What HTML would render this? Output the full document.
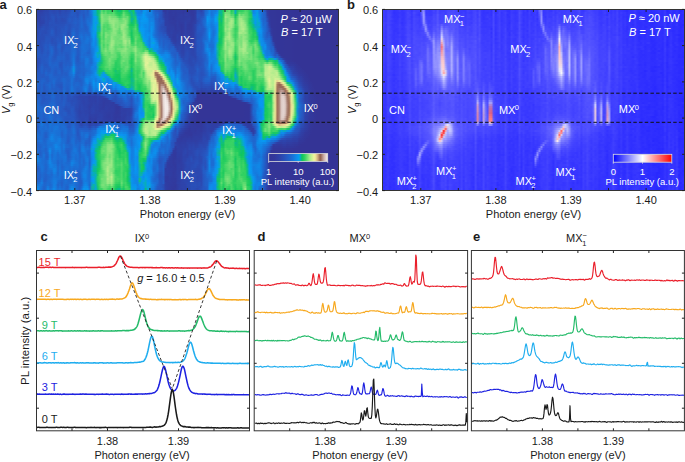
<!DOCTYPE html>
<html><head><meta charset="utf-8"><style>
html,body{margin:0;padding:0;background:#fff;}
body{width:685px;height:462px;position:relative;overflow:hidden;font-family:"Liberation Sans", sans-serif;}
.hm{position:absolute;overflow:hidden;}
.hm div{position:absolute;left:0;width:100%;}
svg{position:absolute;left:0;top:0;}

</style></head><body>
<div class="hm" style="left:37px;top:10px;width:301px;height:180px"><div style="top:0px;height:2px;background:linear-gradient(90deg,#2d43aa 1.0px,#2f3fa6,#2f40a6,#2d44ac,#2c46ae,#2d45ad,#2a4cb5,#2b4ab3,#2c48b0,#2b4bb4,#2a4cb5,#2d44ac,#2a4cb4,#2a4db6,#2c48b0,#2a4db6,#2a4eb7,#255ac3,#245cc5,#2756c0,#2852bc,#2756c0,#235dc6,#255ac3,#2064cc,#2657c1,#1a70d6,#137fe1,#08a1dc,#07a8cf,#0dc465,#1bbf8d,#62dc71,#33d163,#58da6e,#34d262,#3bd364,#29ce60,#3ad364,#26ce5f,#11c564,#0bbe7b,#17c95c,#40d566,#24cd5f,#1bca5d,#08b0b1,#0dbf79,#18ca5d,#0d91dc,#1184e5,#1184e4,#1776db,#0995ee,#0996f0,#1283e4,#1282e3,#1282e3,#1e67cf,#235dc6,#255bc4,#2755bf,#2754bd,#313a9f,#32399d,#2f3ea4,#313a9e,#313a9e,#313b9f,#313a9f,#303ca1,#313ba0,#313ba0,#32399d,#303ca2,#313a9f,#313a9e,#32389c,#313a9e,#303da3,#294fb8,#2a4bb4,#2d44ac,#2951ba,#1f66ce,#1a71d6,#1086e6,#1875d9,#1679dd,#1679dd,#1087e7,#09b59d,#09b794,#20cc5e,#5ddb70,#4fd86a,#74e077,#22cc5f,#3bd365,#08aac3,#1ac66f,#33d162,#30d062,#37d263,#50d86b,#43d567,#2bcf60,#14b99c,#1380e2,#0c90ed,#079bf2,#147ee0,#1a70d6,#2064cc,#2754bc,#313ba0,#333699,#333699,#333699,#333698,#333598,#333598,#333598,#333598,#343597,#343597,#343597,#343597,#343497,#343496,#343496,#343496,#343496,#343496,#343496,#343496,#343496,#343496,#343496,#343496,#343496,#343496,#343496,#343496,#343496,#343496,#343496,#343496,#343496,#343496,#343496 300.0px)"></div><div style="top:2px;height:2px;background:linear-gradient(90deg,#2d43aa 1.0px,#2e42a9,#2e43aa,#2c46ae,#2c48b0,#2c47af,#2a4db6,#2a4db6,#2b4ab3,#2a4bb4,#294fb8,#2c47af,#2a4eb6,#2a4db6,#2a4cb5,#294fb8,#2853bc,#245bc5,#255ac3,#2754bd,#2851ba,#2658c2,#235ec7,#255ac3,#2162ca,#245cc5,#1b6fd5,#147de0,#08a2d5,#07a9ca,#0bbf75,#23c67a,#72df77,#48d668,#68dd73,#3bd464,#4bd769,#41d566,#58da6e,#33d162,#21cc5e,#1ecb5e,#21cc5e,#65dc72,#3bd365,#2bcf61,#14c470,#09b4a0,#19ca5d,#0d9fb9,#1185e5,#1282e3,#1381e3,#089de5,#0c90ec,#1185e5,#1184e5,#1282e3,#1c6bd2,#2161ca,#2162ca,#2658c2,#2754be,#2d44ab,#313a9f,#2f3ea4,#31399e,#313a9f,#303ca1,#32399e,#303ca1,#313ba0,#313ba0,#313a9e,#303da3,#303ca2,#313ba0,#32399d,#313a9f,#303ca2,#2951ba,#294fb8,#2a4bb4,#294fb9,#1c6bd2,#1874d9,#1087e7,#1972d8,#157cdf,#1381e2,#0c8feb,#09b793,#09b59c,#2bcf61,#77e078,#74e077,#70df76,#31d162,#43d567,#08acbd,#22ca66,#55d96d,#46d668,#4dd86a,#5cdb6f,#50d86b,#27ce60,#15c373,#1086e6,#0d8deb,#07a2de,#1281e2,#1973d9,#2065cd,#235fc8,#303da3,#333699,#333699,#333699,#333698,#333598,#333598,#333598,#333598,#343597,#343597,#343597,#343597,#343497,#343496,#343496,#343496,#343496,#343496,#343496,#343496,#343496,#343496,#343496,#343496,#343496,#343496,#343496,#343496,#343496,#343496,#343496,#343496,#343496,#343496,#343496 300.0px)"></div><div style="top:4px;height:2px;background:linear-gradient(90deg,#2e42a9 1.0px,#2d44ab,#2d45ad,#2c46ae,#2b4ab3,#2c47af,#2a4cb5,#2851bb,#294eb7,#2a4db5,#2951ba,#2b4bb4,#294eb8,#294fb8,#2a4eb6,#2951ba,#2657c1,#255bc4,#2559c3,#2658c2,#294fb8,#245dc6,#2260c9,#2755bf,#2162cb,#235ec7,#1c6dd3,#1778dc,#07a4d5,#07abc4,#0aba88,#32cf6a,#8ae47f,#6cde75,#6dde75,#63dc71,#6ede75,#5fdb70,#62dc71,#48d668,#2fd061,#1fcc5e,#3bd364,#73e077,#48d669,#3ad364,#22cc5f,#09b59c,#16c27b,#0cb1a7,#0e8be9,#1087e7,#0e8cea,#069df4,#0d8eeb,#1283e4,#137fe1,#147ee0,#1972d7,#2162ca,#1d6ad1,#2558c2,#2852bc,#2e44aa,#303da2,#303da3,#313a9f,#313a9f,#313ba0,#313a9e,#313ba0,#303ca2,#303da3,#313ba0,#2f3fa5,#303ea4,#303ca2,#313a9e,#32399d,#303ea4,#2754be,#2853bc,#294eb7,#2852bc,#1d6bd1,#137fe1,#0f8ae9,#1875da,#167ade,#0c90ec,#0898f1,#0fc173,#0ab890,#28ce60,#90e681,#80e27c,#80e27c,#50d86b,#59da6e,#0ec172,#27ce60,#85e37d,#5fdb70,#74e077,#60db70,#55d96d,#29ce60,#22cd5f,#0b92ee,#0a94ef,#06a4de,#1087e6,#1874d9,#1f65cd,#2260c9,#2f3ea4,#33369a,#333699,#333699,#333698,#333598,#333598,#333598,#333598,#343597,#343597,#343597,#343597,#343497,#343496,#343496,#343496,#343496,#343496,#343496,#343496,#343496,#343496,#343496,#343496,#343496,#343496,#343496,#343496,#343496,#343496,#343496,#343496,#343496,#343496,#343496 300.0px)"></div><div style="top:6px;height:2px;background:linear-gradient(90deg,#2e42aa 1.0px,#2e43aa,#2b48b1,#2c47af,#2a4cb5,#2c48b1,#2a4cb5,#2853bd,#2853bc,#2b4bb4,#2852bb,#2950b9,#294eb7,#2851bb,#294fb8,#2853bc,#2658c2,#2657c1,#2658c2,#255ac3,#2853bc,#235fc8,#2064cc,#2755be,#2162cb,#1f65cd,#1d6bd1,#1778dc,#089bea,#059ef1,#08b1ab,#30cf65,#92e682,#72df77,#6cde75,#71df76,#8ce580,#77e078,#75e078,#72df77,#51d86b,#34d263,#4dd76a,#6cde75,#5bda6f,#68dd73,#2dd061,#0aba89,#17c17c,#1dc479,#0995ef,#0c8fec,#0b92ee,#079bf3,#0a95ef,#0f88e7,#147de0,#167add,#1777dc,#2163cb,#1f65cd,#2658c1,#2852bc,#2d44ab,#303da3,#303da3,#313a9f,#313a9f,#31399e,#313a9f,#303ca1,#303da2,#303da3,#303ca1,#303da2,#303da3,#303ea3,#313ba0,#313a9f,#303ea3,#2754be,#2852bb,#2853bc,#2559c3,#1c6dd3,#0b90ed,#0d8eeb,#157bde,#137fe1,#0899ef,#06a6d6,#14c46e,#0dbe7c,#29cf60,#a1e987,#8ee581,#87e47e,#72df77,#6ede75,#18c864,#4ad66a,#8ce580,#8ae47f,#81e27c,#6fdf76,#5ada6f,#35d164,#25cc65,#07a6cf,#069eed,#07a4d7,#0d8cea,#1874d9,#1f66ce,#2261c9,#2d45ac,#32389c,#333699,#333699,#333698,#333598,#333598,#333598,#333598,#343597,#343597,#343597,#343597,#343497,#343496,#343496,#343496,#343496,#343496,#343496,#343496,#343496,#343496,#343496,#343496,#343496,#343496,#343496,#343496,#343496,#343496,#343496,#343496,#343496,#343496,#343496 300.0px)"></div><div style="top:8px;height:2px;background:linear-gradient(90deg,#2d43ab 1.0px,#2e42aa,#2c47af,#2c46ae,#2a4db6,#2b49b1,#2a4bb4,#2951ba,#2854bd,#2b49b2,#294fb9,#294fb8,#2b4bb3,#2a4db6,#294fb8,#2656c0,#245cc5,#2658c1,#255ac3,#235ec7,#2757c0,#225fc8,#1f66ce,#2658c1,#2063cb,#1c6bd2,#1c6cd2,#157ade,#089edf,#069dee,#08afb4,#27ce60,#8be47f,#79e179,#72df77,#78e079,#97e783,#85e37d,#8de580,#85e37d,#7ae17a,#55d96d,#64dc72,#87e47e,#76e078,#66dd73,#34d163,#09b2a6,#0fbc88,#29ce60,#089be9,#0e8ae9,#0a94ef,#079cea,#0799f2,#0b91ed,#137fe1,#1381e2,#157bde,#2260c9,#2260c9,#2754be,#2853bc,#2b4ab2,#303ea4,#303ea4,#313a9f,#313a9f,#32389c,#313b9f,#303ca1,#303ca1,#303ca2,#303ca2,#2f3ea4,#303ea4,#2f3fa6,#313b9f,#313a9f,#2f3ea4,#2950b9,#2950ba,#2658c1,#2260c9,#1c6cd3,#0996f0,#0c8fec,#1283e4,#1183e4,#059ff2,#07a7d3,#14c85c,#0dbd7f,#34d163,#92e682,#78e079,#8de580,#9ee986,#8ee581,#2ed061,#56d96d,#9ce885,#a3e988,#81e27c,#6bde74,#57d96e,#27ce60,#14c46c,#07acbf,#06a3df,#07a7d2,#0b96e6,#1a71d7,#2063cb,#2163cb,#2a4db5,#32399d,#333699,#333699,#333698,#333598,#333598,#333598,#333598,#343597,#343597,#343597,#343597,#343497,#343496,#343496,#343496,#343496,#343496,#343496,#343496,#343496,#343496,#343496,#343496,#343496,#343496,#343496,#343496,#343496,#343496,#343496,#343496,#343496,#343496,#343496 300.0px)"></div><div style="top:10px;height:2px;background:linear-gradient(90deg,#2d44ac 1.0px,#2e42a9,#2d44ac,#2d44ac,#2a4cb5,#2b49b2,#294fb8,#2950b9,#2853bc,#2b49b2,#294fb8,#294fb8,#2a4bb4,#2a4cb5,#2a4eb6,#2657c0,#245cc6,#2756c0,#245cc5,#235dc7,#255bc4,#2260c9,#1f67ce,#245cc6,#2064cc,#1a71d7,#1c6cd2,#157ade,#08a0dd,#079cec,#07a8cd,#1ec966,#87e47e,#77e079,#6dde75,#68dd73,#96e783,#94e683,#99e784,#8ce580,#86e37e,#6ade74,#6cde75,#7be17a,#8be47f,#67dd73,#33d163,#0bb892,#18c66a,#29cf60,#09aab9,#0c8fec,#079af2,#0898f1,#0897f1,#0a93ee,#1281e3,#1283e4,#1380e1,#1f65cd,#235ec7,#2754be,#2657c1,#2951ba,#2f3fa5,#2f3ea4,#313ba1,#303ca1,#313ba0,#313a9f,#303da3,#313ba1,#303da2,#303da2,#2f3fa5,#303ea4,#303ea3,#313a9f,#303ca1,#2f3fa5,#2b4bb4,#2951ba,#2658c2,#1f66ce,#1c6dd3,#0a94ef,#0d8cea,#1381e3,#1283e4,#069df1,#069feb,#19ca5d,#0abd7c,#38d364,#91e682,#77e079,#8fe581,#aceb8b,#99e784,#34d262,#5cdb6f,#99e784,#a8ea89,#99e784,#77e079,#55d86e,#24cd5f,#14bd8c,#08b1ad,#079bef,#07a9cb,#079ee6,#157cde,#1f66ce,#1e67cf,#2a4eb6,#313ba0,#333699,#333699,#333698,#333598,#333598,#333598,#333598,#343597,#343597,#343597,#343597,#343497,#343496,#343496,#343496,#343496,#343496,#343496,#343496,#343496,#343496,#343496,#343496,#343496,#343496,#343496,#343496,#343496,#343496,#343496,#343496,#343496,#343496,#343496 300.0px)"></div><div style="top:12px;height:2px;background:linear-gradient(90deg,#2c48b0 1.0px,#2e42a9,#2d43ab,#2d44ac,#2a4db6,#2b49b2,#2853bc,#2950b9,#2852bb,#2a4db6,#294eb7,#294fb8,#294eb7,#294fb8,#2950b9,#2756bf,#2657c1,#2659c2,#235dc6,#2260c9,#255ac4,#2260c8,#1e68d0,#225fc8,#2163cb,#1971d7,#1972d8,#167add,#07a0e0,#0996f0,#06a6d6,#12c07a,#87e47e,#69dd74,#5bdb6f,#5edb70,#88e47e,#95e683,#99e784,#85e37d,#83e37d,#74e078,#75e078,#83e37d,#8fe581,#64dc72,#2ecf62,#0dc16f,#18c56e,#30d061,#0db1a7,#0e8cea,#0998eb,#0995ef,#0a94ef,#0b91ed,#1283e4,#0e8cea,#1184e4,#1f66ce,#235fc7,#2657c1,#2754be,#294fb8,#2f3ea4,#303ea4,#303ca2,#313ba0,#313b9f,#313ba0,#303ea4,#313ba0,#313ba1,#303ca1,#2e41a8,#303ea3,#313ca1,#313ba0,#303ea4,#2f3fa5,#294fb8,#2853bd,#2659c2,#2065cd,#1a70d5,#0d8deb,#0f89e8,#157cdf,#1283e4,#0a93ee,#0995f0,#18c95d,#0ec36a,#39d364,#82e37c,#7be17a,#a3e988,#a9eb8a,#97e784,#2dd061,#5edb70,#99e784,#b0ec8c,#a4ea88,#86e37e,#5dda70,#1dcb5d,#14c373,#08b0b0,#0898f1,#08a6cc,#07a8c9,#1184e4,#1f67ce,#1e69d0,#255ac4,#303da3,#333699,#333699,#333698,#333598,#333598,#333598,#333598,#343597,#343597,#343597,#343597,#343497,#343496,#343496,#343496,#343496,#343496,#343496,#343496,#343496,#343496,#343496,#343496,#343496,#343496,#343496,#343496,#343496,#343496,#343496,#343496,#343496,#343496,#343496 300.0px)"></div><div style="top:14px;height:2px;background:linear-gradient(90deg,#2b4ab3 1.0px,#2e43aa,#2c47af,#2b4bb4,#2b4bb4,#2b4ab3,#2851ba,#294fb8,#2851bb,#2851bb,#2951ba,#2950ba,#2851ba,#2951ba,#2756c0,#2755be,#2852bb,#2657c1,#255bc4,#245dc6,#2658c2,#2260c8,#1d6ad1,#235ec7,#225fc8,#1c6dd3,#1875da,#137fe1,#08a1da,#079af2,#08b0ae,#10b89a,#83e37d,#4dd86a,#59da6e,#47d668,#6bde74,#86e37e,#9de886,#79e179,#83e37d,#77e078,#91e682,#9ce885,#8ae47f,#55d96d,#20cc5e,#14c85c,#1bc965,#41d567,#11c271,#0e8cea,#0897f1,#0b91ed,#0d8cea,#0c8fec,#1184e5,#0f89e8,#1185e5,#1e68cf,#235ec7,#2657c0,#2950b9,#294fb8,#2f3ea4,#2f3fa5,#303da3,#303da2,#303ca1,#313a9e,#2f3ea4,#313ba0,#31399e,#313ba1,#2e41a8,#303ca1,#313a9f,#313ba0,#2f3fa6,#2c47af,#2852bb,#2559c3,#2657c1,#2063cb,#1972d7,#1087e7,#1185e6,#1679dd,#147ee0,#0e8cea,#0b92ee,#17c95c,#12c662,#3dd465,#88e47e,#87e47e,#a2e987,#a6ea89,#89e47f,#46d668,#59da6e,#99e784,#b1ec8c,#a3e988,#9ae885,#5cda70,#2ed061,#1bc475,#0abb86,#0a9cda,#08a6ca,#06a4dd,#1185e5,#1d69d0,#1c6cd3,#2658c2,#2f40a6,#333699,#333699,#333698,#333598,#333598,#333598,#333598,#343597,#343597,#343597,#343597,#343497,#343496,#343496,#343496,#343496,#343496,#343496,#343496,#343496,#343496,#343496,#343496,#343496,#343496,#343496,#343496,#343496,#343496,#343496,#343496,#343496,#343496,#343496 300.0px)"></div><div style="top:16px;height:2px;background:linear-gradient(90deg,#2b4ab3 1.0px,#2c46af,#2a4bb4,#294fb8,#2a4cb4,#2a4db6,#2950b9,#2852bb,#2851ba,#2a4eb6,#2851ba,#2852bc,#2852bc,#2853bd,#255ac4,#2756bf,#2852bb,#2658c2,#255bc4,#255bc4,#255bc4,#2260c8,#1d6ad1,#2261c9,#245cc5,#1f66ce,#1875d9,#1185e6,#08a0d9,#069bf3,#09b794,#0bb797,#79e179,#43d567,#53d96c,#4bd769,#5fdb70,#83e37d,#95e783,#7ae17a,#88e47e,#6ede75,#9be885,#94e683,#82e37c,#72df77,#28ce60,#24cd5f,#2ccf61,#4dd76b,#16c279,#0c8fec,#079af2,#0a93ee,#0e8bea,#0d8eeb,#1282e4,#0c90ec,#1185e5,#1d69d0,#235dc7,#2755be,#294eb7,#2a4cb4,#2c48b0,#2f3fa5,#303ea4,#303ea3,#303ea3,#313a9f,#303da3,#303ca1,#32399d,#313ba0,#2e41a8,#313ca1,#313ba0,#313ba0,#2f40a7,#2c46ae,#2755bf,#255bc4,#2659c3,#245dc6,#1c6cd2,#1380e2,#1086e6,#1679dd,#1678dc,#1086e6,#0a94ef,#1aca5d,#18c95e,#35d263,#92e682,#7ee27b,#9be885,#a3e988,#7fe27b,#3fd465,#48d669,#92e682,#a9eb8a,#abeb8a,#96e783,#6bde74,#36d263,#1fcb61,#09b892,#0cabb3,#08a7ca,#09a5c7,#1185e5,#1a70d6,#1d6ad1,#255ac4,#2d46ad,#333699,#333699,#333698,#333598,#333598,#333598,#333598,#343597,#343597,#343597,#343597,#343497,#343496,#343496,#343496,#343496,#343496,#343496,#343496,#343496,#343496,#343496,#343496,#343496,#343496,#343496,#343496,#343496,#343496,#343496,#343496,#343496,#343496,#343496 300.0px)"></div><div style="top:18px;height:2px;background:linear-gradient(90deg,#2a4cb4 1.0px,#2a4bb4,#2950b9,#2950b9,#2a4cb5,#294eb7,#2951ba,#2756c0,#2852bb,#2a4cb5,#2853bc,#2950b9,#2756bf,#2754be,#255bc4,#2755bf,#2852bb,#245bc5,#2261c9,#2559c3,#2559c3,#2162ca,#2064cc,#2162ca,#235ec7,#2162cb,#1776db,#1087e7,#08a3d2,#0899f2,#09b4a0,#0eb2a8,#72df77,#47d668,#61dc71,#47d668,#50d86b,#70df76,#98e784,#8de580,#7ee27b,#5cdb6f,#9ce885,#8ee581,#78e179,#61dc71,#33d162,#23cd5f,#3ed367,#5bda6f,#1dcb5e,#0899ef,#079bf3,#0898f1,#0b91ed,#0d8deb,#1283e4,#0b92ee,#1184e5,#1d6ad1,#235dc6,#2755bf,#294fb8,#2a4eb7,#2b49b2,#2f3ea4,#2f3ea5,#303ea4,#2f3fa5,#313a9f,#303da3,#303da3,#31399e,#313ba1,#2f40a7,#303ca1,#313ba0,#313ca1,#2f40a6,#2c46ae,#2756c0,#255ac4,#2559c3,#2658c2,#2063cb,#157bde,#0d8deb,#157cdf,#1778dc,#1381e2,#0996ef,#16c95d,#17c95c,#35d263,#9ee886,#8be580,#aceb8b,#8de580,#5fdb70,#2ed061,#40d467,#96e783,#abeb8b,#b4ed8d,#9ae885,#76e078,#3cd365,#29ce60,#12c567,#16b5aa,#07a7cd,#089ee1,#0e8cea,#1874d9,#1d6bd2,#235dc6,#2a4db5,#313a9e,#333699,#333698,#333598,#333598,#333598,#333598,#343597,#343597,#343597,#343597,#343497,#343496,#343496,#343496,#343496,#343496,#343496,#343496,#343496,#343496,#343496,#343496,#343496,#343496,#343496,#343496,#343496,#343496,#343496,#343496,#343496,#343496,#343496 300.0px)"></div><div style="top:20px;height:2px;background:linear-gradient(90deg,#2b4ab2 1.0px,#294fb8,#2a4eb7,#2a4db6,#2a4cb5,#2851ba,#2852bb,#245cc5,#2755bf,#2a4cb5,#2852bb,#2950b9,#2755bf,#2755bf,#2658c2,#2852bb,#2851bb,#225fc8,#2065cd,#245bc5,#255ac4,#2063cb,#1f65cd,#1f65cd,#2161ca,#2063cc,#1875da,#0f88e8,#0a96e9,#079af2,#0ab890,#13bc8e,#73e077,#46d668,#5bdb6f,#57da6d,#66dd72,#71df76,#92e682,#83e37d,#6ede75,#5ddb6f,#84e37d,#96e783,#85e37d,#63dc72,#40d466,#17c66b,#3bd266,#4cd769,#2dcf61,#08a5cf,#069cef,#0799f2,#0d8deb,#0e8bea,#1380e1,#0a93ef,#1380e2,#1d6bd2,#2260c8,#2756c0,#2852bc,#294fb8,#2b49b1,#2f3fa5,#2f3ea4,#2f40a6,#2f3ea4,#303ca2,#303da2,#303ea3,#32399d,#313ba0,#2e40a7,#303da3,#303da2,#303ca2,#2f40a7,#2c47af,#2756c0,#2657c1,#2756c0,#2658c2,#2064cc,#157bde,#0c90ec,#137fe1,#1972d8,#147de0,#0897ef,#15c95c,#18ca5d,#36d263,#91e682,#83e37d,#9ee986,#7ee27b,#5fdb70,#37d264,#45d668,#99e784,#9ce885,#a9eb8a,#8ce580,#72df77,#3ed465,#38d264,#1bc963,#1ec672,#07a7d2,#0898f1,#0a93ef,#1678dc,#1c6bd2,#245dc6,#2b4bb3,#313a9f,#333699,#333698,#333598,#333598,#333598,#333598,#343597,#343597,#343597,#343597,#343497,#343496,#343496,#343496,#343496,#343496,#343496,#343496,#343496,#343496,#343496,#343496,#343496,#343496,#343496,#343496,#343496,#343496,#343496,#343496,#343496,#343496,#343496 300.0px)"></div><div style="top:22px;height:2px;background:linear-gradient(90deg,#2c47b0 1.0px,#2851bb,#2a4db6,#2a4db6,#2a4bb4,#2950b9,#2853bd,#245dc6,#2755be,#2a4db6,#2852bc,#2852bb,#2754be,#2658c1,#255ac3,#294eb7,#294fb8,#2065cc,#1c6cd2,#235dc7,#245bc5,#1e68cf,#1e69d0,#2065cd,#1e68d0,#2064cc,#1c6dd3,#0e8ae9,#099ae7,#0a94ef,#0cc071,#23ca69,#7ae179,#42d566,#7ee27b,#62dc71,#65dc72,#82e37c,#8ee581,#8ee581,#67dd73,#56d96d,#76e078,#9fe986,#81e27c,#69dd74,#37d263,#12c661,#39d264,#46d668,#37d264,#12bd86,#079fe5,#0899f2,#0d8eeb,#0c8fec,#1088e7,#0b91ed,#157cdf,#1c6cd2,#2161ca,#255ac3,#2658c2,#2951ba,#2950b9,#2e41a7,#2f3fa6,#2e41a8,#303ea4,#303da2,#2f3ea4,#2f3fa5,#313a9e,#303ca2,#2f40a7,#303ea3,#303da3,#303da3,#2f3fa5,#2c49b1,#2755be,#2754be,#2755bf,#255bc4,#1f67ce,#167add,#0799f2,#147de0,#1a71d6,#147ddf,#099ae6,#1dcb5d,#14c85c,#2dd061,#7de27b,#90e681,#afeb8b,#83e37d,#65dc72,#39d364,#53d86c,#a7ea89,#a6ea89,#99e784,#9be885,#7ce17a,#3ed466,#3fd466,#22cc5f,#27ce60,#08b1ac,#0b92ee,#0a93ef,#1973d8,#1d6ad1,#2756bf,#2657c1,#313ba0,#333699,#333698,#333598,#333598,#333598,#333598,#343597,#343597,#343597,#343597,#343497,#343496,#343496,#343496,#343496,#343496,#343496,#343496,#343496,#343496,#343496,#343496,#343496,#343496,#343496,#343496,#343496,#343496,#343496,#343496,#343496,#343496,#343496 300.0px)"></div><div style="top:24px;height:2px;background:linear-gradient(90deg,#2b4ab3 1.0px,#2950b9,#2a4cb5,#294fb8,#2950b9,#2951ba,#2754bd,#2558c2,#2756bf,#294fb8,#2852bb,#2754be,#2755be,#245dc6,#2559c3,#2a4eb7,#294fb8,#2064cc,#1b6dd4,#235ec7,#245cc5,#1c6cd3,#1b6ed5,#1f66ce,#1b6dd4,#1d6ad1,#1d69d0,#0e8ae8,#0898f1,#0d8eeb,#0dbd81,#33d163,#73df77,#3cd464,#81e37c,#77e078,#6bde74,#86e37e,#88e47f,#83e37d,#6ede75,#6cde75,#6bde74,#a2e988,#8de580,#60db70,#3cd465,#13c663,#3bd366,#4cd76a,#41d566,#23cd5f,#07a8cd,#0897f1,#0d8eeb,#0a94ef,#0e8cea,#0b91ed,#1678dc,#1d6ad1,#2162ca,#245cc5,#245cc6,#2755bf,#2559c3,#2c46ae,#2f3fa5,#2f40a6,#303da3,#303da3,#2e41a8,#2f3fa5,#313a9e,#2f3ea5,#2e41a9,#2f40a6,#303ea4,#303da3,#2f3fa6,#2a4bb4,#2852bb,#2754be,#2754be,#235ec7,#1e68cf,#1679dc,#0899f2,#157bde,#1a70d6,#1381e3,#099eda,#20cc5e,#12c85c,#2ed061,#7de27b,#8de580,#b2ec8d,#85e37d,#57da6d,#31d162,#4fd76c,#95e683,#88e47e,#93e682,#80e27c,#74e077,#4ed86a,#39d264,#20cc5e,#31d162,#0ab69c,#0e8be9,#0c8fec,#1874d9,#1f67ce,#2559c2,#245cc6,#2f40a7,#333699,#333698,#333598,#333598,#333598,#333598,#343597,#343597,#343597,#343597,#343497,#343496,#343496,#343496,#343496,#343496,#343496,#343496,#343496,#343496,#343496,#343496,#343496,#343496,#343496,#343496,#343496,#343496,#343496,#343496,#343496,#343496,#343496 300.0px)"></div><div style="top:26px;height:2px;background:linear-gradient(90deg,#2a4db6 1.0px,#294eb7,#2a4db6,#2a4db6,#2754bd,#2854bd,#2853bd,#2852bc,#2853bd,#2852bb,#2755be,#2853bd,#2755bf,#2260c9,#245bc4,#294eb7,#2755be,#2065cd,#1c6bd2,#245bc5,#245cc5,#1c6cd2,#1974d9,#1e68cf,#1a70d6,#1972d7,#1b6ed4,#1184e4,#0799f2,#0f89e8,#0ebc88,#27ce60,#67dd73,#3dd465,#88e47e,#67dd73,#66dd73,#92e682,#7ee27b,#72df77,#75e078,#6dde75,#7fe27b,#a5ea89,#8be47f,#71df77,#5ddb70,#11c75e,#35d164,#5edb70,#49d768,#35d263,#08b0af,#079af2,#0b92ee,#0b91ed,#1185e6,#0996f0,#1380e2,#1b6ed4,#1f66ce,#235fc8,#225fc8,#255ac4,#2657c1,#2657c0,#2e41a8,#2f3fa6,#303ca2,#303da2,#2d43ab,#2f3ea5,#303ca2,#2f40a6,#2e42aa,#2f3fa6,#303ca1,#303ea4,#2f40a7,#2c48b0,#2852bc,#2853bc,#2657c1,#2261c9,#1e69d0,#1875da,#0898f1,#1679dd,#1973d8,#1088e7,#099fd9,#1aca5d,#12c85b,#39d364,#8fe581,#a1e987,#b3ec8d,#8de580,#5fdb70,#37d263,#50d86c,#8fe581,#7ae17a,#98e784,#91e682,#78e179,#4cd769,#32d162,#22cc5f,#29ce60,#10c469,#0e8cea,#0d8dea,#1776da,#2065cd,#245bc5,#2261c9,#294fb6,#333699,#333698,#333598,#333598,#333598,#333598,#343597,#343597,#343597,#343597,#343497,#343496,#343496,#343496,#343496,#343496,#343496,#343496,#343496,#343496,#343496,#343496,#343496,#343496,#343496,#343496,#343496,#343496,#343496,#343496,#343496,#343496,#343496 300.0px)"></div><div style="top:28px;height:2px;background:linear-gradient(90deg,#294fb8 1.0px,#2a4db6,#2a4db6,#2a4db6,#2755be,#2755bf,#2755be,#294fb8,#2851ba,#2853bc,#2658c2,#2754bd,#2755be,#2063cb,#2559c2,#2853bc,#235dc6,#1f66ce,#1f66ce,#245dc6,#2559c3,#2064cc,#1973d8,#1e69d0,#1a70d6,#1778dc,#1a6fd5,#157bde,#0996f0,#1185e6,#0bafaf,#1ccb5d,#61dc71,#41d566,#73df77,#66dd73,#66dd73,#95e783,#7fe27b,#75e078,#6bde74,#76e078,#82e37c,#9ae885,#94e682,#80e27c,#7ae17a,#17c768,#2ccf61,#6dde75,#41d566,#34d262,#18c17f,#069cf0,#0999e8,#0b92ee,#1281e3,#089be9,#0b92ee,#157bde,#1c6cd2,#2162ca,#2163cb,#225fc8,#245dc6,#2559c3,#2951ba,#2f40a7,#303da3,#303da3,#2e41a9,#2f3fa6,#303ea3,#2f3fa6,#2d43ab,#2f3ea4,#313ba1,#2f40a6,#2e40a7,#2b49b1,#2754be,#2755bf,#2559c2,#1f65cd,#1e68cf,#1974d9,#0d8eeb,#1874d9,#1777db,#0f88e8,#099fd8,#0ec560,#12c662,#46d668,#9ee986,#96e783,#aeec8b,#90e681,#76e078,#3dd465,#5bdb6f,#84e37d,#7fe27b,#97e784,#89e47f,#71df76,#50d86b,#35d164,#28ce60,#38d264,#16c85e,#0a93ee,#0c8fec,#137fe1,#1d69d0,#2163cb,#1e67cf,#2754bd,#32379b,#333698,#333598,#333598,#333598,#333598,#343597,#343597,#343597,#343597,#343497,#343496,#343496,#343496,#343496,#343496,#343496,#343496,#343496,#343496,#343496,#343496,#343496,#343496,#343496,#343496,#343496,#343496,#343496,#343496,#343496,#343496,#343496 300.0px)"></div><div style="top:30px;height:2px;background:linear-gradient(90deg,#294fb8 1.0px,#2a4cb5,#2950b9,#294fb8,#2657c0,#2755bf,#2755bf,#2a4db6,#2852bb,#2852bb,#2658c2,#2755be,#2755bf,#2162cb,#255ac4,#2853bd,#1f66ce,#1d6ad1,#2162cb,#2162ca,#245dc6,#235ec7,#1b6ed4,#1c6cd2,#1973d8,#1874d9,#1b6dd4,#157bde,#0c90ed,#1185e5,#0ba4bf,#18c95e,#70df76,#4ed86a,#79e179,#5fdb70,#6edf76,#9de886,#96e783,#70df76,#74e078,#6cde75,#6bde74,#a0e987,#a7ea89,#82e37c,#94e683,#1ecb5e,#2dd061,#65dc72,#3ad364,#3bd365,#2ccf62,#06a1e7,#079af2,#0d8dea,#1380e2,#089aec,#079af3,#0f89e8,#1874d9,#2161ca,#1f67ce,#245dc6,#2161ca,#235dc6,#255bc4,#2d45ad,#2f40a6,#303da3,#2e42a9,#2e41a9,#2f40a7,#2f3fa5,#2e42aa,#303ea4,#303da2,#2e40a7,#2e41a8,#2b49b2,#2658c1,#2558c1,#2558c1,#1e68cf,#1973d8,#1875da,#1184e5,#1a70d6,#167add,#1087e7,#079dea,#0ec562,#16c668,#45d668,#92e682,#82e37c,#9ce886,#93e682,#7be17a,#41d566,#6cde75,#84e37d,#78e179,#9de886,#93e682,#84e37d,#3ed465,#2ccf61,#30d162,#4ad769,#33d163,#08a3d1,#0d8eeb,#0f88e7,#1a71d7,#1d6ad1,#1e68d0,#245bc4,#31399e,#333698,#333598,#333598,#333598,#333598,#343597,#343597,#343597,#343597,#343497,#343496,#343496,#343496,#343496,#343496,#343496,#343496,#343496,#343496,#343496,#343496,#343496,#343496,#343496,#343496,#343496,#343496,#343496,#343496,#343496,#343496,#343496 300.0px)"></div><div style="top:32px;height:2px;background:linear-gradient(90deg,#2950b9 1.0px,#2a4cb5,#2851ba,#2852bb,#2657c1,#2754be,#2659c2,#294fb8,#2852bb,#294fb8,#2559c3,#255ac4,#2755bf,#245bc5,#2559c3,#2755bf,#2064cc,#1c6cd3,#2163cb,#2260c9,#235fc7,#255ac3,#1c6cd3,#1b6ed4,#1972d7,#1972d8,#1e69d0,#1381e2,#0c8fec,#1183e4,#09a7bd,#19c767,#65dd72,#4dd76a,#70df76,#66dd73,#78e179,#a1e987,#96e783,#70df76,#76e078,#75e078,#6fdf76,#98e784,#a6e988,#76e078,#94e683,#2dcf61,#3ad364,#77e078,#3fd465,#48d668,#44d567,#17c082,#079deb,#0b91ed,#1283e4,#079fe8,#06a4dc,#0b91ed,#137fe1,#2064cc,#1d69d0,#235ec7,#2161ca,#2260c9,#235ec7,#2951ba,#2e42a9,#2f40a6,#2d43ab,#2e42a9,#2e42a9,#2e41a8,#2d45ad,#2e41a7,#2f3fa5,#2e41a8,#2e42aa,#2b49b2,#2656c0,#2657c1,#2756bf,#2063cb,#1778dc,#157cdf,#1778dc,#1a71d7,#1776da,#0f88e7,#08abbf,#0dc561,#17c56d,#46d668,#a8ea8a,#7ce17a,#90e681,#9be885,#94e683,#53d96c,#65dd72,#89e47f,#77e079,#a7ea89,#a2e988,#7de27b,#59da6e,#3cd365,#44d667,#64dc72,#4bd769,#10b1aa,#0c8fec,#0d8dea,#147ddf,#1c6cd3,#1e68cf,#245cc5,#2c49b0,#333698,#333598,#333598,#333598,#333598,#343597,#343597,#343597,#343597,#343497,#343496,#343496,#343496,#343496,#343496,#343496,#343496,#343496,#343496,#343496,#343496,#343496,#343496,#343496,#343496,#343496,#343496,#343496,#343496,#343496,#343496,#343496 300.0px)"></div><div style="top:34px;height:2px;background:linear-gradient(90deg,#2852bc 1.0px,#294eb7,#2950b9,#2755bf,#255ac4,#2657c1,#235ec7,#2756c0,#2755be,#294fb8,#245dc6,#2260c8,#2756bf,#2754be,#2658c2,#2755bf,#235fc7,#1c6cd3,#1f66ce,#2161ca,#245dc6,#225fc8,#1a6fd5,#1b6fd5,#1c6dd3,#1c6dd3,#1f67ce,#1283e4,#0c8eec,#1283e4,#09a4c7,#19c477,#70df76,#3bd364,#6dde75,#4dd86a,#7fe27b,#a6ea89,#8de580,#67dd73,#74e078,#5ddb6f,#69dd74,#8ae47f,#96e683,#78e179,#7fe27b,#47d668,#46d668,#68dd73,#42d567,#4cd76a,#48d668,#2ed061,#07abc3,#0c90ec,#1380e2,#069df3,#079bf1,#0d8eeb,#0f89e8,#1f67ce,#1d6bd2,#235ec7,#2064cc,#2162ca,#245cc5,#2559c2,#294fb8,#2e42aa,#2d45ad,#2d44ab,#2e43aa,#2e42aa,#2c48b0,#2d43ab,#2e41a8,#2d43ab,#2d44ac,#2b4ab3,#2754be,#2658c2,#2657c0,#235ec7,#1876da,#1184e5,#1a70d6,#1b6fd5,#1a71d7,#0f8ae8,#0bb798,#10c75b,#1eca63,#51d86b,#a2e987,#77e078,#88e47e,#9fe986,#99e885,#4dd86a,#65dd72,#8ee580,#7ae179,#abeb8b,#a8ea89,#87e47e,#5edb70,#56d96d,#55d96d,#7de17a,#4fd86b,#1cc477,#0b92ee,#0f8ae9,#0d8eeb,#1b6fd5,#1e67cf,#2261c9,#294eb5,#32389c,#333598,#333598,#333598,#333598,#343597,#343597,#343597,#343597,#343497,#343496,#343496,#343496,#343496,#343496,#343496,#343496,#343496,#343496,#343496,#343496,#343496,#343496,#343496,#343496,#343496,#343496,#343496,#343496,#343496,#343496,#343496 300.0px)"></div><div style="top:36px;height:2px;background:linear-gradient(90deg,#2754be 1.0px,#2950b9,#294eb8,#2656c0,#245dc6,#2755bf,#2161ca,#2260c9,#2659c2,#2851ba,#2260c9,#2161ca,#2851bb,#2755bf,#245cc5,#245cc5,#245cc5,#1c6bd2,#1e68cf,#2163cb,#245bc5,#2064cc,#1a70d6,#1a70d6,#1b6ed4,#1c6cd3,#1e69d0,#147de0,#1088e7,#0f8ae9,#08a2d6,#10bc89,#6dde75,#45d667,#6ede75,#5ada6f,#86e47e,#9ae885,#7ce17a,#5ddb6f,#67dd73,#67dd73,#5ada6f,#75e078,#8ce580,#67dd73,#76e078,#63dc71,#68dd73,#8be47f,#4fd86b,#48d668,#50d86b,#38d363,#27c973,#08a4d0,#1185e5,#0799f2,#0996f0,#0c8fec,#0b91ed,#1a71d6,#1d6bd2,#2161ca,#1e68cf,#2162ca,#245dc6,#245dc6,#225fc8,#2b49b1,#2c46ae,#2c48b0,#2d44ab,#2e41a9,#2b4bb3,#2c46ae,#2e43aa,#2d44ac,#2c46af,#2b48b1,#2754be,#2658c1,#2755be,#235ec7,#1778db,#1185e6,#1874d9,#1b6fd5,#1b6fd5,#0e8ce9,#10b994,#18c95c,#29ce60,#5ada6e,#9be885,#85e37e,#97e784,#94e682,#90e681,#40d466,#59da6e,#99e784,#81e27c,#a6ea89,#abeb8b,#7fe27b,#65dd72,#74e077,#46d667,#7de17a,#5fdb70,#33d163,#0aa5bd,#1087e7,#0995ef,#1973d8,#1c6cd2,#2260c9,#235fc8,#313a9f,#333598,#333598,#333598,#333598,#343597,#343597,#343597,#343597,#343497,#343496,#343496,#343496,#343496,#343496,#343496,#343496,#343496,#343496,#343496,#343496,#343496,#343496,#343496,#343496,#343496,#343496,#343496,#343496,#343496,#343496,#343496 300.0px)"></div><div style="top:38px;height:2px;background:linear-gradient(90deg,#2658c1 1.0px,#2754be,#2a4eb7,#2755bf,#255bc4,#2658c1,#2260c9,#1f66cd,#2559c2,#2951ba,#235dc6,#235ec7,#2852bb,#2657c1,#235dc7,#245dc6,#245dc6,#1d69d0,#1d6ad1,#1f65cd,#2559c3,#2064cc,#1b6ed4,#1a71d6,#1b6dd4,#1c6cd2,#1f66ce,#157ade,#1381e2,#0d8eeb,#079ee7,#0fb994,#66dd73,#55d96d,#7fe27b,#5ada6e,#89e47f,#8ee580,#82e37c,#5edb70,#78e079,#7ae17a,#79e179,#84e37d,#96e783,#7ae179,#68dd73,#61dc71,#7ce17a,#95e783,#62dc71,#57da6d,#54d96c,#40d565,#41d467,#19c571,#08a4d2,#08b0ad,#0b91ed,#0c8eeb,#0e8be9,#167add,#1a71d7,#1e67cf,#1d69d0,#1f66ce,#225fc8,#2162cb,#2161ca,#2755be,#2c47af,#2b49b1,#2d44ac,#2e43aa,#2b49b1,#2b49b1,#2c46ae,#2d45ad,#2d45ad,#2b49b1,#2657c0,#2756c0,#2756bf,#235ec7,#157bde,#0d8dea,#1283e4,#1972d7,#1874d9,#0d8deb,#15b7a4,#17c95c,#32d162,#60db70,#9ae885,#83e37d,#a1e987,#9be885,#88e47e,#3fd566,#56d96d,#9ce885,#9ce885,#b0ec8c,#a5ea89,#7ee27b,#77e079,#7ae179,#3ed466,#73e077,#70df76,#3fd466,#0eb0a6,#1087e7,#0d8eeb,#1875da,#1c6dd3,#2260c8,#1f65cd,#2d44ab,#333598,#333598,#333598,#333598,#343597,#343597,#343597,#343597,#343497,#343496,#343496,#343496,#343496,#343496,#343496,#343496,#343496,#343496,#343496,#343496,#343496,#343496,#343496,#343496,#343496,#343496,#343496,#343496,#343496,#343496,#343496 300.0px)"></div><div style="top:40px;height:2px;background:linear-gradient(90deg,#255ac3 1.0px,#2657c1,#294eb7,#2657c1,#245cc5,#2755bf,#225fc8,#1d69d0,#245bc5,#2852bb,#255bc4,#235ec7,#2853bd,#235dc6,#235fc8,#235ec7,#235ec7,#1f67ce,#1d6bd2,#1f66ce,#2659c3,#2261c9,#1c6dd3,#1b6ed4,#1b6fd5,#1e67cf,#2064cc,#1777db,#1380e2,#0a93ed,#069feb,#0ab698,#61dc71,#63dc71,#88e47e,#67dd73,#76e078,#89e47f,#78e079,#62dc71,#65dd72,#70df76,#85e37d,#8de580,#8ce580,#71df77,#6cde75,#5edb70,#74e077,#9ae885,#68dd73,#5fdb70,#54d96c,#43d667,#71df77,#5fdb70,#0cc26c,#14c178,#08aeb5,#089aea,#1185e5,#157bde,#1874d9,#1b6ed4,#1776db,#1a71d6,#1e68cf,#2163cb,#2260c9,#245cc5,#2a4db6,#2b4ab3,#2d43aa,#2e42aa,#2c48b1,#2b4bb4,#2c48b0,#2d45ae,#2d44ac,#2b49b2,#2756c0,#2755bf,#2658c2,#2260c9,#1777db,#1087e6,#1086e6,#1777db,#147ddf,#0c90ec,#0fb2a8,#1ecb5e,#39d365,#50d86b,#84e37d,#81e27c,#aeeb8b,#a1e987,#84e37d,#39d364,#56d96d,#94e683,#94e683,#a8ea89,#a5ea89,#7ce17a,#74e077,#73df77,#36d263,#6bde74,#69dd73,#48d668,#1ec08b,#0c90ed,#1282e4,#1679dd,#1679dd,#2063cb,#1f66cd,#2a4eb6,#33379a,#333598,#333598,#333598,#343597,#343597,#343597,#343597,#343497,#343496,#343496,#343496,#343496,#343496,#343496,#343496,#343496,#343496,#343496,#343496,#343496,#343496,#343496,#343496,#343496,#343496,#343496,#343496,#343496,#343496,#343496 300.0px)"></div><div style="top:42px;height:2px;background:linear-gradient(90deg,#255bc4 1.0px,#2657c0,#2851bb,#2659c2,#255ac3,#2754be,#235fc7,#1e68d0,#255ac4,#2754be,#2659c3,#2260c8,#2658c1,#225fc8,#255ac4,#245cc5,#235ec7,#1e68d0,#1a6fd5,#1f66ce,#255ac4,#2260c8,#1b6fd5,#1c6dd3,#1d6bd2,#2161ca,#2064cc,#1874d9,#1380e2,#079ce9,#08aeb6,#08afb5,#49d769,#63dc71,#71df76,#67dd73,#5ada6e,#85e37d,#72df77,#5edb70,#4ad769,#4fd86b,#81e27c,#7ce17a,#81e27c,#75e078,#62dc71,#40d566,#54d96d,#89e47f,#61dc71,#70df76,#66dd72,#7fe27b,#a9ea8a,#94e683,#38d264,#2ed061,#1ac867,#0ab59a,#0a93ef,#157cdf,#1678dc,#1777dc,#1283e4,#147ee0,#1973d8,#2161ca,#225fc8,#245dc6,#235ec7,#2b4ab3,#2d44ac,#2e43aa,#2b4ab2,#2a4db6,#2b48b1,#2d45ad,#2d45ad,#2c48b0,#2754be,#2755bf,#2657c1,#2161ca,#1b6fd5,#147ee1,#0c8fec,#157bde,#147ee0,#0c8fec,#0bb0a7,#1ccb5d,#42d567,#4ad769,#84e37d,#7fe27b,#aaeb8a,#9be885,#78e079,#27ce60,#57d96e,#8ee580,#84e37d,#a1e987,#92e682,#97e783,#6fdf76,#71df77,#37d263,#67dd73,#58da6e,#43d566,#27ce60,#06a1e6,#1183e4,#157ade,#157cdf,#1c6dd3,#1f66ce,#2852bb,#2c47ae,#333598,#333598,#333598,#343597,#343597,#343597,#343597,#343497,#343496,#343496,#343496,#343496,#343496,#343496,#343496,#343496,#343496,#343496,#343496,#343496,#343496,#343496,#343496,#343496,#343496,#343496,#343496,#343496,#343496,#343496 300.0px)"></div><div style="top:44px;height:2px;background:linear-gradient(90deg,#245bc5 1.0px,#2659c2,#2756bf,#245bc5,#255ac4,#2756c0,#2162ca,#2064cc,#2559c2,#2755bf,#245cc5,#235fc8,#245cc5,#2260c9,#2559c3,#2658c2,#225fc8,#1d69d0,#1972d7,#1f65cd,#2559c3,#235fc8,#1b6fd5,#1e69d0,#1d6bd2,#1e68cf,#1e69d0,#1a71d6,#1283e4,#06a0ea,#07acc0,#06a4dd,#32d162,#52d96c,#6dde75,#64dc72,#5fdb70,#6dde75,#69dd73,#67dd73,#44d567,#3dd465,#76e078,#70df76,#79e179,#6dde75,#57d96d,#31d162,#3fd466,#8de580,#6cde75,#6fdf76,#82e37c,#abea8a,#ccef94,#c1ee91,#87e47e,#65dd72,#43d567,#16c669,#08afb1,#0996f0,#1184e4,#1086e6,#0f8ae9,#0e8ae9,#1380e1,#1e69d0,#235fc8,#245cc5,#1f65cd,#2851ba,#2c46ae,#2d44ac,#2b4bb3,#2a4db6,#2b49b1,#2c46af,#2d45ad,#2c47b0,#2854bd,#2754be,#2657c1,#235ec7,#2063cb,#1776db,#0c8fec,#157ddf,#1184e5,#0f89e8,#0fb3a2,#16c95c,#3ed466,#4bd769,#8fe581,#74e077,#9be885,#97e784,#67dd73,#1ac865,#45d568,#89e47f,#7de27b,#90e681,#87e47e,#78e079,#63dc72,#77e079,#4cd76a,#68dd73,#57da6e,#3dd465,#30d061,#0cb796,#1185e4,#157cdf,#147ee1,#1776db,#1f67ce,#2853bd,#235ec7,#2f40a5,#333598,#333598,#343597,#343597,#343597,#343597,#343497,#343496,#343496,#343496,#343496,#343496,#343496,#343496,#343496,#343496,#343496,#343496,#343496,#343496,#343496,#343496,#343496,#343496,#343496,#343496,#343496,#343496,#343496 300.0px)"></div><div style="top:46px;height:2px;background:linear-gradient(90deg,#2657c1 1.0px,#2657c1,#2658c2,#2559c3,#2658c2,#2659c3,#1f66ce,#235fc8,#2657c0,#2657c0,#2163cb,#2261c9,#235ec7,#2163cb,#255ac3,#2658c2,#235fc8,#1d69d0,#1874d9,#2260c9,#2657c1,#2162ca,#1972d7,#1d6bd2,#1a71d6,#1b6ed4,#1d6bd1,#1a70d6,#0f89e8,#0995f0,#07acc0,#079fe3,#25c972,#41d566,#54d96c,#63dc71,#63dc71,#76e078,#6ade74,#60dc71,#47d668,#37d263,#5edb70,#7ae179,#6fdf76,#6fdf76,#46d668,#2bcf60,#3dd366,#7fe27b,#60dc71,#6ade74,#8fe581,#bdee90,#e6f39b,#d6f196,#c7ef92,#a9ea8a,#86e37e,#38d265,#0ec26d,#06a2e0,#0995ef,#0e8be9,#0f89e8,#0e8bea,#1282e3,#1b6fd5,#2064cc,#245dc6,#1e68cf,#255ac4,#2c47b0,#2c48b0,#2a4cb5,#2a4db6,#2b49b1,#2b49b1,#2c48b0,#2d45ad,#2950b9,#2854bd,#2756bf,#245dc6,#2162ca,#1972d8,#1087e7,#147fe1,#1281e3,#1086e6,#10b2a7,#24cd5f,#37d263,#4bd769,#8de580,#6ade74,#8ce580,#8be47f,#53d96c,#0fc468,#35d164,#82e37c,#75e078,#84e37d,#83e37d,#7de27b,#65dd72,#7be17a,#55d96d,#61dc71,#4cd76a,#34d163,#33d162,#1cc76b,#0b93e8,#1283e4,#0c8fec,#0e8ae8,#1678db,#2161ca,#1f65cd,#2657c0,#303da2,#333698,#343597,#343597,#343597,#343597,#343497,#343496,#343496,#343496,#343496,#343496,#343496,#343496,#343496,#343496,#343496,#343496,#343496,#343496,#343496,#343496,#343496,#343496,#343496,#343496,#343496,#343496,#343496 300.0px)"></div><div style="top:48px;height:2px;background:linear-gradient(90deg,#2851bb 1.0px,#2853bd,#2559c3,#2559c2,#255bc4,#245cc6,#2064cc,#235ec7,#2659c2,#255ac3,#2163cb,#2162ca,#225fc8,#2261c9,#245bc4,#2658c2,#235ec7,#1d6ad1,#1777db,#225fc8,#2657c1,#2260c8,#1c6cd2,#1d69d0,#1777db,#1679dc,#1d6ad1,#1c6bd2,#1185e5,#0b91ed,#079af2,#06a2e5,#1fc76f,#3ad364,#55d96d,#5bda6f,#7be17a,#65dd72,#5ddb70,#57da6d,#31d062,#37d363,#5edb70,#69dd74,#67dd73,#64dc72,#45d667,#1aca5d,#35d263,#84e37d,#51d86c,#60db70,#8ae47f,#b9ec8e,#e4f29a,#def299,#e0f299,#c5ef92,#b5ec8d,#6bde74,#22cd5f,#07a9cb,#07a6d1,#0b92ee,#0f89e8,#1185e5,#1380e1,#1876da,#1c6dd3,#2261c9,#1d6ad1,#2260c9,#2754bd,#2b49b2,#294fb8,#2a4db6,#2c47b0,#2b49b1,#2b4ab3,#2c48b0,#294fb9,#2853bd,#2754be,#255ac3,#2261c9,#1b6ed4,#1087e7,#1381e3,#1185e6,#1283e4,#0ea7ae,#2bcf60,#35d262,#3dd465,#8be580,#58da6e,#7ae17a,#80e27c,#57da6d,#11c661,#30d062,#84e37d,#75e078,#70df76,#7ee27b,#71df76,#72df77,#78e179,#5bda6f,#6ade74,#61dc71,#3fd465,#44d667,#37d264,#0db59a,#079fe4,#09b598,#0bb69b,#08aeb4,#0a93ef,#1192bb,#235dc6,#245cc6,#2e42a7,#33379a,#333598,#333598,#343597,#343497,#343496,#343496,#343496,#343496,#343496,#343496,#343496,#343496,#343496,#343496,#343496,#343496,#343496,#343496,#343496,#343496,#343496,#343496,#343496,#343496,#343496,#343496 300.0px)"></div><div style="top:50px;height:2px;background:linear-gradient(90deg,#2a4cb5 1.0px,#2852bc,#2559c3,#2657c1,#255ac4,#245cc5,#1f65cd,#235dc6,#245cc5,#235ec7,#2162ca,#235fc8,#255ac4,#2260c9,#245bc5,#245bc5,#235fc8,#1d69d0,#167add,#2260c9,#2658c2,#2261c9,#1e69d0,#1f65cd,#1777db,#167add,#1c6cd2,#1c6bd2,#1283e4,#0c8fec,#069cf4,#09aeb3,#17c084,#32d162,#4ad769,#5fdb70,#7de27b,#5fdb70,#52d96c,#35d263,#2ed061,#3ad365,#67dd73,#76e078,#5fdb70,#61dc71,#35d263,#1dcb5d,#3cd366,#89e47f,#57da6d,#5edb70,#79e179,#b5ec8d,#def298,#dbf198,#d4f096,#cff095,#c4ee92,#97e784,#3ed466,#0fb994,#09b795,#07a0e6,#1186e6,#1088e7,#1184e4,#157ade,#1c6cd3,#2260c8,#1e68cf,#1f66cd,#255ac3,#294eb8,#2a4db6,#2a4cb5,#2c48b0,#2b49b1,#2a4eb7,#2b4ab2,#294fb9,#2852bb,#2853bc,#2658c2,#2163cb,#1d6ad1,#1086e6,#1087e7,#1282e3,#1186e6,#0c94e2,#2bcf60,#40d566,#38d363,#85e37d,#5ddb6f,#6dde75,#5fdb70,#5ada6f,#19ca5d,#43d568,#8ce580,#6fdf76,#70df76,#6dde75,#64dc72,#54d96d,#65dd72,#59da6e,#63dc72,#67dd73,#50d86b,#4ed86a,#53d96c,#37d264,#11c079,#35d263,#3bd365,#23cd5f,#0fc172,#12c46b,#0d8dea,#1d6cd2,#2162ca,#2f3fa4,#33379a,#333699,#333699,#343597,#343496,#343496,#343496,#343496,#343496,#343496,#343496,#343496,#343496,#343496,#343496,#343496,#343496,#343496,#343496,#343496,#343496,#343496,#343496,#343496,#343496,#343496 300.0px)"></div><div style="top:52px;height:2px;background:linear-gradient(90deg,#2b4bb4 1.0px,#2852bb,#255ac4,#2658c1,#2658c2,#245bc5,#1f67ce,#2260c9,#225fc8,#2063cb,#2161ca,#2657c1,#2755be,#2260c9,#245cc5,#225fc8,#245cc6,#1f67ce,#137fe1,#2161ca,#245dc6,#235fc8,#2064cc,#2063cb,#167add,#1777db,#1d6bd1,#1d6ad1,#1380e2,#1087e6,#07a9ca,#0cb98d,#14c372,#36d263,#47d668,#5fdb70,#6fdf76,#61dc71,#5bda6f,#25cd5f,#30d162,#39d365,#6ade74,#55d96d,#58da6e,#63dc71,#31d162,#18ca5d,#37d264,#6ade74,#51d86b,#55d96d,#7ce17a,#a2e987,#def299,#e5f29a,#c7ef92,#c4ee92,#d0f095,#afeb8b,#6fdf76,#19c571,#0cc26c,#09b59c,#0c8fec,#0e8cea,#1087e7,#1679dd,#1c6bd2,#2163cb,#1f65cd,#1b6dd4,#225fc8,#2756bf,#2950ba,#2a4db6,#2b49b2,#2b49b1,#2a4cb5,#2a4db6,#2852bb,#2950b9,#2853bd,#255ac3,#1f66ce,#1e68d0,#0f88e8,#1380e2,#137fe1,#1087e7,#0b92ed,#1bca60,#33d162,#2ccf61,#75e078,#65dd72,#65dd72,#5ddb6f,#5ddb6f,#1ccb5d,#3fd467,#7ce17a,#5ada6e,#70df76,#6dde75,#55d96d,#54d96d,#59da6e,#59da6e,#74e077,#83e37d,#66dd73,#50d86b,#58da6e,#77e079,#50d86b,#7de27b,#75e078,#3bd365,#1bca5d,#26ce5f,#09a5c7,#0e8ae8,#2162cb,#2a4eb7,#32389c,#32389c,#32389c,#32379b,#333699,#343496,#343496,#343496,#343496,#343496,#343496,#343496,#343496,#343496,#343496,#343496,#343496,#343496,#343496,#343496,#343496,#343496,#343496,#343496,#343496,#343496 300.0px)"></div><div style="top:54px;height:2px;background:linear-gradient(90deg,#2a4db6 1.0px,#2755bf,#235fc7,#2657c0,#2755be,#2658c2,#1f66ce,#2161ca,#2063cb,#2064cc,#2063cb,#2754be,#2755bf,#2063cb,#245cc6,#2161ca,#235ec7,#1f67ce,#1185e6,#2065cd,#225fc8,#2162ca,#1e67cf,#2063cb,#1777db,#1a71d7,#1b6ed4,#1973d8,#1282e3,#1086e6,#08b0af,#0dbb89,#24cd5f,#33d163,#46d668,#57da6d,#72df77,#54d96c,#48d669,#25cd5f,#2ed062,#34d163,#5edb70,#59da6e,#56d96d,#5cdb6f,#40d566,#1fcb5e,#34d163,#5bda6f,#50d86b,#53d96c,#75e078,#a1e987,#e6f39b,#d5f196,#c3ee91,#c4ef92,#d4f096,#c7ef92,#88e47e,#3bd365,#17c763,#0fc562,#079fe1,#0d8cea,#1087e7,#1679dc,#1b6ed4,#2065cc,#1d6ad1,#1a70d6,#235ec7,#255ac3,#2754bd,#2951ba,#2a4cb5,#2b49b1,#2b4bb3,#2851ba,#2755bf,#2951ba,#2854bd,#2658c2,#1e68d0,#1d6bd2,#0f8ae9,#1875da,#1380e2,#0d8eeb,#0998ec,#0cb892,#2bcf61,#30d061,#77e078,#6bde74,#66dd73,#59da6e,#49d66a,#24cd5f,#41d467,#76e078,#5fdb70,#71df77,#74e077,#5fdb70,#4ad769,#51d86b,#58da6e,#5ada6e,#78e179,#64dc72,#52d96c,#69dd74,#a9eb8a,#a3e988,#b2ec8c,#a4e988,#69dd74,#32d162,#41d566,#11c176,#07a7d3,#1779db,#245bc5,#2b4bb3,#313a9f,#313ba0,#313a9e,#32389c,#333699,#343496,#343496,#343496,#343496,#343496,#343496,#343496,#343496,#343496,#343496,#343496,#343496,#343496,#343496,#343496,#343496,#343496,#343496,#343496,#343496 300.0px)"></div><div style="top:56px;height:2px;background:linear-gradient(90deg,#294fb8 1.0px,#2658c1,#2163cb,#2559c2,#2658c1,#2658c2,#235ec7,#2064cc,#2162cb,#225fc8,#2163cb,#2657c1,#2755bf,#2163cb,#2260c9,#1f66ce,#2261c9,#1973d8,#0c8fec,#1d6ad1,#2161ca,#2063cc,#1e69d0,#1f65cd,#1a71d7,#1972d7,#1b6fd5,#147fe1,#1283e4,#147ee0,#08aac3,#1ac76c,#2ccf61,#36d263,#53d96c,#58da6e,#62dc71,#4fd86b,#3ed367,#24cd60,#2ccf61,#2ed061,#59da6e,#4dd76a,#62dc71,#67dd73,#3fd466,#18c95d,#3cd365,#52d96c,#41d566,#4dd76b,#69dd74,#97e784,#d9f197,#d7f197,#cdf094,#cdf094,#d2f095,#ccef94,#a6ea88,#53d96c,#25cd5f,#1aca5e,#0ab894,#0b91ed,#0f89e8,#157ddf,#1b6fd5,#1d6ad1,#1973d8,#1973d8,#245dc6,#255ac3,#255ac3,#2852bc,#294fb9,#2a4cb5,#2a4db5,#2754be,#2658c2,#2754be,#2756c0,#2658c1,#1f65cd,#1a70d6,#1087e6,#1a70d6,#1380e2,#0c8fec,#0897f1,#08a2d5,#24cd5f,#2ed061,#71df76,#61dc71,#61dc71,#45d667,#36d263,#1ccb5d,#35d163,#57da6d,#40d566,#69dd74,#79e179,#62dc71,#48d668,#4bd76a,#54d96d,#52d86b,#6bde74,#71df76,#5fdb70,#68dd73,#b8ed8e,#b8ed8e,#d4f096,#cbef94,#8ee580,#65dc72,#58da6e,#1ccb5d,#0aba8a,#0b91ed,#225fc8,#2656bf,#2d44aa,#2f3fa6,#303ea4,#31399e,#33379a,#333699,#343496,#343496,#343496,#343496,#343496,#343496,#343496,#343496,#343496,#343496,#343496,#343496,#343496,#343496,#343496,#343496,#343496,#343496,#343496 300.0px)"></div><div style="top:58px;height:2px;background:linear-gradient(90deg,#2852bb 1.0px,#255ac3,#2163cb,#2559c2,#245cc5,#255ac4,#2559c2,#2064cc,#2260c9,#245cc6,#2161ca,#245cc5,#2657c0,#2063cb,#2064cc,#2064cc,#1f65cd,#1678dc,#0a97e3,#1d6ad1,#2162ca,#2161ca,#1e67cf,#2163cb,#1c6cd3,#1b6fd5,#1a71d6,#147ee1,#1380e2,#1282e3,#0aaab3,#0bbf75,#1dcb5d,#30d162,#46d668,#40d466,#60db70,#44d667,#28ce60,#1ccb5d,#36d264,#28ce60,#40d565,#51d86c,#62dc71,#57da6e,#33d162,#0dbe7d,#2ecf62,#52d96c,#3cd465,#43d567,#6ade74,#8be47f,#c8ef93,#daf197,#d7f197,#d5f196,#d0f095,#d1f095,#bbed8f,#6cde75,#35d262,#21cc5e,#0cbc84,#0997ef,#1184e5,#1086e6,#1973d8,#1c6cd3,#147ee0,#1776da,#2161ca,#245bc5,#235dc6,#2559c2,#294fb9,#2a4eb7,#294eb7,#2853bd,#235ec7,#2657c0,#2754be,#2657c1,#2261c9,#1a71d7,#1281e3,#1c6dd3,#137fe1,#0f89e8,#0995f0,#0996f0,#21cc5e,#30d061,#63dc72,#5ada6f,#58da6e,#43d567,#2bcf61,#0cbe7c,#22cc5f,#45d668,#4bd76a,#5ada6e,#70df76,#63dc72,#4dd86a,#45d668,#44d568,#3bd364,#5fdb70,#69dd74,#54d96c,#5cda70,#b5ec8d,#bfee90,#d2f095,#c7ef92,#b8ed8e,#8de580,#77e078,#33d162,#18c376,#089edd,#1282e2,#2559c3,#2951ba,#2e42aa,#2f40a7,#313ba0,#32389c,#33379a,#333699,#343496,#343496,#343496,#343496,#343496,#343496,#343496,#343496,#343496,#343496,#343496,#343496,#343496,#343496,#343496,#343496,#343496,#343496 300.0px)"></div><div style="top:60px;height:2px;background:linear-gradient(90deg,#2755be 1.0px,#255ac3,#2063cb,#2658c1,#2161ca,#245bc4,#245bc4,#2064cc,#235ec7,#2559c3,#2261c9,#2162cb,#2755bf,#2260c8,#2162ca,#2260c9,#1d6ad1,#1776db,#099ae0,#1e68cf,#2261c9,#2162ca,#1f65cd,#2065cd,#1e69d0,#1b6ed4,#1b6fd5,#1778dc,#1282e3,#0e8be9,#0bada6,#0ec561,#10c172,#10b992,#40d565,#3ad364,#40d466,#3ed465,#25cd5f,#14c276,#21cc5e,#1dc868,#4ad769,#48d668,#61dc71,#41d566,#26ce5f,#09b59c,#2dd061,#44d567,#32d162,#3cd365,#70df76,#68dd73,#aceb8b,#d5f196,#d0f095,#cef094,#eaf09b,#dfc88b,#efec9b,#c3ee91,#62dc71,#2acf60,#0eb69d,#0899ee,#1086e6,#0b92ee,#1281e2,#1b6ed4,#1381e3,#167add,#1f66ce,#245bc5,#245cc5,#245dc6,#2a4eb7,#294eb7,#294fb8,#294fb8,#245dc6,#2657c0,#2853bc,#2755bf,#225fc8,#1d69d0,#157bde,#1c6dd3,#137fe1,#1283e4,#0d8eeb,#0898f2,#0ebf7b,#25cd5f,#60dc71,#44d667,#51d86b,#37d263,#25cd5f,#0db992,#1bc76a,#47d668,#34d262,#49d769,#5ddb70,#5ada6e,#48d669,#40d466,#2acf60,#37d263,#6ade74,#73df77,#50d86c,#5cda70,#b5ed8d,#bdee90,#cbef93,#c0ee91,#b7ed8e,#b9ed8f,#afec8c,#53d96c,#24cd5f,#0bbc81,#0897f0,#1f66cd,#2659c2,#2b4ab3,#2e41a8,#303da3,#313a9e,#32389c,#33379a,#333699,#343496,#343496,#343496,#343496,#343496,#343496,#343496,#343496,#343496,#343496,#343496,#343496,#343496,#343496,#343496,#343496,#343496 300.0px)"></div><div style="top:62px;height:2px;background:linear-gradient(90deg,#2559c3 1.0px,#2658c2,#2161ca,#2559c3,#1e67cf,#235ec7,#2260c8,#2065cd,#245dc6,#2659c2,#2261c9,#2064cc,#2658c1,#235fc8,#245cc5,#2261c9,#1b6ed4,#1875da,#0c8fec,#1f66cd,#235ec7,#2162ca,#1e67cf,#2161ca,#1c6dd3,#1972d8,#1b6fd5,#1776da,#1282e3,#0a94ef,#0dada5,#0bbe79,#0ab1ad,#0995f0,#19c083,#31d162,#36d264,#36d263,#2bcf60,#19c769,#1dc76c,#1aca5d,#3fd465,#51d86b,#48d668,#39d364,#22cc5f,#0bbd7e,#2acf60,#49d769,#2ed061,#42d567,#70df76,#43d567,#9be885,#cff094,#cff094,#daf197,#eee799,#9d6e58,#af8566,#eee699,#cdf094,#69dd74,#1bc572,#079ee9,#0d8dea,#0995f0,#0d8deb,#1a71d6,#1282e3,#1380e2,#1c6bd2,#235ec7,#255ac4,#235dc6,#2950b9,#2a4db6,#294fb8,#2853bd,#255ac4,#2755bf,#2951ba,#2854bd,#245dc6,#2064cc,#1875da,#1d69d0,#1973d8,#1b6fd5,#1184e4,#0b91ed,#0a9cd9,#13be82,#4fd86b,#33d162,#41d566,#28ce60,#26ce5f,#08b0ae,#17c27a,#47d668,#43d567,#3ad364,#58da6e,#4ed86a,#54d96c,#4bd769,#28ce60,#3bd365,#69dd74,#76e078,#6ade74,#6add74,#bdee90,#c1ee91,#cbef93,#b9ed8f,#b2ec8c,#bbed8f,#c6ef92,#7ae17a,#2fd062,#15c374,#089de3,#1380e1,#235dc7,#2851bb,#2e42a9,#2e40a7,#303da2,#32389d,#32389c,#33379a,#333698,#343496,#343496,#343496,#343496,#343496,#343496,#343496,#343496,#343496,#343496,#343496,#343496,#343496,#343496,#343496,#343496 300.0px)"></div><div style="top:64px;height:2px;background:linear-gradient(90deg,#245bc4 1.0px,#255ac4,#255bc4,#2658c2,#2163cb,#235fc8,#1e67cf,#1f66ce,#235dc7,#245cc5,#235ec7,#225fc8,#255bc4,#2260c9,#245cc5,#225fc8,#1b6ed4,#1a70d6,#1281e2,#2260c8,#2162ca,#1f67ce,#1e68d0,#2161ca,#1a71d7,#1777dc,#1875da,#1380e2,#1186e6,#0b92ee,#09a0d5,#0aba87,#07a0e1,#0997f0,#099ae7,#12bd86,#28ce60,#32d162,#22cd5f,#14c567,#11c75b,#13c75f,#3fd565,#40d566,#3cd465,#29cf60,#1aca5e,#0abc81,#21cc5e,#43d567,#30d162,#55d96d,#6ede75,#4ed86a,#95e783,#c3ee91,#d3f095,#e1f299,#efea9a,#a2745d,#966757,#b38b68,#f1ed9c,#c2ee91,#4ed76c,#10bc89,#0b96e2,#0b92ed,#0996f0,#1678dc,#0e8cea,#1282e3,#1d6ad1,#235ec7,#235fc8,#235ec7,#2755be,#294fb9,#2852bb,#2755be,#2559c3,#2755be,#2851bb,#2853bc,#2659c2,#2063cb,#1973d8,#2064cc,#1e67cf,#2065cc,#1678dc,#1184e5,#0b92ee,#089be8,#33d163,#2acf60,#37d263,#1aca5d,#24cd5f,#07a7cf,#12be82,#4bd769,#37d263,#38d364,#4fd86b,#44d667,#53d96c,#4bd76a,#26ce5f,#3dd465,#71df76,#80e27c,#7ae17a,#68dd74,#bdee90,#beee90,#c5ef92,#c2ee91,#beee90,#baed8f,#c7ef92,#92e682,#53d96c,#2ed062,#07a9c6,#0b92ed,#1c6dd3,#2657c1,#2b4ab3,#2d45ad,#2f40a7,#313ba0,#313a9f,#32389c,#333699,#333598,#343496,#343496,#343496,#343496,#343496,#343496,#343496,#343496,#343496,#343496,#343496,#343496,#343496,#343496,#343496 300.0px)"></div><div style="top:66px;height:2px;background:linear-gradient(90deg,#245bc4 1.0px,#245cc5,#2659c2,#255ac3,#235dc6,#245bc5,#1f66ce,#2065cd,#2162ca,#2260c9,#2260c8,#235ec7,#235fc7,#2162cb,#2260c9,#2161ca,#1f66ce,#1a70d6,#1974d9,#225fc8,#225fc8,#1f66ce,#1c6bd2,#1e68cf,#1679dd,#157cdf,#147de0,#1088e7,#1086e6,#0f89e8,#0a94ef,#07a7ce,#07a3dd,#079cef,#0c90ed,#0995f0,#12b3a3,#2acf60,#1bca5d,#13c85b,#11c75b,#0fc466,#3cd464,#39d363,#33d162,#23cd5f,#12c75e,#0bbf77,#1dc968,#46d668,#2fd061,#4ad769,#67dd73,#52d96c,#90e681,#b7ed8e,#beee90,#d9f197,#e3f29a,#c2a074,#966858,#956656,#be9971,#ecf19c,#9ee886,#30d062,#0aadab,#0a93ee,#0996f0,#1380e2,#0c8fec,#1381e2,#1e69d0,#2260c9,#2261c9,#225fc8,#2658c2,#2951ba,#2755bf,#255ac3,#255ac4,#2755bf,#2853bc,#2657c1,#235ec7,#2063cb,#1d6ad1,#225fc8,#245cc5,#245dc6,#1972d7,#157bde,#0c8fec,#0a93ee,#09b49e,#0fb59a,#2fd061,#12c75e,#22cc5e,#08a8c8,#0cb59b,#35d263,#20cc5e,#35d263,#40d466,#41d467,#68dd73,#54d96c,#2acf60,#32d162,#66dd73,#5bdb6f,#64dc72,#64dc72,#a8ea89,#bfee90,#cff095,#bbed8f,#c2ee91,#c6ef92,#bbed8f,#b3ec8d,#74e078,#39d364,#12c371,#079ceb,#1380e0,#235fc8,#2656c0,#294eb7,#2d45ad,#2f3ea4,#303ea4,#31399e,#33379a,#333699,#343496,#343496,#343496,#343496,#343496,#343496,#343496,#343496,#343496,#343496,#343496,#343496,#343496,#343496,#343496 300.0px)"></div><div style="top:68px;height:2px;background:linear-gradient(90deg,#235dc7 1.0px,#255bc4,#2260c8,#225fc8,#245bc5,#255ac4,#2063cb,#2065cc,#1f66cd,#2064cc,#235ec7,#235dc7,#2163cb,#1e69d0,#2063cb,#2261c9,#2064cc,#1973d8,#1d69d0,#235ec7,#225fc8,#2161ca,#1f66ce,#1c6cd2,#1184e4,#1184e5,#147ee0,#1282e3,#0f89e8,#147ee0,#0d8deb,#0a94ef,#069eec,#09b2a7,#0a93ee,#0e8ae9,#0b92ee,#0cb696,#14c85c,#13c567,#11c75f,#0dc463,#2dd061,#2ed061,#2ccf61,#22cc5f,#1aca5d,#0ab890,#1cc671,#51d86c,#37d264,#38d364,#4cd76a,#65dd72,#80e27c,#a9eb8a,#b3ec8d,#dcf198,#daf197,#e6d391,#966755,#976959,#986956,#e3d08e,#d4f096,#67dd73,#1ac76c,#099ae7,#0a94ef,#0f88e7,#089de4,#1183e4,#1c6cd2,#2063cb,#2162cb,#2163cb,#2658c2,#2a4eb7,#2755bf,#2658c2,#235ec7,#2755bf,#2852bc,#255bc4,#2163cb,#1e67cf,#1f67ce,#2559c2,#2658c2,#255ac4,#1a70d6,#1973d8,#0e8ae9,#0c8fec,#08adba,#079de9,#0ab88f,#0ec075,#1fcc5e,#09b49f,#09b4a1,#2fd061,#1aca5d,#35d263,#35d263,#41d467,#60dc71,#50d86b,#27ce60,#31d162,#54d96c,#4dd76a,#51d86c,#45d667,#99e784,#c2ee91,#ddf298,#beee90,#bced8f,#d5f196,#d1f095,#caef93,#96e683,#5cdb6f,#1fcb5f,#079bee,#0995f0,#1d69d0,#2261c9,#2756c0,#2b4ab2,#2e41a8,#2f40a6,#313ba0,#32379b,#33379a,#333598,#343496,#343496,#343496,#343496,#343496,#343496,#343496,#343496,#343496,#343496,#343496,#343496,#343496,#343496 300.0px)"></div><div style="top:70px;height:2px;background:linear-gradient(90deg,#2064cc 1.0px,#235dc6,#2064cc,#2063cc,#235ec7,#2659c2,#2162cb,#2064cc,#1c6dd3,#2261c9,#235dc7,#235ec7,#2162ca,#1d69d0,#2065cd,#2260c8,#2063cc,#1874d9,#1f67ce,#235fc8,#2162ca,#235dc6,#2162ca,#1c6bd2,#1184e5,#0f88e7,#1679dc,#1381e2,#0b92ed,#167ade,#0d8eeb,#1282e3,#0a94ed,#08a9c1,#0a96ea,#1184e4,#0e8cea,#0c8eec,#0ab599,#17c66b,#10c662,#10c562,#28ce60,#2ccf61,#28ce60,#2acf60,#1ecb5e,#0ab88e,#17bf86,#41d566,#2acf60,#38d363,#3ad364,#62dc71,#82e37c,#9fe986,#93e682,#dff299,#e2f299,#efee9b,#a97c61,#976959,#976959,#af8666,#f0ef9c,#b5ec8d,#49d66a,#09b1ab,#0a94ef,#0e8cea,#079ee6,#0d8deb,#1874d9,#1d6ad1,#2065cd,#2162ca,#2658c2,#2a4db6,#2851bb,#2756bf,#255bc4,#2851bb,#2951ba,#245cc5,#2162ca,#2063cb,#2063cb,#2754be,#2755be,#2657c1,#1c6bd2,#1874d9,#1087e7,#1185e5,#07a6d3,#0899ec,#0aa5bf,#0a9dd7,#12c663,#08b0ae,#08b2a9,#30d061,#1bc964,#2dd061,#2ccf61,#33d162,#42d567,#3dd465,#24cd5f,#41d466,#51d86b,#3dd465,#42d566,#40d566,#8de580,#b7ec8d,#e7f39b,#c4ef92,#b5ec8d,#e3f29a,#e7d391,#efe899,#e7f39b,#afeb8b,#4ad66a,#08a3d3,#0898f2,#1086e6,#1972d8,#235ec7,#2951ba,#2d45ad,#2e41a8,#303da2,#32399d,#32389c,#333699,#343496,#343496,#343496,#343496,#343496,#343496,#343496,#343496,#343496,#343496,#343496,#343496,#343496,#343496 300.0px)"></div><div style="top:72px;height:2px;background:linear-gradient(90deg,#1e69d0 1.0px,#235ec7,#1f66ce,#235ec7,#235fc7,#235ec7,#1e67cf,#2162ca,#1b6dd4,#235ec7,#245cc5,#255bc4,#255ac4,#1e69d0,#2064cc,#2162ca,#2065cd,#1972d7,#2064cc,#1f66ce,#1e67cf,#2162ca,#2161ca,#1c6cd2,#157cdf,#0f88e8,#1c6dd3,#147ddf,#0997f1,#1282e3,#0a93ef,#1777db,#0f89e8,#0c90ed,#0f88e7,#1381e3,#0b92ee,#1086e6,#06a0ec,#0999e6,#09b4a1,#10c563,#1ccb5d,#26ce5f,#30d162,#2fd061,#1fcc5e,#0cbc85,#18c473,#3dd366,#24cd5f,#2ccf61,#31d162,#5ddb70,#77e079,#97e784,#82e37c,#cbef93,#dbf198,#e4f29a,#cdaf7c,#976959,#9a6d5d,#976958,#d9bf86,#dcf198,#88e47e,#21cb65,#0997f0,#0f89e8,#079bef,#0b91ed,#147fe1,#1972d7,#1e68d0,#2162ca,#255ac3,#2950b9,#294eb7,#2853bc,#2755bf,#2853bc,#2a4cb5,#2755bf,#245cc6,#235dc6,#255ac4,#2a4eb7,#2853bc,#2755be,#1f67ce,#1b6fd5,#1678dc,#147de0,#099fd8,#0a94ef,#0995ef,#0a94ef,#0898f1,#0899ed,#08b0b1,#2fd061,#1fcb5e,#2ccf61,#23cd5f,#34d163,#33d162,#28ce60,#24cd5f,#2ed061,#40d466,#49d669,#33d162,#3dd465,#72df77,#a9ea89,#def299,#c0ee90,#b4ec8d,#e8f29b,#ba916d,#a4765c,#dfc98b,#ebf29c,#b7ec8d,#1fc76e,#0ab794,#07a4d6,#1184e5,#1e68cf,#245cc5,#2b49b2,#2d45ad,#303ea4,#313ba0,#32399d,#33369a,#333698,#343496,#343496,#343496,#343496,#343496,#343496,#343496,#343496,#343496,#343496,#343496,#343496,#343496 300.0px)"></div><div style="top:74px;height:2px;background:linear-gradient(90deg,#1f66ce 1.0px,#235dc6,#2064cc,#255ac4,#2161ca,#2064cc,#1d69d0,#235dc6,#1e69d0,#245cc5,#2658c2,#2558c1,#2656c0,#1d69d0,#2162cb,#2161ca,#2064cc,#1972d7,#2064cc,#1e69d0,#1e68d0,#2064cc,#2261c9,#1a70d6,#1876da,#157bde,#2064cc,#1679dd,#0a93ef,#1281e3,#0a94ef,#1876da,#157cdf,#1281e3,#1381e2,#1973d8,#1184e5,#1282e3,#079fe7,#0e8cea,#0a93ee,#08a0de,#0cba8b,#1ecb5e,#2fd062,#1ecb5e,#14c46f,#0bb98e,#1ac477,#38d264,#1ecb5e,#1aca5d,#2ed061,#48d668,#5ddb70,#84e37d,#80e27c,#caef93,#e7f39b,#dcf198,#e7d391,#976958,#b08a7f,#a98175,#a87c61,#efed9b,#c1ee91,#4fd76b,#089ee4,#0e8ae9,#0c90ec,#0b92ee,#137fe1,#1876da,#1d69d1,#2162ca,#235fc8,#2754bd,#2a4eb7,#2950ba,#2853bd,#2951ba,#2a4cb5,#2951ba,#2853bd,#2754be,#2754be,#2b4bb3,#294fb8,#294fb8,#255ac3,#2161ca,#1c6bd2,#1a70d6,#0b91ed,#0d8cea,#1283e4,#0c8eeb,#0897f1,#137fe1,#0f89e8,#1ac182,#0fc465,#27ce60,#1ecb5e,#29ce60,#2acf60,#13c664,#12c664,#1ccb5d,#3cd366,#3ed466,#27ce60,#32d162,#71df76,#a0e986,#d6f196,#c5ef92,#b8ed8e,#eeed9b,#a7795e,#936453,#9d6e56,#d6bb84,#e6f19a,#7ae17a,#37d165,#13c178,#0996ec,#1a70d6,#2162ca,#2a4eb7,#2c48b0,#2f40a6,#303ca1,#313ba0,#32379b,#33379a,#343496,#343496,#343496,#343496,#343496,#343496,#343496,#343496,#343496,#343496,#343496,#343496,#343496 300.0px)"></div><div style="top:76px;height:2px;background:linear-gradient(90deg,#2162cb 1.0px,#245cc6,#1f65cd,#2757c0,#225fc8,#2261c9,#1d6ad1,#235ec7,#2065cd,#245dc6,#245bc5,#2756c0,#2755bf,#1f67ce,#2162ca,#225fc8,#1f65cd,#1875da,#1f67ce,#1f67ce,#2163cb,#1f65cd,#1f66cd,#1874d9,#157cdf,#1876da,#2260c9,#1a70d6,#0d8eeb,#1380e2,#0d8eeb,#167add,#1776da,#147ee0,#167ade,#1c6cd3,#1973d8,#1679dd,#0995f0,#1184e5,#0a93ee,#0997ef,#0d8eeb,#0ca2cb,#17c376,#2ccf61,#12c46a,#09b2a8,#13bd89,#3ed466,#1fcb5e,#14c85c,#2ccf61,#3cd464,#40d566,#77e079,#7ce17a,#c4ef92,#e8f39b,#def298,#ebde96,#9a6b59,#c1a29a,#c3a59d,#9a6c5c,#ddc589,#e2f29a,#83e37d,#0cb69a,#0b92ed,#0f89e8,#0d8deb,#1283e4,#1875d9,#1d6bd2,#2063cb,#2064cc,#255bc4,#2950ba,#2a4db5,#2a4db6,#2851bb,#2b4ab3,#294fb8,#294eb7,#294fb8,#2a4db6,#2c47af,#2b4bb4,#2b4bb4,#2a4eb7,#2854bd,#2161ca,#1f67ce,#0e8ae8,#1381e2,#157bde,#1283e4,#0d8deb,#1776da,#1973d8,#0d8deb,#0b99d7,#24cd5f,#29ce60,#2ed061,#27ce60,#10bf7d,#0fc174,#1bca5d,#47d668,#30d062,#1bca5d,#1ec86a,#5edb70,#a2e987,#ccf094,#c3ee91,#aeec8c,#eee99a,#a17259,#996b5c,#986a5a,#9c6d56,#dcc488,#dff299,#94e682,#2ed061,#0db1a7,#147de0,#1e69d0,#2853bc,#294eb7,#2e42a9,#2f3ea4,#303ca2,#32389c,#33379a,#343597,#343496,#343496,#343496,#343496,#343496,#343496,#343496,#343496,#343496,#343496,#343496,#343496 300.0px)"></div><div style="top:78px;height:2px;background:linear-gradient(90deg,#235ec7 1.0px,#245cc5,#1f66cd,#2657c1,#235ec7,#2161ca,#1f66ce,#235ec7,#2260c8,#235dc6,#235fc8,#255ac4,#2756c0,#1d6ad1,#2161ca,#235dc6,#1f65cd,#1876da,#1d6ad1,#2065cd,#2260c8,#2064cc,#1f65cd,#1875da,#1283e4,#1a71d6,#2260c9,#1d6bd2,#0f89e8,#157cdf,#1380e2,#157bde,#1c6bd2,#147ee0,#157bde,#1c6cd3,#1b6dd4,#1874d9,#1088e7,#1679dc,#0e8bea,#0b91ed,#0d8deb,#0d8deb,#0b93e8,#0ab1a9,#09abb7,#08a7ca,#15ba96,#36d263,#1ecb5e,#15c95c,#2acf60,#2fd061,#33d162,#62dc71,#78e179,#c8ef93,#e8f39b,#d7f197,#eee799,#9d6f5b,#c6a9a1,#d9c4bf,#ac8579,#b28967,#f1f19d,#b6eb8c,#23cb65,#0bb0ad,#0e8cea,#0e8cea,#1283e4,#1875da,#1c6dd3,#1f65cd,#1e68cf,#2162ca,#2755bf,#2950ba,#2b4bb4,#2a4cb5,#2c46ae,#2b49b1,#2b48b1,#2b4bb3,#2a4cb4,#2d44ab,#2c47af,#2b48b1,#2b49b2,#2c46af,#2852bb,#245cc5,#1679dd,#1973d8,#1c6dd3,#1777db,#1381e3,#1a70d6,#1b6dd4,#1679dd,#0f88e8,#08adba,#07abc3,#10b899,#12c36f,#09b69a,#0fc36b,#20cc5e,#42d567,#2ccf61,#17c95d,#11c468,#69dd73,#adeb8b,#b7ec8e,#b1ec8c,#aceb8b,#eee899,#9f7057,#a2786a,#aa8377,#9b6e5f,#9f7058,#e2cf8d,#c9ef93,#70df76,#1cc671,#0c8fec,#1a71d7,#255bc4,#2853bd,#2c47b0,#2f3fa5,#303ea4,#32399d,#33379a,#333698,#343496,#343496,#343496,#343496,#343496,#343496,#343496,#343496,#343496,#343496,#343496,#343496 300.0px)"></div><div style="top:80px;height:2px;background:linear-gradient(90deg,#2163cb 1.0px,#245cc5,#2064cc,#2658c1,#245cc5,#235ec7,#2064cc,#2163cb,#2162ca,#235dc6,#235fc8,#235fc8,#2659c2,#1b6ed5,#2162ca,#255bc4,#2065cd,#1875da,#1c6dd3,#2064cc,#225fc8,#225fc8,#2064cc,#1b6ed4,#1283e4,#1c6cd3,#2260c9,#1e68cf,#1283e4,#1a70d6,#1678dc,#157cdf,#1e68cf,#157cdf,#1875d9,#1c6dd3,#1c6dd3,#1d6ad1,#1a71d7,#1f66cd,#1777db,#1282e3,#0e8ae9,#0f8ae9,#1381e2,#1086e6,#1381e3,#147ee1,#0e8fdd,#16bc92,#0cb0a6,#0fbb8a,#21cc5e,#30d162,#40d566,#58da6e,#62dc71,#cbef93,#ebf39c,#d6f196,#eeea9a,#a0725c,#c2a39b,#e7d9d6,#c7aba3,#996b59,#e7d591,#ddef98,#50d86b,#11bd85,#0e8cea,#0e8be9,#0f89e8,#1778dc,#1874d9,#1e69d0,#1e69d0,#2260c9,#2657c1,#2853bd,#2d45ad,#2c46ae,#2f40a6,#2d44ab,#2d45ad,#2c46ae,#2c46ae,#2e41a8,#2e42a9,#2e42a9,#2d43ab,#2e42aa,#2d45ad,#2c48b0,#1e68d0,#1d69d0,#1f67ce,#1b6dd4,#1777db,#1d6ad1,#1a70d6,#1d6bd1,#167add,#0997e8,#0997f0,#0898f1,#0897f1,#0f8ae8,#0aa6c1,#0eb3a0,#2ed062,#1dca61,#1fcb5e,#11c36f,#53d96c,#7ce17a,#88e47f,#76e078,#98e784,#eee699,#9d6d56,#a87f72,#be9d95,#b7948a,#976858,#b68d6a,#eaef9a,#abea8a,#57d96e,#0bb1a1,#147ddf,#235fc8,#245bc4,#2a4db6,#2f40a7,#2f3ea4,#313ba0,#32379b,#333699,#343496,#343496,#343496,#343496,#343496,#343496,#343496,#343496,#343496,#343496,#343496,#343496 300.0px)"></div><div style="top:82px;height:2px;background:linear-gradient(90deg,#2063cb 1.0px,#2559c3,#235ec7,#2658c2,#245cc5,#245bc5,#2161ca,#2065cd,#1f67ce,#255ac4,#255ac4,#225fc8,#2756c0,#1e69d0,#225fc8,#2756c0,#235ec6,#1d6ad1,#2162ca,#2658c1,#2559c2,#2853bc,#2559c3,#245cc5,#1f65cd,#2559c2,#2755bf,#2559c3,#2162ca,#2658c1,#235ec7,#2064cc,#235ec7,#1e67cf,#2064cc,#2064cc,#1f67ce,#2065cd,#1f66cd,#255ac4,#1d6ad1,#1777db,#137fe1,#1380e2,#157bde,#1a71d6,#1778dc,#1b6fd5,#157cde,#079deb,#1087e6,#0c90ed,#07a5d5,#0bbd7f,#42d468,#51d86b,#6cde75,#c2ee91,#ebf39c,#d7f197,#eeed9b,#a4765e,#bc9c93,#ece1de,#e0ceca,#a67d70,#bf9b71,#f1f49e,#8fe580,#19c768,#0b92ee,#1088e7,#0c8fec,#137fe1,#1679dd,#1d6ad1,#2162cb,#225fc8,#2658c2,#2755bf,#303da3,#313ba1,#32389c,#303da2,#313ba0,#2f3ea4,#303da3,#32399d,#31399e,#313ba0,#313ba0,#313ba1,#2f3ea4,#313ba0,#2c46ac,#2162ca,#2065cd,#1f65cd,#1c6dd3,#2162ca,#1b6dd4,#2260c8,#1d6bd2,#1184e4,#0e8cea,#0e8bea,#0b92ee,#1381e2,#0d8eeb,#0999e6,#07a8ce,#089ee4,#0bb59b,#07a1df,#37d264,#51d86b,#4dd76b,#3dd465,#a0e886,#ede297,#9b6b54,#a98275,#cfb6b0,#cfb6b0,#a98174,#996a54,#dfc88a,#d8f197,#9de885,#1ac27f,#0e8ae8,#2163cb,#2260c9,#294fb8,#2e41a9,#2f40a7,#303ca1,#32389b,#33379a,#343496,#343496,#343496,#343496,#343496,#343496,#343496,#343496,#343496,#343496,#343496,#343496 300.0px)"></div><div style="top:84px;height:2px;background:linear-gradient(90deg,#235fc8 1.0px,#255ac4,#2659c2,#2559c3,#255ac3,#245bc5,#245cc5,#1f66cd,#1f66ce,#245cc5,#2659c2,#245cc5,#2754bd,#235ec7,#245bc5,#2950b9,#2754be,#245bc4,#2754be,#294eb7,#294fb8,#2c47b0,#2b49b2,#2a4bb4,#2a4eb7,#2c48b0,#2c46ae,#2c48b0,#2c48b0,#2d44ac,#2b4ab3,#2b49b2,#2558c1,#235ec7,#235ec7,#2162ca,#2162ca,#235fc7,#255bc4,#2853bd,#2161ca,#1c6bd2,#1a70d6,#1679dd,#1973d8,#1f65cd,#1a71d6,#2065cd,#1875d9,#0d8deb,#1678dc,#0f89e8,#07a6ce,#0ab88f,#43d567,#40d566,#64dc72,#c7ef92,#dbf198,#d8f197,#e5ee99,#aa7d62,#b9978d,#ebe0dc,#ebe0dd,#bb9990,#a4765e,#efec9b,#baec8e,#23cd5f,#09a1d3,#147ddf,#1087e7,#1777db,#1679dd,#1b6dd4,#225fc8,#245cc6,#2754bd,#2755be,#33379a,#333699,#333698,#33369a,#333699,#32379b,#32389b,#333699,#333699,#333699,#333699,#333699,#33379a,#333699,#33379a,#33369a,#2656bd,#235fc7,#2261c9,#2657c1,#1f66ce,#245dc6,#2260c8,#1973d8,#147fe1,#147ee0,#1281e3,#1973d8,#1380e2,#0e8cea,#0995ef,#0c8fec,#069df0,#0c90ed,#23cd5f,#2dd061,#28ce60,#22cc63,#a1e987,#ece197,#9a6a54,#aa8276,#d8c3be,#dbc7c2,#c3a59c,#976959,#bb936e,#f5f19e,#c0ee91,#26ca6c,#0d90e5,#2163cb,#235dc6,#2950b9,#2e41a9,#2e42a9,#303ca1,#32389c,#33379a,#343496,#343496,#343496,#343496,#343496,#343496,#343496,#343496,#343496,#343496,#343496,#343496 300.0px)"></div><div style="top:86px;height:2px;background:linear-gradient(90deg,#235fc8 1.0px,#2260c9,#2658c1,#2657c1,#245cc6,#245cc5,#245bc5,#1f66ce,#1e67cf,#245cc5,#255ac4,#245cc5,#2852bc,#255ac3,#255ac3,#2950ba,#2950b9,#2853bd,#2a4db6,#2b4ab3,#2b48b1,#2d44ac,#2d44ac,#2d44ac,#2d44ab,#2d43ab,#2f3fa5,#2e41a8,#2f40a7,#2f3fa5,#2d44ab,#2e41a8,#2e41a8,#2d44ac,#2950b9,#255bc4,#235ec7,#245bc4,#2755be,#294fb8,#245bc4,#2163cb,#1f66cd,#1b6ed4,#1b6fd5,#2161ca,#2063cc,#2755bf,#1c6dd3,#147ee0,#1c6cd3,#1086e5,#07a4d8,#09b2a6,#4cd76a,#45d667,#6add74,#c2ee91,#d5f196,#ddf198,#dfef98,#af8365,#b59186,#eadedb,#f0e7e5,#ccb2ab,#986a58,#e8d893,#ddf198,#49d669,#0cb69c,#1087e7,#147de0,#1874d9,#1b6ed4,#1c6cd3,#245dc6,#255bc4,#2950b9,#2a4db5,#343597,#343597,#343597,#343597,#343597,#343597,#343597,#343597,#343597,#343597,#343597,#343597,#343597,#343597,#343597,#343597,#343597,#303ea2,#2a4eb6,#294fb8,#235dc6,#245bc5,#2559c3,#1e69d0,#1777db,#1777db,#1777db,#1d6ad1,#1776db,#1380e2,#0f89e8,#0d8cea,#0799f2,#0a93ee,#21cc5e,#23cd5f,#1dcb5e,#1dc966,#afeb8b,#ede297,#9b6b54,#a98275,#dbc8c3,#e3d4d0,#d3bbb5,#9e7364,#aa7c60,#eeee9b,#beed90,#29cc6b,#0996ee,#2065cd,#255bc4,#2950b9,#2e40a7,#2e41a7,#313ba0,#32389b,#32379b,#333598,#343496,#343496,#343496,#343496,#343496,#343496,#343496,#343496,#343496,#343496,#343496 300.0px)"></div><div style="top:88px;height:2px;background:linear-gradient(90deg,#2260c9 1.0px,#1f65cd,#2658c2,#2756c0,#2559c3,#245bc5,#255ac4,#2064cc,#2064cc,#245bc5,#245bc5,#235dc6,#2852bc,#255bc4,#2658c1,#294fb8,#2950b9,#294fb8,#2a4db6,#2a4db5,#2c47af,#2c46ae,#2d44ac,#2d43ab,#2d45ad,#2e43aa,#2f3fa6,#2f40a7,#2e40a7,#2f3fa6,#2d43ab,#2f3fa6,#2f40a7,#303da2,#303da2,#2e43aa,#235dc6,#2656c0,#2951ba,#294fb8,#2657c0,#2559c3,#245dc6,#1e67cf,#1c6dd3,#2162ca,#235dc6,#2950ba,#1f66cd,#1973d8,#1d6ad1,#1381e2,#06a4db,#0abb86,#45d667,#54d96c,#54d96d,#b6ed8e,#dbf198,#d6f196,#e4f29a,#b18866,#b18c81,#e9dcd9,#f2eae8,#ddcac5,#a07567,#cdaf7c,#e0f299,#7ce17a,#24c96d,#0a9ade,#1972d8,#1b6ed4,#1e68cf,#1c6dd3,#2162ca,#2658c2,#2950b9,#303ea3,#343597,#343597,#343597,#343597,#343597,#343597,#343597,#343597,#343597,#343597,#343597,#343597,#343597,#343597,#343597,#343597,#343597,#343597,#343597,#343597,#2d47ac,#2657c0,#2754be,#2261c9,#1d69d0,#1e68cf,#1b6fd5,#2161ca,#1b6ed4,#1973d8,#1283e4,#0a93ee,#069eea,#0799f2,#1ccb5d,#23cd5f,#25cd5f,#21cc5e,#aeeb8b,#ede498,#9c6c55,#a98174,#dbc7c3,#e4d4d0,#d7c1bb,#a2786a,#a3755b,#eeea9a,#bded90,#3ad266,#0a9dd6,#2063cb,#2658c1,#2a4db6,#2f40a7,#2f40a6,#313ba0,#32389c,#33379a,#333598,#343496,#343496,#343496,#343496,#343496,#343496,#343496,#343496,#343496,#343496,#343496 300.0px)"></div><div style="top:90px;height:2px;background:linear-gradient(90deg,#2065cd 1.0px,#2163cb,#2658c2,#2658c2,#255bc4,#235dc6,#235dc7,#2064cc,#2163cb,#235ec7,#255bc4,#245cc5,#2756c0,#225fc8,#2559c2,#2950b9,#2950ba,#2a4cb5,#294eb7,#294eb7,#2b4ab3,#2c48b0,#2d44ac,#2e42aa,#2d45ad,#2d43ab,#2f40a6,#2e40a7,#2e41a8,#2f3ea5,#2d44ac,#2f3fa6,#2f3ea4,#313ca1,#303ca2,#303da2,#303ea4,#2c48af,#2950b9,#294fb8,#2754be,#2756bf,#2756bf,#225fc8,#1f66ce,#2162ca,#2658c2,#2951ba,#2163cb,#1973d8,#1c6dd3,#147ee0,#069def,#0bb98d,#3dd465,#3ed465,#4ad66a,#aceb8b,#c7ef93,#b8ed8e,#e5f29a,#b7916b,#ad877b,#e8dbd8,#f3ebe9,#e8dad7,#af8a7e,#b28867,#ecf19c,#a2e987,#55d86e,#0aa8b8,#1972d7,#2163cb,#1f66ce,#2065cd,#235ec7,#2756bf,#2b4cb4,#32379b,#333598,#343597,#343597,#343597,#343597,#343597,#343597,#343597,#343597,#343597,#343597,#343597,#343597,#343597,#343597,#343597,#343597,#343597,#343597,#343597,#343597,#343597,#313ca0,#2851b9,#2260c9,#235fc8,#1d69d0,#235fc8,#1f66cd,#1973d8,#1086e6,#0897f1,#0897f1,#0a94ef,#1cca60,#21cc5e,#2ed061,#24cd5f,#a6e988,#eee598,#9c6d55,#a88073,#dbc7c2,#e4d4d1,#dac5c1,#a67e71,#9e6f57,#eee799,#bfed90,#47d56a,#09a1ce,#1f65cd,#2658c2,#294fb8,#2f40a7,#2e41a8,#303ca2,#32389b,#32379b,#333598,#343496,#343496,#343496,#343496,#343496,#343496,#343496,#343496,#343496,#343496,#343496 300.0px)"></div><div style="top:92px;height:2px;background:linear-gradient(90deg,#1e67cf 1.0px,#2261c9,#2658c1,#245cc5,#245cc6,#245cc6,#2064cc,#1e67cf,#1f67ce,#235ec7,#245bc5,#2559c3,#2659c3,#2260c8,#2658c1,#2755bf,#2853bd,#2a4db6,#2851bb,#294eb7,#2b4bb3,#2c47af,#2d45ad,#2e42aa,#2d44ac,#2d44ac,#2e41a8,#2f40a6,#2e42a9,#2f40a6,#2e43aa,#2f3fa6,#303ea4,#313ba0,#303da2,#303da2,#303da3,#303da2,#313a9f,#2a4db5,#2951ba,#2852bc,#2754bd,#255ac4,#2260c9,#235ec7,#255ac4,#2852bb,#2162ca,#1a71d7,#1874d9,#1380e1,#089aea,#0fbe7e,#3ad364,#31d162,#46d568,#92e682,#94e683,#96e783,#def299,#bd9a70,#ab8477,#e7d9d6,#f4ecea,#ede2df,#bfa097,#a2745d,#eeeb9a,#b9ed8e,#78e179,#0eaea5,#1875da,#2161ca,#2064cc,#245dc6,#2756c0,#2a4cb4,#31399e,#32379b,#333698,#343597,#343597,#343597,#343597,#343597,#343597,#343597,#343597,#343597,#343597,#343597,#343597,#343597,#343597,#343597,#343597,#343597,#343597,#343597,#343597,#343597,#343597,#343597,#333598,#303da1,#2a4db2,#245bc5,#1f65cd,#1971d7,#1380e2,#0897f1,#0799f2,#0a95ef,#18ca5d,#25cd5f,#3fd465,#2acf60,#95e682,#eee699,#9d6d56,#a87f73,#dbc7c2,#e4d5d1,#dcc8c4,#ab8377,#9a6a53,#ecdf96,#c5ee92,#55d96e,#0ba7b4,#1c6cd3,#235dc6,#2853bc,#2e43aa,#2e41a8,#303da3,#32389c,#33379a,#333598,#343496,#343496,#343496,#343496,#343496,#343496,#343496,#343496,#343496,#343496,#343496 300.0px)"></div><div style="top:94px;height:2px;background:linear-gradient(90deg,#1c6cd3 1.0px,#2162ca,#235dc6,#2261c9,#235ec7,#2161ca,#1d69d0,#1e69d0,#1d6ad1,#2161ca,#255ac4,#245cc5,#255ac3,#2260c8,#2755be,#2756c0,#2755bf,#294fb8,#2851ba,#2a4cb5,#2b4bb3,#2d45ad,#2c47b0,#2d43ab,#2d44ac,#2e42a9,#2f40a6,#2f40a6,#2d43ab,#2e41a7,#2e42a9,#303ea3,#2f3ea4,#313ba0,#303ea3,#303da3,#303ea4,#303ca2,#303da2,#313a9f,#2f3fa4,#2a4db5,#2756c0,#2755bf,#255ac4,#245dc6,#2657c1,#2950ba,#2260c9,#1d6ad1,#1a71d7,#1283e4,#0995ef,#0abd7c,#35d263,#2dd061,#25cd5f,#49d769,#47d668,#78e179,#d9f197,#c3a375,#a88073,#e5d7d3,#f4edeb,#efe6e3,#c7aba3,#9d6f5b,#eee799,#c0ee91,#8be480,#0fafa6,#1777db,#1e68cf,#2162ca,#2559c2,#2b4bb3,#303da2,#313a9e,#32379b,#333698,#343597,#343597,#343597,#343597,#343597,#343597,#343597,#343597,#343597,#343597,#343597,#343597,#343597,#343597,#343597,#343597,#343597,#343597,#343597,#343597,#343597,#343597,#343597,#333598,#333598,#333598,#2c47ad,#2064cc,#1b6ed5,#1876da,#0a94ef,#079af0,#0a94ef,#11c75c,#2ed061,#47d668,#2ccf61,#a2e987,#eee799,#9e6e56,#a77f72,#dac6c2,#e4d5d1,#ddcac6,#af897e,#996953,#e9d692,#dbf198,#59d96f,#0ba5b7,#1971d7,#2162ca,#245bc4,#2d44ac,#2e42a9,#303ca2,#32389c,#32379b,#333698,#343496,#343496,#343496,#343496,#343496,#343496,#343496,#343496,#343496,#343496,#343496 300.0px)"></div><div style="top:96px;height:2px;background:linear-gradient(90deg,#1b6ed4 1.0px,#1f65cd,#1f65cd,#235ec7,#235ec7,#225fc8,#1d6ad1,#1f66ce,#1c6bd2,#2161ca,#255ac3,#255bc4,#2559c3,#255ac4,#2951ba,#2754be,#2754bd,#2853bd,#2854bd,#2b4ab3,#2b4bb4,#2d44ab,#2c48b0,#2d44ac,#2d44ac,#2e42a9,#303ea3,#2e42a9,#2d43ab,#2e41a8,#2e41a8,#2f3fa5,#303da3,#313ba0,#2f3fa5,#303ea4,#303da3,#303da3,#303da3,#32399d,#32389c,#313a9f,#2d45ac,#2950b9,#2756c0,#2755bf,#2851bb,#2a4cb4,#235dc6,#1f66ce,#1971d7,#0d8deb,#0a93ef,#0fc078,#37d264,#35d263,#1aca5d,#2dd061,#27ce60,#67dd73,#e0f299,#c8a978,#a57c6f,#e3d3cf,#f4edea,#f1e9e6,#cdb4ad,#996a59,#ebdc95,#ccef94,#9ce885,#12b1a7,#157cdf,#1c6dd3,#2260c9,#2950b9,#2e42a9,#303ea3,#313ba0,#32379b,#333699,#343597,#343597,#343597,#343597,#343597,#343597,#343597,#343597,#343597,#343597,#343597,#343597,#343597,#343597,#343597,#343597,#343597,#343597,#343597,#343597,#343597,#343597,#343597,#333598,#333598,#333598,#2b49af,#2065cd,#1a70d5,#1778dc,#0d8eeb,#0995ef,#0898f2,#15c761,#24cd5f,#43d567,#2bcf60,#a3e987,#eee799,#9e6f57,#a77e71,#dac6c1,#e4d5d1,#ddcac5,#ae887c,#996953,#ead994,#e2f199,#5ada70,#0b9fc6,#1875da,#2260c8,#255ac3,#2c47af,#2e42aa,#313a9f,#32389c,#32379b,#333698,#343496,#343496,#343496,#343496,#343496,#343496,#343496,#343496,#343496,#343496,#343496 300.0px)"></div><div style="top:98px;height:2px;background:linear-gradient(90deg,#1c6bd2 1.0px,#1e67cf,#1e68d0,#245cc5,#235fc7,#235dc6,#1e67cf,#2063cb,#1f66ce,#2162cb,#2756c0,#245cc5,#255ac4,#2755be,#294fb8,#2852bb,#2852bb,#2658c1,#2754be,#2b49b1,#2b49b1,#2d43ab,#2b48b1,#2d44ac,#2d45ad,#2e43aa,#2f3fa6,#2d44ab,#2d44ab,#2e41a8,#2e42a9,#2f3ea4,#303da3,#303ca2,#2f3fa6,#303ea4,#303da2,#303ea4,#303da3,#31399e,#32389d,#313a9f,#2f40a6,#2f3fa5,#2f3fa6,#2f40a7,#2f40a6,#2d44ab,#2657c0,#2064cc,#1973d8,#0a93ef,#0c8fec,#09b0ab,#44d568,#30d061,#27ce60,#1bca5d,#27ce60,#6bde74,#d9f197,#cbad7b,#a3796c,#e1d0cc,#f4ecea,#f2eae7,#d1bab4,#976858,#e6d291,#c8ef93,#86e37e,#14b5a9,#1380e2,#1d6bd1,#225fc8,#2951ba,#2e42a9,#303ea4,#313a9f,#33379a,#333598,#343597,#343597,#343597,#343597,#343597,#343597,#343597,#343597,#343597,#343597,#343597,#343597,#343597,#343597,#343597,#343597,#343597,#343597,#343597,#343597,#343597,#343597,#343597,#333598,#333598,#333598,#2a4bb1,#2064cc,#1b6ed4,#147ee0,#0e8ae9,#0d8deb,#089ce3,#17c95c,#1bca5d,#30d162,#2dd061,#99e784,#eee899,#9f7057,#a67d70,#dac5c0,#e4d5d1,#dcc9c4,#ab8478,#996953,#ebde95,#dbf198,#51d76d,#0d99cc,#1c6cd3,#2260c8,#2756bf,#2c46ae,#2f40a6,#313ba1,#32399d,#33379a,#333598,#343496,#343496,#343496,#343496,#343496,#343496,#343496,#343496,#343496,#343496,#343496 300.0px)"></div><div style="top:100px;height:2px;background:linear-gradient(90deg,#1e68cf 1.0px,#1e68d0,#1e69d0,#245cc5,#235ec7,#225fc8,#1e67cf,#2163cb,#2063cc,#2161ca,#255bc4,#255ac4,#2658c1,#2659c2,#2854bd,#294fb8,#2950b9,#2658c1,#2852bc,#2b4ab3,#2c47af,#2e42a9,#2d45ad,#2d44ac,#2e42aa,#2d43ab,#2f40a7,#2d43ab,#2d45ad,#2f40a6,#2e41a8,#2f3ea4,#2f40a7,#2f3fa5,#2f3ea5,#2f3ea5,#303ea3,#303da3,#303da3,#31399e,#32399d,#313b9f,#2f3fa6,#2f3ea4,#2f3ea5,#2f40a7,#2f40a6,#2d43ab,#245ac3,#1c6dd3,#1778dc,#0996f0,#0d8deb,#09a1cf,#43d567,#30d061,#24cd5f,#26ce5f,#29cf60,#6dde75,#dcf198,#ccae7b,#a3796b,#e0cfcb,#f3ecea,#efe6e3,#c7aca4,#9c6e5a,#ede498,#b4eb8c,#64dc72,#0db0a7,#1777db,#2063cb,#245cc5,#2950b9,#2d43ab,#2f3ea4,#313a9e,#32379b,#333698,#343597,#343597,#343597,#343597,#343597,#343597,#343597,#343597,#343597,#343597,#343597,#343597,#343597,#343597,#343597,#343597,#343597,#343597,#343597,#343597,#343597,#343597,#343597,#333598,#333598,#333598,#2b4bb0,#1c6bd2,#1d6ad1,#1085e5,#1087e7,#0d8dea,#0799f2,#17c95c,#1fcc5e,#33d162,#30d062,#9ce885,#eee899,#9f7057,#a67d70,#dac5c1,#e4d4d1,#dbc8c3,#a98275,#9b6b54,#ede297,#d3f096,#56d96e,#0e90d6,#1e68cf,#235fc7,#2755bf,#2d45ad,#2e41a8,#303ca1,#32389c,#32379b,#333598,#343496,#343496,#343496,#343496,#343496,#343496,#343496,#343496,#343496,#343496,#343496 300.0px)"></div><div style="top:102px;height:2px;background:linear-gradient(90deg,#2065cd 1.0px,#2063cc,#1e69d0,#245bc5,#2261c9,#2162ca,#1c6dd3,#2161ca,#2260c8,#235dc6,#225fc8,#255ac3,#2658c1,#245cc5,#245cc5,#2851bb,#2950b9,#2657c1,#2754be,#2a4db6,#2c47af,#2e42a9,#2d44ac,#2d45ad,#2e43aa,#2d43ab,#2f3fa5,#2d44ac,#2e43aa,#2e41a7,#2e41a8,#2e41a7,#2f40a7,#2f3fa5,#2f3ea4,#303da3,#303da2,#303da3,#303ca1,#32399e,#32399d,#313a9f,#2f3fa5,#2f3fa5,#2f3fa5,#2e41a8,#2f3fa6,#2d44ac,#235dc5,#1776da,#1381e3,#0b92ee,#0c8eeb,#0a93ee,#3bd365,#27ce60,#2acf60,#2fd061,#22cc5f,#6cde75,#e0f299,#ccae7b,#a3796b,#e0cfcb,#f3ebe9,#ebe0dd,#ba998f,#a6785f,#eeed9b,#94e682,#4ed76b,#0ca8ae,#1b6ed4,#245dc6,#2754be,#294eb7,#2e42aa,#2f3fa6,#313a9e,#32379b,#333698,#343597,#343597,#343597,#343597,#343597,#343597,#343597,#343597,#343597,#343597,#343597,#343597,#343597,#343597,#343597,#343597,#343597,#343597,#343597,#343597,#343597,#343597,#343597,#333598,#333598,#333598,#2a4cb2,#1e68cf,#1c6cd3,#0f89e8,#0e8cea,#0e8cea,#089de3,#1ecb5e,#1ccb5d,#35d262,#31d162,#b1eb8c,#eee799,#9e6f57,#a77e71,#dac6c1,#e4d4d1,#dbc7c2,#a77f72,#9d6e56,#eee699,#cbef93,#51d86c,#0e99c6,#1e68cf,#235dc6,#2754be,#2e42aa,#2f40a7,#303ca2,#32389d,#33379a,#333598,#343496,#343496,#343496,#343496,#343496,#343496,#343496,#343496,#343496,#343496,#343496 300.0px)"></div><div style="top:104px;height:2px;background:linear-gradient(90deg,#1f65cd 1.0px,#2163cb,#1e67cf,#235ec7,#1f66ce,#2064cc,#1a70d6,#1f65cd,#2261c9,#235ec7,#2064cc,#245dc6,#2657c1,#245bc5,#245cc5,#2854bd,#2853bd,#2755bf,#2756c0,#294eb7,#2c48b0,#2d43ab,#2d45ae,#2c46ae,#2d43ab,#2d45ad,#2f3fa5,#2e41a8,#2e41a8,#2f3fa6,#2f40a7,#2e42a9,#2e42a9,#2f3fa5,#2f3ea4,#303ca1,#303ca1,#303ea4,#313ba0,#313a9f,#313a9e,#313ba0,#2f40a7,#303ea3,#2f3ea4,#2e41a9,#2f40a7,#2d46ad,#2162ca,#157bde,#167ade,#0a95ef,#0c90ed,#0995f0,#3cd365,#29ce60,#22cd5f,#2ed061,#14c85e,#74e077,#dbf198,#ccae7b,#a3796b,#e0cfcb,#f2eae8,#e6d8d4,#ac867a,#b7906b,#ebf39c,#77e079,#2ece67,#0b97df,#2064cc,#255ac4,#2851ba,#2c48b1,#2e40a7,#303ea3,#32389c,#33379a,#333598,#343597,#343597,#343597,#343597,#343597,#343597,#343597,#343597,#343597,#343597,#343597,#343597,#343597,#343597,#343597,#343597,#343597,#343597,#343597,#343597,#343597,#343597,#343597,#333598,#333598,#333598,#2b49af,#2163cb,#1c6bd2,#1283e4,#0e8cea,#0e8be9,#07a2d9,#16c95c,#1dcb5e,#33d162,#28ce60,#afeb8b,#eee699,#9d6e56,#a77f72,#dbc7c2,#e3d4d0,#d7c1bc,#a47a6c,#a17259,#eee99a,#bded90,#50d86c,#0c9cca,#1e69d0,#245bc5,#2754be,#2e43aa,#2f40a6,#313ba0,#32389c,#32379b,#333598,#343496,#343496,#343496,#343496,#343496,#343496,#343496,#343496,#343496,#343496,#343496 300.0px)"></div><div style="top:106px;height:2px;background:linear-gradient(90deg,#1f65cd 1.0px,#2064cc,#1f65cd,#235ec7,#1f65cd,#1e67cf,#1971d7,#1d6ad1,#2163cb,#245dc6,#2065cc,#2260c9,#255bc4,#2658c1,#2755bf,#2756bf,#2756c0,#2755bf,#2754be,#2a4eb7,#2b49b1,#2d44ac,#2d45ad,#2d45ad,#2d45ad,#2d45ad,#303da3,#2f40a6,#2f40a7,#303ea4,#2e41a7,#2e41a8,#2e42aa,#2f3ea4,#303da3,#303ca1,#313ba1,#2f3ea4,#313ba0,#31399e,#313a9f,#313a9f,#2f3fa5,#303da3,#2f3fa5,#2e43aa,#2e42a9,#2b49b1,#2064cc,#1778dc,#1776db,#0996f0,#0995f0,#099ce1,#49d669,#27ce60,#23cd5f,#23cd5f,#1cca60,#a0e886,#ecf39c,#c6a677,#a47a6d,#e1d0cc,#ece1de,#c9ada6,#9b6e5e,#d3b681,#e1f299,#57d96e,#17bf87,#0d8eeb,#2161ca,#2659c3,#2950b9,#2c46ae,#303da3,#313ba0,#32389c,#33379a,#343597,#343597,#343597,#343597,#343597,#343597,#343597,#343597,#343597,#343597,#343597,#343597,#343597,#343597,#343597,#343597,#343597,#343597,#343597,#343597,#343597,#343597,#343597,#343597,#333598,#333598,#333598,#2d46ac,#255ac4,#1c6cd3,#1380e1,#0e8cea,#0e8ae9,#069eee,#19ca5d,#1fcc5e,#35d263,#22cb64,#b6ec8d,#eee598,#9c6d55,#a88073,#dbc7c2,#e3d3cf,#cbb0a9,#996c5c,#b58b69,#ecf09b,#9be885,#32d162,#0a9cdb,#1d6bd2,#255ac4,#2853bc,#2e41a8,#2f3fa5,#313a9f,#32389c,#32379b,#333598,#343496,#343496,#343496,#343496,#343496,#343496,#343496,#343496,#343496,#343496,#343496 300.0px)"></div><div style="top:108px;height:2px;background:linear-gradient(90deg,#2161ca 1.0px,#2260c9,#2064cc,#245cc5,#2161ca,#2064cc,#1c6dd3,#1d6bd2,#2260c8,#2261c9,#1e68cf,#2064cc,#235ec7,#2657c1,#2754be,#2754be,#2754be,#2756c0,#2756bf,#294fb8,#2b4bb3,#2c46ae,#2d44ac,#2d44ac,#2c47af,#2d45ad,#303ca1,#2f3ea5,#2f3fa5,#303da2,#2e42a9,#2e42a9,#2e42a9,#2f3ea4,#2f3ea4,#303da3,#303ca2,#2f3ea4,#313ba0,#31399e,#303ca1,#313ba0,#2f3ea5,#303da3,#2f40a6,#2e43aa,#2e42aa,#2b49b1,#2260c8,#1c6dd3,#1973d8,#0b95e7,#09aeb6,#15c569,#45d668,#32d162,#2dd061,#3cd464,#43d567,#d1f095,#efe99a,#a2755d,#b7958b,#e7d9d6,#d1bab4,#a07567,#b7916b,#ecee9b,#b8ec8e,#31cf6a,#0bb49f,#1087e6,#2260c8,#2657c1,#2a4db5,#2d44ac,#303da3,#31399e,#32389c,#33379a,#333598,#343597,#343597,#333598,#333598,#333598,#333598,#333598,#333598,#333598,#333598,#333598,#333598,#333598,#333598,#333598,#333598,#333598,#333598,#333598,#333598,#333598,#333598,#333598,#333598,#333598,#333598,#2c47ae,#2659c2,#1f66ce,#157cdf,#0c8fec,#0d8dea,#069def,#1dca62,#26ce5f,#42d567,#23cc64,#aeeb8b,#ede398,#9b6c55,#a98174,#d9c4bf,#dcc9c4,#be9e95,#966755,#ccad7b,#e5f29a,#81e27c,#15c17a,#0c90ec,#1e67cf,#2756c0,#2853bc,#2e41a9,#2f3fa5,#313a9e,#32379b,#32379b,#343597,#343496,#343496,#343496,#343496,#343496,#343496,#343496,#343496,#343496,#343496,#343496 300.0px)"></div><div style="top:110px;height:2px;background:linear-gradient(90deg,#225fc8 1.0px,#225fc8,#1b6fd5,#2260c9,#2162cb,#2163cb,#1c6dd3,#1d69d1,#2163cb,#2163cb,#1d6ad1,#1d6ad1,#2161ca,#2559c3,#2658c2,#2756c0,#2657c1,#2657c1,#255ac4,#2852bc,#2950b9,#2b49b1,#2d45ad,#2c46af,#2b4bb4,#2c47af,#303ea3,#2e41a8,#2f3fa6,#2f3fa6,#2c46ae,#2d45ad,#2e42aa,#2e41a7,#2e41a8,#2e41a7,#2f3ea5,#2f3fa6,#303ea4,#303da2,#2f40a7,#303ca2,#2e41a7,#2e41a7,#2d45ac,#2b49b2,#2c47b0,#2b4bb3,#245bc4,#1b6dd4,#1a71d7,#0c9dc6,#17c767,#48d668,#80e27b,#6ede75,#75e078,#6fdf76,#90e581,#eef49d,#d3b781,#9c6f60,#d2bab4,#d2bab4,#a77e71,#ac8163,#f0e89a,#ccef94,#62dc72,#0fb992,#099be0,#1679dd,#245cc5,#2755bf,#2b4ab3,#2d43ab,#2f3fa5,#313ba0,#32389c,#33369a,#333699,#333699,#333699,#33369a,#32379b,#32389c,#32379b,#33379a,#33379a,#33379a,#33379a,#33379a,#32389b,#32379b,#32379b,#32379b,#32379b,#33379a,#33379a,#33379a,#33379a,#33379a,#333699,#33379a,#33379a,#33369a,#33379a,#2c48af,#255ac3,#2065cc,#147de0,#0b90ed,#07a5d6,#0bbd7d,#1ac95f,#32d162,#46d668,#34d164,#c1ee91,#ede297,#9b6b54,#a67d70,#b49085,#b08a7f,#a17668,#9c6c55,#e3ce8e,#d5f196,#5fdb71,#0bb39f,#1184e4,#1f66cd,#2755bf,#294eb7,#2e41a8,#303ea4,#31399e,#32379b,#33379a,#343496,#343496,#343496,#343496,#343496,#343496,#343496,#343496,#343496,#343496,#343496,#343496 300.0px)"></div><div style="top:112px;height:2px;background:linear-gradient(90deg,#2162ca 1.0px,#2064cc,#1778dc,#1f67ce,#1f65cd,#2064cc,#1c6dd3,#1d6ad1,#1f66ce,#1f66ce,#1c6cd3,#1d6bd2,#1f65cd,#2162cb,#235fc7,#2658c2,#2658c2,#245dc6,#2260c8,#2755be,#2853bc,#2b48b1,#2d45ad,#2a4bb4,#294fb8,#2c47b0,#2f3ea4,#2d43ab,#2d43ab,#2e42a9,#2b48b1,#2c47af,#2d44ac,#2a4cb4,#2656bd,#1e67cd,#1f66ce,#1d6ad1,#1e68d0,#2260c9,#1f67ce,#235dc6,#2655bc,#2b49b1,#2a4cb5,#294fb8,#2a4db5,#294eb7,#2559c2,#1b6ed4,#1a71d7,#099be1,#28cd62,#64dc72,#a7ea89,#aaeb8a,#afec8c,#aaeb8a,#b1ec8c,#efee9b,#a87b61,#b28e83,#ba998f,#9c7061,#a97d61,#e9da94,#e9f39b,#88e37e,#1cc76c,#0c93e4,#1087e7,#1d6ad1,#255ac3,#2851ba,#2d45ad,#2e41a8,#303da3,#313ba0,#32389c,#32379b,#32389c,#32389b,#32379b,#32399d,#303ca1,#303ea4,#303ca2,#313a9f,#313a9e,#32399d,#313a9e,#313ca1,#303da3,#313a9f,#2b49af,#2654ba,#2752b8,#2a4cb2,#2a4cb2,#2a4bb2,#2c49b0,#2e41a7,#31399e,#313b9f,#313a9f,#31399e,#32389c,#2c49af,#255bc4,#2161ca,#1678dc,#0996f0,#0bbf74,#18ca5d,#40d466,#53d86c,#79e179,#55d96d,#c2ee91,#efe899,#b28867,#976753,#986854,#996953,#9b6b54,#cba97b,#eef19c,#abea89,#49d66a,#0a9fd0,#1778dc,#2261c9,#2851ba,#2a4db6,#2f40a7,#303ea3,#32389c,#32379b,#333698,#343496,#343496,#343496,#343496,#343496,#343496,#343496,#343496,#343496,#343496,#343496,#343496 300.0px)"></div><div style="top:114px;height:2px;background:linear-gradient(90deg,#225fc8 1.0px,#1c6dd3,#1678dc,#1d6bd2,#1c6bd2,#2064cc,#1776da,#1b6dd4,#1b6ed4,#1b6fd5,#1a6fd5,#1d6ad1,#1d6ad1,#1d6ad1,#2063cb,#255bc4,#255ac4,#2163cb,#1e68cf,#2658c1,#2657c0,#2a4cb4,#2c48b0,#294fb8,#2950ba,#2b4bb3,#2e42a9,#2c48b0,#2a4bb4,#2c47af,#2a4db6,#2657bf,#2063ca,#1c6dd3,#1874d9,#147ddf,#1875da,#1678dc,#1972d8,#2064cc,#2064cc,#2161ca,#1c6cd2,#1e68d0,#225fc7,#245bc5,#2950ba,#2950b9,#2658c2,#1c6cd3,#167add,#0ab0ac,#39d266,#8be47f,#b2ec8c,#b4ed8d,#b0ec8c,#b6ed8e,#c6ef92,#eee99a,#9f725c,#a17668,#9c6d59,#ccac7b,#f0eb9b,#e8f39b,#bfee90,#3ad266,#0aa1cb,#1875da,#1b6fd5,#235ec7,#2754bd,#2a4db6,#2e43aa,#2f3ea5,#303ca1,#313ba0,#313a9f,#31399e,#32399e,#32399e,#32399d,#303ca2,#2f3fa5,#2e42a9,#2e41a8,#2f3fa5,#303ea4,#2f3ea4,#2f40a7,#2e41a8,#2a4bb2,#2656bf,#1974d8,#1875da,#1b6dd4,#2162ca,#1f65cd,#2063cb,#2260c9,#2260c8,#2161ca,#2b49af,#2f3fa5,#303da3,#303ca1,#313ba0,#2755bf,#245cc5,#1973d8,#0996f0,#12c566,#22cc5f,#51d86b,#64dc72,#8ae47f,#52d96c,#81e27c,#d6f196,#ece197,#d9bf86,#e2ca8d,#e8d592,#ebdc95,#ebed9a,#c4ee91,#59da6f,#19c865,#1086e5,#1c6bd2,#245cc5,#294eb7,#2b4ab2,#2f40a6,#303da3,#32389c,#33379a,#333598,#343496,#343496,#343496,#343496,#343496,#343496,#343496,#343496,#343496,#343496,#343496,#343496 300.0px)"></div><div style="top:116px;height:2px;background:linear-gradient(90deg,#245ac3 1.0px,#1c6cd3,#1a70d6,#1d69d0,#1b6fd5,#1f66ce,#1972d7,#1b6ed5,#1972d8,#1875d9,#1875da,#1e67cf,#1c6cd2,#1c6dd3,#1f67ce,#2659c2,#2559c3,#1f67ce,#1d6bd1,#245cc5,#2658c2,#2852bc,#294fb8,#2754bd,#2657c1,#2950ba,#2c47af,#2852bb,#2658c1,#2851ba,#2162c9,#147de0,#157ddf,#1778dc,#1380e2,#0f89e8,#1086e6,#0d8eeb,#137fe1,#1c6dd3,#1e69d0,#2064cc,#1a6fd5,#1a71d7,#1b6dd4,#1c6bd2,#2853bd,#2657c0,#255ac3,#1b6fd5,#1283e4,#0bb891,#47d569,#95e783,#bcee8f,#bdee90,#aeec8c,#b5ec8d,#cff094,#ede398,#b48a68,#caab7a,#eadc94,#e3f29a,#c1ee91,#8ee580,#65dc72,#12b3aa,#1086e5,#235ec7,#2065cc,#2559c2,#294fb8,#2c48b0,#2e41a8,#303da3,#31399e,#313b9f,#313a9f,#313a9f,#32399d,#313a9e,#32399d,#303ca1,#303ea3,#2e42a9,#2e41a8,#2f3fa5,#303ea4,#2f3fa5,#2e41a8,#2754bb,#1c6dd3,#2065cd,#1087e7,#1381e2,#1777db,#1d6ad1,#1972d7,#1d6bd2,#1f65cd,#1f66ce,#1f66cd,#1e68cf,#2656bf,#2f3ea4,#303da2,#303ca1,#2c47af,#2756c0,#1b6fd5,#0c90ed,#13bf80,#30d162,#51d86b,#5fdb70,#8fe581,#52d96c,#45d667,#84e37d,#cff095,#d2f095,#bced8f,#c7ef93,#ccef94,#9fe886,#69dd74,#16c374,#0999e8,#1c6ed4,#245cc5,#2559c2,#2b4bb4,#2c47af,#2f40a6,#303da3,#32389c,#333699,#343597,#343496,#343496,#343496,#343496,#343496,#343496,#343496,#343496,#343496,#343496,#343496,#343496 300.0px)"></div><div style="top:118px;height:2px;background:linear-gradient(90deg,#235dc6 1.0px,#1b6fd5,#1c6bd2,#1d69d1,#1b6ed4,#1d6ad1,#1972d7,#1c6cd3,#1874d9,#1776da,#1972d8,#1d6ad1,#1e69d0,#1c6bd2,#1d6bd2,#225fc8,#245dc6,#1e69d0,#1b6fd5,#225fc7,#2756c0,#245dc6,#245bc5,#245bc5,#255ac4,#255ac3,#2851ba,#245cc5,#2162ca,#235fc8,#1185e5,#1088e7,#0f88e8,#1087e7,#0f89e8,#0e8cea,#0d8eeb,#0c90ec,#0d8eeb,#1776db,#1b6fd5,#1d69d0,#1874d9,#1777db,#1875d9,#1875da,#2559c2,#245cc5,#235dc6,#1874d9,#0d8de9,#0fbe80,#52d86c,#9fe886,#caef93,#b9ed8f,#adeb8b,#b4ed8d,#beee90,#e7f19a,#ecf19c,#daf197,#c4ee91,#8ae47f,#55d96d,#1fc86b,#14c07d,#0c90ea,#1b6fd4,#2852bc,#235dc6,#2851bb,#2c46af,#2e42a9,#303da2,#313a9f,#32379b,#313a9f,#313a9f,#32399d,#313a9f,#313ba0,#313a9e,#303da2,#303ea4,#2e41a9,#2f40a7,#303ea4,#2f3ea5,#2c48af,#2161c8,#1b6ed5,#1777db,#1a71d6,#0b91ed,#0e8be9,#1381e3,#1678dc,#1282e3,#1a71d7,#1a70d6,#1d69d0,#1d6ad1,#1c6dd3,#2162cb,#2558c0,#303ea4,#313ca1,#313a9f,#2755be,#1a71d6,#0b92ee,#0cba8d,#34d263,#71df76,#57da6d,#81e27c,#3ed465,#39d363,#4ad769,#68dd73,#45d569,#3fd367,#44d568,#48d669,#1dc576,#12c46c,#099dda,#137fe1,#2260c9,#2657c1,#2854bd,#2d45ad,#2d43ab,#303da3,#313ba1,#33379a,#333699,#343496,#343496,#343496,#343496,#343496,#343496,#343496,#343496,#343496,#343496,#343496,#343496,#343496 300.0px)"></div><div style="top:120px;height:2px;background:linear-gradient(90deg,#2162ca 1.0px,#1e68cf,#1b6ed4,#1d6ad1,#1f66ce,#1d6ad1,#1972d8,#1c6cd2,#1876da,#1972d7,#1a71d7,#1a6fd5,#2064cc,#1c6bd2,#1a6fd5,#2162ca,#2161ca,#1f67ce,#1972d7,#2162ca,#2755bf,#2161ca,#1f67ce,#2162cb,#2161ca,#2162cb,#235ec7,#2064cc,#1c6dd3,#1c6cd3,#0f89e7,#0d8deb,#0897f1,#0996f0,#0996f0,#0b91ed,#0995ef,#069df1,#0799f2,#0e8be9,#147de0,#1777db,#1381e3,#157bde,#157bde,#1973d8,#2162ca,#2260c9,#2260c9,#157bde,#0a93ed,#18ca5d,#46d668,#9ee886,#c2ee91,#bdee90,#a6ea89,#b9ed8e,#baed8f,#b7ed8e,#adeb8b,#8ee580,#3cd365,#31d162,#19c573,#07a5d5,#0a96e9,#1875d9,#245cc5,#2a4eb7,#235dc6,#2b4bb3,#2d43ab,#303ea4,#313a9f,#32399d,#32379b,#31399e,#313a9e,#32389c,#313ba0,#313a9f,#31399e,#303da3,#2f3ea4,#2e42a9,#2e41a8,#303da3,#2d44ab,#245bc5,#1777db,#157cdf,#1186e6,#147ee0,#0898f1,#089de5,#0f8ae9,#0e8bea,#0e8be9,#147de0,#147de0,#1778dc,#1973d8,#1776da,#1e68d0,#1f66ce,#2559c1,#303ca1,#303da2,#2c48af,#1974d9,#0b92ee,#09b1ac,#3cd365,#72df77,#58da6e,#7ae17a,#32d162,#40d566,#3ed465,#39d264,#0dc076,#07a0e4,#08a7c7,#09a7c3,#0b93e6,#0d8ee9,#147fe1,#1f67ce,#2658c1,#2756bf,#294fb8,#2e42a9,#2f40a6,#313ba0,#32399d,#333699,#343597,#343496,#343496,#343496,#343496,#343496,#343496,#343496,#343496,#343496,#343496,#343496,#343496,#343496 300.0px)"></div><div style="top:122px;height:2px;background:linear-gradient(90deg,#1e68cf 1.0px,#2064cc,#1a6fd5,#1f65cd,#225fc8,#1f67ce,#1972d7,#1875da,#1876da,#1a71d6,#1a70d6,#1a6fd5,#235fc8,#1c6cd2,#1a6fd5,#2161ca,#2063cb,#1f65cd,#1972d7,#2064cc,#2853bd,#2260c9,#1a71d7,#1d69d0,#1c6cd3,#1c6dd3,#2063cb,#1e68cf,#1c6bd2,#1a71d7,#0f89e8,#0b91ed,#06a0e8,#079af2,#069dee,#0897f1,#07a1dc,#08acbc,#08b1ac,#089aec,#0e8cea,#0f89e8,#0d8dea,#1185e5,#1086e6,#1679dd,#1e67cf,#1f66ce,#1d6ad1,#147ee0,#0c90e9,#0ebe7e,#3bd365,#75e078,#c0ee90,#c2ee91,#9ee886,#b5ed8e,#c0ee91,#bfee90,#99e784,#4fd86c,#0ec077,#14c667,#08a9c4,#0d8eeb,#1185e5,#2064cc,#2756c0,#2951ba,#2559c3,#2d43ab,#2f40a6,#303ca1,#32389c,#32389c,#32389c,#32389c,#313a9f,#31399e,#313ba0,#313ba0,#303ca1,#2f3fa6,#2f40a7,#2d43ab,#2d44ac,#2e41a8,#2754bc,#235fc8,#1282e3,#0c8fec,#079ced,#0e8cea,#08a6cb,#07a8d0,#0899ef,#0995f0,#0b92ee,#1282e3,#0d8cea,#0c90ec,#1086e6,#157cdf,#1a71d7,#1b6ed4,#2065cd,#2559c0,#303ca2,#2a4db4,#1972d7,#0c90ed,#06a4da,#23cd5f,#36d264,#40d467,#63dc72,#2ed061,#19c66b,#1dcb5e,#1bc66e,#0aaeaa,#0e8ae9,#0b91ed,#157cdf,#1b6ed4,#1b6ed4,#2163cb,#2657c1,#2853bc,#2950b9,#2c48b0,#2f3fa6,#303da3,#32389c,#32379b,#333699,#343497,#343496,#343496,#343496,#343496,#343496,#343496,#343496,#343496,#343496,#343496,#343496,#343496,#343496 300.0px)"></div><div style="top:124px;height:2px;background:linear-gradient(90deg,#1b6ed4 1.0px,#1e68cf,#1c6dd3,#2064cc,#245cc5,#1e67cf,#1874d9,#137fe1,#1679dd,#1973d8,#1a6fd5,#1a70d6,#235ec7,#1d6ad1,#1d6ad1,#235fc8,#2163cb,#2064cc,#1c6cd2,#2162cb,#2755be,#245dc6,#1a71d7,#1d69d0,#1874d9,#1874d9,#235fc8,#1d6ad1,#1b6dd4,#157cdf,#0996ee,#0a94ef,#07a8ce,#07a8cd,#0abc81,#07a8cc,#0db59d,#17c95e,#19ca5d,#09b4a0,#089de2,#0a94ef,#0996f0,#0b91ed,#0b91ed,#137fe1,#1c6cd3,#1b6dd4,#1875da,#0f88e8,#0e8be9,#06a3de,#18c571,#50d86b,#8de580,#b3ec8d,#a4ea88,#b0ec8c,#b3ec8d,#b7ed8e,#6cde75,#1fcc5e,#08b0af,#07a7cd,#0c8feb,#1777db,#1380e2,#2065cd,#2854bd,#2851ba,#2753bd,#2f3fa6,#303ca1,#313a9f,#32399e,#32399d,#32389c,#32389b,#313ba0,#313ba0,#313ba1,#303ca1,#303da2,#2e42a9,#2e41a9,#2e42aa,#2c47af,#2851ba,#2161ca,#1e67cf,#1087e7,#0897f1,#08b0b1,#0d8eeb,#07a9c7,#09b698,#07a8cf,#07a3da,#089aeb,#0f89e8,#0a94ef,#089ee5,#0996f0,#1087e7,#1679dd,#1776db,#1b6ed4,#1e68cf,#2c47ae,#2163cb,#1b6ed4,#0d8deb,#079cf0,#15c95c,#23cd5f,#1eca62,#48d668,#15bd8a,#09b3a2,#0abb86,#09a8c2,#0d8eeb,#1678dc,#137fe1,#2064cc,#245cc5,#255ac3,#2852bc,#294eb7,#2a4cb4,#2b49b1,#2e43aa,#303ea4,#313ba0,#33379a,#33379a,#333598,#343496,#343496,#343496,#343496,#343496,#343496,#343496,#343496,#343496,#343496,#343496,#343496,#343496,#343496 300.0px)"></div><div style="top:126px;height:2px;background:linear-gradient(90deg,#1c6dd3 1.0px,#1b6dd4,#1c6cd3,#2064cc,#255bc4,#1f66ce,#1679dd,#1185e6,#1679dc,#1875da,#1776da,#1874d9,#2162ca,#1d69d0,#1d6ad1,#235dc6,#2261c9,#1e68cf,#1d6bd2,#2064cc,#255ac3,#255ac4,#1c6cd3,#1e69d0,#1875da,#1a70d6,#255ac3,#1b6ed4,#157ddf,#0f88e7,#069fe9,#079af3,#07abc2,#09b49e,#19c960,#1ccb5d,#27ce60,#33d162,#1dcb5e,#0ebd83,#08adbc,#07a9cb,#07a5d8,#0899f0,#0a98e0,#1381e2,#1874d9,#1876da,#1381e2,#0e8be9,#0d8deb,#0995f0,#08adbd,#1dc868,#74e077,#89e47f,#6bde74,#7de27b,#62dc71,#5fdb70,#2dcf61,#0eba8c,#069cf4,#0b92ed,#157ade,#1b6ed4,#1380e2,#2064cc,#2755be,#2951ba,#2a4cb5,#303da2,#313a9e,#313a9e,#313b9f,#313a9e,#313ba0,#32399d,#303ca1,#303da3,#303da3,#303ca2,#303da3,#2d44ac,#2d43ab,#2e42a9,#2c47b0,#235dc5,#1f66ce,#1875da,#1381e2,#07a2dd,#0ec075,#0996f0,#08afb5,#0cc26c,#0dc26c,#11c563,#14bf84,#07a1de,#08a9c0,#06a2e2,#06a3dd,#0a94ef,#1184e5,#137fe1,#1874d9,#1d6ad1,#2162cb,#1e67cf,#1876da,#0d8deb,#069feb,#12c662,#0ec172,#0ab0af,#11c75c,#08a3d2,#089ce5,#079fe7,#0f8ae9,#137fe1,#1c6cd3,#1f65cd,#2755be,#2852bb,#294fb9,#2a4db5,#2c47af,#2d44ac,#2d44ac,#2f3fa6,#313ba1,#32399d,#33379a,#333699,#343496,#343496,#343496,#343496,#343496,#343496,#343496,#343496,#343496,#343496,#343496,#343496,#343496,#343496,#343496 300.0px)"></div><div style="top:128px;height:2px;background:linear-gradient(90deg,#1e68cf 1.0px,#1b6ed4,#1c6bd2,#2063cc,#2064cc,#1c6dd3,#157cdf,#1185e5,#157cde,#1874d9,#167add,#147ee1,#1d6ad1,#1b6dd4,#1e69d0,#245cc5,#2261c9,#1c6bd2,#1a70d6,#2162ca,#235dc6,#2659c2,#1d6ad1,#1d69d0,#1c6cd2,#2065cd,#255ac3,#1875d9,#0e8cea,#0c90ec,#08adba,#07a0e2,#08afb2,#0cbf78,#3cd465,#3bd464,#3cd365,#4ad769,#20cc5e,#0aba8a,#0ab891,#0ec561,#0ab98b,#06a2e4,#099eda,#147de0,#147ddf,#1972d8,#1282e3,#1086e6,#0c90ec,#0b92ee,#06a1e6,#21cb65,#65dd72,#51d86b,#2dd061,#32d162,#2ccf61,#20cc5e,#0abc82,#09acb7,#0c8eeb,#1381e2,#1778dc,#1c6dd3,#1778dc,#2063cb,#2657c1,#2851bb,#2f3fa5,#313ba1,#313a9e,#303ca1,#303ca1,#303ca2,#303da3,#313ba0,#303da2,#303da3,#303ea3,#303ea3,#2f3fa5,#2d45ad,#2c46ae,#2e42aa,#2b49b1,#2064cc,#1f66cd,#1678dc,#1381e2,#08b0af,#0fc466,#09a3cc,#12bd86,#22cd5f,#28ce60,#24cd5f,#30d162,#0ab98c,#0dbd7f,#0ab2a8,#07abc3,#069df0,#0e8cea,#1282e3,#1777db,#1c6cd2,#1e67cf,#1f66ce,#157bde,#0b92ee,#069df2,#0aba8a,#09b2a6,#0897f1,#089de3,#0e8be9,#1184e5,#1282e3,#1875d9,#1e69d0,#2852bb,#2a4db6,#2b4bb3,#2d46ae,#2c46ae,#2d45ac,#2e41a8,#2e41a8,#2e40a7,#313a9f,#313a9e,#32389c,#333699,#343496,#343496,#343496,#343496,#343496,#343496,#343496,#343496,#343496,#343496,#343496,#343496,#343496,#343496,#343496,#343496 300.0px)"></div><div style="top:130px;height:2px;background:linear-gradient(90deg,#1e69d0 1.0px,#1972d7,#1a70d6,#2064cc,#1e67cf,#1973d8,#1777db,#137fe1,#157bde,#1875da,#157bde,#147ee0,#1c6dd3,#1b6ed4,#1e68cf,#2659c3,#2161ca,#1a6fd5,#1a70d6,#2261c9,#2064cc,#245cc5,#1c6cd2,#1b6dd4,#2162ca,#2162cb,#245cc5,#157cdf,#0898f1,#0996f0,#09b49f,#09b59a,#0cb98e,#30d062,#4cd769,#4ed86a,#58da6e,#64dc72,#2dcf61,#15c764,#0dc16f,#13c664,#17c66b,#09b698,#08a1db,#147de0,#1679dd,#1b6ed4,#1381e2,#1087e7,#0a93ee,#0a94ef,#08b0ae,#37d264,#71df77,#5ddb6f,#2bcf60,#0dbf78,#08a7c6,#089ee2,#089be8,#0a95e7,#1679dc,#147fe1,#1874d9,#1c6bd2,#1a71d7,#245cc6,#2755bf,#2950b9,#303ca2,#303ca2,#303ca1,#303da3,#303ca2,#2f3fa6,#2f3fa6,#2f3ea4,#2f3fa5,#303ea3,#2f3fa6,#2e41a8,#2e41a8,#2c46af,#2d45ad,#2c46ae,#2559c1,#1f67ce,#1e68d0,#1778dc,#0f89e8,#09b2a7,#14c46e,#09b49f,#31d063,#34d262,#32d162,#35d263,#3cd465,#0dc463,#10bf7c,#17c66b,#09b3a5,#06a4dc,#0c90ec,#1281e3,#1875da,#1b6ed4,#1f66ce,#1f66ce,#1283e4,#0b92ee,#0996f0,#079af1,#0995f0,#1184e5,#1283e4,#1972d8,#1a71d6,#1d69d0,#225fc8,#2b4ab2,#2e42aa,#2d44ac,#2d44ac,#2e41a7,#2e41a8,#2e41a8,#2f3fa5,#2f3ea4,#2f3fa5,#32389b,#33379a,#33379a,#343597,#343496,#343496,#343496,#343496,#343496,#343496,#343496,#343496,#343496,#343496,#343496,#343496,#343496,#343496,#343496,#343496 300.0px)"></div><div style="top:132px;height:2px;background:linear-gradient(90deg,#2063cb 1.0px,#1d6bd2,#1c6dd3,#1e68cf,#1e68cf,#1875d9,#1973d8,#1874d9,#1776da,#157bde,#157cdf,#167add,#1c6bd2,#1a71d7,#1f65cd,#245cc5,#2064cc,#1c6dd3,#1972d7,#2162ca,#1e67cf,#2163cb,#1b6dd4,#1c6cd3,#235ec7,#2162ca,#235fc8,#1283e4,#06a2e4,#079ce9,#08afb2,#0cbd80,#20c86f,#46d668,#51d86b,#78e079,#6ade74,#78e179,#3fd465,#24cd5f,#15c860,#24cd5f,#29cf60,#11c566,#08a2d2,#1184e4,#147ddf,#1c6dd3,#147ee0,#1087e7,#0b92ed,#079af2,#13c07e,#4cd76b,#89e47f,#56d96d,#29cf60,#0aa8b6,#0d8deb,#137fe1,#1283e4,#0f89e8,#1c6dd3,#1973d8,#1b6fd5,#1d69d0,#1b6ed4,#2657c0,#2853bd,#2e41a7,#2f3ea5,#303ca2,#2f3ea4,#2f3ea4,#2f3ea4,#2e42a9,#2e41a8,#2e41a8,#2e42a9,#2f40a6,#2e41a8,#2d44ac,#2d44ab,#2d45ad,#2c47af,#2b49b1,#2162ca,#1c6cd3,#1c6cd3,#1876da,#0c8feb,#07a9c8,#11bf7c,#0fc077,#38d264,#35d263,#37d363,#39d364,#36d263,#0bbb86,#0fbf7c,#1fcc5e,#0bb69c,#07a8cd,#0b91ed,#1282e3,#147ee0,#157bde,#1e68cf,#1e68cf,#0e8ae9,#0c8fec,#0c90ec,#0f89e8,#0f8ae9,#157cdf,#1a70d6,#2064cc,#245cc5,#2b4bb3,#2f3fa6,#2f3ea4,#2f3ea4,#2e41a8,#2f40a7,#303da2,#303ea3,#303da3,#313ba0,#313a9f,#313a9f,#333699,#333699,#343597,#343496,#343496,#343496,#343496,#343496,#343496,#343496,#343496,#343496,#343496,#343496,#343496,#343496,#343496,#343496,#343496,#343496 300.0px)"></div><div style="top:134px;height:2px;background:linear-gradient(90deg,#2063cb 1.0px,#1f65cd,#1e69d0,#1d6bd1,#1e67cf,#1972d7,#1a71d7,#1a71d6,#157bde,#1086e6,#147ee1,#1875da,#1c6dd3,#1679dc,#1e68cf,#1f66ce,#2163cb,#1e68cf,#1a71d7,#1e68cf,#1c6bd2,#2162cb,#1876da,#1b6fd5,#2161ca,#1e69d0,#2161ca,#0d8dea,#07a5d4,#08a5cc,#09b49f,#09b59c,#34d164,#56d96d,#5edb70,#87e47e,#8ae47f,#8fe581,#66dd73,#2fd062,#1ecb5e,#2ccf61,#42d567,#16c860,#0ab795,#0d8dea,#137fe1,#1a70d6,#147de0,#0f89e8,#0c8fec,#0997f1,#15c56b,#49d669,#8fe581,#4ed86a,#1ac76a,#0d8dea,#1281e3,#147fe1,#1381e3,#1282e3,#1f66ce,#1b6dd4,#1d69d0,#1b6dd4,#1c6bd2,#2657c1,#2853bc,#2d44ab,#2f3fa6,#2f3ea4,#2f3fa6,#2f40a7,#2f3fa5,#2e41a8,#2d45ad,#2e42aa,#2d45ad,#2e42a9,#2e43aa,#2c48b0,#2c48b1,#2c47b0,#2b49b1,#2a4db5,#1d69d0,#1972d8,#1b6fd5,#1679dd,#099dd9,#07a1e1,#12c568,#0ec369,#35d263,#30d062,#38d363,#38d264,#35d263,#11c174,#0fbf7c,#15c860,#0ab892,#07aac6,#0a94ef,#1185e5,#0f89e8,#1087e7,#1e68cf,#1d6bd2,#1086e6,#1086e6,#0e8ae9,#147ee0,#157bde,#1874d9,#1e67cf,#245dc6,#32399e,#313ba0,#31399e,#32399d,#32399d,#303ca2,#303da2,#31399e,#313a9f,#313b9f,#32399d,#32389b,#32379b,#333598,#343496,#343496,#343496,#343496,#343496,#343496,#343496,#343496,#343496,#343496,#343496,#343496,#343496,#343496,#343496,#343496,#343496,#343496,#343496 300.0px)"></div><div style="top:136px;height:2px;background:linear-gradient(90deg,#1f66cd 1.0px,#2161ca,#1d69d0,#1b6fd5,#1e67cf,#1972d7,#1777db,#1973d8,#1778dc,#0e8be9,#1281e3,#157cdf,#1d6bd1,#157cdf,#1d69d0,#1e69d0,#2064cc,#1e67cf,#1972d8,#1b6dd4,#1d6ad1,#2161ca,#157ade,#1778dc,#1e68d0,#1a70d5,#1f66ce,#0a98e5,#079cee,#08adbc,#0bb894,#0ec464,#48d669,#68dd73,#67dd73,#8de580,#91e682,#8ee581,#75e078,#39d264,#15c85f,#2acf60,#38d363,#22cd5f,#0fb899,#0996f0,#0f89e8,#1776db,#1380e2,#0c8fec,#0d8dea,#0898ee,#0ebc86,#48d669,#84e37d,#39d364,#13b997,#1183e4,#1380e2,#1185e5,#1184e5,#1776db,#1e68cf,#1d69d0,#1e68cf,#1c6cd3,#1e67cf,#2559c3,#2754be,#313b9f,#2e41a7,#2f3fa6,#2f3fa5,#2e41a7,#2e40a7,#2e42a9,#2c46ae,#2d44ac,#2c47af,#2d44ab,#2d45ad,#2b49b1,#2b4ab3,#2b49b2,#2b49b1,#2655be,#1b6ed4,#1a71d6,#1a71d6,#1282e3,#079ee8,#079cec,#18c56e,#14c760,#38d363,#30d162,#31d162,#39d364,#3ad364,#17c95d,#13c36f,#18c861,#0cbf78,#0ab98b,#079cef,#0e8bea,#0c8fec,#0d8dea,#1d6bd2,#2064cc,#1380e2,#1087e7,#1184e5,#1678dc,#1972d7,#1e68cf,#235fc7,#2d46ad,#32379b,#32389c,#32389b,#33379a,#33379a,#32399d,#31399e,#32379b,#32389b,#32379b,#32379b,#333699,#343597,#343496,#343496,#343496,#343496,#343496,#343496,#343496,#343496,#343496,#343496,#343496,#343496,#343496,#343496,#343496,#343496,#343496,#343496,#343496,#343496 300.0px)"></div><div style="top:138px;height:2px;background:linear-gradient(90deg,#1e68cf 1.0px,#2064cc,#1d6bd2,#1d6ad1,#2161ca,#1a6fd5,#1086e6,#1973d8,#1875d9,#1282e4,#147ee0,#147ee0,#1c6cd3,#1778dc,#2063cb,#2260c9,#2162ca,#1f67ce,#1776da,#1874d9,#1d6ad1,#2260c8,#147ddf,#157bde,#1b6fd5,#1973d8,#1d6bd2,#08a6cb,#0a94ef,#09b69a,#0fbf7d,#18c95e,#5ddb6f,#5fdb70,#63dc72,#8fe581,#92e682,#81e27c,#62dc71,#44d567,#1bca5d,#1aca5d,#35d263,#29ce60,#19c086,#07a2e0,#0a93ee,#157bde,#1282e3,#0996f0,#0d8eeb,#07a4da,#15c95c,#37d264,#7ce17a,#30d162,#0cadb0,#137fe1,#1088e7,#0e8bea,#1184e5,#1c6bd2,#1c6cd3,#1b6ed4,#1e68cf,#1c6dd3,#2163cb,#255ac3,#2d46ad,#313a9f,#2f3fa5,#2f40a6,#2f40a7,#2e41a8,#2d44ac,#2e42aa,#2c48b1,#2d45ad,#2c47b0,#2c46ae,#2a4bb4,#2a4bb4,#2a4bb4,#2a4eb7,#2a4db5,#2558c1,#1972d7,#1874d9,#1778dc,#0d8dea,#08a8c8,#07a6d2,#29ce60,#1dc964,#49d769,#3ed466,#36d263,#4ed86a,#3ad364,#23cd5f,#1ccb5d,#17c95c,#0aba8a,#0fc075,#07a7d2,#0b93e9,#0b92ed,#0c90ec,#1776da,#2064cc,#1875d9,#1087e7,#1380e2,#1875da,#1b6dd4,#225fc8,#2756c0,#2e43a9,#333698,#333699,#333698,#333698,#333598,#333699,#333698,#333598,#333598,#343597,#343496,#343496,#343496,#343496,#343496,#343496,#343496,#343496,#343496,#343496,#343496,#343496,#343496,#343496,#343496,#343496,#343496,#343496,#343496,#343496,#343496,#343496,#343496 300.0px)"></div><div style="top:140px;height:2px;background:linear-gradient(90deg,#1d6bd2 1.0px,#2260c9,#1e67cf,#1e68cf,#2261c9,#1b6ed4,#0c90ec,#1b6fd5,#1972d7,#157cdf,#1974d8,#157ddf,#1d6bd2,#1a71d7,#2261c9,#245cc5,#2162cb,#1c6dd3,#1778dc,#1778dc,#1c6bd2,#2161ca,#157bde,#147ee1,#1972d8,#1d6ad1,#1d6ad1,#0898f1,#0b91ed,#0cbe7a,#18c95c,#24cd5f,#61dc71,#70df76,#65dd72,#8ce580,#90e581,#8de580,#66dd73,#39d364,#25cd5f,#12c663,#32d162,#23cd5f,#21cc5e,#08afb3,#0899f0,#147ee0,#1282e3,#079bf2,#0995f0,#0bba8b,#15c666,#43d567,#60dc71,#2bce64,#0aa1ce,#147fe1,#0e8ae9,#0c90ec,#1283e4,#1d6ad1,#1a70d6,#1972d7,#1e68cf,#1d6bd2,#235dc6,#2658c2,#313a9e,#313a9f,#2f3fa6,#2f40a6,#2f3fa6,#2d43ab,#2c46ae,#2e43aa,#2d44ac,#2d45ad,#2c48b0,#2b4bb4,#294fb8,#2a4db6,#2a4db6,#2851ba,#2853bd,#245bc4,#1875d9,#1972d7,#167ade,#0f8ae9,#08aac1,#09b4a1,#2ccf61,#20ca64,#47d668,#53d96c,#4cd76a,#5ddb6f,#41d566,#26ce5f,#24cd5f,#1bca5d,#10c26e,#10c65f,#08adbd,#07a0e2,#0997eb,#0a94ef,#157cdf,#1e68cf,#1776db,#157ddf,#147ee1,#1973d8,#1c6bd2,#2657c0,#2950b9,#333598,#343597,#343597,#343597,#343597,#343597,#343597,#343497,#343497,#343496,#343496,#343496,#343496,#343496,#343496,#343496,#343496,#343496,#343496,#343496,#343496,#343496,#343496,#343496,#343496,#343496,#343496,#343496,#343496,#343496,#343496,#343496,#343496,#343496 300.0px)"></div><div style="top:142px;height:2px;background:linear-gradient(90deg,#1b6ed4 1.0px,#245dc6,#1f66cd,#1b6ed4,#2260c9,#1f67ce,#0e8bea,#1c6dd3,#1974d9,#1678dc,#1d6bd2,#157ade,#1c6cd3,#1b6fd5,#1f66ce,#255ac4,#2162ca,#1a70d6,#1972d8,#1875da,#1971d7,#2161ca,#1a71d6,#1776da,#1875da,#1e68cf,#1e69d0,#0d8eeb,#0d8eeb,#09b2a6,#1aca5d,#23cd5f,#62dc71,#5ddb6f,#69dd74,#88e47e,#83e37d,#85e37e,#60dc71,#38d264,#29cf60,#15c95c,#27ce60,#25cd5f,#35d263,#11c175,#0898f1,#147fe1,#1183e4,#079af0,#0a96e7,#1bc37c,#24cd5f,#38d363,#58da6e,#19c570,#0a9bdb,#1184e5,#0d8eeb,#0c8fec,#1777db,#2065cc,#1d6ad1,#1972d7,#1f65cd,#1e68cf,#255ac3,#2b4ab1,#32399e,#32399d,#2f3ea5,#2f3fa5,#2f3fa5,#2d44ac,#2c46af,#2e42a9,#2d45ad,#2d44ac,#2c48b0,#2a4cb5,#2950b9,#2a4cb4,#294fb8,#2852bb,#2756c0,#245dc6,#167add,#1a70d6,#1380e2,#1184e5,#09acb5,#09b892,#38d264,#1dcb5e,#3dd366,#5cdb6f,#49d769,#70df76,#4fd86b,#2fd061,#39d364,#19ca5d,#0cc26b,#11c85b,#09b59c,#08a3d6,#0a97e9,#089aec,#1380e2,#1b6dd4,#1876da,#1875da,#147ee1,#1a6fd5,#2064cc,#2852bb,#2b49b2,#333598,#343597,#343597,#343597,#343597,#343597,#343597,#343497,#343497,#343496,#343496,#343496,#343496,#343496,#343496,#343496,#343496,#343496,#343496,#343496,#343496,#343496,#343496,#343496,#343496,#343496,#343496,#343496,#343496,#343496,#343496,#343496,#343496,#343496 300.0px)"></div><div style="top:144px;height:2px;background:linear-gradient(90deg,#1777db 1.0px,#225fc8,#1f66ce,#1875da,#2162cb,#2163cb,#1283e4,#1f67ce,#1974d9,#1875da,#1e68d0,#1973d8,#1a70d6,#1b6fd5,#1b6fd5,#245cc5,#2162cb,#1971d7,#1876da,#1b6ed5,#1972d8,#2163cb,#1b6ed4,#1a6fd5,#1777db,#1d6ad1,#1e68cf,#0d8eeb,#0b91ed,#0cbb87,#1aca5d,#30d061,#4ed86b,#53d96c,#5fdb70,#90e581,#6fdf76,#84e37d,#5fdb70,#3cd464,#35d263,#1aca5d,#31d162,#2dd061,#32d163,#13c46b,#0898ef,#147de0,#1184e4,#0996f0,#0a94eb,#18c766,#2bcf61,#47d668,#56d96d,#11b997,#0a95eb,#0d8cea,#0e8bea,#1087e7,#1972d7,#2163cb,#2064cc,#1f67ce,#2261c9,#235fc7,#2755be,#303ca2,#32399d,#31399e,#303ea4,#2f3ea4,#2f3fa5,#2d45ad,#2d43ab,#2e41a8,#2c46ae,#2c47b0,#2c47af,#2a4cb5,#294fb8,#2b4ab2,#2950b9,#2754be,#2658c2,#2260c9,#167add,#1c6dd3,#1381e3,#1381e3,#08aac1,#08afaf,#3cd365,#1dc964,#35d263,#43d567,#42d566,#61dc71,#4ed86a,#2ed061,#36d263,#1aca5d,#0ec65c,#14c664,#09b3a4,#09a3cc,#0b91ed,#089aec,#157cdf,#1973d8,#1972d8,#1b6fd5,#157bde,#1e69d0,#235ec7,#2a4eb7,#2f3fa4,#333598,#343597,#343597,#343597,#343597,#343597,#343597,#343497,#343497,#343496,#343496,#343496,#343496,#343496,#343496,#343496,#343496,#343496,#343496,#343496,#343496,#343496,#343496,#343496,#343496,#343496,#343496,#343496,#343496,#343496,#343496,#343496,#343496,#343496 300.0px)"></div><div style="top:146px;height:2px;background:linear-gradient(90deg,#1380e2 1.0px,#1e67cf,#1e67cf,#1973d8,#2260c9,#2261c9,#1283e4,#1d69d0,#1875da,#1873d9,#1d6bd2,#1b6fd5,#1a70d6,#1973d8,#1974d9,#235dc6,#2260c9,#1b6ed4,#1874d9,#1c6cd3,#1972d8,#2064cc,#1d6bd2,#1c6cd3,#157ade,#1874d9,#1d69d0,#0f89e8,#0b91ed,#0abc82,#1cc866,#2ccf61,#48d668,#4ad769,#6cde75,#88e47f,#6bde74,#88e47e,#62dc71,#37d363,#3bd365,#1dcb5e,#2bcf60,#28ce60,#35d263,#16c667,#0997ee,#157cdf,#1184e4,#0a93ee,#0e8ae9,#1bc476,#2dd061,#37d264,#37d264,#09a4ca,#0e8cea,#0b92ed,#1185e6,#137fe1,#1b6fd5,#245cc5,#235dc6,#225fc8,#2161ca,#245cc5,#2f40a6,#303ca1,#313a9e,#32399d,#2f3ea5,#303da3,#2f3fa5,#2d43ab,#2d43aa,#2d43ab,#2b48b1,#2a4bb4,#2c46ae,#2b49b1,#2a4db5,#2b49b1,#2a4cb5,#2853bc,#255ac3,#1d6ad1,#157bde,#1b6ed4,#147ddf,#1283e4,#079fe5,#07a4d6,#3bd365,#1bca60,#2acf60,#3cd465,#45d667,#52d96c,#43d567,#1fcb5e,#36d263,#2dcf61,#12c566,#1aca5d,#08b1aa,#0998ea,#0c8fec,#0b92ed,#167add,#1777db,#1a71d7,#1a6fd5,#1777db,#2065cd,#245bc5,#2a4db6,#303da3,#333598,#343597,#343597,#343597,#343597,#343597,#343597,#343497,#343497,#343496,#343496,#343496,#343496,#343496,#343496,#343496,#343496,#343496,#343496,#343496,#343496,#343496,#343496,#343496,#343496,#343496,#343496,#343496,#343496,#343496,#343496,#343496,#343496,#343496 300.0px)"></div><div style="top:148px;height:2px;background:linear-gradient(90deg,#1185e5 1.0px,#1973d8,#1c6dd3,#1b6ed5,#2063cc,#1f65cd,#1087e7,#1c6cd3,#1778dc,#1972d7,#1c6bd2,#1b6fd5,#1c6cd2,#1973d8,#1972d7,#2260c8,#2064cc,#1a71d6,#1777db,#1d6ad1,#1a70d6,#1f66ce,#1a70d6,#1e69d0,#1679dd,#157cdf,#2065cc,#1087e6,#0b92ee,#0ab59c,#18c864,#2acf60,#49d669,#59da6e,#7ce17a,#98e784,#7be17a,#8de580,#56d96d,#34d263,#4bd769,#31d062,#36d263,#25cd5f,#42d567,#19c961,#0995ef,#147de0,#1086e6,#0a93ef,#0e8be9,#1cc672,#20cc5e,#15c95c,#21cc5e,#0c95e1,#1184e5,#0d8cea,#157bde,#1875da,#1e68cf,#2658c1,#2658c2,#245cc5,#235fc8,#294fb8,#303ca1,#303ca1,#32399d,#313a9e,#303da2,#303da3,#2f3fa5,#2d44ac,#2d44ac,#2b48b1,#2b49b2,#294fb8,#2c47af,#2b4bb4,#2a4cb5,#2b4ab2,#2b4ab2,#2755bf,#2756c0,#1f66ce,#137fe1,#1b6fd5,#1a71d7,#1185e6,#07a9cb,#07a5d3,#33d162,#1dcb5e,#26cd5f,#36d263,#42d566,#52d96c,#4bd76a,#12c662,#36d263,#3bd365,#1dcb5e,#22cd5f,#0ab98b,#0aa1ce,#0b91ed,#0a93ed,#1777db,#1972d8,#1972d8,#1778dc,#157bde,#1e67cf,#235dc6,#2a4cb5,#303ea3,#333598,#343597,#343597,#343597,#343597,#343597,#343597,#343497,#343497,#343496,#343496,#343496,#343496,#343496,#343496,#343496,#343496,#343496,#343496,#343496,#343496,#343496,#343496,#343496,#343496,#343496,#343496,#343496,#343496,#343496,#343496,#343496,#343496,#343496 300.0px)"></div><div style="top:150px;height:2px;background:linear-gradient(90deg,#147ee0 1.0px,#1776db,#1b6ed4,#1c6cd3,#1e68cf,#1a72d7,#0f89e8,#1972d8,#1874d9,#1a71d6,#2063cb,#1b6ed5,#1e67cf,#1972d8,#1972d7,#2162ca,#1e67cf,#157cdf,#157cdf,#1a70d6,#1b6fd5,#2065cd,#1a70d5,#2064cc,#1777db,#157ddf,#2162cb,#0f89e8,#0997f1,#07a4d8,#11c176,#20cc5e,#5bda6f,#6cde75,#80e27c,#95e783,#80e27c,#9ce885,#5edb70,#31d162,#3ed465,#35d263,#42d567,#2bcf61,#44d667,#1fcb5f,#0a9ae1,#1282e3,#1086e6,#0a93ee,#0c90ed,#1dcb5d,#21cc5e,#0fc468,#0fbc86,#0b91ed,#1282e3,#0e8be9,#1972d7,#1972d7,#2063cc,#2755be,#2658c1,#235ec7,#225fc7,#2e41a7,#303ca1,#313ba0,#32399d,#313ba0,#303da3,#313ba1,#2f3ea4,#2d43ab,#2d44ab,#2b49b1,#2c48b0,#2a4eb7,#2b4bb3,#2a4db6,#294fb8,#2b49b2,#2b4ab2,#2754be,#2853bc,#2063cb,#1087e7,#1c6dd3,#1b6dd4,#0f88e8,#069fee,#08acbd,#2fd062,#25cd5f,#28ce60,#3ad364,#58da6e,#56d96d,#42d566,#17c95c,#42d468,#3ad364,#2acf60,#34d262,#11c272,#09a6c6,#0897f1,#0c8eec,#157bde,#1874d9,#1776db,#147de0,#157bde,#1e69d0,#245dc6,#2a4bb4,#303da2,#333598,#343597,#343597,#343597,#343597,#343597,#343597,#343497,#343497,#343496,#343496,#343496,#343496,#343496,#343496,#343496,#343496,#343496,#343496,#343496,#343496,#343496,#343496,#343496,#343496,#343496,#343496,#343496,#343496,#343496,#343496,#343496,#343496,#343496 300.0px)"></div><div style="top:152px;height:2px;background:linear-gradient(90deg,#1973d8 1.0px,#1973d8,#1b6ed4,#1c6dd3,#1f66ce,#1973d8,#0f89e8,#1679dd,#1972d7,#1972d7,#2161ca,#1b6dd4,#1e68cf,#1a71d6,#1c6bd2,#1e68d0,#1c6bd2,#1086e6,#147ddf,#1875d9,#1972d7,#1f65cd,#1a71d7,#2065cd,#1a71d7,#1679dd,#225fc8,#0e8cea,#069cf1,#07a6d4,#0ec26c,#21cc5e,#5ddb70,#7ee27b,#8ee581,#98e784,#8be47f,#9be885,#5edb70,#3bd364,#41d566,#39d363,#53d96c,#2fd061,#45d667,#27ce60,#099ed7,#1086e6,#1184e5,#0995ef,#0b91ed,#17be88,#26cd5f,#09b697,#08aeb6,#0a94ef,#1087e7,#0e8bea,#1a71d7,#1b6ed4,#1e68cf,#2755be,#2658c2,#235fc8,#2851b9,#313ba0,#313ba0,#313ba0,#32399d,#313a9f,#303da3,#303da2,#303ea4,#2e42a9,#2c47af,#2b4ab3,#2b49b1,#2b4ab3,#2b4ab3,#294fb8,#2950b9,#2a4bb4,#2a4bb4,#2853bd,#2951ba,#2064cc,#0e8ae9,#1c6cd3,#1c6cd2,#1184e5,#089aeb,#08a7cb,#29cf60,#26ce5f,#38d364,#4bd769,#6ade74,#5cdb6f,#4ed86a,#19ca5d,#3bd365,#42d566,#2ccf61,#3ad364,#1bca5d,#08adb7,#0996f0,#0c8eeb,#147ee0,#157cdf,#157ddf,#1185e5,#157bde,#1d6ad1,#255ac3,#2a4bb4,#333699,#333598,#343597,#343597,#343597,#343597,#343597,#343597,#343497,#343497,#343496,#343496,#343496,#343496,#343496,#343496,#343496,#343496,#343496,#343496,#343496,#343496,#343496,#343496,#343496,#343496,#343496,#343496,#343496,#343496,#343496,#343496,#343496,#343496,#343496 300.0px)"></div><div style="top:154px;height:2px;background:linear-gradient(90deg,#1c6cd2 1.0px,#1a71d6,#1a71d7,#1c6cd2,#2064cc,#1b6fd5,#1380e2,#1380e2,#1778dc,#1777db,#2163cb,#1a71d7,#2064cc,#1b6ed5,#1b6ed5,#1d6bd1,#1b6ed4,#1283e4,#1875da,#1971d7,#1973d8,#1f67ce,#1b6dd4,#1f67ce,#1875da,#1679dc,#2261c9,#0d8ee9,#08adb7,#07a6d4,#0cc26a,#1ecb5e,#62dc71,#7fe27b,#81e27c,#95e783,#9ce885,#9be885,#63dc72,#3dd465,#4ed86a,#42d567,#5ada6e,#30d061,#35d263,#32d162,#0aacae,#1088e7,#1183e4,#0996f0,#0c8fec,#10b995,#1ccb5d,#0bc072,#08a1d9,#0996f0,#0e8be9,#1185e5,#1a6fd5,#1c6dd3,#1b6dd4,#2559c3,#2559c3,#235ec7,#2c48af,#313ba0,#313a9f,#303ca1,#31399e,#32399d,#2f3ea5,#303ea4,#2f3ea4,#2e41a7,#2d45ad,#2b49b2,#2c48b1,#2a4bb4,#2a4db6,#2950b9,#2a4db6,#2b49b2,#294fb8,#2755be,#2853bc,#2161ca,#1186e6,#1c6dd3,#1c6cd2,#1087e7,#0998ec,#07a5d3,#32d162,#2ccf61,#49d769,#57da6d,#66dd73,#61dc71,#5edb70,#1dcb5d,#3ed466,#44d667,#2fd061,#40d466,#25cd5f,#0abb87,#079af1,#0c90ed,#1283e4,#1282e3,#1184e4,#0f89e7,#1678dc,#1d69d0,#2559c3,#2a4db6,#333699,#333598,#343597,#343597,#343597,#343597,#343597,#343597,#343497,#343497,#343496,#343496,#343496,#343496,#343496,#343496,#343496,#343496,#343496,#343496,#343496,#343496,#343496,#343496,#343496,#343496,#343496,#343496,#343496,#343496,#343496,#343496,#343496,#343496,#343496 300.0px)"></div><div style="top:156px;height:2px;background:linear-gradient(90deg,#2162cb 1.0px,#1c6dd3,#1874d9,#1b6dd4,#2064cc,#1c6dd3,#137fe1,#147ee1,#1679dc,#157bde,#1f67ce,#1973d8,#2162ca,#1d69d0,#1b6ed4,#1b6fd5,#1c6cd2,#1776db,#1b6ed4,#1b6ed4,#1a71d7,#1f66ce,#1d6bd2,#1c6cd3,#147ee1,#157bde,#2063cb,#0b99dc,#09b3a5,#09b4a2,#10c174,#1dcb5d,#5bda6f,#7ce17a,#84e37d,#abeb8a,#97e784,#95e683,#62dc71,#40d566,#41d566,#36d263,#50d86b,#36d263,#2acf60,#2acf60,#09b3a3,#0d8deb,#1086e6,#0799f2,#0d8cea,#0fb79d,#1fcb5e,#10c75e,#07a7d3,#0b92ee,#0d8deb,#1282e3,#1d6ad1,#1c6bd2,#1a70d6,#255ac3,#2559c2,#235fc7,#2d45ac,#313ba0,#313ba0,#313a9f,#313ba0,#32389d,#2f3ea4,#2f3fa5,#303ea4,#2e41a7,#2d45ad,#2c48b1,#2c48b0,#2a4cb5,#2a4db6,#294fb8,#2b4ab2,#2b4ab3,#294fb8,#255ac3,#2950ba,#2162cb,#1186e6,#1972d7,#1874d9,#0f8ae9,#079cec,#07a4da,#2fd061,#2ed061,#44d567,#51d86b,#63dc72,#66dd73,#57da6e,#19ca5d,#2dd061,#51d86b,#2ccf61,#3bd464,#28ce60,#09b696,#069dee,#0c90ed,#147de0,#1380e2,#1086e5,#0f89e7,#1678dc,#1f66ce,#2657c0,#2a4bb4,#333699,#333598,#343597,#343597,#343597,#343597,#343597,#343597,#343497,#343497,#343496,#343496,#343496,#343496,#343496,#343496,#343496,#343496,#343496,#343496,#343496,#343496,#343496,#343496,#343496,#343496,#343496,#343496,#343496,#343496,#343496,#343496,#343496,#343496,#343496 300.0px)"></div><div style="top:158px;height:2px;background:linear-gradient(90deg,#235ec7 1.0px,#1e68cf,#1874d9,#1c6cd3,#2162ca,#1b6fd5,#1876da,#1777db,#1283e4,#147ee0,#1f67ce,#1874d9,#2065cd,#1d6ad1,#1a71d6,#1a70d6,#1d6ad1,#1a71d7,#1e69d0,#1b6ed4,#1c6cd3,#1f66cd,#1c6bd2,#1776da,#1283e4,#1777db,#1e68cf,#0899ec,#09b696,#09b697,#14c85d,#21cc5e,#50d86b,#7be17a,#8ce580,#b0ec8c,#8fe581,#82e37c,#70df76,#38d363,#39d364,#32d162,#4fd86a,#36d263,#2dd061,#21cc5e,#09aeb9,#0c8fec,#1088e7,#079bf1,#0d8cea,#11b3a9,#1aca5d,#10c566,#07a8cb,#0e8cea,#0b91ed,#1282e3,#1e68cf,#1d69d0,#1972d7,#245cc5,#255ac3,#235fc8,#313a9f,#303da3,#313ba0,#303ca2,#313a9f,#32399d,#2f3ea4,#303ea3,#303da2,#2e41a8,#2c48b0,#2b48b1,#2c47af,#2a4db6,#2a4cb4,#2b4ab2,#2c48b1,#2b48b1,#2a4eb7,#245cc5,#2854bd,#2064cb,#1087e7,#1678dc,#167ade,#0b91ed,#08a1da,#09b59d,#3ad364,#27ce60,#3dd465,#4ed86a,#60dc71,#44d667,#51d86c,#26ce5f,#33d162,#58da6e,#33d162,#35d263,#28ce60,#11be82,#069df2,#0a94ef,#157cdf,#1380e2,#1282e4,#1185e5,#1679dd,#1e67cf,#2657c1,#2b4ab2,#333699,#333598,#343597,#343597,#343597,#343597,#343597,#343597,#343497,#343497,#343496,#343496,#343496,#343496,#343496,#343496,#343496,#343496,#343496,#343496,#343496,#343496,#343496,#343496,#343496,#343496,#343496,#343496,#343496,#343496,#343496,#343496,#343496,#343496,#343496 300.0px)"></div><div style="top:160px;height:2px;background:linear-gradient(90deg,#225fc8 1.0px,#1f66cd,#1972d7,#1d6ad1,#2064cc,#1c6dd3,#1a71d7,#1b6ed4,#1086e6,#137fe1,#1f66ce,#1777db,#1e68d0,#1972d7,#1776db,#1874d9,#1e68d0,#1a6fd5,#1d69d0,#1d6bd2,#1f65cd,#2064cc,#1b6fd5,#157cdf,#147fe1,#1874d9,#1e69d0,#09a1d1,#0ab88f,#09b698,#14c85c,#2dd061,#49d669,#61dc71,#88e47f,#b9ed8f,#8de580,#85e37e,#66dd73,#2ccf61,#32d162,#32d162,#51d86b,#30d162,#2ccf61,#19ca5d,#0cb891,#0c8fec,#0f88e7,#0996f0,#0d8eeb,#0fb1a7,#14c762,#09b3a3,#06a3df,#0f89e8,#0d8deb,#0f89e8,#1d6ad1,#1c6cd3,#1b6ed4,#255bc4,#2657c1,#235dc6,#303ca1,#303da3,#303ca2,#313ba1,#313a9f,#313a9f,#2f3fa5,#303da3,#303da3,#2e40a7,#2c46ae,#2c47af,#2b49b2,#2a4cb5,#2a4bb4,#2b48b1,#2c47af,#2c48b0,#2a4bb4,#245cc5,#245dc6,#1e69d0,#1184e4,#167add,#1381e2,#0c90ec,#079fe6,#0ebc85,#3bd364,#1fcc5e,#3ad364,#48d768,#51d86b,#4fd86b,#5bda6f,#25cd5f,#37d264,#59da6e,#38d363,#37d363,#31d162,#0dbf7a,#069df1,#0898f1,#147fe1,#147ee0,#1380e2,#1184e4,#147de0,#1d6bd2,#2756c0,#2a4bb4,#333699,#333598,#343597,#343597,#343597,#343597,#343597,#343597,#343497,#343497,#343496,#343496,#343496,#343496,#343496,#343496,#343496,#343496,#343496,#343496,#343496,#343496,#343496,#343496,#343496,#343496,#343496,#343496,#343496,#343496,#343496,#343496,#343496,#343496,#343496 300.0px)"></div><div style="top:162px;height:2px;background:linear-gradient(90deg,#2065cc 1.0px,#2064cc,#1b6dd4,#1f67ce,#2064cc,#1a71d6,#1b6fd5,#1d69d0,#1282e3,#167add,#2064cc,#1876da,#1d6bd2,#1776da,#1875d9,#1874d9,#1e69d0,#1b6fd5,#1d6ad1,#1f66cd,#2064cc,#235fc8,#1875da,#1381e2,#147ee0,#1874d9,#1c6cd2,#07a3d8,#08adba,#09b3a4,#1dcb5e,#3cd465,#4ad769,#5fdb70,#82e37c,#adeb8b,#8de580,#99e784,#5bda6f,#33d162,#33d162,#37d263,#4bd769,#2bcf60,#3dd366,#1bca5d,#08b1ac,#0f8ae8,#0d8cea,#0a93ee,#0c8fec,#0db1a7,#0ab699,#09a0d6,#079aef,#0c8fec,#0d8deb,#0f89e7,#1a71d6,#1d6ad1,#1f66ce,#2755be,#2755be,#255bc4,#303da3,#303da3,#303ca2,#303ca1,#32399d,#313ba0,#2f3fa6,#2f3ea4,#303ea4,#2f3fa6,#2c46ae,#2b49b2,#2c47b0,#2a4db5,#2a4cb4,#2c48b0,#2c47af,#2c48b0,#2b4ab3,#255bc4,#2260c9,#1b6dd4,#1679dd,#1679dd,#0f8ae9,#0c90ed,#06a5dc,#12c36e,#2ed061,#1bca5d,#50d86b,#4cd76a,#4cd76a,#49d769,#63dc72,#1fcc5e,#31d162,#46d668,#3dd465,#2ed061,#35d263,#0cbf76,#069ef0,#0898f1,#1282e4,#157ade,#147de0,#1184e4,#1380e2,#2064cc,#2754be,#2a4bb4,#333699,#333598,#343597,#343597,#343597,#343597,#343597,#343597,#343497,#343497,#343496,#343496,#343496,#343496,#343496,#343496,#343496,#343496,#343496,#343496,#343496,#343496,#343496,#343496,#343496,#343496,#343496,#343496,#343496,#343496,#343496,#343496,#343496,#343496,#343496 300.0px)"></div><div style="top:164px;height:2px;background:linear-gradient(90deg,#1f67ce 1.0px,#2161ca,#1d6ad1,#1f66cd,#2261c9,#1e68cf,#1c6cd3,#1f67ce,#1778dc,#1875d9,#1e68cf,#1875da,#1e68d0,#1a71d7,#1875d9,#1d6ad1,#1e69d0,#1b6fd5,#1d6bd2,#2261c9,#2064cc,#235ec7,#1a71d7,#1184e5,#1283e4,#1972d7,#1c6cd3,#08a7c8,#08afb3,#07aac6,#1bc867,#53d96c,#5bdb6f,#6ede75,#80e27c,#b2ec8d,#8be47f,#abeb8b,#75e078,#3ed465,#34d262,#3ad364,#4fd86b,#2acf60,#40d466,#19ca5d,#0bb891,#0f88e8,#1088e7,#0d8eeb,#0d8dea,#0bb0ac,#0bb1ae,#0a93ee,#0997f1,#0b92ed,#0d8eeb,#1282e3,#1972d7,#1f66ce,#225fc8,#2951ba,#2853bc,#2659c3,#303da3,#303ca1,#303da3,#303ca1,#313a9f,#313ba0,#303ea4,#2f40a6,#2f40a7,#2e41a8,#2c47b0,#2a4bb4,#2b4bb3,#2a4cb5,#2a4db5,#2b4bb3,#2c48b0,#2c47b0,#2b49b2,#2657c1,#235fc8,#1c6cd3,#1b6ed4,#1776db,#0c90ec,#0d8eeb,#09b2a5,#0bbf75,#33d162,#21cc5e,#59da6e,#5bda6f,#5ada6e,#48d669,#59da6e,#1ecb5e,#2ed061,#4fd86a,#30d062,#32d162,#30d162,#12c07b,#07acc1,#079fe4,#1087e7,#147ee0,#1876da,#1381e3,#157cdf,#2162ca,#2854bd,#2b4ab3,#333699,#333598,#343597,#343597,#343597,#343597,#343597,#343597,#343497,#343497,#343496,#343496,#343496,#343496,#343496,#343496,#343496,#343496,#343496,#343496,#343496,#343496,#343496,#343496,#343496,#343496,#343496,#343496,#343496,#343496,#343496,#343496,#343496,#343496,#343496 300.0px)"></div><div style="top:166px;height:2px;background:linear-gradient(90deg,#1f66ce 1.0px,#2260c9,#1d6bd2,#1f65cd,#2260c8,#1f66ce,#1e68cf,#1c6cd2,#1776db,#1972d7,#1b6ed4,#1874d9,#2065cd,#1d6bd1,#1b6dd4,#2162cb,#2063cb,#1c6bd2,#1972d7,#2260c9,#2065cd,#245cc5,#1a71d6,#1282e4,#1283e4,#1a71d7,#1b6ed4,#089edf,#07a5d5,#08aeb6,#2fd062,#47d668,#61dc71,#6ade74,#76e078,#a2e987,#9de886,#beee90,#75e078,#48d668,#41d566,#39d364,#4ed86a,#2dd061,#3bd365,#11c85b,#0bb3a6,#0d8dea,#1284e4,#0e8be9,#0f88e8,#08acb9,#089ce7,#0d8dea,#069eec,#0996f0,#0e8cea,#1777db,#1b6ed4,#2064cc,#235ec7,#2851ba,#2853bc,#2854bd,#313b9f,#31399e,#303da2,#313b9f,#313a9f,#313ba0,#303ea4,#2f40a7,#2e42a9,#2d43ab,#2b48b1,#2b4ab3,#2b4ab3,#2a4eb7,#2a4db6,#2a4bb4,#2c46ae,#2c48b0,#2c48b0,#2657c1,#235dc6,#1e68d0,#1c6bd2,#1a71d7,#1086e7,#0d8eeb,#0cbd7f,#0cc075,#2dd061,#25cd5f,#64dc72,#6cde75,#66dd73,#45d667,#4ad769,#20cc5e,#30d061,#4ed86a,#44d568,#38d363,#32d162,#11c567,#0aba89,#07a7d2,#0995ef,#1184e4,#1973d8,#1679dd,#1875da,#255bc4,#2853bc,#2b49b1,#333699,#333598,#343597,#343597,#343597,#343597,#343597,#343597,#343497,#343497,#343496,#343496,#343496,#343496,#343496,#343496,#343496,#343496,#343496,#343496,#343496,#343496,#343496,#343496,#343496,#343496,#343496,#343496,#343496,#343496,#343496,#343496,#343496,#343496,#343496 300.0px)"></div><div style="top:168px;height:2px;background:linear-gradient(90deg,#2161ca 1.0px,#2260c9,#1972d7,#2161ca,#235fc7,#1f67ce,#1d6bd1,#1a6fd5,#1679dc,#1876da,#1a71d7,#1a70d6,#1f66ce,#1d6ad1,#1b6ed4,#2064cc,#1f67ce,#1d6ad1,#1777db,#1e68d0,#1e68cf,#245cc5,#1d6bd2,#157cdf,#1380e2,#1a71d7,#1b6fd5,#0898f1,#069eed,#0bb59e,#30d062,#42d566,#75e078,#70df76,#75e078,#b4ec8d,#99e784,#b2ec8d,#74e078,#3cd464,#4ed86a,#41d567,#4ed86a,#33d162,#34d163,#13c85b,#09b794,#0a94ef,#0f88e8,#1086e6,#0e8ae9,#10bc88,#08a0d8,#0b91ed,#06a6d6,#0898f1,#0c90ec,#1875d9,#1d69d1,#2162cb,#2064cc,#2851bb,#2854bd,#2755bf,#313ba0,#313a9f,#303ca1,#313a9f,#313a9e,#31399e,#303ea4,#2e41a8,#2e42a9,#2d44ac,#2c47af,#2c47af,#2b49b2,#2a4cb5,#2a4bb4,#2a4cb4,#2c46ae,#2b49b2,#2c48b1,#2657c1,#245dc6,#2162ca,#1c6cd2,#1b6fd5,#1380e2,#0e8be9,#11c271,#15c85f,#45d668,#30d062,#68dd73,#7be17a,#6ade74,#4ad769,#36d263,#25cd5f,#37d263,#4fd86b,#55d96d,#3dd465,#31d162,#1fcb5e,#10c564,#07abc1,#0997ed,#1087e6,#1778dc,#1678dc,#1874d9,#255bc4,#2755bf,#2f41a7,#333699,#333598,#343597,#343597,#343597,#343597,#343597,#343597,#343497,#343497,#343496,#343496,#343496,#343496,#343496,#343496,#343496,#343496,#343496,#343496,#343496,#343496,#343496,#343496,#343496,#343496,#343496,#343496,#343496,#343496,#343496,#343496,#343496,#343496,#343496 300.0px)"></div><div style="top:170px;height:2px;background:linear-gradient(90deg,#2163cb 1.0px,#1f66ce,#157ade,#225fc8,#2261c9,#1d6bd2,#1c6cd2,#1972d8,#147ee0,#157bde,#1b6dd4,#1d6ad1,#2162cb,#1e69d0,#1972d7,#1e67cf,#1f67ce,#1d69d0,#1875da,#1a71d6,#1e69d0,#245cc6,#2161ca,#147de0,#167ade,#1875da,#1c6dd3,#0a93ee,#079af2,#09b1ac,#2ccf61,#3fd465,#69dd74,#72df77,#78e079,#a5ea88,#94e683,#adeb8b,#73e077,#42d566,#45d667,#39d364,#5edb70,#34d262,#34d163,#14c760,#09b49f,#0995ef,#0d8deb,#1185e5,#1086e6,#10bf7a,#089ede,#079cee,#07aac5,#0996f0,#0995f0,#1679dc,#1c6cd3,#1e68d0,#1e69d0,#2656c0,#2754bd,#255ac4,#313a9f,#313ba1,#303da2,#313a9f,#313b9f,#32399d,#2f3ea4,#2f3fa5,#2e42aa,#2d45ac,#2c46ae,#2c45ae,#2b49b1,#2a4eb6,#2a4db6,#2a4cb5,#2b49b2,#2b4ab3,#2b48b1,#2658c1,#235ec7,#2161ca,#1b6fd5,#1a6fd5,#1086e6,#0d8deb,#0cc16e,#14c85e,#4bd769,#35d263,#5cda6f,#73df77,#69dd74,#52d96c,#2ed061,#27cd60,#40d566,#3fd565,#56d96d,#44d567,#43d567,#23cd5f,#18c95e,#0ab4a0,#0899ef,#0e8be9,#157cdf,#147fe1,#1972d8,#245dc6,#2755bf,#2e42a8,#333699,#333598,#343597,#343597,#343597,#343597,#343597,#343597,#343497,#343497,#343496,#343496,#343496,#343496,#343496,#343496,#343496,#343496,#343496,#343496,#343496,#343496,#343496,#343496,#343496,#343496,#343496,#343496,#343496,#343496,#343496,#343496,#343496,#343496,#343496 300.0px)"></div><div style="top:172px;height:2px;background:linear-gradient(90deg,#1d6ad1 1.0px,#1a70d6,#1380e2,#2064cc,#1f66cd,#1b6dd4,#1e68cf,#1972d8,#157cdf,#137fe1,#1e67cf,#1d69d0,#235ec7,#1c6bd2,#1c6dd3,#1d69d0,#1d6ad1,#1d6bd2,#1777db,#1b6fd5,#1d69d1,#235dc6,#235ec7,#147ddf,#1283e4,#1679dc,#1e69d0,#0b9fcb,#06a1e6,#08adb7,#24cd60,#3dd465,#6cde75,#74e078,#74e078,#a1e987,#8ce580,#a2e988,#6dde75,#3ad364,#37d263,#2dcf61,#6dde75,#36d263,#43d567,#1dcb5d,#0ebf7a,#0a93ee,#0e8be9,#0f88e7,#1184e5,#08aabe,#0a95ef,#08a5cf,#08aeb8,#079af2,#079fe7,#147ee0,#1972d8,#1a6fd6,#1e67cf,#2756c0,#2853bd,#245bc5,#303da3,#303ca1,#313ba0,#313ba0,#32399d,#313a9e,#2f3fa6,#2e40a7,#2e43aa,#2d43ab,#2d45ae,#2b48b1,#2b49b1,#294fb8,#294eb7,#2a4eb7,#2a4cb5,#294fb8,#2b49b2,#2658c1,#225fc8,#2260c9,#167add,#147ee1,#0e8ae9,#0b91ed,#0ab891,#1fcc5e,#61dc71,#2ed061,#48d669,#66dd73,#65dd72,#45d667,#30d062,#32d162,#3cd465,#3cd465,#47d668,#5cdb6f,#5bda6f,#25cd5f,#19ca5d,#0dbe7d,#0997ed,#0f88e8,#1381e2,#0f89e8,#1777db,#2162ca,#2756c0,#2f41a7,#333699,#333598,#343597,#343597,#343597,#343597,#343597,#343597,#343497,#343497,#343496,#343496,#343496,#343496,#343496,#343496,#343496,#343496,#343496,#343496,#343496,#343496,#343496,#343496,#343496,#343496,#343496,#343496,#343496,#343496,#343496,#343496,#343496,#343496,#343496 300.0px)"></div><div style="top:174px;height:2px;background:linear-gradient(90deg,#1776da 1.0px,#1679dd,#1875da,#2065cd,#1e67cf,#1b6fd5,#1f67ce,#1b6dd4,#1381e3,#1679dc,#2162ca,#1c6dd3,#235ec7,#1b6dd4,#1e68cf,#2065cd,#1875da,#1777db,#1777db,#1d69d0,#1f66ce,#235ec7,#2162ca,#1281e2,#0f89e8,#147ddf,#1f65cd,#0aa5c2,#0db5a1,#08a9c5,#1fcc5e,#46d668,#78e079,#7be17a,#67dd73,#7ee27b,#5cdb6f,#8ee581,#52d96c,#27ce60,#20cc5e,#20cc5e,#5ddb6f,#2bcf60,#40d466,#28ce60,#16c56b,#0995ef,#0b92ee,#0a93ef,#1381e3,#0a95ee,#0b91ed,#08a0dd,#08adb9,#069def,#06a4db,#1086e6,#157cdf,#1b6fd5,#2260c8,#2656c0,#2853bc,#294eb6,#303da3,#303ca1,#313ba0,#313a9f,#313a9e,#32389c,#303da3,#2f40a6,#2e42a9,#2e43aa,#2d44ac,#2b49b2,#2b4ab2,#294fb8,#294fb8,#2950b9,#2a4db5,#294fb8,#2b4ab2,#2658c1,#235fc8,#2260c9,#1282e3,#0f89e8,#0f89e8,#0f89e8,#09b59e,#1fcc5e,#49d669,#21cc5e,#44d568,#5ada6f,#44d667,#55d96d,#2fd061,#24cd5f,#3bd364,#37d263,#38d363,#64dc72,#6bde74,#1ccb5d,#16c95c,#0bb796,#0b91ed,#1282e3,#1185e6,#1087e6,#1875d9,#2065cd,#2755be,#2f40a6,#333699,#333598,#343597,#343597,#343597,#343597,#343597,#343597,#343497,#343497,#343496,#343496,#343496,#343496,#343496,#343496,#343496,#343496,#343496,#343496,#343496,#343496,#343496,#343496,#343496,#343496,#343496,#343496,#343496,#343496,#343496,#343496,#343496,#343496,#343496 300.0px)"></div><div style="top:176px;height:2px;background:linear-gradient(90deg,#1283e4 1.0px,#1778dc,#1b6fd5,#2162ca,#1d69d0,#147ee0,#1d6ad1,#1b6fd5,#1283e4,#157cdf,#1f66ce,#1973d8,#2162cb,#1b6fd5,#2065cd,#2260c9,#1678dc,#1185e5,#147ee0,#1c6cd3,#1f67ce,#235dc6,#1c6cd3,#0e8ae9,#0c8fec,#0f88e7,#1d6ad1,#13ada5,#0bb69c,#07a4d5,#19c768,#3ed465,#6ade74,#70df76,#67dd73,#5ddb70,#45d667,#67dd73,#45d568,#1fcc5e,#13c761,#13c567,#47d668,#1fcc5e,#4fd86b,#3dd465,#19c95e,#0999ea,#0899ea,#0997ee,#1087e6,#0e8cea,#0a94ef,#0a93ee,#08adba,#07a2db,#07a7d2,#1380e2,#157cdf,#1d69d1,#2559c3,#2756bf,#2852bb,#2a4db5,#2f3ea5,#303ca2,#313ba0,#32399d,#32399d,#32389c,#303da2,#2f40a7,#2e42aa,#2d44ab,#2d43ab,#2c48b0,#2b4ab2,#294fb8,#294eb7,#294fb8,#2a4cb5,#2a4cb5,#294eb7,#2756c0,#255ac3,#235ec7,#0f89e8,#0e8cea,#0f88e7,#0e8be9,#0abd7e,#1dcb5e,#3bd364,#1ccb5d,#45d667,#43d567,#2dd061,#4fd86b,#35d163,#1ccb5e,#37d264,#35d263,#29ce60,#67dd73,#81e27c,#32d163,#24cd5f,#0bbe7b,#0d8eeb,#147ee1,#1086e6,#1777db,#1d6bd2,#1e68cf,#2950b9,#2f3fa5,#333699,#333598,#343597,#343597,#343597,#343597,#343597,#343597,#343497,#343497,#343496,#343496,#343496,#343496,#343496,#343496,#343496,#343496,#343496,#343496,#343496,#343496,#343496,#343496,#343496,#343496,#343496,#343496,#343496,#343496,#343496,#343496,#343496,#343496,#343496 300.0px)"></div><div style="top:178px;height:2px;background:linear-gradient(90deg,#0d8cea 1.0px,#1876da,#1b6dd4,#2261c9,#1d6bd2,#1086e6,#1b6fd5,#1777db,#0d8deb,#157cdf,#1c6dd3,#1777db,#1d6ad1,#1b6fd5,#2064cc,#2163cb,#147ee0,#0c8fec,#0f88e7,#1a70d6,#1f66ce,#235ec7,#1776da,#0996f0,#0c90ec,#0a94ef,#1b6fd5,#13aaa3,#09aead,#08a1dd,#12bf7d,#39d363,#3bd365,#63dc72,#62dc71,#46d668,#38d364,#4fd86b,#3bd365,#0fc36b,#0bbb84,#0ab890,#2bcf60,#13c568,#3ed465,#3fd465,#2dcf61,#089bec,#07a1dc,#0799f2,#147ee0,#1087e7,#0898f1,#0c8fec,#0abd7b,#07a7d1,#069dee,#157bde,#1679dd,#2064cc,#2657c1,#2755be,#2756c0,#294fb7,#2f3fa5,#313ba1,#313ba0,#32399d,#32389c,#313a9e,#303da2,#2e42a9,#2f40a7,#2d43ab,#2d43ab,#2c47af,#2c48b0,#294fb8,#2a4eb7,#2a4cb5,#2b49b1,#2a4db6,#2851ba,#2657c1,#2658c2,#225fc8,#0f8ae9,#0d8dea,#1087e7,#0e8be9,#09b697,#19c66c,#3bd365,#15c56a,#33d162,#2bcf60,#21cc5e,#51d86b,#3dd465,#1aca5d,#2acf60,#32d162,#18ca5d,#61dc71,#a5ea88,#2fd062,#2bcf60,#0bba89,#0c8eeb,#157bde,#0f8ae8,#1c6cd3,#1f65cd,#2064cc,#2a4eb7,#303da3,#333699,#333598,#343597,#343597,#343597,#343597,#343597,#343597,#343497,#343497,#343496,#343496,#343496,#343496,#343496,#343496,#343496,#343496,#343496,#343496,#343496,#343496,#343496,#343496,#343496,#343496,#343496,#343496,#343496,#343496,#343496,#343496,#343496,#343496,#343496 300.0px)"></div></div><div class="hm" style="left:383px;top:10px;width:302px;height:180px"><div style="top:0px;height:2px;background:linear-gradient(90deg,#4040ff 1.0px,#3737ff,#4545ff,#4040ff,#3d3dff,#3232ff,#3535ff,#3636ff,#3e3eff,#3333ff,#3838ff,#3c3cff,#4242ff,#3f3fff,#3333ff,#4343ff,#3d3dff,#3e3eff,#3b3bff,#6b6bff,#8c8cff,#3b3bff,#3d3dff,#3838ff,#3b3bff,#4747ff,#3d3dff,#5050ff,#3d3dff,#3e3eff,#3e3eff,#3f3fff,#4747ff,#4747ff,#4747ff,#4c4cff,#4343ff,#4646ff,#3a3aff,#3a3aff,#3939ff,#3737ff,#4444ff,#3e3eff,#3b3bff,#4444ff,#4444ff,#3b3bff,#4949ff,#3737ff,#3333ff,#3737ff,#3737ff,#3838ff,#2f2fff,#4b4bff,#2e2eff,#3737ff,#4040ff,#3939ff,#3a3aff,#3a3aff,#3232ff,#3232ff,#3c3cff,#3939ff,#3636ff,#3a3aff,#4848ff,#3f3fff,#3434ff,#3b3bff,#3030ff,#3e3eff,#3636ff,#3b3bff,#3e3eff,#3737ff,#6262ff,#7b7bff,#3737ff,#3a3aff,#3e3eff,#3939ff,#3636ff,#4040ff,#3a3aff,#4141ff,#3d3dff,#3c3cff,#3e3eff,#3d3dff,#4040ff,#3e3eff,#3a3aff,#3c3cff,#3d3dff,#4141ff,#4b4bff,#3a3aff,#3636ff,#3f3fff,#4343ff,#4848ff,#4545ff,#3f3fff,#3d3dff,#3f3fff,#3939ff,#3535ff,#3d3dff,#3d3dff,#3131ff,#3e3eff,#3535ff,#3c3cff,#3636ff,#4141ff,#3535ff,#3636ff,#3333ff,#3030ff,#2c2cff,#3333ff,#3131ff,#3333ff,#3c3cff,#3030ff,#2f2fff,#3131ff,#3434ff,#2e2eff,#3232ff,#3434ff,#2b2bff,#3030ff,#3131ff,#3232ff,#3737ff,#3030ff,#2f2fff,#3a3aff,#2626ff,#2c2cff,#3838ff,#2e2eff,#2e2eff,#3636ff,#2c2cff,#2727ff,#3232ff 300.0px)"></div><div style="top:2px;height:2px;background:linear-gradient(90deg,#3f3fff 1.0px,#3838ff,#4646ff,#4242ff,#3b3bff,#3030ff,#3434ff,#3535ff,#3838ff,#3636ff,#3434ff,#3c3cff,#4848ff,#3f3fff,#3737ff,#4a4aff,#4141ff,#3b3bff,#3838ff,#6565ff,#9c9cff,#3939ff,#3c3cff,#3a3aff,#3b3bff,#4242ff,#4040ff,#4f4fff,#3e3eff,#4040ff,#4444ff,#3b3bff,#4949ff,#4b4bff,#4b4bff,#4949ff,#4545ff,#4a4aff,#3939ff,#3939ff,#3f3fff,#3737ff,#4040ff,#3b3bff,#3a3aff,#4343ff,#4747ff,#3f3fff,#4b4bff,#3737ff,#3333ff,#3535ff,#3434ff,#3838ff,#3232ff,#4848ff,#3030ff,#3737ff,#4343ff,#3434ff,#3b3bff,#4040ff,#3636ff,#3333ff,#3b3bff,#3737ff,#3434ff,#3939ff,#4c4cff,#4242ff,#3434ff,#3737ff,#3636ff,#4040ff,#3535ff,#3636ff,#3f3fff,#3434ff,#5c5cff,#8484ff,#3838ff,#3939ff,#3e3eff,#3c3cff,#3c3cff,#4343ff,#3939ff,#3f3fff,#4343ff,#3b3bff,#3e3eff,#3e3eff,#4242ff,#4141ff,#3b3bff,#3f3fff,#3b3bff,#3f3fff,#4949ff,#3a3aff,#3a3aff,#4747ff,#4242ff,#4545ff,#4747ff,#4343ff,#3d3dff,#4040ff,#3838ff,#3535ff,#3b3bff,#4141ff,#3434ff,#3c3cff,#3535ff,#3e3eff,#3737ff,#4545ff,#3535ff,#3c3cff,#3535ff,#3737ff,#2e2eff,#3535ff,#3030ff,#3030ff,#3737ff,#3030ff,#2a2aff,#2d2dff,#3232ff,#2b2bff,#3131ff,#3434ff,#2b2bff,#2d2dff,#3030ff,#2e2eff,#3636ff,#2f2fff,#2f2fff,#3c3cff,#2a2aff,#2d2dff,#3636ff,#2c2cff,#2e2eff,#3737ff,#2d2dff,#2d2dff,#3232ff 300.0px)"></div><div style="top:4px;height:2px;background:linear-gradient(90deg,#3e3eff 1.0px,#3838ff,#4747ff,#4545ff,#3b3bff,#3434ff,#3333ff,#3535ff,#3c3cff,#3434ff,#3535ff,#3d3dff,#4343ff,#4545ff,#3636ff,#4646ff,#3d3dff,#3939ff,#3535ff,#5f5fff,#a5a5ff,#3c3cff,#3d3dff,#3a3aff,#3a3aff,#4848ff,#4343ff,#5656ff,#4141ff,#4343ff,#4040ff,#4242ff,#4848ff,#4f4fff,#4e4eff,#4d4dff,#4646ff,#4c4cff,#3b3bff,#4040ff,#3f3fff,#3939ff,#4343ff,#4040ff,#3d3dff,#4444ff,#4747ff,#3a3aff,#4f4fff,#3535ff,#3535ff,#3636ff,#3a3aff,#3737ff,#3131ff,#4d4dff,#3131ff,#3e3eff,#4040ff,#3737ff,#3939ff,#3e3eff,#3030ff,#3535ff,#3d3dff,#3b3bff,#3636ff,#3b3bff,#4949ff,#3d3dff,#3434ff,#3838ff,#3535ff,#3d3dff,#3535ff,#3939ff,#3a3aff,#3636ff,#5555ff,#8989ff,#3838ff,#3b3bff,#4040ff,#3c3cff,#3d3dff,#3f3fff,#3c3cff,#4444ff,#3f3fff,#3c3cff,#4040ff,#4040ff,#4343ff,#4242ff,#3c3cff,#3c3cff,#3e3eff,#4040ff,#4949ff,#3838ff,#3e3eff,#4747ff,#4444ff,#4a4aff,#4545ff,#4545ff,#4040ff,#3f3fff,#3939ff,#3737ff,#3a3aff,#3c3cff,#3131ff,#4242ff,#3838ff,#3f3fff,#3a3aff,#4242ff,#3737ff,#3838ff,#3333ff,#3636ff,#3131ff,#3535ff,#3333ff,#2f2fff,#3b3bff,#3131ff,#2f2fff,#2d2dff,#3232ff,#2c2cff,#3232ff,#3131ff,#2d2dff,#2e2eff,#2e2eff,#3232ff,#3333ff,#2e2eff,#2e2eff,#3c3cff,#2f2fff,#2f2fff,#3737ff,#2e2eff,#2c2cff,#3939ff,#2e2eff,#2c2cff,#2e2eff 300.0px)"></div><div style="top:6px;height:2px;background:linear-gradient(90deg,#3e3eff 1.0px,#3636ff,#4848ff,#4444ff,#3838ff,#3333ff,#3535ff,#3333ff,#3a3aff,#3737ff,#3535ff,#3c3cff,#4646ff,#4040ff,#3434ff,#4444ff,#3f3fff,#3f3fff,#3a3aff,#5454ff,#a6a6ff,#4444ff,#3f3fff,#3f3fff,#4040ff,#4949ff,#4545ff,#5454ff,#4141ff,#4343ff,#4242ff,#4545ff,#4a4aff,#4d4dff,#4c4cff,#4c4cff,#4545ff,#4a4aff,#3c3cff,#3d3dff,#3f3fff,#3a3aff,#4444ff,#4141ff,#3b3bff,#4343ff,#4949ff,#3b3bff,#4949ff,#3838ff,#3333ff,#3838ff,#3e3eff,#3838ff,#3636ff,#4949ff,#3333ff,#3a3aff,#4141ff,#3636ff,#3c3cff,#3d3dff,#3333ff,#3232ff,#3f3fff,#3b3bff,#3737ff,#3939ff,#4a4aff,#3c3cff,#3838ff,#3a3aff,#3636ff,#3c3cff,#3b3bff,#3535ff,#3e3eff,#3939ff,#4e4eff,#9191ff,#3e3eff,#3636ff,#4141ff,#3b3bff,#3a3aff,#4646ff,#3e3eff,#4848ff,#3f3fff,#3e3eff,#3f3fff,#4040ff,#4545ff,#4343ff,#3f3fff,#3d3dff,#4343ff,#4040ff,#4b4bff,#3f3fff,#3c3cff,#4949ff,#4545ff,#4f4fff,#4a4aff,#4444ff,#3f3fff,#4242ff,#3c3cff,#3737ff,#3c3cff,#4040ff,#3b3bff,#4343ff,#3737ff,#3f3fff,#3838ff,#4343ff,#3535ff,#3c3cff,#3030ff,#3434ff,#2e2eff,#3434ff,#3131ff,#3131ff,#3a3aff,#3131ff,#2f2fff,#3030ff,#3636ff,#2c2cff,#3333ff,#3333ff,#2c2cff,#2b2bff,#2d2dff,#2f2fff,#3434ff,#3030ff,#2e2eff,#3d3dff,#2d2dff,#2e2eff,#3434ff,#2d2dff,#2f2fff,#3333ff,#2c2cff,#2b2bff,#3030ff 300.0px)"></div><div style="top:8px;height:2px;background:linear-gradient(90deg,#4040ff 1.0px,#3838ff,#4747ff,#4444ff,#3e3eff,#3636ff,#3535ff,#3535ff,#3f3fff,#3434ff,#3535ff,#3e3eff,#4242ff,#3e3eff,#3737ff,#4848ff,#4242ff,#4242ff,#3c3cff,#5050ff,#a4a4ff,#4545ff,#4040ff,#4141ff,#3f3fff,#4c4cff,#4646ff,#5454ff,#4040ff,#4444ff,#4343ff,#4343ff,#4d4dff,#4d4dff,#4e4eff,#5353ff,#4747ff,#4c4cff,#3b3bff,#3939ff,#3e3eff,#3d3dff,#4040ff,#3d3dff,#3b3bff,#4646ff,#4646ff,#4040ff,#4d4dff,#3737ff,#3333ff,#3636ff,#3636ff,#3d3dff,#3636ff,#4747ff,#3434ff,#3939ff,#3f3fff,#3737ff,#3a3aff,#3e3eff,#3535ff,#3535ff,#3e3eff,#3939ff,#3636ff,#3939ff,#4949ff,#3f3fff,#3535ff,#3a3aff,#3737ff,#3c3cff,#3939ff,#3636ff,#3d3dff,#3131ff,#4b4bff,#9191ff,#4141ff,#3a3aff,#4141ff,#4242ff,#3e3eff,#4444ff,#3f3fff,#4646ff,#4343ff,#3c3cff,#4040ff,#4848ff,#4444ff,#4343ff,#3b3bff,#3d3dff,#3e3eff,#4141ff,#4b4bff,#3b3bff,#4040ff,#4a4aff,#4848ff,#4d4dff,#4a4aff,#4747ff,#4040ff,#4343ff,#3a3aff,#3838ff,#3e3eff,#4141ff,#3434ff,#4040ff,#3939ff,#3f3fff,#3535ff,#4444ff,#3939ff,#3939ff,#3232ff,#3737ff,#2e2eff,#3333ff,#3434ff,#3232ff,#3d3dff,#2f2fff,#3030ff,#2d2dff,#3333ff,#3131ff,#3535ff,#3030ff,#2a2aff,#2b2bff,#3030ff,#2e2eff,#3333ff,#2e2eff,#2e2eff,#3c3cff,#2c2cff,#2d2dff,#3535ff,#2c2cff,#3030ff,#3636ff,#2c2cff,#2a2aff,#3333ff 300.0px)"></div><div style="top:10px;height:2px;background:linear-gradient(90deg,#3e3eff 1.0px,#3737ff,#4747ff,#4040ff,#3838ff,#3535ff,#3333ff,#3737ff,#3e3eff,#3636ff,#3737ff,#3d3dff,#4545ff,#4444ff,#3737ff,#4747ff,#4242ff,#4141ff,#3b3bff,#4e4eff,#a2a2ff,#4f4fff,#3e3eff,#3d3dff,#4444ff,#4a4aff,#4848ff,#5454ff,#4646ff,#4545ff,#4545ff,#4545ff,#4d4dff,#5050ff,#4d4dff,#5151ff,#4747ff,#4c4cff,#3d3dff,#4040ff,#4040ff,#3c3cff,#4343ff,#4141ff,#4040ff,#4444ff,#4b4bff,#4040ff,#4f4fff,#3737ff,#3737ff,#3939ff,#3b3bff,#3939ff,#3737ff,#4747ff,#3434ff,#3939ff,#4141ff,#3434ff,#3939ff,#3e3eff,#3636ff,#3333ff,#3b3bff,#3b3bff,#3636ff,#3737ff,#4949ff,#3e3eff,#3333ff,#3a3aff,#3636ff,#4141ff,#3d3dff,#3939ff,#3c3cff,#3838ff,#4646ff,#9292ff,#4444ff,#3b3bff,#4545ff,#4343ff,#3f3fff,#4242ff,#3e3eff,#4b4bff,#4444ff,#3e3eff,#4242ff,#4343ff,#4646ff,#4545ff,#4040ff,#4242ff,#4242ff,#4646ff,#4f4fff,#3e3eff,#3d3dff,#4e4eff,#4747ff,#4e4eff,#4c4cff,#4545ff,#3f3fff,#4343ff,#3e3eff,#3a3aff,#3d3dff,#3f3fff,#3636ff,#4242ff,#3939ff,#3b3bff,#3838ff,#4545ff,#3434ff,#3b3bff,#3535ff,#3939ff,#2f2fff,#3737ff,#3232ff,#3030ff,#3b3bff,#3131ff,#3131ff,#3232ff,#3333ff,#2b2bff,#3131ff,#3535ff,#2828ff,#2d2dff,#2c2cff,#2f2fff,#3434ff,#3131ff,#2f2fff,#3c3cff,#2c2cff,#2e2eff,#3737ff,#2f2fff,#2e2eff,#3333ff,#2b2bff,#2f2fff,#2c2cff 300.0px)"></div><div style="top:12px;height:2px;background:linear-gradient(90deg,#4141ff 1.0px,#3c3cff,#4848ff,#4242ff,#3c3cff,#3737ff,#3535ff,#3737ff,#3d3dff,#3131ff,#3737ff,#3b3bff,#4747ff,#4242ff,#3737ff,#4848ff,#4343ff,#3e3eff,#3e3eff,#4747ff,#9b9bff,#5757ff,#3f3fff,#3f3fff,#4242ff,#4949ff,#4646ff,#5656ff,#4545ff,#4646ff,#4b4bff,#4b4bff,#4d4dff,#5353ff,#5353ff,#5353ff,#4a4aff,#4d4dff,#3e3eff,#4242ff,#4646ff,#3b3bff,#4343ff,#3f3fff,#3b3bff,#4848ff,#4848ff,#4040ff,#4b4bff,#3d3dff,#3636ff,#3737ff,#3939ff,#3c3cff,#3737ff,#4949ff,#3232ff,#3a3aff,#4242ff,#3838ff,#3939ff,#3c3cff,#3636ff,#3030ff,#3e3eff,#3a3aff,#3838ff,#3b3bff,#4e4eff,#4040ff,#3636ff,#3939ff,#3838ff,#4242ff,#3838ff,#3b3bff,#4040ff,#3b3bff,#4040ff,#8a8aff,#5151ff,#3d3dff,#4444ff,#3e3eff,#4040ff,#4646ff,#4141ff,#4a4aff,#4444ff,#4242ff,#4747ff,#4141ff,#4545ff,#4646ff,#4040ff,#4040ff,#4040ff,#4a4aff,#4d4dff,#3f3fff,#3d3dff,#4949ff,#4848ff,#4b4bff,#4d4dff,#4848ff,#4343ff,#4646ff,#3b3bff,#3838ff,#3b3bff,#3f3fff,#3636ff,#4242ff,#3a3aff,#3c3cff,#3a3aff,#4141ff,#3939ff,#3d3dff,#3535ff,#3a3aff,#3131ff,#3535ff,#3333ff,#3131ff,#3c3cff,#2f2fff,#3030ff,#2e2eff,#3333ff,#3131ff,#2e2eff,#3333ff,#2c2cff,#2b2bff,#2f2fff,#2f2fff,#3434ff,#3030ff,#3131ff,#3b3bff,#2b2bff,#2929ff,#3939ff,#2e2eff,#2e2eff,#3434ff,#2c2cff,#2c2cff,#2f2fff 300.0px)"></div><div style="top:14px;height:2px;background:linear-gradient(90deg,#4444ff 1.0px,#3737ff,#4646ff,#3f3fff,#3737ff,#3636ff,#3838ff,#3838ff,#4242ff,#3535ff,#3737ff,#3f3fff,#4747ff,#4747ff,#3a3aff,#4848ff,#4242ff,#4444ff,#3d3dff,#4242ff,#8080ff,#7a7aff,#4242ff,#4747ff,#4343ff,#4c4cff,#4949ff,#5c5cff,#4d4dff,#6060ff,#4e4eff,#5050ff,#4f4fff,#5353ff,#5252ff,#5555ff,#4d4dff,#5151ff,#4545ff,#4242ff,#4242ff,#3f3fff,#4444ff,#3e3eff,#4343ff,#4848ff,#4e4eff,#4040ff,#5050ff,#3a3aff,#3939ff,#3939ff,#3a3aff,#3b3bff,#3939ff,#4a4aff,#3737ff,#3b3bff,#4242ff,#3636ff,#3b3bff,#3f3fff,#3434ff,#3434ff,#4040ff,#3b3bff,#3838ff,#3d3dff,#4949ff,#3a3aff,#3535ff,#3b3bff,#3535ff,#4141ff,#3838ff,#3c3cff,#4242ff,#3636ff,#3f3fff,#7474ff,#6b6bff,#4141ff,#4444ff,#4242ff,#4141ff,#4545ff,#4343ff,#4d4dff,#5c5cff,#4646ff,#4949ff,#4646ff,#4949ff,#4949ff,#4444ff,#4040ff,#4848ff,#4a4aff,#4d4dff,#3d3dff,#4242ff,#4a4aff,#4b4bff,#4f4fff,#4b4bff,#4c4cff,#4242ff,#4444ff,#3e3eff,#3737ff,#4444ff,#4040ff,#3737ff,#4040ff,#3c3cff,#3e3eff,#3737ff,#4848ff,#3838ff,#3f3fff,#3333ff,#3a3aff,#3232ff,#3535ff,#3434ff,#2d2dff,#3b3bff,#3232ff,#3030ff,#2f2fff,#3131ff,#3030ff,#3232ff,#3030ff,#2c2cff,#2d2dff,#3232ff,#3030ff,#3333ff,#3030ff,#3131ff,#3c3cff,#2b2bff,#2e2eff,#3434ff,#2d2dff,#3030ff,#3838ff,#2929ff,#2c2cff,#2828ff 300.0px)"></div><div style="top:16px;height:2px;background:linear-gradient(90deg,#4141ff 1.0px,#3636ff,#4a4aff,#4343ff,#3939ff,#3636ff,#3838ff,#3a3aff,#3f3fff,#3939ff,#3838ff,#4343ff,#4949ff,#4444ff,#3b3bff,#4848ff,#4444ff,#4444ff,#3d3dff,#4949ff,#6161ff,#9292ff,#4545ff,#4141ff,#4242ff,#5151ff,#4d4dff,#5656ff,#4d4dff,#7b7bff,#5252ff,#5e5eff,#5b5bff,#5252ff,#5656ff,#5454ff,#5151ff,#5151ff,#4343ff,#4444ff,#4040ff,#4141ff,#4848ff,#4646ff,#4242ff,#4a4aff,#4b4bff,#4545ff,#4a4aff,#3838ff,#3838ff,#3737ff,#3939ff,#3838ff,#3636ff,#4848ff,#3434ff,#3b3bff,#4343ff,#3939ff,#3b3bff,#3f3fff,#3636ff,#3434ff,#4242ff,#3939ff,#3737ff,#3c3cff,#4c4cff,#3e3eff,#3939ff,#3b3bff,#3838ff,#4040ff,#3a3aff,#3b3bff,#3e3eff,#3b3bff,#3b3bff,#5e5eff,#8484ff,#4747ff,#4747ff,#3f3fff,#4444ff,#4c4cff,#4444ff,#4f4fff,#7a7aff,#4f4fff,#5858ff,#5050ff,#4747ff,#4d4dff,#4242ff,#4343ff,#4444ff,#4949ff,#5050ff,#4040ff,#4545ff,#4c4cff,#4b4bff,#4b4bff,#4a4aff,#4646ff,#4242ff,#4444ff,#3d3dff,#3b3bff,#4040ff,#4040ff,#3b3bff,#4949ff,#3c3cff,#3e3eff,#3c3cff,#4343ff,#3a3aff,#3c3cff,#3434ff,#3838ff,#2e2eff,#3737ff,#3535ff,#3535ff,#3b3bff,#3131ff,#3131ff,#2e2eff,#3535ff,#2c2cff,#2e2eff,#3535ff,#2d2dff,#2e2eff,#2e2eff,#3333ff,#2f2fff,#2d2dff,#2b2bff,#3d3dff,#2b2bff,#2c2cff,#3434ff,#2d2dff,#2e2eff,#3131ff,#2f2fff,#2828ff,#2f2fff 300.0px)"></div><div style="top:18px;height:2px;background:linear-gradient(90deg,#3f3fff 1.0px,#3939ff,#4a4aff,#4141ff,#3a3aff,#3737ff,#3535ff,#3636ff,#3f3fff,#3535ff,#3838ff,#3e3eff,#4949ff,#4343ff,#3737ff,#4949ff,#4545ff,#4343ff,#4242ff,#4b4bff,#5050ff,#9f9fff,#5050ff,#4141ff,#4747ff,#5252ff,#5050ff,#5d5dff,#4f4fff,#8d8dff,#5e5eff,#6b6bff,#6060ff,#5757ff,#5353ff,#5959ff,#4d4dff,#5151ff,#4747ff,#4848ff,#4545ff,#4141ff,#4949ff,#4242ff,#4343ff,#4949ff,#4d4dff,#4242ff,#4c4cff,#3d3dff,#3a3aff,#3c3cff,#3939ff,#3b3bff,#3030ff,#4949ff,#3333ff,#3a3aff,#4343ff,#3939ff,#3b3bff,#4545ff,#3232ff,#3636ff,#4040ff,#3a3aff,#3737ff,#3838ff,#4c4cff,#3b3bff,#3535ff,#3939ff,#3b3bff,#4141ff,#3b3bff,#3d3dff,#4141ff,#3b3bff,#3c3cff,#4949ff,#8c8cff,#4b4bff,#4a4aff,#4646ff,#4343ff,#4d4dff,#4848ff,#5757ff,#8e8eff,#4e4eff,#6161ff,#5555ff,#4a4aff,#4949ff,#4545ff,#4747ff,#4747ff,#4848ff,#4e4eff,#4242ff,#4343ff,#4c4cff,#4f4fff,#5050ff,#4c4cff,#4747ff,#4444ff,#4545ff,#3e3eff,#3c3cff,#4040ff,#4242ff,#3b3bff,#4444ff,#3a3aff,#3e3eff,#3c3cff,#4444ff,#3535ff,#4040ff,#3333ff,#3636ff,#2e2eff,#3636ff,#3333ff,#3131ff,#3a3aff,#3535ff,#2f2fff,#3232ff,#3232ff,#2f2fff,#3434ff,#3333ff,#2525ff,#2b2bff,#2f2fff,#3030ff,#2e2eff,#3131ff,#3030ff,#3a3aff,#2a2aff,#2e2eff,#3939ff,#2e2eff,#3030ff,#3030ff,#2d2dff,#2b2bff,#3232ff 300.0px)"></div><div style="top:20px;height:2px;background:linear-gradient(90deg,#4040ff 1.0px,#3636ff,#4a4aff,#4242ff,#3d3dff,#3434ff,#3636ff,#3737ff,#3e3eff,#3a3aff,#3a3aff,#3f3fff,#4747ff,#4646ff,#3d3dff,#4747ff,#4646ff,#3f3fff,#4242ff,#4444ff,#4848ff,#8d8dff,#6161ff,#4848ff,#4646ff,#5959ff,#4e4eff,#5e5eff,#5656ff,#a1a1ff,#6969ff,#7373ff,#6868ff,#5555ff,#5c5cff,#5a5aff,#5151ff,#5353ff,#4545ff,#4a4aff,#4646ff,#4343ff,#4c4cff,#4444ff,#4040ff,#4949ff,#4b4bff,#4343ff,#4c4cff,#3b3bff,#3a3aff,#3c3cff,#3a3aff,#3f3fff,#3838ff,#4848ff,#3535ff,#3e3eff,#4444ff,#3737ff,#3c3cff,#4343ff,#3535ff,#3636ff,#3a3aff,#3939ff,#3838ff,#3c3cff,#4949ff,#4040ff,#3838ff,#3b3bff,#3535ff,#4242ff,#3c3cff,#3838ff,#4343ff,#3a3aff,#3e3eff,#3f3fff,#7e7eff,#5757ff,#4848ff,#4949ff,#4949ff,#4c4cff,#4949ff,#5555ff,#a1a1ff,#5858ff,#6b6bff,#5959ff,#4f4fff,#5353ff,#4545ff,#4545ff,#4848ff,#4b4bff,#5454ff,#4848ff,#4545ff,#4d4dff,#4e4eff,#4d4dff,#4e4eff,#4c4cff,#4747ff,#4646ff,#4040ff,#3c3cff,#3e3eff,#4444ff,#3737ff,#4040ff,#3a3aff,#3e3eff,#3f3fff,#4646ff,#3636ff,#3d3dff,#3636ff,#3434ff,#3131ff,#3c3cff,#3434ff,#3333ff,#3838ff,#3333ff,#2b2bff,#3131ff,#3636ff,#2e2eff,#3131ff,#3434ff,#2e2eff,#2c2cff,#2f2fff,#3131ff,#3333ff,#3131ff,#2e2eff,#3b3bff,#2c2cff,#2e2eff,#3131ff,#2c2cff,#2f2fff,#3333ff,#2c2cff,#2b2bff,#2f2fff 300.0px)"></div><div style="top:22px;height:2px;background:linear-gradient(90deg,#3e3eff 1.0px,#3535ff,#4949ff,#4444ff,#3d3dff,#3535ff,#3a3aff,#3434ff,#3c3cff,#3a3aff,#3939ff,#3e3eff,#4949ff,#4444ff,#3e3eff,#4c4cff,#4747ff,#4141ff,#4545ff,#4949ff,#4949ff,#6161ff,#8888ff,#4e4eff,#4949ff,#6666ff,#5454ff,#5c5cff,#5858ff,#b6b6ff,#6a6aff,#7373ff,#6b6bff,#5c5cff,#6464ff,#5959ff,#5050ff,#5555ff,#4545ff,#4848ff,#4545ff,#4646ff,#4646ff,#4444ff,#4444ff,#4b4bff,#4e4eff,#4141ff,#4c4cff,#3b3bff,#3a3aff,#3a3aff,#3c3cff,#3f3fff,#3232ff,#4b4bff,#3333ff,#3a3aff,#4141ff,#3838ff,#3a3aff,#4141ff,#3a3aff,#3232ff,#4141ff,#3838ff,#3939ff,#3f3fff,#4d4dff,#4141ff,#3838ff,#3d3dff,#3b3bff,#4141ff,#3939ff,#3c3cff,#4242ff,#3d3dff,#4141ff,#3d3dff,#6161ff,#7676ff,#4d4dff,#4a4aff,#5454ff,#4d4dff,#4a4aff,#5d5dff,#b5b5ff,#5f5fff,#6868ff,#5b5bff,#5454ff,#5e5eff,#4848ff,#4b4bff,#4949ff,#4f4fff,#5757ff,#4848ff,#4545ff,#4d4dff,#5050ff,#5353ff,#4f4fff,#4d4dff,#4545ff,#4848ff,#4040ff,#3a3aff,#4242ff,#4444ff,#3a3aff,#4545ff,#3939ff,#3e3eff,#3d3dff,#4343ff,#3a3aff,#4040ff,#3434ff,#3737ff,#3232ff,#3636ff,#3434ff,#3131ff,#3c3cff,#3232ff,#2c2cff,#3030ff,#3232ff,#2f2fff,#3131ff,#3232ff,#2e2eff,#2d2dff,#2a2aff,#3131ff,#3333ff,#3030ff,#2d2dff,#3d3dff,#2a2aff,#2f2fff,#3636ff,#2e2eff,#3030ff,#3333ff,#2e2eff,#2d2dff,#2f2fff 300.0px)"></div><div style="top:24px;height:2px;background:linear-gradient(90deg,#3e3eff 1.0px,#3838ff,#4848ff,#3f3fff,#3b3bff,#3535ff,#3a3aff,#3939ff,#4242ff,#3838ff,#3a3aff,#4343ff,#4b4bff,#4949ff,#3e3eff,#4a4aff,#4848ff,#4545ff,#4343ff,#4848ff,#4848ff,#4d4dff,#8585ff,#5c5cff,#4c4cff,#7171ff,#5757ff,#6161ff,#6161ff,#c9c9ff,#7373ff,#7676ff,#7373ff,#5f5fff,#7070ff,#5959ff,#5353ff,#5757ff,#4b4bff,#4a4aff,#4848ff,#4646ff,#4d4dff,#4343ff,#4545ff,#4b4bff,#4c4cff,#4040ff,#5050ff,#4040ff,#3a3aff,#3e3eff,#3c3cff,#3c3cff,#3737ff,#4949ff,#3333ff,#3b3bff,#4343ff,#3636ff,#3d3dff,#4343ff,#3939ff,#3232ff,#3e3eff,#3d3dff,#3636ff,#3b3bff,#4b4bff,#4040ff,#3737ff,#3c3cff,#3737ff,#4040ff,#3e3eff,#4040ff,#4444ff,#3e3eff,#4141ff,#4444ff,#4949ff,#7373ff,#5757ff,#4b4bff,#5b5bff,#5050ff,#4e4eff,#6262ff,#c8c8ff,#6565ff,#6a6aff,#5f5fff,#5858ff,#6b6bff,#4949ff,#4c4cff,#4848ff,#4e4eff,#5555ff,#5353ff,#4d4dff,#5050ff,#4e4eff,#5353ff,#4c4cff,#4e4eff,#4545ff,#4a4aff,#4242ff,#4141ff,#4141ff,#4343ff,#3a3aff,#4343ff,#3c3cff,#3b3bff,#3a3aff,#4242ff,#3737ff,#3d3dff,#3737ff,#3737ff,#3333ff,#3737ff,#3434ff,#3434ff,#3535ff,#3434ff,#3030ff,#3131ff,#3232ff,#2c2cff,#3333ff,#3434ff,#2e2eff,#2c2cff,#2e2eff,#3030ff,#3434ff,#2f2fff,#3131ff,#3a3aff,#2a2aff,#3131ff,#3737ff,#2f2fff,#2e2eff,#2e2eff,#2929ff,#2b2bff,#2e2eff 300.0px)"></div><div style="top:26px;height:2px;background:linear-gradient(90deg,#3e3eff 1.0px,#3434ff,#4949ff,#4343ff,#3939ff,#3737ff,#3838ff,#3939ff,#3c3cff,#3636ff,#3838ff,#3d3dff,#4949ff,#4747ff,#3f3fff,#4e4eff,#4949ff,#4848ff,#4646ff,#4949ff,#4343ff,#4949ff,#6565ff,#7878ff,#5050ff,#7c7cff,#5858ff,#6a6aff,#6161ff,#e0dffe,#7f7fff,#7575ff,#7979ff,#6868ff,#7a7aff,#6060ff,#5353ff,#5757ff,#4b4bff,#4848ff,#4b4bff,#4747ff,#4d4dff,#4848ff,#4c4cff,#4c4cff,#5050ff,#4545ff,#4e4eff,#3f3fff,#3d3dff,#3c3cff,#3e3eff,#3f3fff,#3434ff,#4949ff,#3838ff,#3d3dff,#4343ff,#3636ff,#3939ff,#4545ff,#3a3aff,#3838ff,#4242ff,#3e3eff,#3b3bff,#3d3dff,#4d4dff,#3d3dff,#3434ff,#3d3dff,#3838ff,#3e3eff,#3c3cff,#3d3dff,#4040ff,#3e3eff,#3d3dff,#4040ff,#4444ff,#5d5dff,#6e6eff,#4e4eff,#6363ff,#5757ff,#5252ff,#6464ff,#d8d8ff,#6f6fff,#6d6dff,#6767ff,#5b5bff,#7a7aff,#4e4eff,#4949ff,#4c4cff,#5050ff,#5656ff,#5858ff,#4a4aff,#5151ff,#4c4cff,#5454ff,#4f4fff,#4b4bff,#4848ff,#4b4bff,#4343ff,#3c3cff,#4343ff,#4242ff,#3b3bff,#4343ff,#3b3bff,#4040ff,#4040ff,#4949ff,#3d3dff,#3e3eff,#3636ff,#3737ff,#3636ff,#3636ff,#3333ff,#3434ff,#3737ff,#3434ff,#2c2cff,#2e2eff,#3131ff,#2d2dff,#3434ff,#3232ff,#2d2dff,#2f2fff,#3333ff,#3232ff,#3535ff,#3030ff,#2e2eff,#3939ff,#2b2bff,#2c2cff,#3939ff,#2f2fff,#2f2fff,#3636ff,#2e2eff,#2b2bff,#2d2dff 300.0px)"></div><div style="top:28px;height:2px;background:linear-gradient(90deg,#4040ff 1.0px,#3838ff,#4747ff,#4242ff,#3b3bff,#3535ff,#3b3bff,#3b3bff,#4141ff,#3838ff,#3939ff,#3f3fff,#4c4cff,#4949ff,#3c3cff,#4c4cff,#4c4cff,#4949ff,#4949ff,#4c4cff,#4444ff,#4949ff,#4c4cff,#7373ff,#6363ff,#8787ff,#6161ff,#6d6dff,#6b6bff,#f5dfe8,#9090ff,#7676ff,#7d7dff,#6a6aff,#8484ff,#6363ff,#5858ff,#5959ff,#4d4dff,#4e4eff,#4c4cff,#4747ff,#4a4aff,#4848ff,#4848ff,#4a4aff,#4b4bff,#4747ff,#5353ff,#3e3eff,#3c3cff,#3c3cff,#3d3dff,#3e3eff,#3a3aff,#4747ff,#3333ff,#3a3aff,#4242ff,#3838ff,#3c3cff,#4343ff,#3737ff,#3636ff,#3f3fff,#3939ff,#3737ff,#4040ff,#4d4dff,#4343ff,#3838ff,#3a3aff,#3b3bff,#4141ff,#3a3aff,#3b3bff,#4646ff,#4040ff,#4646ff,#4444ff,#4a4aff,#4646ff,#7272ff,#6060ff,#6f6fff,#5858ff,#5656ff,#6d6dff,#f0edfc,#7777ff,#6f6fff,#6e6eff,#6262ff,#8282ff,#5050ff,#4b4bff,#4c4cff,#5353ff,#5959ff,#5757ff,#4949ff,#4f4fff,#5252ff,#5353ff,#4d4dff,#4949ff,#4848ff,#4d4dff,#4141ff,#3d3dff,#4343ff,#4343ff,#3a3aff,#4848ff,#3d3dff,#3e3eff,#3e3eff,#4949ff,#3e3eff,#3d3dff,#3535ff,#3636ff,#3131ff,#3838ff,#3636ff,#3131ff,#3b3bff,#3333ff,#2e2eff,#2e2eff,#3232ff,#2e2eff,#3232ff,#3232ff,#2b2bff,#3030ff,#2f2fff,#3434ff,#3030ff,#3232ff,#2b2bff,#3c3cff,#2c2cff,#2f2fff,#3838ff,#3030ff,#2f2fff,#3232ff,#2a2aff,#2b2bff,#2f2fff 300.0px)"></div><div style="top:30px;height:2px;background:linear-gradient(90deg,#3e3eff 1.0px,#3535ff,#4848ff,#4343ff,#3a3aff,#3838ff,#3737ff,#3636ff,#4343ff,#3838ff,#3838ff,#4040ff,#4d4dff,#4b4bff,#3e3eff,#4e4eff,#4949ff,#4848ff,#4848ff,#4848ff,#4747ff,#4848ff,#4f4fff,#5353ff,#6c6cff,#9c9cff,#6464ff,#7979ff,#7272ff,#fecccd,#a2a2ff,#7777ff,#8282ff,#6b6bff,#8d8dff,#6565ff,#5858ff,#5a5aff,#4949ff,#4f4fff,#4d4dff,#4747ff,#4f4fff,#4949ff,#4c4cff,#4e4eff,#5555ff,#4545ff,#5050ff,#3d3dff,#3f3fff,#3f3fff,#3b3bff,#3e3eff,#3a3aff,#4545ff,#3838ff,#3e3eff,#4343ff,#3737ff,#3e3eff,#4141ff,#3939ff,#3737ff,#3f3fff,#3838ff,#3939ff,#4040ff,#5050ff,#3f3fff,#3535ff,#3e3eff,#3a3aff,#4242ff,#3c3cff,#4141ff,#4343ff,#4040ff,#4848ff,#4141ff,#4242ff,#4a4aff,#5858ff,#6565ff,#7e7eff,#6060ff,#5d5dff,#6f6fff,#f8e6ed,#7f7fff,#6e6eff,#6e6eff,#6565ff,#9090ff,#5353ff,#4d4dff,#4f4fff,#5151ff,#5b5bff,#5f5fff,#4f4fff,#5454ff,#5050ff,#5555ff,#5151ff,#5050ff,#4a4aff,#4949ff,#4141ff,#4444ff,#4444ff,#4242ff,#3c3cff,#4545ff,#4040ff,#3e3eff,#4141ff,#4646ff,#3d3dff,#3e3eff,#3636ff,#3838ff,#3232ff,#3737ff,#3434ff,#3232ff,#3838ff,#3535ff,#2d2dff,#3333ff,#3333ff,#3232ff,#3131ff,#3333ff,#2c2cff,#2c2cff,#2e2eff,#3131ff,#3030ff,#3030ff,#2f2fff,#3e3eff,#2929ff,#3131ff,#3535ff,#2e2eff,#2e2eff,#3131ff,#2a2aff,#2929ff,#2626ff 300.0px)"></div><div style="top:32px;height:2px;background:linear-gradient(90deg,#3c3cff 1.0px,#3434ff,#4b4bff,#3f3fff,#3a3aff,#3535ff,#3737ff,#3838ff,#4040ff,#3a3aff,#3939ff,#4343ff,#4848ff,#4848ff,#3f3fff,#4e4eff,#4a4aff,#4a4aff,#4747ff,#4e4eff,#4949ff,#5050ff,#5353ff,#4e4eff,#5c5cff,#9f9fff,#6a6aff,#8080ff,#7676ff,#ffabab,#afafff,#7878ff,#8989ff,#7272ff,#9b9bff,#6666ff,#5b5bff,#5e5eff,#4f4fff,#5252ff,#4e4eff,#4848ff,#4e4eff,#4949ff,#4747ff,#4d4dff,#5252ff,#4747ff,#4c4cff,#3c3cff,#3c3cff,#4040ff,#3e3eff,#4141ff,#3838ff,#4646ff,#3636ff,#3939ff,#3f3fff,#3b3bff,#3d3dff,#4242ff,#3737ff,#3737ff,#3e3eff,#3d3dff,#3939ff,#3b3bff,#4c4cff,#4242ff,#3838ff,#3c3cff,#3a3aff,#4343ff,#3d3dff,#4040ff,#4646ff,#4242ff,#4444ff,#4242ff,#4b4bff,#4c4cff,#4f4fff,#5555ff,#8484ff,#5e5eff,#6161ff,#7373ff,#fedadb,#8a8aff,#6f6fff,#7575ff,#6b6bff,#9d9dff,#5454ff,#4f4fff,#5555ff,#5151ff,#5b5bff,#6262ff,#5252ff,#5656ff,#5252ff,#5656ff,#5050ff,#4f4fff,#4b4bff,#4b4bff,#4545ff,#4141ff,#4444ff,#4242ff,#3f3fff,#4949ff,#3d3dff,#3e3eff,#4040ff,#4646ff,#3b3bff,#3e3eff,#3636ff,#3838ff,#3333ff,#3737ff,#3434ff,#3434ff,#3939ff,#3535ff,#3232ff,#2e2eff,#3636ff,#2f2fff,#3636ff,#3838ff,#2d2dff,#2e2eff,#2d2dff,#2f2fff,#3333ff,#3131ff,#2d2dff,#3939ff,#2a2aff,#2f2fff,#3636ff,#2b2bff,#3333ff,#3232ff,#2c2cff,#2c2cff,#3131ff 300.0px)"></div><div style="top:34px;height:2px;background:linear-gradient(90deg,#3f3fff 1.0px,#3535ff,#4949ff,#4343ff,#3b3bff,#3636ff,#3939ff,#3939ff,#4040ff,#3636ff,#3c3cff,#4343ff,#4d4dff,#4e4eff,#4141ff,#4949ff,#4a4aff,#4d4dff,#4a4aff,#4e4eff,#4747ff,#4e4eff,#5d5dff,#5353ff,#5757ff,#9a9aff,#6f6fff,#8484ff,#8080ff,#ff8989,#bcb8fb,#7878ff,#8888ff,#7474ff,#a2a2ff,#6969ff,#5a5aff,#5c5cff,#4e4eff,#5151ff,#4f4fff,#4848ff,#4e4eff,#4d4dff,#4b4bff,#4e4eff,#4f4fff,#4545ff,#4c4cff,#4040ff,#3d3dff,#3f3fff,#3e3eff,#3f3fff,#3636ff,#4949ff,#3939ff,#3b3bff,#4242ff,#3838ff,#3f3fff,#4444ff,#3a3aff,#3737ff,#3f3fff,#3939ff,#3b3bff,#3f3fff,#4e4eff,#4646ff,#3737ff,#4141ff,#3a3aff,#4343ff,#3c3cff,#3f3fff,#4646ff,#3f3fff,#4141ff,#4343ff,#4b4bff,#5454ff,#5252ff,#5151ff,#8383ff,#6464ff,#6c6cff,#7c7cff,#ffc8c8,#9898ff,#6c6cff,#7575ff,#6c6cff,#a8a8ff,#5656ff,#5454ff,#5858ff,#5151ff,#5c5cff,#6d6dff,#5353ff,#5656ff,#5353ff,#5454ff,#5151ff,#4f4fff,#4d4dff,#4949ff,#4242ff,#4040ff,#4747ff,#4646ff,#3b3bff,#4848ff,#3c3cff,#3c3cff,#3d3dff,#4949ff,#3b3bff,#3d3dff,#3a3aff,#3d3dff,#3232ff,#3b3bff,#3737ff,#3131ff,#3939ff,#3232ff,#3030ff,#3131ff,#3333ff,#3131ff,#2f2fff,#3131ff,#3030ff,#2c2cff,#2c2cff,#3232ff,#2f2fff,#3131ff,#2d2dff,#3a3aff,#2727ff,#3030ff,#3a3aff,#2d2dff,#2e2eff,#3535ff,#2e2eff,#2929ff,#2f2fff 300.0px)"></div><div style="top:36px;height:2px;background:linear-gradient(90deg,#3d3dff 1.0px,#3939ff,#4a4aff,#4343ff,#3a3aff,#3a3aff,#3838ff,#3737ff,#3f3fff,#3c3cff,#3e3eff,#4141ff,#4b4bff,#4e4eff,#3e3eff,#4d4dff,#4a4aff,#4949ff,#4949ff,#5050ff,#4d4dff,#4d4dff,#6363ff,#5252ff,#5656ff,#9e9eff,#7474ff,#8888ff,#8787ff,#ff7171,#c0aeee,#7878ff,#7f7fff,#7676ff,#adadff,#6a6aff,#5f5fff,#5f5fff,#4e4eff,#5555ff,#4f4fff,#4848ff,#5050ff,#4c4cff,#4c4cff,#5151ff,#5353ff,#4646ff,#4b4bff,#4141ff,#3f3fff,#3c3cff,#4040ff,#3f3fff,#3838ff,#4a4aff,#3939ff,#3d3dff,#4545ff,#3737ff,#3d3dff,#4747ff,#3a3aff,#3939ff,#4141ff,#3b3bff,#3737ff,#3f3fff,#4b4bff,#3e3eff,#3939ff,#3c3cff,#3b3bff,#4242ff,#3f3fff,#4040ff,#4a4aff,#4242ff,#4444ff,#4444ff,#4d4dff,#5c5cff,#5353ff,#5454ff,#8282ff,#6363ff,#7373ff,#7c7cff,#ffb4b4,#a3a3ff,#6c6cff,#7070ff,#6a6aff,#acacff,#5c5cff,#5a5aff,#5757ff,#5656ff,#5d5dff,#6e6eff,#5353ff,#5454ff,#5454ff,#5959ff,#5353ff,#5454ff,#4b4bff,#4d4dff,#4242ff,#4545ff,#4747ff,#4242ff,#3e3eff,#4e4eff,#3c3cff,#3c3cff,#3e3eff,#4545ff,#3939ff,#3e3eff,#3535ff,#3939ff,#3535ff,#3737ff,#3535ff,#3434ff,#3c3cff,#3535ff,#3333ff,#3737ff,#3434ff,#2c2cff,#3131ff,#3131ff,#2e2eff,#2b2bff,#2f2fff,#3232ff,#3030ff,#3030ff,#2d2dff,#3a3aff,#2c2cff,#2f2fff,#3636ff,#3232ff,#2c2cff,#2e2eff,#2d2dff,#2b2bff,#2e2eff 300.0px)"></div><div style="top:38px;height:2px;background:linear-gradient(90deg,#3e3eff 1.0px,#3434ff,#4949ff,#4141ff,#3c3cff,#3636ff,#3939ff,#3a3aff,#4141ff,#3838ff,#3f3fff,#4242ff,#4c4cff,#4e4eff,#4141ff,#4d4dff,#4949ff,#4949ff,#4d4dff,#4f4fff,#4e4eff,#4d4dff,#6f6fff,#5757ff,#5656ff,#9898ff,#7676ff,#9191ff,#8888ff,#ff8080,#c0abea,#7272ff,#7979ff,#7a7aff,#adadff,#6868ff,#5d5dff,#6363ff,#4f4fff,#5555ff,#5959ff,#4e4eff,#5050ff,#4545ff,#4c4cff,#4f4fff,#4e4eff,#4848ff,#4f4fff,#4141ff,#4040ff,#3f3fff,#3e3eff,#3f3fff,#3737ff,#4848ff,#3a3aff,#3939ff,#4040ff,#3737ff,#3f3fff,#4545ff,#3c3cff,#3636ff,#4242ff,#3a3aff,#3b3bff,#3d3dff,#4b4bff,#4141ff,#3939ff,#3e3eff,#3f3fff,#4444ff,#3b3bff,#4444ff,#4646ff,#3e3eff,#4646ff,#4646ff,#4a4aff,#6464ff,#5959ff,#5353ff,#7f7fff,#6a6aff,#7777ff,#8080ff,#ffbbbb,#a8a8ff,#6a6aff,#6969ff,#6f6fff,#b1b1ff,#6161ff,#5c5cff,#6262ff,#5454ff,#5d5dff,#7676ff,#5353ff,#5555ff,#5555ff,#5d5dff,#5353ff,#5050ff,#5151ff,#4b4bff,#4444ff,#4444ff,#4141ff,#4545ff,#3e3eff,#4e4eff,#4040ff,#3c3cff,#4040ff,#4141ff,#3b3bff,#4141ff,#3737ff,#3838ff,#3838ff,#3b3bff,#3232ff,#3333ff,#3b3bff,#3333ff,#2f2fff,#3333ff,#3737ff,#2e2eff,#3030ff,#3434ff,#2c2cff,#3030ff,#2a2aff,#3030ff,#3535ff,#2e2eff,#2b2bff,#3e3eff,#2d2dff,#3434ff,#3535ff,#2f2fff,#3030ff,#3131ff,#2c2cff,#2b2bff,#3030ff 300.0px)"></div><div style="top:40px;height:2px;background:linear-gradient(90deg,#3d3dff 1.0px,#3535ff,#4747ff,#4242ff,#3d3dff,#3737ff,#3a3aff,#3c3cff,#4646ff,#3838ff,#3d3dff,#4343ff,#4b4bff,#4f4fff,#4141ff,#4d4dff,#4e4eff,#4a4aff,#4d4dff,#5151ff,#4c4cff,#5151ff,#7070ff,#5959ff,#5959ff,#9a9aff,#7c7cff,#9191ff,#8383ff,#ff9494,#c7b2eb,#7474ff,#7474ff,#7878ff,#adadff,#6e6eff,#6262ff,#6f6fff,#5050ff,#5656ff,#6060ff,#4e4eff,#5454ff,#4a4aff,#4d4dff,#5050ff,#5151ff,#4848ff,#5151ff,#4242ff,#3e3eff,#3d3dff,#3e3eff,#4242ff,#3636ff,#4e4eff,#3939ff,#3e3eff,#3e3eff,#3a3aff,#3d3dff,#4444ff,#3939ff,#3c3cff,#3f3fff,#3b3bff,#3939ff,#3e3eff,#5050ff,#3d3dff,#3c3cff,#3f3fff,#3e3eff,#4242ff,#4040ff,#4242ff,#4848ff,#4242ff,#4646ff,#4646ff,#4a4aff,#6767ff,#5858ff,#5555ff,#8383ff,#6e6eff,#7272ff,#8383ff,#ffc1c1,#acacff,#6767ff,#6767ff,#7474ff,#b8b8ff,#6060ff,#6464ff,#6b6bff,#5959ff,#6666ff,#7f7fff,#5454ff,#5757ff,#5555ff,#6060ff,#5454ff,#5252ff,#4c4cff,#4e4eff,#4343ff,#4444ff,#4646ff,#4444ff,#4040ff,#5353ff,#4040ff,#3c3cff,#3d3dff,#4444ff,#3d3dff,#4141ff,#3737ff,#3b3bff,#3737ff,#3636ff,#3636ff,#3636ff,#3a3aff,#3535ff,#3333ff,#2e2eff,#3131ff,#3030ff,#3232ff,#3737ff,#2f2fff,#2b2bff,#2e2eff,#3030ff,#2c2cff,#2f2fff,#2d2dff,#3c3cff,#2d2dff,#3131ff,#3838ff,#2f2fff,#2c2cff,#3030ff,#2c2cff,#2c2cff,#2d2dff 300.0px)"></div><div style="top:42px;height:2px;background:linear-gradient(90deg,#4040ff 1.0px,#3636ff,#4a4aff,#4545ff,#3a3aff,#3b3bff,#3a3aff,#3a3aff,#4343ff,#3535ff,#3f3fff,#4444ff,#4e4eff,#4c4cff,#4141ff,#4d4dff,#5050ff,#4c4cff,#4949ff,#5050ff,#4d4dff,#5050ff,#7373ff,#5d5dff,#5c5cff,#9a9aff,#7f7fff,#9595ff,#9393ff,#ff9f9f,#cfb5e5,#7b7bff,#7b7bff,#7d7dff,#adadff,#7272ff,#6767ff,#7676ff,#5353ff,#5858ff,#6868ff,#4e4eff,#5252ff,#4b4bff,#4f4fff,#5151ff,#5454ff,#4848ff,#5252ff,#4040ff,#4242ff,#4444ff,#4141ff,#4343ff,#3b3bff,#4949ff,#3b3bff,#3e3eff,#4343ff,#3a3aff,#3b3bff,#4444ff,#3737ff,#3737ff,#4141ff,#3b3bff,#3c3cff,#3d3dff,#4c4cff,#4141ff,#3b3bff,#4141ff,#4040ff,#4545ff,#3e3eff,#4040ff,#4a4aff,#4141ff,#4747ff,#4949ff,#4d4dff,#6767ff,#5c5cff,#5757ff,#8282ff,#6d6dff,#7878ff,#8484ff,#ffc5c5,#c0bffe,#7272ff,#6969ff,#7676ff,#bcbcff,#6262ff,#6a6aff,#7474ff,#5757ff,#6363ff,#8686ff,#5454ff,#5757ff,#5858ff,#6565ff,#5454ff,#5454ff,#5151ff,#4d4dff,#4444ff,#4545ff,#4444ff,#4545ff,#4242ff,#5757ff,#4141ff,#3c3cff,#3f3fff,#4545ff,#3a3aff,#4444ff,#3737ff,#3b3bff,#3939ff,#3a3aff,#3333ff,#3535ff,#3a3aff,#3838ff,#3131ff,#2f2fff,#3333ff,#3030ff,#3131ff,#3232ff,#2c2cff,#2c2cff,#2a2aff,#3232ff,#3535ff,#3030ff,#2e2eff,#3939ff,#2c2cff,#3131ff,#3535ff,#2f2fff,#2f2fff,#2f2fff,#2d2dff,#2f2fff,#2a2aff 300.0px)"></div><div style="top:44px;height:2px;background:linear-gradient(90deg,#3f3fff 1.0px,#3939ff,#4a4aff,#3f3fff,#3737ff,#3535ff,#3939ff,#3939ff,#4444ff,#3a3aff,#4040ff,#4343ff,#4b4bff,#5151ff,#4141ff,#4c4cff,#4b4bff,#4a4aff,#4b4bff,#5252ff,#4e4eff,#5555ff,#7272ff,#5f5fff,#5959ff,#9595ff,#8989ff,#9494ff,#9494ff,#ffabab,#d2b3df,#7e7eff,#7c7cff,#7d7dff,#b0b0ff,#7171ff,#6666ff,#8282ff,#5353ff,#5a5aff,#7272ff,#5252ff,#5454ff,#4e4eff,#4e4eff,#5050ff,#5656ff,#4646ff,#5252ff,#4343ff,#4141ff,#4141ff,#4343ff,#4444ff,#3939ff,#4848ff,#3838ff,#3e3eff,#4343ff,#3c3cff,#3d3dff,#4545ff,#3a3aff,#3737ff,#3e3eff,#3c3cff,#3b3bff,#3d3dff,#4e4eff,#4444ff,#3939ff,#3e3eff,#3e3eff,#4343ff,#4040ff,#4141ff,#4a4aff,#4646ff,#4949ff,#4949ff,#4c4cff,#6262ff,#5a5aff,#5757ff,#7f7fff,#7272ff,#7d7dff,#8f8fff,#ffc7c7,#cac5fa,#7474ff,#6969ff,#7777ff,#bebeff,#6060ff,#6e6eff,#8080ff,#5c5cff,#6161ff,#9191ff,#5858ff,#5959ff,#5858ff,#6868ff,#5454ff,#5555ff,#4d4dff,#4d4dff,#4343ff,#4444ff,#4545ff,#4747ff,#4040ff,#5858ff,#3e3eff,#3c3cff,#4141ff,#4646ff,#3e3eff,#3f3fff,#3737ff,#3636ff,#3838ff,#3838ff,#3636ff,#3535ff,#3535ff,#3636ff,#3131ff,#3030ff,#2e2eff,#2f2fff,#3131ff,#3232ff,#2f2fff,#2e2eff,#2d2dff,#3232ff,#2f2fff,#3030ff,#2f2fff,#3939ff,#2a2aff,#3131ff,#3737ff,#2f2fff,#3030ff,#3030ff,#2a2aff,#2c2cff,#2b2bff 300.0px)"></div><div style="top:46px;height:2px;background:linear-gradient(90deg,#3e3eff 1.0px,#3838ff,#4949ff,#4343ff,#3c3cff,#3434ff,#3b3bff,#3a3aff,#4242ff,#3b3bff,#3b3bff,#4545ff,#4949ff,#4e4eff,#4444ff,#4949ff,#4b4bff,#4d4dff,#5050ff,#4f4fff,#5252ff,#5454ff,#7272ff,#6060ff,#5b5bff,#9595ff,#8686ff,#9797ff,#9b9bff,#ffbcbc,#ddb9db,#8585ff,#7c7cff,#7f7fff,#b4b4ff,#7373ff,#6b6bff,#8c8cff,#5555ff,#5a5aff,#7c7cff,#5757ff,#5555ff,#5252ff,#4d4dff,#4f4fff,#5757ff,#4949ff,#5252ff,#4242ff,#4343ff,#4444ff,#4343ff,#4343ff,#3a3aff,#4a4aff,#3a3aff,#4242ff,#4242ff,#3b3bff,#3e3eff,#3f3fff,#3a3aff,#3939ff,#4343ff,#3e3eff,#3a3aff,#3c3cff,#5151ff,#4141ff,#3a3aff,#3e3eff,#3d3dff,#4545ff,#4040ff,#4040ff,#4b4bff,#4242ff,#4545ff,#4949ff,#4a4aff,#6767ff,#5e5eff,#5656ff,#8181ff,#7777ff,#7e7eff,#9494ff,#ffc8c8,#d0c1f1,#7676ff,#6f6fff,#7777ff,#c2c2ff,#6161ff,#6e6eff,#8b8bff,#5757ff,#6363ff,#9797ff,#5b5bff,#5a5aff,#5d5dff,#6767ff,#5757ff,#5454ff,#4e4eff,#5050ff,#4343ff,#4545ff,#4646ff,#4444ff,#4343ff,#5858ff,#4141ff,#3c3cff,#4040ff,#4646ff,#3b3bff,#3f3fff,#3838ff,#3737ff,#3737ff,#3838ff,#3535ff,#2f2fff,#3838ff,#3434ff,#3232ff,#2e2eff,#3232ff,#2f2fff,#3131ff,#3333ff,#2d2dff,#2e2eff,#2d2dff,#3131ff,#3030ff,#3131ff,#2d2dff,#3838ff,#2d2dff,#3030ff,#3434ff,#2c2cff,#3131ff,#3030ff,#2929ff,#2c2cff,#2929ff 300.0px)"></div><div style="top:48px;height:2px;background:linear-gradient(90deg,#3d3dff 1.0px,#3838ff,#4848ff,#4444ff,#3939ff,#3131ff,#3c3cff,#3939ff,#4242ff,#3a3aff,#3e3eff,#4242ff,#4c4cff,#4e4eff,#4545ff,#4f4fff,#4b4bff,#4d4dff,#5353ff,#5555ff,#5252ff,#5353ff,#7171ff,#6161ff,#5d5dff,#9595ff,#8989ff,#9494ff,#9c9cff,#ffc3c3,#e7bcd4,#8b8bff,#8080ff,#8080ff,#b3b3ff,#7474ff,#6d6dff,#9494ff,#5555ff,#5c5cff,#8181ff,#5a5aff,#5858ff,#5555ff,#4f4fff,#5353ff,#5353ff,#4a4aff,#5050ff,#4343ff,#4242ff,#3e3eff,#4242ff,#4343ff,#3a3aff,#4c4cff,#3737ff,#3c3cff,#3f3fff,#3c3cff,#3d3dff,#4747ff,#3a3aff,#3636ff,#4040ff,#3a3aff,#3f3fff,#4040ff,#4d4dff,#4040ff,#3a3aff,#3c3cff,#3d3dff,#4242ff,#3f3fff,#4646ff,#4b4bff,#4a4aff,#4d4dff,#4646ff,#4d4dff,#6666ff,#5e5eff,#5858ff,#7b7bff,#7d7dff,#7c7cff,#9797ff,#fbccd0,#dbc8ec,#7b7bff,#7171ff,#7878ff,#c1c1ff,#6363ff,#7171ff,#9797ff,#5858ff,#6161ff,#9c9cff,#5c5cff,#6060ff,#5e5eff,#6f6fff,#5858ff,#5353ff,#4b4bff,#4f4fff,#4646ff,#4444ff,#4747ff,#4848ff,#4040ff,#5858ff,#3e3eff,#4040ff,#4040ff,#4444ff,#3a3aff,#4040ff,#3737ff,#3b3bff,#3535ff,#3737ff,#3636ff,#3636ff,#3c3cff,#3636ff,#3030ff,#3131ff,#3030ff,#3030ff,#3131ff,#3434ff,#2c2cff,#2d2dff,#2d2dff,#3535ff,#2f2fff,#2e2eff,#2e2eff,#3a3aff,#2c2cff,#3434ff,#3535ff,#3232ff,#3131ff,#2f2fff,#2d2dff,#2e2eff,#2e2eff 300.0px)"></div><div style="top:50px;height:2px;background:linear-gradient(90deg,#3e3eff 1.0px,#3838ff,#4949ff,#4242ff,#3d3dff,#3838ff,#3b3bff,#3a3aff,#4343ff,#3d3dff,#4141ff,#4242ff,#4949ff,#5050ff,#3f3fff,#4949ff,#4b4bff,#4949ff,#5f5fff,#5e5eff,#4e4eff,#5151ff,#7474ff,#6161ff,#5b5bff,#9696ff,#8f8fff,#9393ff,#a1a1ff,#fec9ca,#f2c6d3,#8e8eff,#8080ff,#7f7fff,#b2b2ff,#7575ff,#6c6cff,#9797ff,#5656ff,#5c5cff,#8383ff,#5656ff,#5c5cff,#5959ff,#5050ff,#5151ff,#5454ff,#4747ff,#5050ff,#4545ff,#4040ff,#4040ff,#4444ff,#4242ff,#3a3aff,#4b4bff,#3b3bff,#4242ff,#3f3fff,#3e3eff,#3d3dff,#4444ff,#3b3bff,#3838ff,#3f3fff,#3c3cff,#3c3cff,#3f3fff,#4d4dff,#4242ff,#3636ff,#4040ff,#3b3bff,#4343ff,#3d3dff,#4545ff,#4949ff,#4f4fff,#4f4fff,#4b4bff,#4f4fff,#6464ff,#5d5dff,#5656ff,#8181ff,#7b7bff,#8181ff,#9a9aff,#fad2d8,#e3cdea,#8282ff,#7171ff,#7b7bff,#c1c1ff,#6464ff,#6f6fff,#9797ff,#5959ff,#6565ff,#9e9eff,#5c5cff,#6464ff,#6565ff,#7070ff,#5858ff,#5353ff,#4b4bff,#4f4fff,#4343ff,#4343ff,#4949ff,#4848ff,#4343ff,#5a5aff,#3e3eff,#3c3cff,#4242ff,#4444ff,#3c3cff,#4141ff,#3535ff,#3939ff,#3737ff,#3939ff,#3636ff,#3333ff,#3737ff,#3838ff,#3030ff,#3030ff,#3232ff,#3030ff,#3232ff,#3333ff,#2f2fff,#2e2eff,#3030ff,#3030ff,#3434ff,#3333ff,#2e2eff,#3d3dff,#2d2dff,#3535ff,#3838ff,#3131ff,#3030ff,#2d2dff,#2d2dff,#2929ff,#2a2aff 300.0px)"></div><div style="top:52px;height:2px;background:linear-gradient(90deg,#3c3cff 1.0px,#3636ff,#4646ff,#4343ff,#3c3cff,#3535ff,#3a3aff,#3a3aff,#4444ff,#3b3bff,#3c3cff,#4343ff,#4b4bff,#5151ff,#4545ff,#4c4cff,#4e4eff,#4949ff,#6464ff,#6a6aff,#4e4eff,#5151ff,#6f6fff,#5f5fff,#5d5dff,#9393ff,#9292ff,#9090ff,#a2a2ff,#fbcdd1,#f7c8d0,#9696ff,#7e7eff,#7c7cff,#aeaeff,#7676ff,#6767ff,#9696ff,#5858ff,#5b5bff,#8080ff,#5959ff,#5f5fff,#5e5eff,#5050ff,#5050ff,#5555ff,#4646ff,#5353ff,#4343ff,#4141ff,#4141ff,#4646ff,#4343ff,#3d3dff,#4949ff,#3737ff,#3d3dff,#4141ff,#3a3aff,#3e3eff,#4545ff,#3d3dff,#3a3aff,#3d3dff,#3c3cff,#3838ff,#3c3cff,#4c4cff,#4141ff,#3f3fff,#4242ff,#4040ff,#4444ff,#4141ff,#4343ff,#4949ff,#5555ff,#5858ff,#4747ff,#5151ff,#6464ff,#6060ff,#5757ff,#7979ff,#7d7dff,#7b7bff,#9a9aff,#f6d6df,#e9d1e7,#8484ff,#7070ff,#7373ff,#c3c3ff,#6464ff,#7272ff,#9595ff,#5d5dff,#6565ff,#9f9fff,#5d5dff,#6767ff,#6666ff,#7171ff,#5555ff,#5555ff,#4e4eff,#5050ff,#4444ff,#4646ff,#4646ff,#4242ff,#4242ff,#5a5aff,#3e3eff,#3b3bff,#3e3eff,#4646ff,#3a3aff,#4040ff,#3333ff,#3838ff,#3737ff,#3838ff,#3636ff,#3333ff,#3838ff,#3b3bff,#3232ff,#3131ff,#3232ff,#2d2dff,#3131ff,#3131ff,#3030ff,#3030ff,#2e2eff,#3131ff,#3232ff,#3030ff,#2d2dff,#3838ff,#2929ff,#3535ff,#3838ff,#3434ff,#3030ff,#3232ff,#2b2bff,#2c2cff,#2828ff 300.0px)"></div><div style="top:54px;height:2px;background:linear-gradient(90deg,#3a3aff 1.0px,#3535ff,#4a4aff,#4242ff,#3b3bff,#3737ff,#3b3bff,#3838ff,#4848ff,#3c3cff,#4141ff,#4141ff,#4b4bff,#5151ff,#4040ff,#4b4bff,#5353ff,#4b4bff,#6767ff,#7070ff,#5353ff,#5151ff,#7070ff,#6363ff,#5b5bff,#9090ff,#9292ff,#9191ff,#a9a9ff,#f7d0d8,#fdcdcf,#9e9eff,#8080ff,#7e7eff,#b3b3ff,#7777ff,#6767ff,#9696ff,#5858ff,#5757ff,#8484ff,#5656ff,#6161ff,#6363ff,#4b4bff,#5555ff,#5555ff,#4848ff,#4d4dff,#4343ff,#4141ff,#3e3eff,#4444ff,#4242ff,#3d3dff,#4949ff,#3c3cff,#4141ff,#4444ff,#3c3cff,#3f3fff,#4343ff,#3e3eff,#3838ff,#4040ff,#3a3aff,#3a3aff,#3c3cff,#4d4dff,#4040ff,#3d3dff,#3f3fff,#3c3cff,#4242ff,#4242ff,#4545ff,#4b4bff,#5959ff,#5d5dff,#4a4aff,#4d4dff,#6565ff,#6161ff,#5757ff,#7979ff,#8080ff,#7a7aff,#9c9cff,#f0d7e5,#efdbea,#8c8cff,#6c6cff,#7878ff,#c6c6ff,#6767ff,#6d6dff,#9595ff,#5a5aff,#6565ff,#9d9dff,#5d5dff,#6868ff,#6c6cff,#7777ff,#5555ff,#5555ff,#5050ff,#4d4dff,#4343ff,#4545ff,#4747ff,#4040ff,#4343ff,#5757ff,#3e3eff,#3737ff,#3f3fff,#4747ff,#3a3aff,#3d3dff,#3939ff,#3535ff,#3838ff,#3737ff,#3434ff,#3535ff,#3737ff,#3636ff,#2e2eff,#2f2fff,#3232ff,#2c2cff,#3232ff,#3333ff,#2f2fff,#3030ff,#2f2fff,#3131ff,#3636ff,#2d2dff,#2e2eff,#3a3aff,#2b2bff,#3333ff,#3535ff,#3131ff,#2d2dff,#2c2cff,#2d2dff,#2b2bff,#2a2aff 300.0px)"></div><div style="top:56px;height:2px;background:linear-gradient(90deg,#3e3eff 1.0px,#3333ff,#4747ff,#3f3fff,#3b3bff,#3434ff,#3939ff,#3838ff,#4040ff,#3838ff,#3e3eff,#4242ff,#4949ff,#5151ff,#4242ff,#4a4aff,#5252ff,#4d4dff,#6464ff,#7575ff,#5151ff,#5454ff,#6e6eff,#6262ff,#5e5eff,#9090ff,#9595ff,#9292ff,#a9a9ff,#f4d2dd,#ffcdcd,#a8a8ff,#7e7eff,#7d7dff,#b0b0ff,#7676ff,#6666ff,#9595ff,#5858ff,#5858ff,#8282ff,#5b5bff,#6060ff,#6363ff,#4f4fff,#5252ff,#5858ff,#4747ff,#4e4eff,#4545ff,#4242ff,#4747ff,#4343ff,#4343ff,#3939ff,#4646ff,#3a3aff,#3d3dff,#3e3eff,#3b3bff,#3d3dff,#4646ff,#3c3cff,#3838ff,#4141ff,#3838ff,#3e3eff,#3d3dff,#4b4bff,#3f3fff,#3a3aff,#3c3cff,#4040ff,#4444ff,#4343ff,#4545ff,#4f4fff,#5f5fff,#6464ff,#4a4aff,#4c4cff,#6262ff,#6363ff,#5757ff,#7474ff,#7f7fff,#7b7bff,#9c9cff,#eddbec,#f1dfed,#8f8fff,#6f6fff,#7a7aff,#c3c3ff,#6666ff,#7171ff,#9898ff,#5757ff,#6767ff,#9f9fff,#5d5dff,#6767ff,#6969ff,#7272ff,#5656ff,#5353ff,#4f4fff,#4d4dff,#4545ff,#4646ff,#4848ff,#4444ff,#3e3eff,#5c5cff,#4040ff,#3d3dff,#4040ff,#4646ff,#3c3cff,#4343ff,#3939ff,#3c3cff,#3a3aff,#3737ff,#3636ff,#3535ff,#3b3bff,#3535ff,#3333ff,#3030ff,#3333ff,#2f2fff,#3232ff,#3434ff,#2d2dff,#2d2dff,#2a2aff,#2d2dff,#2e2eff,#2e2eff,#2e2eff,#3a3aff,#2a2aff,#3131ff,#3535ff,#3232ff,#3131ff,#2e2eff,#2d2dff,#2c2cff,#3030ff 300.0px)"></div><div style="top:58px;height:2px;background:linear-gradient(90deg,#3a3aff 1.0px,#3535ff,#4848ff,#4141ff,#3838ff,#3737ff,#3939ff,#3b3bff,#4141ff,#3e3eff,#3f3fff,#4545ff,#4b4bff,#5252ff,#4444ff,#4e4eff,#5d5dff,#4f4fff,#6666ff,#7171ff,#5151ff,#5151ff,#6d6dff,#6666ff,#5e5eff,#8a8aff,#8d8dff,#8e8eff,#a4a4ff,#efd7e7,#ffd0d0,#b2b2ff,#7f7fff,#7c7cff,#b1b1ff,#7979ff,#6464ff,#9595ff,#5b5bff,#5c5cff,#8181ff,#5e5eff,#5f5fff,#6565ff,#4e4eff,#5151ff,#5555ff,#4848ff,#4f4fff,#4444ff,#3d3dff,#4545ff,#4242ff,#4444ff,#3e3eff,#4848ff,#3a3aff,#3c3cff,#4343ff,#3b3bff,#3c3cff,#4444ff,#3b3bff,#3838ff,#3d3dff,#3b3bff,#3d3dff,#3f3fff,#5050ff,#4444ff,#3e3eff,#3e3eff,#4040ff,#4545ff,#4646ff,#4e4eff,#4949ff,#5f5fff,#6262ff,#4c4cff,#5151ff,#6262ff,#5e5eff,#5858ff,#7070ff,#8181ff,#7878ff,#9999ff,#e7e1f9,#f2e7f4,#9999ff,#6f6fff,#7474ff,#c0c0ff,#6565ff,#6d6dff,#9797ff,#5d5dff,#6464ff,#9e9eff,#5c5cff,#6767ff,#6d6dff,#7373ff,#5555ff,#5353ff,#4d4dff,#4f4fff,#4848ff,#4242ff,#4343ff,#4545ff,#3e3eff,#5b5bff,#4040ff,#3b3bff,#4545ff,#4242ff,#3b3bff,#4040ff,#3434ff,#3737ff,#3838ff,#3636ff,#3232ff,#3737ff,#3737ff,#3535ff,#3131ff,#3131ff,#3030ff,#3131ff,#3333ff,#3232ff,#2d2dff,#2c2cff,#2f2fff,#2f2fff,#3232ff,#2f2fff,#2c2cff,#3a3aff,#2d2dff,#3232ff,#3737ff,#3131ff,#2e2eff,#2f2fff,#2e2eff,#2a2aff,#2a2aff 300.0px)"></div><div style="top:60px;height:2px;background:linear-gradient(90deg,#3e3eff 1.0px,#3434ff,#4949ff,#4242ff,#3e3eff,#3838ff,#3b3bff,#3c3cff,#4242ff,#3d3dff,#3f3fff,#4141ff,#4a4aff,#4e4eff,#4545ff,#4b4bff,#6060ff,#4b4bff,#6767ff,#7575ff,#5252ff,#5252ff,#6c6cff,#6363ff,#5d5dff,#7f7fff,#8b8bff,#8a8aff,#a4a4ff,#e9d9ef,#ffb9b9,#d7d1f8,#8585ff,#7878ff,#b1b1ff,#7676ff,#6363ff,#9393ff,#5656ff,#5858ff,#8181ff,#5f5fff,#5c5cff,#6262ff,#4b4bff,#4d4dff,#5757ff,#4848ff,#5050ff,#4646ff,#4343ff,#4040ff,#4343ff,#4141ff,#3d3dff,#4a4aff,#3d3dff,#3d3dff,#3e3eff,#3a3aff,#3f3fff,#4a4aff,#3d3dff,#3a3aff,#4242ff,#3d3dff,#3838ff,#3e3eff,#4e4eff,#4242ff,#3a3aff,#3e3eff,#3d3dff,#4343ff,#3f3fff,#5656ff,#4c4cff,#5b5bff,#6565ff,#4747ff,#4e4eff,#6464ff,#6161ff,#5353ff,#6767ff,#7b7bff,#7676ff,#9898ff,#dfdfff,#f8f2f9,#a3a3ff,#6f6fff,#6f6fff,#c0c0ff,#6464ff,#6d6dff,#9797ff,#5d5dff,#6161ff,#9a9aff,#5e5eff,#6767ff,#6c6cff,#7171ff,#5555ff,#5454ff,#4d4dff,#4d4dff,#4747ff,#4747ff,#4646ff,#4444ff,#3f3fff,#5858ff,#4141ff,#3e3eff,#4242ff,#4545ff,#3939ff,#3b3bff,#3434ff,#3939ff,#3a3aff,#3535ff,#3030ff,#3434ff,#3434ff,#3737ff,#3131ff,#3131ff,#3030ff,#2929ff,#2f2fff,#3535ff,#2b2bff,#2a2aff,#2b2bff,#2f2fff,#3333ff,#3232ff,#2d2dff,#3838ff,#2f2fff,#3333ff,#3434ff,#3030ff,#2f2fff,#3131ff,#2c2cff,#2b2bff,#2d2dff 300.0px)"></div><div style="top:62px;height:2px;background:linear-gradient(90deg,#3c3cff 1.0px,#3535ff,#4343ff,#3f3fff,#3c3cff,#3737ff,#3d3dff,#3c3cff,#4444ff,#3a3aff,#3d3dff,#3e3eff,#4b4bff,#5252ff,#4646ff,#4a4aff,#6363ff,#4c4cff,#6868ff,#7272ff,#4f4fff,#5353ff,#6868ff,#6868ff,#5b5bff,#7b7bff,#8585ff,#8686ff,#9d9dff,#e1dcf9,#ffa8a8,#e4cce7,#8484ff,#7373ff,#a6a6ff,#7575ff,#6363ff,#9696ff,#5c5cff,#5c5cff,#7e7eff,#5c5cff,#5959ff,#6363ff,#4a4aff,#4c4cff,#5454ff,#4646ff,#4e4eff,#4242ff,#4444ff,#4242ff,#4646ff,#4444ff,#3c3cff,#4545ff,#3a3aff,#3c3cff,#4141ff,#3939ff,#3d3dff,#4747ff,#3b3bff,#3939ff,#3f3fff,#3939ff,#3d3dff,#3e3eff,#4e4eff,#4242ff,#3838ff,#4343ff,#3f3fff,#4343ff,#4242ff,#5858ff,#4c4cff,#5a5aff,#6565ff,#4a4aff,#4f4fff,#5d5dff,#6060ff,#5252ff,#6262ff,#7474ff,#7171ff,#8e8eff,#ccccff,#fafafe,#b1b1ff,#7070ff,#7171ff,#bcbcff,#6565ff,#6c6cff,#9898ff,#5a5aff,#5e5eff,#9797ff,#6060ff,#6363ff,#6b6bff,#7373ff,#5656ff,#5454ff,#4e4eff,#4c4cff,#4646ff,#4444ff,#4949ff,#4040ff,#4242ff,#5858ff,#3f3fff,#3a3aff,#4343ff,#4747ff,#3b3bff,#3e3eff,#3737ff,#3939ff,#3636ff,#3737ff,#3333ff,#3232ff,#3737ff,#3838ff,#3131ff,#2e2eff,#2f2fff,#2e2eff,#3434ff,#3333ff,#3131ff,#2e2eff,#2f2fff,#3131ff,#3232ff,#2a2aff,#2c2cff,#3a3aff,#2c2cff,#3131ff,#3232ff,#3131ff,#2e2eff,#2f2fff,#2b2bff,#2c2cff,#2d2dff 300.0px)"></div><div style="top:64px;height:2px;background:linear-gradient(90deg,#3a3aff 1.0px,#3737ff,#4040ff,#3f3fff,#3a3aff,#3232ff,#3a3aff,#3b3bff,#4242ff,#3a3aff,#3f3fff,#4040ff,#4747ff,#4d4dff,#4343ff,#4b4bff,#6464ff,#4e4eff,#6565ff,#7272ff,#4d4dff,#5454ff,#5f5fff,#5d5dff,#5a5aff,#7575ff,#7b7bff,#8484ff,#9595ff,#cacaff,#ffe0e0,#d3cffa,#8181ff,#7070ff,#9e9eff,#7070ff,#6262ff,#8f8fff,#5959ff,#5b5bff,#7e7eff,#5b5bff,#5a5aff,#6363ff,#5050ff,#4b4bff,#5555ff,#4646ff,#4c4cff,#4242ff,#4444ff,#4040ff,#4040ff,#4444ff,#3b3bff,#4848ff,#3c3cff,#3d3dff,#4141ff,#3c3cff,#3b3bff,#4444ff,#3d3dff,#3636ff,#4242ff,#3b3bff,#3b3bff,#4040ff,#4f4fff,#4242ff,#3d3dff,#4141ff,#3c3cff,#4242ff,#4242ff,#5454ff,#4a4aff,#5454ff,#6363ff,#4747ff,#4b4bff,#5959ff,#5d5dff,#5555ff,#5e5eff,#6c6cff,#7070ff,#8c8cff,#bbbbff,#e0e0ff,#a4a4ff,#6e6eff,#6e6eff,#b2b2ff,#6262ff,#6969ff,#9494ff,#5c5cff,#6060ff,#9494ff,#5d5dff,#6262ff,#6a6aff,#7373ff,#5757ff,#5050ff,#4e4eff,#4e4eff,#4343ff,#4242ff,#4747ff,#4343ff,#4141ff,#5656ff,#3e3eff,#3c3cff,#4141ff,#4444ff,#3a3aff,#3d3dff,#3939ff,#3636ff,#3737ff,#3939ff,#3636ff,#3535ff,#3232ff,#3636ff,#2f2fff,#3131ff,#2f2fff,#2c2cff,#3333ff,#3333ff,#3131ff,#2e2eff,#2e2eff,#3030ff,#3232ff,#3131ff,#2a2aff,#3939ff,#2d2dff,#3434ff,#3333ff,#2f2fff,#2f2fff,#3030ff,#2f2fff,#2c2cff,#3030ff 300.0px)"></div><div style="top:66px;height:2px;background:linear-gradient(90deg,#3c3cff 1.0px,#3333ff,#4646ff,#4343ff,#3c3cff,#3838ff,#3b3bff,#3f3fff,#4343ff,#3a3aff,#4040ff,#4242ff,#4949ff,#4e4eff,#4141ff,#4a4aff,#6464ff,#4d4dff,#6363ff,#7575ff,#5050ff,#4d4dff,#5b5bff,#6060ff,#5959ff,#6e6eff,#7070ff,#7e7eff,#8c8cff,#afafff,#e2e2ff,#adadff,#7979ff,#6e6eff,#9292ff,#6f6fff,#5d5dff,#9595ff,#5a5aff,#5a5aff,#7b7bff,#5e5eff,#5a5aff,#6363ff,#4f4fff,#4f4fff,#5757ff,#4848ff,#4c4cff,#4444ff,#4141ff,#4040ff,#4343ff,#4747ff,#3b3bff,#4646ff,#3e3eff,#3e3eff,#3d3dff,#4040ff,#3f3fff,#4646ff,#3f3fff,#3939ff,#4343ff,#3e3eff,#3939ff,#4040ff,#4c4cff,#4040ff,#3d3dff,#3e3eff,#3c3cff,#4242ff,#4040ff,#5959ff,#4848ff,#5757ff,#6464ff,#4545ff,#4d4dff,#5454ff,#5959ff,#5353ff,#5858ff,#6666ff,#6969ff,#7f7fff,#a1a1ff,#bebeff,#8f8fff,#6868ff,#6a6aff,#a0a0ff,#5f5fff,#6767ff,#9393ff,#5656ff,#5d5dff,#8e8eff,#5d5dff,#5e5eff,#6f6fff,#7171ff,#5252ff,#5454ff,#4a4aff,#5050ff,#4343ff,#4646ff,#4545ff,#3f3fff,#4343ff,#5454ff,#3c3cff,#3d3dff,#4040ff,#4949ff,#3c3cff,#4040ff,#3636ff,#3a3aff,#3c3cff,#3a3aff,#3333ff,#3636ff,#3939ff,#3737ff,#3232ff,#3131ff,#2d2dff,#2e2eff,#3232ff,#3333ff,#2c2cff,#2e2eff,#2d2dff,#2f2fff,#2d2dff,#3030ff,#2c2cff,#3636ff,#2c2cff,#3535ff,#3535ff,#3131ff,#2d2dff,#2f2fff,#2c2cff,#2f2fff,#2f2fff 300.0px)"></div><div style="top:68px;height:2px;background:linear-gradient(90deg,#3838ff 1.0px,#3636ff,#4747ff,#4040ff,#3a3aff,#3737ff,#3737ff,#3e3eff,#4343ff,#3b3bff,#3f3fff,#4242ff,#4646ff,#4e4eff,#4343ff,#4949ff,#6767ff,#4f4fff,#6464ff,#7373ff,#5050ff,#5050ff,#5858ff,#5656ff,#5959ff,#6767ff,#6868ff,#7575ff,#7e7eff,#9f9fff,#ccccff,#9c9cff,#7373ff,#6767ff,#8585ff,#6f6fff,#5b5bff,#8f8fff,#5a5aff,#5757ff,#7c7cff,#5f5fff,#5757ff,#6262ff,#4d4dff,#4e4eff,#5757ff,#4a4aff,#4b4bff,#4141ff,#4444ff,#4141ff,#4343ff,#4242ff,#3b3bff,#4a4aff,#3d3dff,#3f3fff,#4040ff,#3a3aff,#3d3dff,#4444ff,#3939ff,#3a3aff,#4141ff,#3737ff,#3939ff,#3d3dff,#4b4bff,#4343ff,#3f3fff,#4040ff,#3b3bff,#4141ff,#4040ff,#5757ff,#4949ff,#5353ff,#6565ff,#4949ff,#4b4bff,#5151ff,#5b5bff,#5353ff,#5353ff,#5959ff,#6161ff,#7676ff,#9191ff,#b0b0ff,#8a8aff,#6565ff,#6464ff,#9494ff,#5f5fff,#6565ff,#8f8fff,#5555ff,#5c5cff,#8888ff,#5f5fff,#6161ff,#6f6fff,#7171ff,#5353ff,#5151ff,#4c4cff,#4d4dff,#4747ff,#4646ff,#4545ff,#4343ff,#4343ff,#5353ff,#3c3cff,#3838ff,#4141ff,#4242ff,#3b3bff,#3f3fff,#3535ff,#3737ff,#3838ff,#3838ff,#3333ff,#3636ff,#3535ff,#3535ff,#2f2fff,#3131ff,#3131ff,#2e2eff,#3333ff,#3030ff,#2d2dff,#2e2eff,#2c2cff,#3030ff,#3434ff,#3131ff,#2d2dff,#3b3bff,#2a2aff,#3737ff,#3333ff,#2e2eff,#2f2fff,#2c2cff,#2d2dff,#2c2cff,#2e2eff 300.0px)"></div><div style="top:70px;height:2px;background:linear-gradient(90deg,#3d3dff 1.0px,#3232ff,#4848ff,#3e3eff,#3a3aff,#3333ff,#3d3dff,#3737ff,#4040ff,#3535ff,#3f3fff,#3d3dff,#4545ff,#4e4eff,#4444ff,#4848ff,#6060ff,#4a4aff,#5f5fff,#7070ff,#4b4bff,#5151ff,#5454ff,#5656ff,#5858ff,#6868ff,#6262ff,#6d6dff,#7575ff,#8f8fff,#babaff,#9494ff,#6f6fff,#6565ff,#7c7cff,#6868ff,#5c5cff,#8787ff,#5555ff,#5454ff,#7979ff,#5b5bff,#5757ff,#6262ff,#4d4dff,#4c4cff,#5252ff,#4d4dff,#4d4dff,#4242ff,#4747ff,#4040ff,#4343ff,#4444ff,#4242ff,#4646ff,#3d3dff,#3d3dff,#3d3dff,#3939ff,#4141ff,#4646ff,#3c3cff,#3b3bff,#4242ff,#3939ff,#3939ff,#3d3dff,#4848ff,#3e3eff,#3b3bff,#4040ff,#3d3dff,#4242ff,#4141ff,#5757ff,#4c4cff,#5454ff,#6464ff,#4545ff,#4a4aff,#4949ff,#5757ff,#5050ff,#5151ff,#5353ff,#6060ff,#6e6eff,#8383ff,#a5a5ff,#8585ff,#6060ff,#6767ff,#8484ff,#5a5aff,#6262ff,#8989ff,#5959ff,#5d5dff,#7e7eff,#5d5dff,#6060ff,#6c6cff,#6d6dff,#5656ff,#5454ff,#5252ff,#5050ff,#4646ff,#4646ff,#4747ff,#4141ff,#4343ff,#5555ff,#4242ff,#3d3dff,#4141ff,#4343ff,#3d3dff,#4242ff,#3636ff,#3b3bff,#3c3cff,#3232ff,#3737ff,#3232ff,#3838ff,#3939ff,#3434ff,#3030ff,#3030ff,#3030ff,#2e2eff,#3434ff,#2e2eff,#2d2dff,#2c2cff,#3131ff,#3131ff,#2f2fff,#2a2aff,#3939ff,#2929ff,#3434ff,#3636ff,#3232ff,#3131ff,#2e2eff,#2a2aff,#2c2cff,#2d2dff 300.0px)"></div><div style="top:72px;height:2px;background:linear-gradient(90deg,#3b3bff 1.0px,#3535ff,#4545ff,#4040ff,#3939ff,#3a3aff,#3939ff,#3a3aff,#4242ff,#3939ff,#3d3dff,#3e3eff,#4646ff,#5050ff,#4242ff,#4646ff,#6161ff,#4e4eff,#5d5dff,#6565ff,#4b4bff,#4f4fff,#4c4cff,#5353ff,#5454ff,#6767ff,#5e5eff,#6868ff,#6a6aff,#8181ff,#adadff,#8d8dff,#6969ff,#6565ff,#7070ff,#6767ff,#5858ff,#7a7aff,#5555ff,#5555ff,#6c6cff,#5b5bff,#5757ff,#6161ff,#4d4dff,#4848ff,#5959ff,#5151ff,#4b4bff,#4545ff,#4c4cff,#4242ff,#4141ff,#4c4cff,#4141ff,#4444ff,#4040ff,#3f3fff,#4040ff,#3e3eff,#4040ff,#4848ff,#3a3aff,#3737ff,#4141ff,#3a3aff,#3a3aff,#3e3eff,#4c4cff,#4141ff,#3b3bff,#3f3fff,#4242ff,#4141ff,#4040ff,#5656ff,#4c4cff,#4e4eff,#5959ff,#4747ff,#4a4aff,#4b4bff,#5353ff,#5252ff,#4d4dff,#5454ff,#5858ff,#6a6aff,#7b7bff,#9898ff,#7b7bff,#5f5fff,#6262ff,#7a7aff,#5a5aff,#5c5cff,#7d7dff,#5454ff,#5a5aff,#7070ff,#5e5eff,#5d5dff,#6c6cff,#6a6aff,#5353ff,#5555ff,#5959ff,#4c4cff,#4545ff,#4d4dff,#4444ff,#4141ff,#4848ff,#5151ff,#3f3fff,#3d3dff,#3e3eff,#4444ff,#3a3aff,#4242ff,#3535ff,#3636ff,#3a3aff,#3737ff,#3434ff,#3535ff,#3535ff,#3838ff,#3232ff,#2f2fff,#3030ff,#2e2eff,#2e2eff,#3030ff,#3030ff,#2e2eff,#2c2cff,#3131ff,#3131ff,#3131ff,#2d2dff,#3b3bff,#2d2dff,#3535ff,#3939ff,#2f2fff,#2f2fff,#2f2fff,#2c2cff,#2929ff,#2d2dff 300.0px)"></div><div style="top:74px;height:2px;background:linear-gradient(90deg,#3d3dff 1.0px,#3333ff,#4747ff,#4141ff,#3a3aff,#3535ff,#3d3dff,#3939ff,#4242ff,#3939ff,#3f3fff,#3d3dff,#4545ff,#4a4aff,#4444ff,#4646ff,#6060ff,#4c4cff,#5353ff,#5959ff,#4f4fff,#4d4dff,#4b4bff,#5050ff,#5050ff,#6464ff,#5b5bff,#6363ff,#6161ff,#7979ff,#9d9dff,#8787ff,#6565ff,#6060ff,#6868ff,#6262ff,#5757ff,#7373ff,#5656ff,#5656ff,#6363ff,#5555ff,#5252ff,#5d5dff,#4848ff,#4f4fff,#5454ff,#5454ff,#4c4cff,#4545ff,#4e4eff,#4747ff,#4242ff,#4f4fff,#4545ff,#4242ff,#3e3eff,#3c3cff,#3f3fff,#3c3cff,#3e3eff,#4949ff,#3a3aff,#3636ff,#3e3eff,#3c3cff,#3c3cff,#3c3cff,#4c4cff,#3f3fff,#3e3eff,#3f3fff,#4040ff,#3d3dff,#3c3cff,#5454ff,#4c4cff,#4848ff,#5050ff,#4949ff,#4b4bff,#4747ff,#5353ff,#4e4eff,#4a4aff,#5151ff,#5454ff,#5f5fff,#6e6eff,#8e8eff,#7979ff,#5757ff,#5c5cff,#6a6aff,#5353ff,#5b5bff,#7272ff,#5252ff,#5858ff,#6464ff,#5858ff,#5c5cff,#6767ff,#6464ff,#5555ff,#4d4dff,#5858ff,#4d4dff,#4444ff,#4b4bff,#4646ff,#4141ff,#4a4aff,#5050ff,#3d3dff,#3b3bff,#4141ff,#3e3eff,#3a3aff,#4040ff,#3838ff,#3838ff,#3939ff,#3838ff,#3131ff,#3434ff,#3333ff,#3b3bff,#3232ff,#2f2fff,#3131ff,#3131ff,#2c2cff,#2f2fff,#3030ff,#2b2bff,#2d2dff,#2f2fff,#3030ff,#2f2fff,#2a2aff,#3939ff,#2b2bff,#3535ff,#3333ff,#3232ff,#3030ff,#2c2cff,#2d2dff,#2b2bff,#2929ff 300.0px)"></div><div style="top:76px;height:2px;background:linear-gradient(90deg,#3939ff 1.0px,#3535ff,#4747ff,#3f3fff,#3a3aff,#3838ff,#3e3eff,#3838ff,#3e3eff,#3939ff,#3b3bff,#3f3fff,#4444ff,#4b4bff,#4444ff,#4747ff,#5757ff,#4646ff,#5151ff,#4f4fff,#4d4dff,#4b4bff,#4f4fff,#4d4dff,#5454ff,#5f5fff,#5858ff,#6161ff,#5b5bff,#6e6eff,#9292ff,#7d7dff,#5f5fff,#6060ff,#5f5fff,#5c5cff,#5656ff,#6565ff,#4f4fff,#5353ff,#5c5cff,#5252ff,#4f4fff,#5656ff,#4b4bff,#4949ff,#5555ff,#5555ff,#4949ff,#4343ff,#5353ff,#4545ff,#4141ff,#5050ff,#4949ff,#4949ff,#3e3eff,#3f3fff,#3d3dff,#3b3bff,#3f3fff,#4646ff,#3b3bff,#3838ff,#4141ff,#3939ff,#3838ff,#3d3dff,#4848ff,#3e3eff,#3838ff,#4141ff,#3e3eff,#4141ff,#3f3fff,#4f4fff,#4a4aff,#4646ff,#4646ff,#4343ff,#4747ff,#4747ff,#5454ff,#4f4fff,#4c4cff,#4c4cff,#4d4dff,#5959ff,#6767ff,#8282ff,#7272ff,#5656ff,#5b5bff,#6363ff,#5252ff,#5454ff,#6262ff,#5252ff,#5858ff,#5a5aff,#5050ff,#5656ff,#6262ff,#5f5fff,#5252ff,#5555ff,#5a5aff,#4f4fff,#4646ff,#5050ff,#4545ff,#4545ff,#4e4eff,#4e4eff,#3b3bff,#3e3eff,#4040ff,#4646ff,#3939ff,#3f3fff,#3636ff,#3838ff,#3a3aff,#3838ff,#3636ff,#3434ff,#3434ff,#3838ff,#2f2fff,#3030ff,#3131ff,#2e2eff,#2e2eff,#3333ff,#2c2cff,#2d2dff,#2929ff,#2e2eff,#3131ff,#3030ff,#2b2bff,#3c3cff,#2929ff,#2f2fff,#3434ff,#3131ff,#2f2fff,#2e2eff,#2b2bff,#2a2aff,#2e2eff 300.0px)"></div><div style="top:78px;height:2px;background:linear-gradient(90deg,#3939ff 1.0px,#3434ff,#4747ff,#4242ff,#3a3aff,#3636ff,#3939ff,#3b3bff,#4040ff,#3d3dff,#3b3bff,#4040ff,#4343ff,#4d4dff,#4343ff,#4343ff,#5151ff,#4646ff,#4e4eff,#4949ff,#4d4dff,#4c4cff,#4f4fff,#4f4fff,#5555ff,#5e5eff,#5757ff,#6262ff,#5353ff,#6262ff,#7c7cff,#7070ff,#5e5eff,#5e5eff,#6060ff,#5c5cff,#5555ff,#5b5bff,#4b4bff,#5454ff,#5050ff,#5151ff,#4d4dff,#4d4dff,#4b4bff,#4b4bff,#5757ff,#5b5bff,#5050ff,#4646ff,#5353ff,#4545ff,#4444ff,#5151ff,#4f4fff,#4848ff,#3d3dff,#3b3bff,#3f3fff,#3b3bff,#4040ff,#4a4aff,#3a3aff,#3939ff,#3d3dff,#3939ff,#3e3eff,#3b3bff,#4e4eff,#3f3fff,#3d3dff,#3d3dff,#3a3aff,#3c3cff,#3f3fff,#4848ff,#4343ff,#4040ff,#4444ff,#4646ff,#4b4bff,#4545ff,#4e4eff,#4f4fff,#4949ff,#4f4fff,#4e4eff,#5454ff,#5b5bff,#7272ff,#6868ff,#5656ff,#5959ff,#5e5eff,#4f4fff,#5050ff,#5959ff,#4d4dff,#5454ff,#4f4fff,#5353ff,#5353ff,#5b5bff,#5f5fff,#4f4fff,#5151ff,#6161ff,#4d4dff,#4343ff,#4d4dff,#4343ff,#4444ff,#4e4eff,#4e4eff,#4040ff,#3a3aff,#4242ff,#4141ff,#3838ff,#4040ff,#3232ff,#3636ff,#3939ff,#3636ff,#3434ff,#3535ff,#3232ff,#3b3bff,#3333ff,#3232ff,#3131ff,#2f2fff,#2f2fff,#2e2eff,#3030ff,#2c2cff,#2929ff,#2d2dff,#3030ff,#3030ff,#2c2cff,#3b3bff,#2d2dff,#3232ff,#3333ff,#3131ff,#2f2fff,#3030ff,#2b2bff,#2c2cff,#2a2aff 300.0px)"></div><div style="top:80px;height:2px;background:linear-gradient(90deg,#3b3bff 1.0px,#3333ff,#4545ff,#4141ff,#3838ff,#3434ff,#3838ff,#3b3bff,#4343ff,#3a3aff,#3737ff,#3c3cff,#4040ff,#4f4fff,#4141ff,#4444ff,#4b4bff,#4444ff,#4d4dff,#4646ff,#4949ff,#4c4cff,#4848ff,#4949ff,#5252ff,#5c5cff,#5454ff,#5858ff,#5353ff,#5858ff,#5b5bff,#5f5fff,#5959ff,#5858ff,#5e5eff,#5d5dff,#5656ff,#5555ff,#4d4dff,#5353ff,#4f4fff,#4e4eff,#4747ff,#4949ff,#4949ff,#4e4eff,#5454ff,#5e5eff,#4f4fff,#4646ff,#5858ff,#4545ff,#4646ff,#5353ff,#4e4eff,#4848ff,#3e3eff,#3e3eff,#3d3dff,#3c3cff,#3d3dff,#4545ff,#3c3cff,#3535ff,#3d3dff,#3838ff,#3a3aff,#3e3eff,#4d4dff,#3e3eff,#3b3bff,#3a3aff,#3939ff,#3e3eff,#3d3dff,#4141ff,#4040ff,#4444ff,#4444ff,#4747ff,#4545ff,#4848ff,#5252ff,#4e4eff,#4949ff,#4d4dff,#4e4eff,#5353ff,#5151ff,#5151ff,#5757ff,#4d4dff,#5858ff,#5c5cff,#4e4eff,#4d4dff,#5151ff,#4d4dff,#5555ff,#4646ff,#5050ff,#5353ff,#5858ff,#5757ff,#4f4fff,#5353ff,#6262ff,#4e4eff,#4747ff,#5151ff,#4747ff,#4242ff,#5151ff,#4c4cff,#3e3eff,#3b3bff,#4242ff,#4141ff,#3a3aff,#4040ff,#3636ff,#3535ff,#3d3dff,#3838ff,#3434ff,#3131ff,#3131ff,#3737ff,#3333ff,#2f2fff,#2e2eff,#2e2eff,#2e2eff,#3030ff,#2c2cff,#2d2dff,#2b2bff,#2f2fff,#3333ff,#2d2dff,#2d2dff,#3a3aff,#2c2cff,#3636ff,#3232ff,#3333ff,#3030ff,#2d2dff,#2d2dff,#2c2cff,#2e2eff 300.0px)"></div><div style="top:82px;height:2px;background:linear-gradient(90deg,#3434ff 1.0px,#3434ff,#4646ff,#3e3eff,#3b3bff,#3434ff,#3939ff,#3b3bff,#3e3eff,#3838ff,#3535ff,#4040ff,#4242ff,#4e4eff,#4040ff,#4444ff,#4444ff,#4242ff,#4b4bff,#4848ff,#4747ff,#4a4aff,#4848ff,#4e4eff,#5151ff,#5f5fff,#5555ff,#5a5aff,#4e4eff,#5656ff,#5b5bff,#5d5dff,#5555ff,#5a5aff,#5c5cff,#5a5aff,#5252ff,#5050ff,#4a4aff,#5252ff,#4848ff,#4a4aff,#4646ff,#4a4aff,#4c4cff,#4e4eff,#5656ff,#6a6aff,#5353ff,#4444ff,#5b5bff,#4b4bff,#4848ff,#5a5aff,#5454ff,#4848ff,#4343ff,#3f3fff,#4141ff,#3e3eff,#3e3eff,#4848ff,#3d3dff,#3838ff,#4141ff,#3c3cff,#3737ff,#3939ff,#4747ff,#3f3fff,#3a3aff,#3c3cff,#3c3cff,#3e3eff,#3c3cff,#4040ff,#4545ff,#4040ff,#4040ff,#4545ff,#4848ff,#4747ff,#5050ff,#4d4dff,#4949ff,#4b4bff,#4a4aff,#5454ff,#4d4dff,#4b4bff,#5151ff,#4f4fff,#5757ff,#5555ff,#4d4dff,#4a4aff,#4f4fff,#4e4eff,#5050ff,#4c4cff,#4e4eff,#5555ff,#5353ff,#5555ff,#4f4fff,#5353ff,#6b6bff,#4b4bff,#4848ff,#5858ff,#4848ff,#3e3eff,#5858ff,#4c4cff,#3e3eff,#3b3bff,#3e3eff,#4040ff,#3b3bff,#4242ff,#3535ff,#3838ff,#3838ff,#3838ff,#3131ff,#3030ff,#3434ff,#3434ff,#3535ff,#2e2eff,#2c2cff,#2d2dff,#2f2fff,#3232ff,#3232ff,#2e2eff,#2d2dff,#3131ff,#3030ff,#2f2fff,#2b2bff,#3636ff,#2f2fff,#3737ff,#3232ff,#3030ff,#2d2dff,#2c2cff,#2b2bff,#2d2dff,#2c2cff 300.0px)"></div><div style="top:84px;height:2px;background:linear-gradient(90deg,#3838ff 1.0px,#3636ff,#4747ff,#3f3fff,#3939ff,#3737ff,#3a3aff,#3b3bff,#4242ff,#3a3aff,#3b3bff,#3939ff,#4242ff,#4949ff,#4444ff,#3f3fff,#4444ff,#4444ff,#4c4cff,#4545ff,#4848ff,#4a4aff,#4949ff,#4b4bff,#5151ff,#5d5dff,#5353ff,#5a5aff,#4f4fff,#5353ff,#5757ff,#5b5bff,#4f4fff,#5454ff,#5858ff,#5a5aff,#4f4fff,#5454ff,#4949ff,#5151ff,#4949ff,#4d4dff,#4747ff,#4b4bff,#4949ff,#4e4eff,#5858ff,#7979ff,#5050ff,#4848ff,#6464ff,#4f4fff,#4a4aff,#6363ff,#5a5aff,#4b4bff,#3d3dff,#3e3eff,#4141ff,#3c3cff,#3d3dff,#4646ff,#4141ff,#3737ff,#4040ff,#3a3aff,#3e3eff,#3b3bff,#4c4cff,#3f3fff,#3d3dff,#3b3bff,#3a3aff,#3e3eff,#3c3cff,#3e3eff,#4040ff,#4040ff,#3f3fff,#4444ff,#4848ff,#4444ff,#4e4eff,#4a4aff,#4646ff,#4747ff,#4a4aff,#4f4fff,#4a4aff,#4d4dff,#4d4dff,#4d4dff,#5353ff,#5252ff,#4949ff,#4848ff,#4e4eff,#4d4dff,#5757ff,#4747ff,#4e4eff,#5252ff,#5555ff,#5656ff,#5050ff,#5353ff,#7070ff,#4b4bff,#4949ff,#5c5cff,#4a4aff,#4444ff,#5d5dff,#5252ff,#3a3aff,#3d3dff,#4444ff,#4242ff,#3a3aff,#4141ff,#3434ff,#3939ff,#3939ff,#3636ff,#3838ff,#3232ff,#3232ff,#3838ff,#3333ff,#2d2dff,#3030ff,#2d2dff,#2e2eff,#3131ff,#2d2dff,#2e2eff,#2a2aff,#2d2dff,#2e2eff,#3131ff,#2d2dff,#3939ff,#2c2cff,#3333ff,#3333ff,#3434ff,#2f2fff,#2d2dff,#2e2eff,#2b2bff,#2c2cff 300.0px)"></div><div style="top:86px;height:2px;background:linear-gradient(90deg,#3a3aff 1.0px,#3636ff,#4747ff,#3a3aff,#3838ff,#3838ff,#3535ff,#3939ff,#4242ff,#3838ff,#3939ff,#3e3eff,#4242ff,#4949ff,#3e3eff,#4040ff,#4444ff,#4040ff,#4949ff,#4343ff,#4848ff,#4c4cff,#4a4aff,#4949ff,#4e4eff,#5a5aff,#5353ff,#5555ff,#5050ff,#4f4fff,#5353ff,#5656ff,#5252ff,#5757ff,#5656ff,#5656ff,#4b4bff,#4f4fff,#4747ff,#5252ff,#4949ff,#4d4dff,#4a4aff,#4d4dff,#4747ff,#4d4dff,#5a5aff,#8282ff,#5252ff,#4949ff,#6f6fff,#4f4fff,#4646ff,#6767ff,#5f5fff,#4949ff,#4545ff,#4141ff,#4040ff,#3f3fff,#3c3cff,#4848ff,#4040ff,#3b3bff,#3e3eff,#3939ff,#3d3dff,#3d3dff,#4848ff,#3e3eff,#3c3cff,#3a3aff,#3a3aff,#3a3aff,#3c3cff,#3c3cff,#4040ff,#4242ff,#4343ff,#4444ff,#4545ff,#4242ff,#5050ff,#4949ff,#4646ff,#4d4dff,#4a4aff,#4949ff,#4949ff,#4848ff,#4b4bff,#4c4cff,#5454ff,#4e4eff,#4a4aff,#4747ff,#4949ff,#4d4dff,#5050ff,#4646ff,#4c4cff,#5050ff,#5454ff,#5353ff,#4d4dff,#5656ff,#7979ff,#4f4fff,#4949ff,#6262ff,#4949ff,#4343ff,#6666ff,#4e4eff,#3e3eff,#3e3eff,#4040ff,#4343ff,#3b3bff,#3f3fff,#3434ff,#3535ff,#3a3aff,#3939ff,#3333ff,#3333ff,#3333ff,#3636ff,#3434ff,#2e2eff,#2f2fff,#2e2eff,#2e2eff,#3030ff,#3030ff,#2f2fff,#2b2bff,#2f2fff,#3131ff,#2f2fff,#2e2eff,#3838ff,#2c2cff,#3535ff,#3131ff,#3232ff,#3030ff,#2e2eff,#2c2cff,#2b2bff,#2929ff 300.0px)"></div><div style="top:88px;height:2px;background:linear-gradient(90deg,#3737ff 1.0px,#3737ff,#4545ff,#3e3eff,#3737ff,#3434ff,#3737ff,#3737ff,#3e3eff,#3a3aff,#3636ff,#3a3aff,#3f3fff,#4949ff,#4343ff,#3e3eff,#3e3eff,#4040ff,#4d4dff,#4343ff,#4646ff,#4949ff,#4949ff,#4c4cff,#4d4dff,#5b5bff,#5050ff,#5353ff,#4e4eff,#4f4fff,#5353ff,#5555ff,#5252ff,#5757ff,#5858ff,#5757ff,#5050ff,#5050ff,#4646ff,#4d4dff,#4d4dff,#4d4dff,#4646ff,#4a4aff,#4a4aff,#4b4bff,#5a5aff,#8d8dff,#5454ff,#4747ff,#7474ff,#5252ff,#4b4bff,#7272ff,#6b6bff,#4848ff,#3f3fff,#4545ff,#4040ff,#3d3dff,#3e3eff,#4949ff,#3d3dff,#3737ff,#3a3aff,#3a3aff,#3a3aff,#4040ff,#4b4bff,#4040ff,#3737ff,#3d3dff,#3d3dff,#3838ff,#3b3bff,#3e3eff,#4242ff,#3d3dff,#3e3eff,#4444ff,#4545ff,#4545ff,#4a4aff,#4848ff,#4242ff,#4a4aff,#4747ff,#4949ff,#4c4cff,#4747ff,#4c4cff,#4949ff,#5252ff,#4d4dff,#4747ff,#4646ff,#4848ff,#4949ff,#5454ff,#4747ff,#4d4dff,#5151ff,#5454ff,#5656ff,#4f4fff,#5757ff,#8282ff,#4e4eff,#4f4fff,#6a6aff,#4646ff,#4141ff,#7272ff,#5353ff,#3c3cff,#4141ff,#3f3fff,#4242ff,#3939ff,#3e3eff,#3434ff,#3939ff,#3939ff,#3b3bff,#3232ff,#3232ff,#3434ff,#3535ff,#3333ff,#2d2dff,#2e2eff,#2e2eff,#2d2dff,#3030ff,#2f2fff,#2e2eff,#2e2eff,#2c2cff,#3030ff,#2e2eff,#2d2dff,#3d3dff,#2c2cff,#3838ff,#3737ff,#3535ff,#2e2eff,#2c2cff,#2b2bff,#2a2aff,#2525ff 300.0px)"></div><div style="top:90px;height:2px;background:linear-gradient(90deg,#3737ff 1.0px,#3535ff,#4646ff,#3e3eff,#3b3bff,#3838ff,#3b3bff,#3b3bff,#4242ff,#3c3cff,#3838ff,#3c3cff,#4242ff,#4c4cff,#3f3fff,#4141ff,#4343ff,#3f3fff,#4d4dff,#4343ff,#4444ff,#4646ff,#4545ff,#4c4cff,#4b4bff,#5858ff,#5151ff,#5050ff,#4a4aff,#5353ff,#5252ff,#5555ff,#5454ff,#5151ff,#5656ff,#5353ff,#4d4dff,#5151ff,#4848ff,#4f4fff,#4949ff,#4d4dff,#4a4aff,#4a4aff,#4c4cff,#4f4fff,#5757ff,#a8a8ff,#5757ff,#4949ff,#8888ff,#5858ff,#4a4aff,#8c8cff,#8181ff,#4c4cff,#3f3fff,#3f3fff,#3e3eff,#3e3eff,#3d3dff,#4848ff,#3c3cff,#3838ff,#3f3fff,#3838ff,#3a3aff,#3c3cff,#4949ff,#3e3eff,#3a3aff,#3b3bff,#3939ff,#3d3dff,#3e3eff,#3c3cff,#4141ff,#4141ff,#3e3eff,#4141ff,#4343ff,#4040ff,#4848ff,#4848ff,#4040ff,#4444ff,#4646ff,#4b4bff,#4747ff,#4646ff,#4a4aff,#4a4aff,#5151ff,#4a4aff,#4646ff,#4747ff,#4c4cff,#4949ff,#4f4fff,#4242ff,#4a4aff,#4f4fff,#5454ff,#5252ff,#4d4dff,#5555ff,#9696ff,#5252ff,#4d4dff,#7a7aff,#4848ff,#4141ff,#8484ff,#5a5aff,#4040ff,#4040ff,#4242ff,#4141ff,#3737ff,#3f3fff,#3737ff,#3434ff,#3939ff,#3333ff,#3232ff,#3434ff,#3535ff,#3636ff,#3434ff,#2e2eff,#3030ff,#2f2fff,#2f2fff,#2e2eff,#2c2cff,#2d2dff,#2b2bff,#2e2eff,#2f2fff,#2f2fff,#2d2dff,#3737ff,#2b2bff,#3535ff,#3535ff,#3131ff,#3131ff,#2f2fff,#2a2aff,#2b2bff,#2727ff 300.0px)"></div><div style="top:92px;height:2px;background:linear-gradient(90deg,#3838ff 1.0px,#3636ff,#4343ff,#3d3dff,#3939ff,#3737ff,#3434ff,#3a3aff,#4040ff,#3c3cff,#3d3dff,#3b3bff,#4444ff,#4848ff,#3e3eff,#4242ff,#4343ff,#3f3fff,#4747ff,#4040ff,#4444ff,#4444ff,#4444ff,#4a4aff,#4d4dff,#5d5dff,#5050ff,#5050ff,#4646ff,#4d4dff,#5151ff,#5555ff,#5050ff,#4e4eff,#5656ff,#5454ff,#4c4cff,#4b4bff,#4949ff,#4d4dff,#4848ff,#4d4dff,#4747ff,#4b4bff,#4848ff,#4d4dff,#5656ff,#c4b4f0,#6464ff,#4a4aff,#a5a5ff,#6060ff,#4f4fff,#a9a1f8,#a29bf8,#4a4aff,#4545ff,#4141ff,#4141ff,#3b3bff,#3e3eff,#4949ff,#3f3fff,#3838ff,#3d3dff,#3838ff,#3a3aff,#3c3cff,#4b4bff,#4040ff,#3d3dff,#3939ff,#3d3dff,#3939ff,#3a3aff,#3b3bff,#4242ff,#3f3fff,#4040ff,#4444ff,#4747ff,#4747ff,#4e4eff,#4444ff,#4242ff,#4444ff,#4646ff,#4a4aff,#4848ff,#4545ff,#4848ff,#4848ff,#4e4eff,#4f4fff,#4444ff,#4747ff,#4545ff,#4545ff,#5252ff,#4747ff,#4949ff,#5252ff,#5050ff,#5050ff,#5050ff,#5b5bff,#bbbbff,#4e4eff,#5757ff,#8f8fff,#4a4aff,#4343ff,#a9a9ff,#6b6bff,#3e3eff,#4141ff,#4141ff,#4545ff,#3a3aff,#4141ff,#3030ff,#3737ff,#3737ff,#3838ff,#3232ff,#3232ff,#3434ff,#3939ff,#3232ff,#3030ff,#2c2cff,#2f2fff,#2f2fff,#3434ff,#2f2fff,#2e2eff,#2d2dff,#2c2cff,#3131ff,#3232ff,#2e2eff,#3737ff,#2f2fff,#3636ff,#3535ff,#3434ff,#2d2dff,#2f2fff,#2c2cff,#2e2eff,#3030ff 300.0px)"></div><div style="top:94px;height:2px;background:linear-gradient(90deg,#3535ff 1.0px,#3636ff,#4040ff,#3e3eff,#3b3bff,#3434ff,#3c3cff,#3939ff,#4040ff,#3838ff,#3b3bff,#3a3aff,#3f3fff,#4949ff,#3e3eff,#3f3fff,#4242ff,#4141ff,#4747ff,#4343ff,#4343ff,#4646ff,#4848ff,#4a4aff,#5050ff,#5a5aff,#4d4dff,#4e4eff,#4646ff,#4f4fff,#5050ff,#5555ff,#4f4fff,#5151ff,#5656ff,#5757ff,#4848ff,#5050ff,#4848ff,#5252ff,#4545ff,#4e4eff,#4848ff,#4a4aff,#4a4aff,#4d4dff,#5a5aff,#cfa3d3,#6262ff,#4b4bff,#bab5fb,#6666ff,#4e4eff,#b58ad4,#ac82d5,#4d4dff,#4141ff,#4646ff,#3f3fff,#3e3eff,#4343ff,#4a4aff,#4040ff,#3d3dff,#3e3eff,#3939ff,#3737ff,#3a3aff,#4848ff,#4040ff,#3d3dff,#3737ff,#3c3cff,#3a3aff,#3c3cff,#3535ff,#4040ff,#3e3eff,#3f3fff,#4444ff,#4141ff,#4343ff,#4848ff,#4545ff,#4141ff,#4444ff,#4545ff,#4444ff,#4343ff,#4545ff,#4a4aff,#4444ff,#4f4fff,#4c4cff,#4a4aff,#4343ff,#4545ff,#4848ff,#4f4fff,#4646ff,#4b4bff,#5050ff,#5151ff,#5151ff,#5353ff,#6464ff,#dad8fd,#5151ff,#5858ff,#a4a4ff,#4545ff,#4848ff,#b7a4ec,#7d7dff,#4040ff,#3f3fff,#4242ff,#4343ff,#3636ff,#3d3dff,#3333ff,#3838ff,#3939ff,#3434ff,#3030ff,#3535ff,#2e2eff,#3636ff,#3333ff,#3131ff,#3434ff,#3131ff,#3232ff,#2c2cff,#2e2eff,#2f2fff,#2d2dff,#2b2bff,#2f2fff,#3030ff,#2c2cff,#3a3aff,#2c2cff,#3535ff,#3838ff,#3333ff,#2f2fff,#2e2eff,#2828ff,#2d2dff,#2929ff 300.0px)"></div><div style="top:96px;height:2px;background:linear-gradient(90deg,#3636ff 1.0px,#3838ff,#4545ff,#3a3aff,#3636ff,#3737ff,#3939ff,#3a3aff,#3f3fff,#3838ff,#3636ff,#3d3dff,#4242ff,#4949ff,#3e3eff,#4343ff,#4040ff,#3f3fff,#4a4aff,#4040ff,#4242ff,#4646ff,#4848ff,#4b4bff,#4c4cff,#5858ff,#5050ff,#5151ff,#4a4aff,#5151ff,#5050ff,#5353ff,#5252ff,#4f4fff,#5555ff,#5252ff,#4b4bff,#4949ff,#4949ff,#4e4eff,#4b4bff,#4e4eff,#4848ff,#4949ff,#4b4bff,#4b4bff,#5b5bff,#d199c7,#6464ff,#4d4dff,#bbb0f5,#6d6dff,#4d4dff,#ba77bc,#b573bc,#4d4dff,#4545ff,#4545ff,#3e3eff,#4242ff,#3f3fff,#4c4cff,#3c3cff,#3939ff,#3c3cff,#3838ff,#3838ff,#3b3bff,#4747ff,#3939ff,#3b3bff,#3a3aff,#3939ff,#3737ff,#3d3dff,#3838ff,#3c3cff,#3c3cff,#3b3bff,#4040ff,#4242ff,#4444ff,#4b4bff,#4646ff,#4141ff,#4646ff,#4343ff,#4747ff,#4646ff,#4343ff,#4949ff,#4545ff,#4c4cff,#4d4dff,#4646ff,#4343ff,#4747ff,#4545ff,#4c4cff,#4444ff,#4848ff,#5050ff,#4c4cff,#5353ff,#4d4dff,#6161ff,#e6d9f2,#5151ff,#5b5bff,#adadff,#4747ff,#4747ff,#bf9edf,#8787ff,#3b3bff,#3f3fff,#4242ff,#4040ff,#3838ff,#3e3eff,#3333ff,#3737ff,#3939ff,#3939ff,#3131ff,#3434ff,#3131ff,#3838ff,#3232ff,#2e2eff,#3030ff,#2d2dff,#2d2dff,#2a2aff,#2d2dff,#2c2cff,#2b2bff,#2f2fff,#2f2fff,#2f2fff,#2a2aff,#3434ff,#2b2bff,#3333ff,#3838ff,#3535ff,#2d2dff,#3030ff,#2e2eff,#2d2dff,#2727ff 300.0px)"></div><div style="top:98px;height:2px;background:linear-gradient(90deg,#3232ff 1.0px,#3838ff,#4343ff,#3838ff,#3333ff,#3636ff,#3a3aff,#3737ff,#4040ff,#3939ff,#3333ff,#3c3cff,#4343ff,#4848ff,#3d3dff,#3c3cff,#4242ff,#3f3fff,#4949ff,#4242ff,#4444ff,#4646ff,#4646ff,#4a4aff,#4e4eff,#5b5bff,#4d4dff,#5252ff,#4c4cff,#5353ff,#5252ff,#5252ff,#4e4eff,#5151ff,#5252ff,#5454ff,#4a4aff,#4d4dff,#4a4aff,#5050ff,#4949ff,#4b4bff,#4747ff,#4949ff,#4848ff,#4a4aff,#5b5bff,#d596c0,#6969ff,#4d4dff,#bda9eb,#6e6eff,#5151ff,#c66fa8,#bf6aaa,#4c4cff,#4444ff,#4040ff,#4141ff,#3d3dff,#3f3fff,#4646ff,#3e3eff,#3636ff,#3939ff,#3636ff,#3939ff,#3838ff,#4747ff,#3939ff,#3c3cff,#3b3bff,#3939ff,#3939ff,#3c3cff,#3838ff,#3e3eff,#3d3dff,#3b3bff,#4242ff,#4545ff,#4242ff,#4848ff,#4848ff,#4040ff,#4141ff,#4444ff,#4949ff,#4444ff,#4343ff,#4848ff,#4848ff,#4d4dff,#4949ff,#4646ff,#4141ff,#4747ff,#4646ff,#4e4eff,#4343ff,#4b4bff,#4c4cff,#5353ff,#4f4fff,#4f4fff,#6363ff,#ebcde1,#5151ff,#5f5fff,#b2b2ff,#4b4bff,#4444ff,#c69cd5,#9292ff,#3f3fff,#3f3fff,#3e3eff,#4040ff,#3636ff,#4242ff,#3131ff,#3838ff,#3838ff,#2f2fff,#3636ff,#3131ff,#3535ff,#3434ff,#3434ff,#2e2eff,#3333ff,#3131ff,#2c2cff,#2c2cff,#2f2fff,#2f2fff,#2e2eff,#2e2eff,#2c2cff,#2e2eff,#2929ff,#3636ff,#2b2bff,#3737ff,#3434ff,#3232ff,#3131ff,#3030ff,#2d2dff,#2d2dff,#2c2cff 300.0px)"></div><div style="top:100px;height:2px;background:linear-gradient(90deg,#3535ff 1.0px,#3535ff,#4545ff,#3d3dff,#3636ff,#3434ff,#3a3aff,#3737ff,#4040ff,#3a3aff,#3a3aff,#3c3cff,#3e3eff,#4a4aff,#3f3fff,#3f3fff,#4242ff,#3f3fff,#4d4dff,#4545ff,#4545ff,#4747ff,#4444ff,#4848ff,#4c4cff,#5c5cff,#4f4fff,#5050ff,#4d4dff,#4f4fff,#5353ff,#5757ff,#4f4fff,#5252ff,#5555ff,#5454ff,#4a4aff,#4f4fff,#4646ff,#5252ff,#4949ff,#4c4cff,#4444ff,#4949ff,#4848ff,#4949ff,#5959ff,#d994b9,#6969ff,#4a4aff,#bfa7e7,#6f6fff,#4d4dff,#d56b94,#cc6295,#4e4eff,#4949ff,#4242ff,#3f3fff,#3c3cff,#3f3fff,#4747ff,#3e3eff,#3737ff,#3a3aff,#3636ff,#3939ff,#3939ff,#4848ff,#3b3bff,#3939ff,#3939ff,#3838ff,#3e3eff,#3c3cff,#3838ff,#4141ff,#4141ff,#3d3dff,#4242ff,#4646ff,#4242ff,#4747ff,#4747ff,#4242ff,#4040ff,#4646ff,#4747ff,#4646ff,#4646ff,#4848ff,#4343ff,#4f4fff,#4b4bff,#4646ff,#4242ff,#4747ff,#4444ff,#4b4bff,#4242ff,#4e4eff,#4e4eff,#5050ff,#5252ff,#4e4eff,#6666ff,#f0d0e0,#5555ff,#5d5dff,#bab7fc,#4848ff,#4545ff,#cc98cc,#9e9eff,#3e3eff,#4141ff,#4242ff,#4141ff,#3636ff,#4242ff,#3333ff,#3737ff,#3939ff,#3737ff,#3434ff,#3333ff,#3333ff,#3636ff,#3434ff,#2d2dff,#2e2eff,#3030ff,#2f2fff,#3030ff,#3030ff,#3131ff,#2a2aff,#2d2dff,#3232ff,#2c2cff,#2f2fff,#3939ff,#2b2bff,#3333ff,#3636ff,#3232ff,#2e2eff,#3333ff,#2a2aff,#2d2dff,#2828ff 300.0px)"></div><div style="top:102px;height:2px;background:linear-gradient(90deg,#3838ff 1.0px,#3333ff,#4747ff,#3d3dff,#3737ff,#3232ff,#3939ff,#3939ff,#4343ff,#3b3bff,#3737ff,#3a3aff,#3c3cff,#4a4aff,#3d3dff,#4141ff,#4040ff,#4040ff,#4e4eff,#4343ff,#4949ff,#4949ff,#4343ff,#4747ff,#5151ff,#5c5cff,#5252ff,#5252ff,#4e4eff,#5454ff,#5454ff,#5656ff,#5252ff,#5353ff,#5757ff,#5656ff,#4b4bff,#4c4cff,#4646ff,#5151ff,#4949ff,#4c4cff,#4545ff,#4a4aff,#4a4aff,#4a4aff,#5757ff,#da8bb0,#6666ff,#4949ff,#c3a3df,#7171ff,#4f4fff,#e06786,#d65e87,#4d4dff,#4444ff,#3f3fff,#3e3eff,#3d3dff,#3c3cff,#4b4bff,#3d3dff,#3838ff,#3a3aff,#3939ff,#3c3cff,#3838ff,#4848ff,#3c3cff,#3d3dff,#3939ff,#3838ff,#3a3aff,#3838ff,#3b3bff,#4040ff,#3d3dff,#3f3fff,#4444ff,#4343ff,#4343ff,#4e4eff,#4646ff,#4040ff,#4545ff,#4444ff,#4d4dff,#4646ff,#4444ff,#4949ff,#4848ff,#4e4eff,#4b4bff,#4545ff,#4242ff,#4343ff,#4848ff,#4a4aff,#4747ff,#4b4bff,#4d4dff,#5454ff,#5151ff,#4b4bff,#6262ff,#f0cedd,#5151ff,#6363ff,#beb9fa,#4747ff,#4343ff,#d295c3,#a7a5fd,#3939ff,#4242ff,#4444ff,#4242ff,#3b3bff,#3b3bff,#3333ff,#3131ff,#3d3dff,#3535ff,#3131ff,#3434ff,#2c2cff,#3737ff,#3535ff,#2e2eff,#2f2fff,#2e2eff,#2d2dff,#2e2eff,#3030ff,#2f2fff,#2b2bff,#2b2bff,#3131ff,#2d2dff,#2e2eff,#3535ff,#2e2eff,#3535ff,#3535ff,#3333ff,#3030ff,#3434ff,#2828ff,#3030ff,#2929ff 300.0px)"></div><div style="top:104px;height:2px;background:linear-gradient(90deg,#3333ff 1.0px,#3636ff,#4242ff,#3c3cff,#3434ff,#3535ff,#3939ff,#3939ff,#4040ff,#3b3bff,#3939ff,#4040ff,#3c3cff,#4c4cff,#3f3fff,#3f3fff,#4040ff,#4141ff,#4b4bff,#4747ff,#4545ff,#4b4bff,#4949ff,#4848ff,#4f4fff,#6060ff,#5151ff,#5555ff,#5151ff,#5757ff,#5454ff,#5a5aff,#5656ff,#5353ff,#5656ff,#5454ff,#4f4fff,#4e4eff,#4a4aff,#4f4fff,#4a4aff,#4a4aff,#4646ff,#4949ff,#4b4bff,#4949ff,#5b5bff,#dd87a8,#6868ff,#4c4cff,#c09bda,#7171ff,#5353ff,#ed7183,#e16786,#4f4fff,#4343ff,#4141ff,#3939ff,#4242ff,#3939ff,#4545ff,#3c3cff,#3939ff,#3939ff,#3939ff,#3a3aff,#3737ff,#4848ff,#3939ff,#3b3bff,#3737ff,#3b3bff,#3a3aff,#3a3aff,#3b3bff,#3c3cff,#4141ff,#3e3eff,#4545ff,#4444ff,#4242ff,#4d4dff,#4444ff,#4242ff,#4747ff,#4949ff,#4c4cff,#4c4cff,#4848ff,#4c4cff,#4949ff,#5050ff,#4d4dff,#4747ff,#4141ff,#4848ff,#4646ff,#4b4bff,#4444ff,#4a4aff,#4b4bff,#5252ff,#4d4dff,#4747ff,#6363ff,#ebccdf,#5454ff,#5e5eff,#bab2f7,#4949ff,#4949ff,#d592bc,#aba5f9,#3b3bff,#4242ff,#3f3fff,#3d3dff,#3939ff,#3c3cff,#3030ff,#3535ff,#3c3cff,#3636ff,#3232ff,#2f2fff,#3333ff,#3535ff,#3333ff,#2c2cff,#3030ff,#2f2fff,#3030ff,#3232ff,#3232ff,#3030ff,#2a2aff,#2a2aff,#3030ff,#2d2dff,#2c2cff,#3838ff,#2b2bff,#3636ff,#3333ff,#3333ff,#2f2fff,#3131ff,#2b2bff,#2727ff,#2d2dff 300.0px)"></div><div style="top:106px;height:2px;background:linear-gradient(90deg,#3939ff 1.0px,#3535ff,#3f3fff,#3a3aff,#3131ff,#3434ff,#3838ff,#3c3cff,#4141ff,#3939ff,#3737ff,#3b3bff,#3c3cff,#4b4bff,#4040ff,#3d3dff,#4444ff,#4040ff,#4c4cff,#4242ff,#4747ff,#4848ff,#4949ff,#4b4bff,#5454ff,#5f5fff,#5858ff,#5757ff,#5757ff,#5d5dff,#6060ff,#6060ff,#5555ff,#5656ff,#5c5cff,#5757ff,#4e4eff,#5050ff,#4949ff,#5050ff,#4a4aff,#4949ff,#4545ff,#4b4bff,#4949ff,#4c4cff,#5757ff,#de86a7,#6a6aff,#4949ff,#c09edd,#7676ff,#5353ff,#f67981,#ec6f82,#5151ff,#4444ff,#3f3fff,#3d3dff,#3f3fff,#3c3cff,#4949ff,#3c3cff,#3535ff,#3d3dff,#3838ff,#3838ff,#3b3bff,#4848ff,#3a3aff,#4040ff,#3b3bff,#3636ff,#3a3aff,#3d3dff,#3b3bff,#3d3dff,#3c3cff,#4040ff,#4545ff,#4444ff,#4141ff,#4c4cff,#4747ff,#4545ff,#4545ff,#4f4fff,#4f4fff,#5151ff,#4e4eff,#4e4eff,#4e4eff,#4f4fff,#4d4dff,#4949ff,#4242ff,#4949ff,#4848ff,#5050ff,#4040ff,#4d4dff,#4f4fff,#5555ff,#5050ff,#4949ff,#5f5fff,#edcee0,#4d4dff,#5c5cff,#bcb3f6,#4242ff,#4848ff,#da98bd,#afaafa,#3a3aff,#4343ff,#3c3cff,#3f3fff,#3939ff,#3c3cff,#3030ff,#3232ff,#3939ff,#3535ff,#3333ff,#3333ff,#3030ff,#3434ff,#3131ff,#2e2eff,#2f2fff,#3131ff,#2d2dff,#3030ff,#2b2bff,#2929ff,#2828ff,#3030ff,#2f2fff,#3131ff,#2c2cff,#3636ff,#2d2dff,#3939ff,#3131ff,#3535ff,#2f2fff,#3333ff,#2a2aff,#2c2cff,#2626ff 300.0px)"></div><div style="top:108px;height:2px;background:linear-gradient(90deg,#3737ff 1.0px,#3636ff,#4343ff,#3a3aff,#3434ff,#3434ff,#3b3bff,#3d3dff,#4040ff,#3d3dff,#3838ff,#3f3fff,#3b3bff,#4848ff,#4040ff,#4242ff,#4242ff,#4040ff,#5050ff,#4444ff,#4b4bff,#4a4aff,#4e4eff,#5151ff,#5656ff,#6767ff,#5b5bff,#6060ff,#5f5fff,#6565ff,#6868ff,#6c6cff,#5f5fff,#5c5cff,#5d5dff,#5d5dff,#5353ff,#4e4eff,#4b4bff,#5353ff,#4b4bff,#5050ff,#4646ff,#4a4aff,#4848ff,#4747ff,#5959ff,#dd83a5,#6b6bff,#4949ff,#c4a2dd,#6f6fff,#5858ff,#ff7e7f,#f97a80,#5959ff,#4444ff,#4141ff,#3f3fff,#3e3eff,#3f3fff,#4747ff,#4141ff,#3838ff,#3e3eff,#3b3bff,#3c3cff,#3838ff,#4949ff,#3838ff,#4040ff,#3c3cff,#3c3cff,#3838ff,#3838ff,#3a3aff,#3f3fff,#3e3eff,#4141ff,#4545ff,#4747ff,#4848ff,#4d4dff,#4a4aff,#4444ff,#4c4cff,#5252ff,#5454ff,#5151ff,#5252ff,#5757ff,#5050ff,#5656ff,#5151ff,#4848ff,#4949ff,#4747ff,#4a4aff,#4b4bff,#4545ff,#4848ff,#4a4aff,#5151ff,#4d4dff,#4a4aff,#6060ff,#edcfe0,#4d4dff,#5a5aff,#bcb7fa,#4444ff,#4848ff,#dea0c1,#b5aaf5,#3d3dff,#4040ff,#4040ff,#3d3dff,#3535ff,#3e3eff,#3333ff,#3434ff,#3939ff,#3535ff,#3131ff,#3232ff,#3434ff,#3737ff,#3636ff,#2c2cff,#2c2cff,#3030ff,#2f2fff,#2d2dff,#2e2eff,#2c2cff,#2b2bff,#2c2cff,#2f2fff,#3030ff,#2c2cff,#3838ff,#2b2bff,#3232ff,#3030ff,#3434ff,#2f2fff,#2f2fff,#2b2bff,#2d2dff,#2626ff 300.0px)"></div><div style="top:110px;height:2px;background:linear-gradient(90deg,#3535ff 1.0px,#3636ff,#4343ff,#3a3aff,#3636ff,#3535ff,#3838ff,#4040ff,#4242ff,#3c3cff,#3b3bff,#4040ff,#3d3dff,#4f4fff,#3f3fff,#4141ff,#4848ff,#4343ff,#5454ff,#4747ff,#4d4dff,#4f4fff,#4e4eff,#5353ff,#5a5aff,#6868ff,#6262ff,#6464ff,#6b6bff,#6d6dff,#7676ff,#7777ff,#6a6aff,#6b6bff,#6969ff,#6363ff,#5555ff,#5151ff,#4e4eff,#5454ff,#4a4aff,#5050ff,#4a4aff,#4949ff,#4b4bff,#4a4aff,#5b5bff,#db8aae,#6868ff,#4b4bff,#c0a2e0,#6c6cff,#5d5dff,#fe8687,#fa858a,#5d5dff,#4747ff,#3f3fff,#3c3cff,#4242ff,#3e3eff,#4a4aff,#4040ff,#3838ff,#4141ff,#3939ff,#3a3aff,#3a3aff,#4747ff,#3a3aff,#4040ff,#3c3cff,#3939ff,#3c3cff,#3c3cff,#3c3cff,#4242ff,#4040ff,#4242ff,#4444ff,#4848ff,#4b4bff,#5151ff,#4f4fff,#4c4cff,#5454ff,#5e5eff,#5c5cff,#6161ff,#6060ff,#6161ff,#5b5bff,#6565ff,#5b5bff,#4e4eff,#4949ff,#4d4dff,#4747ff,#4c4cff,#4444ff,#4949ff,#4f4fff,#4d4dff,#4c4cff,#4949ff,#6161ff,#e9d2e8,#4f4fff,#5c5cff,#b8b5fd,#4444ff,#4a4aff,#dea8c9,#b0a9f8,#3b3bff,#4646ff,#3b3bff,#3e3eff,#3737ff,#4040ff,#3232ff,#3232ff,#3b3bff,#3636ff,#2d2dff,#3636ff,#3232ff,#3939ff,#3535ff,#2e2eff,#2c2cff,#3232ff,#2c2cff,#2e2eff,#3030ff,#2a2aff,#2a2aff,#2f2fff,#2f2fff,#2f2fff,#2d2dff,#3a3aff,#2c2cff,#3a3aff,#2f2fff,#3636ff,#3232ff,#3131ff,#2b2bff,#2f2fff,#2a2aff 300.0px)"></div><div style="top:112px;height:2px;background:linear-gradient(90deg,#3535ff 1.0px,#3434ff,#4242ff,#3f3fff,#3535ff,#3737ff,#3737ff,#3c3cff,#3f3fff,#3e3eff,#3c3cff,#3e3eff,#4040ff,#4c4cff,#4444ff,#4545ff,#4646ff,#4747ff,#5555ff,#4848ff,#4f4fff,#5151ff,#5454ff,#5656ff,#6060ff,#7171ff,#6767ff,#7171ff,#7373ff,#7c7cff,#8080ff,#8e8eff,#9d9dff,#9e9eff,#8888ff,#6a6aff,#5a5aff,#5252ff,#5353ff,#5656ff,#4f4fff,#5151ff,#4d4dff,#4d4dff,#4b4bff,#4848ff,#5c5cff,#bfaeee,#5b5bff,#4747ff,#a1a1ff,#6060ff,#5d5dff,#debdde,#d3b2dd,#5454ff,#4444ff,#4141ff,#3c3cff,#4040ff,#3e3eff,#4646ff,#3e3eff,#3939ff,#3d3dff,#3b3bff,#3b3bff,#3b3bff,#4848ff,#4040ff,#3d3dff,#3c3cff,#3d3dff,#4040ff,#4040ff,#3b3bff,#4545ff,#4343ff,#4545ff,#4848ff,#4b4bff,#4a4aff,#5555ff,#5555ff,#5252ff,#5b5bff,#6363ff,#6969ff,#6b6bff,#6a6aff,#7a7aff,#8b8bff,#9191ff,#7171ff,#5555ff,#4d4dff,#4c4cff,#4949ff,#4e4eff,#4242ff,#4b4bff,#4d4dff,#5252ff,#4d4dff,#4848ff,#5656ff,#b7b7ff,#4e4eff,#4e4eff,#8c8cff,#4646ff,#4444ff,#b5b0f9,#8484ff,#3e3eff,#4141ff,#3b3bff,#4040ff,#3434ff,#3f3fff,#3434ff,#3535ff,#3939ff,#3535ff,#2e2eff,#3636ff,#3030ff,#3737ff,#3333ff,#2c2cff,#3131ff,#3232ff,#2f2fff,#2e2eff,#3030ff,#2f2fff,#2b2bff,#2a2aff,#2a2aff,#2e2eff,#2a2aff,#3434ff,#2d2dff,#3636ff,#3131ff,#3737ff,#2e2eff,#3333ff,#2b2bff,#2e2eff,#2929ff 300.0px)"></div><div style="top:114px;height:2px;background:linear-gradient(90deg,#3737ff 1.0px,#3838ff,#4444ff,#3f3fff,#3a3aff,#3636ff,#3a3aff,#3d3dff,#4444ff,#4141ff,#3d3dff,#4141ff,#4545ff,#4e4eff,#4444ff,#4444ff,#4949ff,#4a4aff,#5656ff,#4c4cff,#5454ff,#5757ff,#5757ff,#5f5fff,#6767ff,#7878ff,#7272ff,#7979ff,#7d7dff,#8f8fff,#9292ff,#d1caf8,#ede5f8,#c5c5ff,#9c9cff,#6c6cff,#5d5dff,#5656ff,#5858ff,#5c5cff,#4e4eff,#5454ff,#4c4cff,#5050ff,#4e4eff,#4a4aff,#5a5aff,#8080ff,#5151ff,#4b4bff,#7171ff,#4d4dff,#5151ff,#9595ff,#8686ff,#4949ff,#4b4bff,#4444ff,#3f3fff,#4343ff,#3e3eff,#4e4eff,#3f3fff,#3b3bff,#4141ff,#3939ff,#3d3dff,#3e3eff,#4c4cff,#4343ff,#4242ff,#3939ff,#3d3dff,#4040ff,#4242ff,#3d3dff,#4343ff,#4242ff,#4242ff,#4f4fff,#4e4eff,#4d4dff,#5a5aff,#5757ff,#5757ff,#6262ff,#6d6dff,#7373ff,#7777ff,#7b7bff,#bdbdff,#ceceff,#adadff,#8282ff,#5959ff,#4f4fff,#5252ff,#4a4aff,#4e4eff,#4848ff,#5050ff,#4c4cff,#5050ff,#5050ff,#4a4aff,#5252ff,#7474ff,#4949ff,#4a4aff,#6060ff,#4545ff,#4343ff,#6d6dff,#5b5bff,#3c3cff,#4040ff,#3d3dff,#3d3dff,#3636ff,#3b3bff,#3131ff,#3232ff,#3b3bff,#3535ff,#2f2fff,#3434ff,#3737ff,#3434ff,#3737ff,#3030ff,#2c2cff,#2f2fff,#3333ff,#2f2fff,#3030ff,#2e2eff,#2a2aff,#2d2dff,#2c2cff,#3030ff,#3131ff,#3939ff,#2e2eff,#3737ff,#3131ff,#3535ff,#2d2dff,#3232ff,#2929ff,#2e2eff,#2b2bff 300.0px)"></div><div style="top:116px;height:2px;background:linear-gradient(90deg,#3737ff 1.0px,#3737ff,#4444ff,#3b3bff,#3a3aff,#3838ff,#3c3cff,#3e3eff,#4040ff,#4242ff,#3d3dff,#4141ff,#4343ff,#4f4fff,#4848ff,#4a4aff,#4c4cff,#4c4cff,#5c5cff,#5050ff,#5555ff,#5757ff,#5d5dff,#5e5eff,#6666ff,#7d7dff,#7d7dff,#8787ff,#8e8eff,#9f9fff,#b6b6ff,#feacad,#e2ceec,#cdcdff,#a9a9ff,#7272ff,#6262ff,#5a5aff,#5555ff,#5a5aff,#5151ff,#5555ff,#4b4bff,#4e4eff,#4b4bff,#4e4eff,#5959ff,#4848ff,#4a4aff,#4b4bff,#4d4dff,#4747ff,#4f4fff,#4949ff,#4242ff,#4949ff,#4747ff,#4040ff,#3d3dff,#4343ff,#3f3fff,#4a4aff,#4343ff,#3b3bff,#3e3eff,#3c3cff,#3f3fff,#3b3bff,#4646ff,#4141ff,#4040ff,#3f3fff,#4141ff,#3c3cff,#4141ff,#4141ff,#4242ff,#4141ff,#4545ff,#5050ff,#5151ff,#5151ff,#5e5eff,#5c5cff,#5f5fff,#6969ff,#7575ff,#8181ff,#8585ff,#9c9cff,#f6cbd4,#cbcbff,#b5b5ff,#9090ff,#5a5aff,#5656ff,#5353ff,#5151ff,#5454ff,#4545ff,#4d4dff,#4f4fff,#5050ff,#5050ff,#4848ff,#5050ff,#4b4bff,#4a4aff,#4242ff,#4444ff,#4444ff,#3d3dff,#3636ff,#3a3aff,#3c3cff,#4343ff,#3e3eff,#3b3bff,#3636ff,#3f3fff,#3333ff,#3333ff,#3939ff,#3636ff,#3232ff,#3737ff,#3131ff,#3535ff,#3636ff,#2e2eff,#2c2cff,#2e2eff,#2f2fff,#2b2bff,#2f2fff,#2e2eff,#3030ff,#2e2eff,#2d2dff,#2e2eff,#2e2eff,#3737ff,#2f2fff,#3434ff,#3333ff,#3535ff,#3131ff,#3131ff,#2b2bff,#2f2fff,#2b2bff 300.0px)"></div><div style="top:118px;height:2px;background:linear-gradient(90deg,#3737ff 1.0px,#3535ff,#4242ff,#3d3dff,#3a3aff,#3a3aff,#3838ff,#3e3eff,#4242ff,#4343ff,#3d3dff,#4242ff,#4545ff,#5050ff,#4646ff,#4c4cff,#4a4aff,#4a4aff,#5959ff,#4e4eff,#5454ff,#5959ff,#5757ff,#5f5fff,#6b6bff,#8383ff,#7f7fff,#8d8dff,#a7a7ff,#bcbcff,#f3b8c4,#ff5d5d,#c5c5ff,#d2d2ff,#b3b3ff,#7575ff,#6565ff,#6060ff,#5656ff,#5c5cff,#5151ff,#5252ff,#4d4dff,#5050ff,#4c4cff,#4d4dff,#5858ff,#4545ff,#4646ff,#4949ff,#4f4fff,#4646ff,#4848ff,#4949ff,#4343ff,#4848ff,#4646ff,#4141ff,#3e3eff,#4141ff,#3f3fff,#4d4dff,#3f3fff,#3a3aff,#3e3eff,#3c3cff,#3a3aff,#3d3dff,#4a4aff,#3e3eff,#4040ff,#3f3fff,#4040ff,#3c3cff,#4444ff,#4040ff,#4040ff,#4444ff,#4646ff,#4f4fff,#5151ff,#5151ff,#5c5cff,#6161ff,#6161ff,#6b6bff,#8181ff,#9696ff,#a2a2ff,#e6c4dd,#ffa6a6,#a5a5ff,#bcbcff,#9797ff,#6262ff,#5454ff,#5656ff,#4d4dff,#5353ff,#4444ff,#5050ff,#4a4aff,#5353ff,#4e4eff,#4949ff,#4d4dff,#4545ff,#4747ff,#4040ff,#4141ff,#4444ff,#3a3aff,#3939ff,#3c3cff,#3e3eff,#4444ff,#4040ff,#3838ff,#3636ff,#3b3bff,#3333ff,#3131ff,#3c3cff,#3535ff,#2f2fff,#3131ff,#3131ff,#3737ff,#3535ff,#2e2eff,#3030ff,#2e2eff,#2e2eff,#2c2cff,#3030ff,#2d2dff,#2e2eff,#2929ff,#2b2bff,#2d2dff,#2d2dff,#3b3bff,#2e2eff,#3636ff,#3434ff,#3333ff,#3333ff,#3030ff,#2929ff,#2a2aff,#2b2bff 300.0px)"></div><div style="top:120px;height:2px;background:linear-gradient(90deg,#3030ff 1.0px,#3737ff,#4242ff,#3c3cff,#3737ff,#3a3aff,#3b3bff,#3d3dff,#4242ff,#3f3fff,#3f3fff,#4242ff,#4444ff,#4b4bff,#4747ff,#4848ff,#4949ff,#4c4cff,#5656ff,#4c4cff,#5252ff,#5555ff,#5959ff,#6060ff,#6a6aff,#8585ff,#8484ff,#9797ff,#b6b6ff,#e8d5ec,#ff1f1f,#f4afba,#a9a9ff,#cacaff,#b4b4ff,#7a7aff,#6565ff,#5b5bff,#5454ff,#5858ff,#4e4eff,#5555ff,#4d4dff,#4949ff,#4b4bff,#4949ff,#5757ff,#4444ff,#4848ff,#4848ff,#4d4dff,#4545ff,#4949ff,#4444ff,#4141ff,#4343ff,#4444ff,#3e3eff,#3c3cff,#3e3eff,#3c3cff,#4c4cff,#3e3eff,#3b3bff,#3d3dff,#3737ff,#3838ff,#3b3bff,#4848ff,#4141ff,#4242ff,#3c3cff,#3a3aff,#3f3fff,#4343ff,#4141ff,#4848ff,#4747ff,#4848ff,#4d4dff,#5151ff,#4f4fff,#5858ff,#5d5dff,#5e5eff,#7070ff,#8c8cff,#a5a5ff,#d3c9f5,#ff6b6b,#e2c9e6,#9393ff,#babaff,#9494ff,#6363ff,#5a5aff,#4f4fff,#4d4dff,#5050ff,#4646ff,#4f4fff,#4c4cff,#5353ff,#4e4eff,#4646ff,#4a4aff,#4545ff,#4747ff,#4141ff,#3e3eff,#3e3eff,#3b3bff,#3333ff,#3939ff,#3838ff,#4242ff,#3b3bff,#3c3cff,#3333ff,#3c3cff,#3131ff,#3535ff,#3b3bff,#3636ff,#3030ff,#3838ff,#3131ff,#3939ff,#3434ff,#2f2fff,#2c2cff,#3030ff,#2a2aff,#2a2aff,#2f2fff,#2f2fff,#2b2bff,#2e2eff,#2c2cff,#2f2fff,#2c2cff,#3a3aff,#2d2dff,#3434ff,#3434ff,#3434ff,#3030ff,#3636ff,#2727ff,#2d2dff,#2e2eff 300.0px)"></div><div style="top:122px;height:2px;background:linear-gradient(90deg,#3636ff 1.0px,#3838ff,#4343ff,#3e3eff,#3a3aff,#3535ff,#3838ff,#3c3cff,#4545ff,#3d3dff,#3d3dff,#3f3fff,#3f3fff,#4e4eff,#4444ff,#4848ff,#4848ff,#4949ff,#5858ff,#4e4eff,#4e4eff,#5454ff,#5454ff,#5f5fff,#6b6bff,#8383ff,#8383ff,#a0a0ff,#c4c4ff,#ff7c7c,#ff3f3f,#cdccfd,#a2a2ff,#b9b9ff,#a9a9ff,#7373ff,#6060ff,#5b5bff,#5454ff,#5a5aff,#4a4aff,#4f4fff,#4949ff,#4a4aff,#4848ff,#4545ff,#5555ff,#4141ff,#4343ff,#4444ff,#4d4dff,#4545ff,#4848ff,#4646ff,#3d3dff,#4343ff,#4343ff,#3f3fff,#3d3dff,#3f3fff,#3a3aff,#4848ff,#3f3fff,#3737ff,#3939ff,#3636ff,#3939ff,#3838ff,#4747ff,#3b3bff,#4343ff,#3d3dff,#3939ff,#3c3cff,#4141ff,#3c3cff,#4040ff,#4242ff,#4545ff,#4e4eff,#4b4bff,#5151ff,#5a5aff,#5a5aff,#6464ff,#6f6fff,#9191ff,#b3b3ff,#f8a2a9,#ff8787,#a6a6ff,#8e8eff,#aaaaff,#8e8eff,#6363ff,#5353ff,#4f4fff,#4848ff,#5151ff,#4444ff,#4d4dff,#4a4aff,#4e4eff,#4d4dff,#4444ff,#4545ff,#4040ff,#4141ff,#3939ff,#3c3cff,#4040ff,#3939ff,#3636ff,#3939ff,#3a3aff,#4141ff,#3f3fff,#3d3dff,#3232ff,#3b3bff,#3030ff,#3636ff,#3838ff,#3434ff,#3232ff,#3333ff,#3535ff,#3535ff,#3737ff,#2d2dff,#2c2cff,#2e2eff,#2f2fff,#2e2eff,#3030ff,#2e2eff,#2e2eff,#2f2fff,#2b2bff,#3030ff,#2c2cff,#3333ff,#2d2dff,#3939ff,#3636ff,#3434ff,#3131ff,#3535ff,#2e2eff,#2c2cff,#2828ff 300.0px)"></div><div style="top:124px;height:2px;background:linear-gradient(90deg,#3434ff 1.0px,#3535ff,#3f3fff,#3838ff,#3535ff,#3737ff,#3737ff,#3a3aff,#4141ff,#3f3fff,#3d3dff,#3d3dff,#4040ff,#4848ff,#4141ff,#4848ff,#4747ff,#4747ff,#5454ff,#4949ff,#4f4fff,#5050ff,#5454ff,#5858ff,#6565ff,#8080ff,#8282ff,#a8a8ff,#e1dbf9,#ff2424,#eea8b9,#b9b9ff,#9b9bff,#a7a7ff,#9c9cff,#7272ff,#6161ff,#5b5bff,#5353ff,#5656ff,#4e4eff,#4b4bff,#4747ff,#4747ff,#4444ff,#4242ff,#5050ff,#4040ff,#4343ff,#4343ff,#4a4aff,#3c3cff,#4646ff,#4242ff,#3d3dff,#3e3eff,#4040ff,#3939ff,#3838ff,#3e3eff,#3939ff,#4848ff,#3b3bff,#3939ff,#3a3aff,#3838ff,#3b3bff,#3636ff,#4040ff,#3939ff,#3f3fff,#3838ff,#3c3cff,#3a3aff,#4141ff,#3e3eff,#4242ff,#4141ff,#4343ff,#4848ff,#4a4aff,#4c4cff,#5757ff,#5b5bff,#5c5cff,#6e6eff,#9c9cff,#d2d2ff,#ff6f6f,#ddc7e9,#9494ff,#8888ff,#9999ff,#8686ff,#5f5fff,#5252ff,#4747ff,#4646ff,#4e4eff,#3f3fff,#4b4bff,#4848ff,#4b4bff,#4949ff,#3e3eff,#4545ff,#4141ff,#3f3fff,#3b3bff,#3737ff,#4040ff,#3939ff,#3232ff,#3737ff,#3535ff,#3b3bff,#3e3eff,#3838ff,#3333ff,#3838ff,#3333ff,#3232ff,#3737ff,#3232ff,#2d2dff,#3434ff,#3333ff,#3636ff,#3636ff,#3030ff,#2e2eff,#2e2eff,#2e2eff,#2c2cff,#3030ff,#2d2dff,#2d2dff,#2f2fff,#2d2dff,#2c2cff,#2d2dff,#3333ff,#2e2eff,#3a3aff,#3131ff,#3535ff,#3030ff,#3434ff,#2c2cff,#3030ff,#2c2cff 300.0px)"></div><div style="top:126px;height:2px;background:linear-gradient(90deg,#3232ff 1.0px,#3131ff,#4141ff,#3a3aff,#3232ff,#3838ff,#3939ff,#3b3bff,#3d3dff,#3f3fff,#3c3cff,#3f3fff,#3a3aff,#4949ff,#3c3cff,#4141ff,#4343ff,#4141ff,#5555ff,#4949ff,#4f4fff,#5252ff,#5454ff,#5656ff,#6262ff,#7979ff,#8585ff,#b7b7ff,#f7bec6,#ff4c4c,#c9c8fe,#a8a8ff,#9595ff,#9393ff,#8585ff,#6f6fff,#5b5bff,#5454ff,#4e4eff,#5252ff,#4b4bff,#4c4cff,#4545ff,#4444ff,#4545ff,#3e3eff,#5252ff,#4141ff,#3c3cff,#4242ff,#4949ff,#3c3cff,#4343ff,#4141ff,#3b3bff,#3c3cff,#4040ff,#3838ff,#3737ff,#3737ff,#3636ff,#4646ff,#3a3aff,#3535ff,#3b3bff,#3535ff,#3838ff,#3333ff,#4242ff,#3939ff,#3c3cff,#3838ff,#3d3dff,#3a3aff,#3e3eff,#3737ff,#3d3dff,#3e3eff,#3e3eff,#4949ff,#4747ff,#4c4cff,#5858ff,#5656ff,#5858ff,#6f6fff,#a2a2ff,#eed1e2,#ffa7a7,#a3a3ff,#8e8eff,#8080ff,#8989ff,#7676ff,#5b5bff,#4f4fff,#4b4bff,#4444ff,#4b4bff,#4040ff,#4444ff,#4646ff,#4949ff,#4343ff,#4141ff,#4343ff,#4040ff,#4242ff,#3737ff,#3939ff,#3838ff,#3939ff,#3434ff,#3434ff,#3737ff,#3d3dff,#3d3dff,#3939ff,#3434ff,#3b3bff,#3232ff,#3232ff,#3e3eff,#3232ff,#3131ff,#3636ff,#2d2dff,#3838ff,#3333ff,#2c2cff,#2e2eff,#3131ff,#2c2cff,#2e2eff,#2e2eff,#2e2eff,#2f2fff,#2c2cff,#2c2cff,#2e2eff,#3030ff,#3a3aff,#2929ff,#3a3aff,#3434ff,#3333ff,#3131ff,#3a3aff,#2a2aff,#2b2bff,#2c2cff 300.0px)"></div><div style="top:128px;height:2px;background:linear-gradient(90deg,#3232ff 1.0px,#3333ff,#4343ff,#3a3aff,#3737ff,#3434ff,#3939ff,#3b3bff,#3a3aff,#3f3fff,#3939ff,#3c3cff,#3838ff,#4646ff,#3b3bff,#3f3fff,#4242ff,#3f3fff,#5050ff,#4646ff,#4b4bff,#4f4fff,#5252ff,#5757ff,#5f5fff,#7676ff,#8b8bff,#c5c5ff,#ff9090,#f5b5bf,#9e9eff,#9f9fff,#8888ff,#8383ff,#7474ff,#6767ff,#5555ff,#4e4eff,#4f4fff,#5353ff,#4747ff,#4949ff,#4242ff,#4242ff,#4343ff,#3d3dff,#5050ff,#3d3dff,#3c3cff,#3e3eff,#4545ff,#3a3aff,#3d3dff,#4040ff,#3939ff,#3d3dff,#3c3cff,#3939ff,#3636ff,#3939ff,#3c3cff,#4444ff,#3a3aff,#3939ff,#3535ff,#3737ff,#3535ff,#3333ff,#4242ff,#3b3bff,#3e3eff,#3838ff,#3737ff,#3838ff,#3d3dff,#3636ff,#4242ff,#3c3cff,#3f3fff,#4848ff,#4848ff,#4949ff,#5454ff,#5151ff,#5858ff,#7575ff,#afafff,#ffc4c4,#dcc8eb,#8787ff,#8585ff,#7878ff,#7575ff,#6868ff,#5252ff,#4b4bff,#4646ff,#4545ff,#4848ff,#3c3cff,#4343ff,#4242ff,#4848ff,#4343ff,#3d3dff,#4141ff,#3e3eff,#4040ff,#3c3cff,#3838ff,#3c3cff,#3636ff,#3535ff,#3636ff,#3333ff,#4040ff,#3b3bff,#3a3aff,#3030ff,#3939ff,#3333ff,#3636ff,#3939ff,#3333ff,#3030ff,#3333ff,#3232ff,#3838ff,#3232ff,#2e2eff,#3131ff,#3131ff,#2b2bff,#3030ff,#3030ff,#2b2bff,#2b2bff,#2b2bff,#2d2dff,#3030ff,#2e2eff,#3838ff,#2a2aff,#3838ff,#3333ff,#3636ff,#3131ff,#3535ff,#2727ff,#2929ff,#2a2aff 300.0px)"></div><div style="top:130px;height:2px;background:linear-gradient(90deg,#3333ff 1.0px,#3131ff,#3e3eff,#3636ff,#3434ff,#3434ff,#3939ff,#3434ff,#3d3dff,#3b3bff,#3a3aff,#3a3aff,#3838ff,#4646ff,#3f3fff,#4040ff,#3d3dff,#4444ff,#5050ff,#4242ff,#4646ff,#4d4dff,#6161ff,#5656ff,#5c5cff,#7171ff,#8787ff,#c6c6ff,#ffc3c3,#d6cef7,#9191ff,#9191ff,#7e7eff,#7676ff,#6969ff,#6060ff,#5454ff,#5050ff,#4848ff,#5151ff,#4646ff,#4949ff,#4444ff,#4040ff,#3f3fff,#3b3bff,#4b4bff,#3a3aff,#3838ff,#3a3aff,#4848ff,#3c3cff,#4242ff,#3c3cff,#3737ff,#3c3cff,#3939ff,#3939ff,#3535ff,#3939ff,#3434ff,#4545ff,#3a3aff,#3333ff,#3434ff,#3636ff,#3838ff,#3636ff,#4141ff,#3a3aff,#3e3eff,#3535ff,#3838ff,#3939ff,#3e3eff,#3737ff,#3c3cff,#3a3aff,#3e3eff,#4444ff,#4646ff,#5c5cff,#5d5dff,#5151ff,#5252ff,#6f6fff,#b3b3ff,#fde8ea,#b2b2ff,#7b7bff,#7979ff,#6e6eff,#6b6bff,#5c5cff,#4f4fff,#4646ff,#4444ff,#4242ff,#4343ff,#3e3eff,#4343ff,#4646ff,#4a4aff,#4040ff,#3a3aff,#4141ff,#4040ff,#4040ff,#3737ff,#3535ff,#3939ff,#3636ff,#3434ff,#3636ff,#3434ff,#3e3eff,#3636ff,#3636ff,#3030ff,#3b3bff,#3030ff,#3030ff,#3a3aff,#3232ff,#3030ff,#3030ff,#3030ff,#3838ff,#3535ff,#2f2fff,#2e2eff,#3131ff,#2d2dff,#2c2cff,#3232ff,#2727ff,#2c2cff,#2b2bff,#2c2cff,#2f2fff,#2c2cff,#3838ff,#2f2fff,#3838ff,#3030ff,#3838ff,#3232ff,#3636ff,#2828ff,#2b2bff,#2d2dff 300.0px)"></div><div style="top:132px;height:2px;background:linear-gradient(90deg,#3131ff 1.0px,#3232ff,#3e3eff,#3737ff,#3232ff,#3636ff,#3535ff,#3737ff,#4040ff,#3838ff,#3b3bff,#3b3bff,#3535ff,#4747ff,#3b3bff,#4242ff,#3a3aff,#3e3eff,#5050ff,#3f3fff,#4747ff,#6565ff,#6666ff,#5050ff,#5656ff,#6969ff,#7c7cff,#9b9bff,#c1c1ff,#b1b1ff,#8282ff,#7f7fff,#7171ff,#6a6aff,#6868ff,#5a5aff,#5050ff,#4e4eff,#4949ff,#4f4fff,#4040ff,#4747ff,#3f3fff,#3f3fff,#3b3bff,#3c3cff,#4f4fff,#3c3cff,#3a3aff,#3b3bff,#4343ff,#3c3cff,#4141ff,#4040ff,#3939ff,#3e3eff,#3e3eff,#3535ff,#3939ff,#3636ff,#3939ff,#4444ff,#3737ff,#3434ff,#3a3aff,#3535ff,#3737ff,#3636ff,#4040ff,#3939ff,#3d3dff,#3939ff,#3535ff,#3333ff,#3a3aff,#3737ff,#3d3dff,#3a3aff,#3c3cff,#4545ff,#5e5eff,#6060ff,#5050ff,#4b4bff,#4c4cff,#6969ff,#9090ff,#aaaaff,#9191ff,#6c6cff,#6b6bff,#6060ff,#6767ff,#5858ff,#4848ff,#4444ff,#4141ff,#3e3eff,#4747ff,#3939ff,#4343ff,#4242ff,#4646ff,#4242ff,#3a3aff,#3f3fff,#3c3cff,#3f3fff,#3535ff,#3a3aff,#3a3aff,#3535ff,#3333ff,#3232ff,#3636ff,#4040ff,#3a3aff,#3535ff,#3232ff,#3a3aff,#2e2eff,#3333ff,#3a3aff,#3535ff,#2f2fff,#3434ff,#3535ff,#3737ff,#3535ff,#2e2eff,#2c2cff,#3131ff,#2c2cff,#2d2dff,#2f2fff,#3030ff,#2c2cff,#2e2eff,#2929ff,#2d2dff,#2c2cff,#3333ff,#2c2cff,#3a3aff,#3333ff,#3838ff,#2e2eff,#3939ff,#2929ff,#2e2eff,#2c2cff 300.0px)"></div><div style="top:134px;height:2px;background:linear-gradient(90deg,#3535ff 1.0px,#3131ff,#4040ff,#3a3aff,#3434ff,#3232ff,#3636ff,#3737ff,#3c3cff,#3d3dff,#3838ff,#3a3aff,#3d3dff,#4848ff,#3c3cff,#3e3eff,#3f3fff,#3d3dff,#4c4cff,#4141ff,#6161ff,#8383ff,#4d4dff,#4b4bff,#5252ff,#6565ff,#7373ff,#8686ff,#9999ff,#9a9aff,#7171ff,#7474ff,#6565ff,#6262ff,#5d5dff,#5757ff,#4b4bff,#4949ff,#4444ff,#4b4bff,#4545ff,#4949ff,#3d3dff,#4343ff,#3d3dff,#3a3aff,#4949ff,#3838ff,#3a3aff,#3c3cff,#4646ff,#3939ff,#4141ff,#3c3cff,#3737ff,#3b3bff,#3c3cff,#3636ff,#3434ff,#3939ff,#3939ff,#4040ff,#3636ff,#3636ff,#3636ff,#3333ff,#3939ff,#3636ff,#4242ff,#3434ff,#3f3fff,#3636ff,#3434ff,#3535ff,#3a3aff,#3737ff,#3a3aff,#3838ff,#3c3cff,#5a5aff,#7474ff,#4747ff,#4d4dff,#4949ff,#5050ff,#6464ff,#7d7dff,#8a8aff,#8080ff,#5e5eff,#5d5dff,#5e5eff,#5656ff,#5252ff,#4747ff,#4141ff,#4141ff,#3f3fff,#4242ff,#3a3aff,#3f3fff,#3f3fff,#4545ff,#4242ff,#3d3dff,#3e3eff,#3b3bff,#3c3cff,#3434ff,#3636ff,#3636ff,#3636ff,#3131ff,#3535ff,#3737ff,#4040ff,#3c3cff,#3636ff,#3030ff,#3939ff,#2d2dff,#3232ff,#3a3aff,#3333ff,#3030ff,#3030ff,#3232ff,#3636ff,#3636ff,#2f2fff,#3030ff,#3232ff,#2e2eff,#2929ff,#2e2eff,#2a2aff,#2c2cff,#2b2bff,#2e2eff,#2d2dff,#2c2cff,#3636ff,#2c2cff,#3b3bff,#2f2fff,#3737ff,#3232ff,#3838ff,#2929ff,#2e2eff,#2a2aff 300.0px)"></div><div style="top:136px;height:2px;background:linear-gradient(90deg,#3131ff 1.0px,#3333ff,#3c3cff,#3737ff,#3232ff,#3232ff,#3434ff,#3636ff,#3d3dff,#3939ff,#3838ff,#3838ff,#3636ff,#4242ff,#3939ff,#3e3eff,#3d3dff,#3b3bff,#4b4bff,#5050ff,#9292ff,#5c5cff,#4646ff,#4747ff,#4f4fff,#6060ff,#6d6dff,#7474ff,#8989ff,#8d8dff,#6a6aff,#6a6aff,#5858ff,#5d5dff,#5656ff,#4e4eff,#4747ff,#4848ff,#4747ff,#4949ff,#4040ff,#4646ff,#4040ff,#4141ff,#4040ff,#3b3bff,#4b4bff,#3939ff,#3b3bff,#3c3cff,#4545ff,#3939ff,#4444ff,#4242ff,#3a3aff,#3b3bff,#3e3eff,#3838ff,#3636ff,#3838ff,#3838ff,#4343ff,#3535ff,#3636ff,#3636ff,#3535ff,#3a3aff,#3636ff,#3f3fff,#3535ff,#3e3eff,#3535ff,#3838ff,#3535ff,#3a3aff,#3838ff,#3737ff,#3b3bff,#4c4cff,#8686ff,#5050ff,#4343ff,#4848ff,#4545ff,#4545ff,#5d5dff,#7070ff,#7c7cff,#7575ff,#5454ff,#5353ff,#4e4eff,#5858ff,#4b4bff,#4343ff,#4040ff,#3f3fff,#3d3dff,#3f3fff,#3939ff,#3f3fff,#3d3dff,#4444ff,#4040ff,#3a3aff,#4040ff,#4040ff,#3b3bff,#3535ff,#3838ff,#3838ff,#3131ff,#3232ff,#3434ff,#3838ff,#3e3eff,#3838ff,#3636ff,#2e2eff,#3838ff,#3030ff,#2e2eff,#3b3bff,#3434ff,#2f2fff,#3131ff,#3434ff,#3535ff,#3838ff,#3030ff,#2c2cff,#3030ff,#2f2fff,#2b2bff,#2d2dff,#2e2eff,#2e2eff,#2d2dff,#2b2bff,#2f2fff,#2c2cff,#3737ff,#2e2eff,#3a3aff,#3434ff,#3838ff,#2c2cff,#3636ff,#2a2aff,#2e2eff,#2a2aff 300.0px)"></div><div style="top:138px;height:2px;background:linear-gradient(90deg,#3232ff 1.0px,#2f2fff,#3e3eff,#3636ff,#3131ff,#3535ff,#3636ff,#3a3aff,#3d3dff,#3b3bff,#3a3aff,#3b3bff,#3535ff,#4545ff,#3b3bff,#3f3fff,#3b3bff,#3b3bff,#4d4dff,#8484ff,#7373ff,#4444ff,#3e3eff,#4343ff,#4c4cff,#5f5fff,#6565ff,#6565ff,#7878ff,#8080ff,#5959ff,#5e5eff,#5252ff,#5353ff,#5454ff,#4e4eff,#4b4bff,#4747ff,#4343ff,#4949ff,#3f3fff,#4040ff,#3e3eff,#4040ff,#3d3dff,#3b3bff,#4848ff,#3838ff,#3c3cff,#3d3dff,#4747ff,#3939ff,#3e3eff,#3c3cff,#3535ff,#3b3bff,#3e3eff,#3535ff,#3636ff,#3737ff,#3535ff,#4545ff,#3737ff,#3333ff,#3535ff,#3535ff,#3636ff,#3737ff,#3f3fff,#3535ff,#3c3cff,#3838ff,#3636ff,#3939ff,#3a3aff,#3434ff,#3636ff,#4040ff,#7878ff,#6868ff,#4343ff,#4242ff,#4242ff,#4343ff,#4242ff,#5959ff,#5f5fff,#6f6fff,#6969ff,#4d4dff,#4b4bff,#4848ff,#4d4dff,#4747ff,#4040ff,#3c3cff,#3f3fff,#3b3bff,#3c3cff,#3939ff,#4141ff,#3f3fff,#4646ff,#4141ff,#3636ff,#4141ff,#3b3bff,#3c3cff,#3636ff,#3939ff,#3a3aff,#3333ff,#3333ff,#3333ff,#3737ff,#3f3fff,#3838ff,#3535ff,#3333ff,#3737ff,#2f2fff,#3333ff,#3c3cff,#3333ff,#2d2dff,#3333ff,#3131ff,#3535ff,#3333ff,#2f2fff,#2e2eff,#2c2cff,#2d2dff,#2c2cff,#3232ff,#2c2cff,#2e2eff,#2b2bff,#2929ff,#2c2cff,#2828ff,#3535ff,#3030ff,#3737ff,#3030ff,#3838ff,#2d2dff,#3939ff,#2c2cff,#2c2cff,#2f2fff 300.0px)"></div><div style="top:140px;height:2px;background:linear-gradient(90deg,#2f2fff 1.0px,#3333ff,#3939ff,#3636ff,#3232ff,#3333ff,#3434ff,#3838ff,#3d3dff,#3b3bff,#3838ff,#3636ff,#3434ff,#4444ff,#3c3cff,#3e3eff,#3838ff,#3939ff,#6969ff,#9898ff,#4545ff,#4242ff,#4040ff,#4444ff,#4747ff,#5858ff,#5959ff,#5a5aff,#6a6aff,#7272ff,#5555ff,#5757ff,#4a4aff,#4d4dff,#5050ff,#4949ff,#4343ff,#4646ff,#4242ff,#4646ff,#3d3dff,#4646ff,#3c3cff,#3d3dff,#3d3dff,#3a3aff,#4848ff,#3b3bff,#3d3dff,#3838ff,#4343ff,#3b3bff,#3e3eff,#3939ff,#3636ff,#3e3eff,#3b3bff,#3939ff,#3434ff,#3b3bff,#3737ff,#4545ff,#3939ff,#3636ff,#3a3aff,#3535ff,#3636ff,#3535ff,#3e3eff,#3333ff,#4141ff,#3333ff,#3333ff,#3636ff,#3c3cff,#3232ff,#3535ff,#5a5aff,#8787ff,#4747ff,#4242ff,#3f3fff,#4444ff,#3f3fff,#3e3eff,#4a4aff,#5555ff,#6161ff,#5e5eff,#4343ff,#4a4aff,#4444ff,#4a4aff,#4444ff,#3d3dff,#3c3cff,#3f3fff,#3a3aff,#3c3cff,#3535ff,#3e3eff,#4040ff,#4646ff,#3a3aff,#3b3bff,#3d3dff,#3838ff,#3c3cff,#3434ff,#3434ff,#3838ff,#3333ff,#2d2dff,#3838ff,#3434ff,#4141ff,#3535ff,#3737ff,#3232ff,#3939ff,#3131ff,#2f2fff,#3939ff,#3434ff,#3030ff,#3030ff,#3232ff,#3535ff,#3a3aff,#2d2dff,#2d2dff,#3030ff,#2f2fff,#2c2cff,#3131ff,#3030ff,#2e2eff,#2929ff,#2b2bff,#2d2dff,#2e2eff,#3434ff,#3131ff,#3838ff,#3131ff,#3535ff,#3030ff,#3f3fff,#2828ff,#2e2eff,#2828ff 300.0px)"></div><div style="top:142px;height:2px;background:linear-gradient(90deg,#3232ff 1.0px,#2f2fff,#3d3dff,#3737ff,#3030ff,#3232ff,#3838ff,#3838ff,#3a3aff,#3c3cff,#3a3aff,#3737ff,#3434ff,#4242ff,#3939ff,#4040ff,#3838ff,#3b3bff,#a3a3ff,#6969ff,#3f3fff,#4242ff,#3c3cff,#4141ff,#4747ff,#5151ff,#4a4aff,#4a4aff,#6060ff,#6d6dff,#4f4fff,#5252ff,#4848ff,#4b4bff,#4a4aff,#4646ff,#4343ff,#4444ff,#3e3eff,#4747ff,#3b3bff,#4343ff,#3f3fff,#3e3eff,#3a3aff,#3838ff,#4848ff,#3838ff,#3b3bff,#3a3aff,#4444ff,#3d3dff,#4141ff,#3c3cff,#3535ff,#3939ff,#3b3bff,#3737ff,#3434ff,#3939ff,#3636ff,#4242ff,#3939ff,#3333ff,#3838ff,#3131ff,#3b3bff,#3535ff,#4040ff,#3535ff,#3e3eff,#3535ff,#3636ff,#3737ff,#3737ff,#3232ff,#3e3eff,#8585ff,#5656ff,#3e3eff,#3e3eff,#3f3fff,#4545ff,#3e3eff,#3b3bff,#3e3eff,#4949ff,#5a5aff,#5757ff,#4040ff,#4444ff,#4141ff,#4747ff,#3f3fff,#3b3bff,#3a3aff,#3838ff,#3737ff,#3e3eff,#3232ff,#4242ff,#3d3dff,#4242ff,#3f3fff,#3a3aff,#3f3fff,#3939ff,#3b3bff,#3333ff,#3636ff,#3a3aff,#3737ff,#3131ff,#3535ff,#3535ff,#3f3fff,#3939ff,#3636ff,#2e2eff,#3737ff,#2f2fff,#3333ff,#3c3cff,#3131ff,#2e2eff,#3232ff,#3434ff,#3737ff,#3434ff,#2d2dff,#3131ff,#3333ff,#2f2fff,#2b2bff,#2e2eff,#2c2cff,#2a2aff,#2c2cff,#2b2bff,#2a2aff,#2f2fff,#3838ff,#2e2eff,#3838ff,#3030ff,#3737ff,#3232ff,#3939ff,#2e2eff,#2c2cff,#2c2cff 300.0px)"></div><div style="top:144px;height:2px;background:linear-gradient(90deg,#2e2eff 1.0px,#3030ff,#4141ff,#3535ff,#3131ff,#3333ff,#3939ff,#3636ff,#3e3eff,#3b3bff,#3c3cff,#3a3aff,#3636ff,#3f3fff,#3939ff,#3e3eff,#3838ff,#4b4bff,#b5b5ff,#4949ff,#3d3dff,#3e3eff,#4141ff,#3b3bff,#4545ff,#5252ff,#4646ff,#4242ff,#5757ff,#6262ff,#4b4bff,#4f4fff,#4343ff,#4848ff,#4848ff,#4848ff,#4242ff,#4242ff,#3f3fff,#4343ff,#3c3cff,#4444ff,#3d3dff,#3e3eff,#3a3aff,#3535ff,#4949ff,#3636ff,#3e3eff,#3838ff,#4747ff,#3a3aff,#4343ff,#3b3bff,#3838ff,#3a3aff,#3e3eff,#3737ff,#3434ff,#3535ff,#3434ff,#4141ff,#3a3aff,#3737ff,#3535ff,#3333ff,#3737ff,#3a3aff,#3c3cff,#3333ff,#3f3fff,#3636ff,#3434ff,#3b3bff,#3c3cff,#3333ff,#4d4dff,#9595ff,#4343ff,#3b3bff,#3e3eff,#3c3cff,#4141ff,#3f3fff,#3b3bff,#3636ff,#4242ff,#5353ff,#4f4fff,#4242ff,#4242ff,#3c3cff,#4747ff,#4040ff,#3b3bff,#3838ff,#3d3dff,#3737ff,#3d3dff,#3535ff,#3f3fff,#3c3cff,#4646ff,#4141ff,#3737ff,#4040ff,#3838ff,#3b3bff,#3838ff,#3838ff,#3a3aff,#3737ff,#2d2dff,#3636ff,#3636ff,#4141ff,#3636ff,#3636ff,#3131ff,#3939ff,#3030ff,#2f2fff,#3b3bff,#3434ff,#2f2fff,#3535ff,#3636ff,#3838ff,#3737ff,#2929ff,#2e2eff,#3131ff,#2f2fff,#2d2dff,#2f2fff,#2f2fff,#2929ff,#2d2dff,#2b2bff,#2d2dff,#2e2eff,#3a3aff,#2d2dff,#3b3bff,#3333ff,#3636ff,#3232ff,#3939ff,#2a2aff,#2b2bff,#2c2cff 300.0px)"></div><div style="top:146px;height:2px;background:linear-gradient(90deg,#3131ff 1.0px,#3636ff,#4242ff,#3030ff,#3232ff,#3030ff,#3636ff,#3737ff,#3a3aff,#3c3cff,#3838ff,#3636ff,#3333ff,#4242ff,#3b3bff,#3d3dff,#3737ff,#7575ff,#9797ff,#3939ff,#3e3eff,#3b3bff,#3b3bff,#4040ff,#4242ff,#4f4fff,#4343ff,#3b3bff,#5252ff,#5c5cff,#4848ff,#4a4aff,#4040ff,#4a4aff,#4a4aff,#4444ff,#4040ff,#3e3eff,#3e3eff,#4545ff,#3c3cff,#4040ff,#3e3eff,#3e3eff,#3a3aff,#3a3aff,#4848ff,#3939ff,#3939ff,#3c3cff,#4646ff,#3b3bff,#4141ff,#3b3bff,#3737ff,#3939ff,#3f3fff,#3535ff,#3535ff,#3a3aff,#3939ff,#4444ff,#3737ff,#3232ff,#3535ff,#3333ff,#3c3cff,#3535ff,#3939ff,#3434ff,#3c3cff,#3636ff,#3636ff,#3c3cff,#3737ff,#3535ff,#7070ff,#7575ff,#3636ff,#3f3fff,#3e3eff,#3d3dff,#4141ff,#3a3aff,#3d3dff,#3434ff,#4040ff,#5151ff,#4d4dff,#3c3cff,#3b3bff,#3d3dff,#4444ff,#3b3bff,#3737ff,#3636ff,#3a3aff,#3636ff,#3b3bff,#3737ff,#4040ff,#3a3aff,#4545ff,#3e3eff,#3939ff,#3c3cff,#3a3aff,#3d3dff,#3434ff,#3535ff,#3a3aff,#3333ff,#2d2dff,#3535ff,#3636ff,#4444ff,#3838ff,#3636ff,#3232ff,#3939ff,#3030ff,#3434ff,#3b3bff,#3434ff,#3131ff,#3636ff,#3232ff,#3535ff,#3333ff,#2e2eff,#2e2eff,#2e2eff,#3131ff,#2e2eff,#2f2fff,#2727ff,#2e2eff,#2a2aff,#2e2eff,#2d2dff,#2d2dff,#3030ff,#3232ff,#3c3cff,#3030ff,#3939ff,#3131ff,#3c3cff,#2c2cff,#2f2fff,#2a2aff 300.0px)"></div><div style="top:148px;height:2px;background:linear-gradient(90deg,#2d2dff 1.0px,#3535ff,#4040ff,#3636ff,#3131ff,#3232ff,#3737ff,#3737ff,#3c3cff,#3a3aff,#3939ff,#3838ff,#3333ff,#3d3dff,#3939ff,#3c3cff,#3838ff,#8b8bff,#7979ff,#3b3bff,#3b3bff,#3b3bff,#3838ff,#3b3bff,#4141ff,#5151ff,#3f3fff,#3c3cff,#4646ff,#5252ff,#4545ff,#4d4dff,#3e3eff,#4545ff,#4949ff,#4444ff,#4242ff,#3f3fff,#3e3eff,#4646ff,#3b3bff,#4040ff,#3f3fff,#3d3dff,#3535ff,#3535ff,#4848ff,#3939ff,#3939ff,#3939ff,#4646ff,#3636ff,#4242ff,#3a3aff,#3737ff,#3c3cff,#3f3fff,#3333ff,#3939ff,#3838ff,#3939ff,#4444ff,#3636ff,#3232ff,#3737ff,#3131ff,#3939ff,#3535ff,#3e3eff,#3333ff,#3a3aff,#3939ff,#3535ff,#3939ff,#3838ff,#3535ff,#8989ff,#5757ff,#3434ff,#3e3eff,#3c3cff,#3a3aff,#4141ff,#3e3eff,#3b3bff,#3737ff,#3f3fff,#4646ff,#4747ff,#3a3aff,#3939ff,#3a3aff,#3f3fff,#3e3eff,#3939ff,#3c3cff,#3838ff,#3c3cff,#3b3bff,#3636ff,#3d3dff,#3b3bff,#4646ff,#4040ff,#3535ff,#3f3fff,#3c3cff,#3a3aff,#3737ff,#3939ff,#3838ff,#3333ff,#2e2eff,#3535ff,#3535ff,#3f3fff,#3737ff,#3232ff,#3333ff,#3939ff,#2e2eff,#2e2eff,#3b3bff,#2f2fff,#2e2eff,#3434ff,#3030ff,#3131ff,#3737ff,#2e2eff,#2e2eff,#3131ff,#3030ff,#2929ff,#2f2fff,#2d2dff,#3030ff,#2828ff,#2b2bff,#2f2fff,#2d2dff,#3535ff,#2b2bff,#3b3bff,#3030ff,#3636ff,#3131ff,#3a3aff,#2b2bff,#2d2dff,#2727ff 300.0px)"></div><div style="top:150px;height:2px;background:linear-gradient(90deg,#3030ff 1.0px,#3030ff,#3b3bff,#3434ff,#3030ff,#3636ff,#3939ff,#3535ff,#3b3bff,#3c3cff,#3636ff,#3838ff,#3232ff,#4242ff,#3535ff,#3c3cff,#3737ff,#8181ff,#6464ff,#3939ff,#3b3bff,#3d3dff,#3a3aff,#3f3fff,#3f3fff,#4e4eff,#4242ff,#3939ff,#3a3aff,#4545ff,#4545ff,#4a4aff,#4141ff,#4343ff,#4444ff,#4040ff,#4040ff,#4040ff,#3c3cff,#4747ff,#3a3aff,#4343ff,#3d3dff,#3f3fff,#3a3aff,#3636ff,#4c4cff,#3939ff,#3c3cff,#3b3bff,#4444ff,#3737ff,#4141ff,#3b3bff,#3535ff,#3c3cff,#3c3cff,#3535ff,#3636ff,#3838ff,#3535ff,#4242ff,#3737ff,#3434ff,#3535ff,#3333ff,#3939ff,#3838ff,#4040ff,#3333ff,#3e3eff,#3737ff,#3333ff,#3737ff,#3535ff,#3434ff,#7b7bff,#4949ff,#3939ff,#3a3aff,#3d3dff,#3b3bff,#4444ff,#3e3eff,#3838ff,#3131ff,#3e3eff,#3a3aff,#3a3aff,#3838ff,#3b3bff,#3c3cff,#4848ff,#3939ff,#3a3aff,#3838ff,#3c3cff,#3a3aff,#3d3dff,#3535ff,#4242ff,#3f3fff,#4646ff,#3e3eff,#3939ff,#4242ff,#3b3bff,#3e3eff,#3333ff,#3838ff,#3535ff,#3737ff,#2e2eff,#3636ff,#3636ff,#4040ff,#3a3aff,#3636ff,#2e2eff,#3535ff,#2d2dff,#3030ff,#3636ff,#3333ff,#3030ff,#3232ff,#3232ff,#3535ff,#3737ff,#2f2fff,#3030ff,#3535ff,#3131ff,#2c2cff,#3131ff,#2929ff,#2f2fff,#2d2dff,#2b2bff,#2a2aff,#2d2dff,#3131ff,#2f2fff,#3939ff,#3232ff,#3838ff,#3131ff,#3c3cff,#2b2bff,#2b2bff,#2b2bff 300.0px)"></div><div style="top:152px;height:2px;background:linear-gradient(90deg,#2f2fff 1.0px,#3636ff,#3c3cff,#3535ff,#3131ff,#3131ff,#3535ff,#3737ff,#3c3cff,#3a3aff,#3434ff,#3737ff,#3636ff,#4242ff,#3838ff,#3c3cff,#3636ff,#7171ff,#5656ff,#3838ff,#3535ff,#3d3dff,#3636ff,#3e3eff,#3e3eff,#4f4fff,#3e3eff,#3a3aff,#3f3fff,#4545ff,#4242ff,#4a4aff,#3b3bff,#4545ff,#4444ff,#4242ff,#3f3fff,#4141ff,#3c3cff,#4747ff,#3b3bff,#3d3dff,#3d3dff,#3b3bff,#3636ff,#3838ff,#4b4bff,#3737ff,#3c3cff,#3838ff,#4545ff,#3737ff,#4040ff,#3e3eff,#3636ff,#3b3bff,#3e3eff,#3535ff,#3939ff,#3a3aff,#3636ff,#4343ff,#3b3bff,#3535ff,#3535ff,#3232ff,#3939ff,#3838ff,#3d3dff,#3131ff,#3b3bff,#3939ff,#3333ff,#3838ff,#3c3cff,#3434ff,#6969ff,#4040ff,#3939ff,#3e3eff,#3e3eff,#3b3bff,#4545ff,#3d3dff,#3838ff,#3030ff,#3f3fff,#3737ff,#3838ff,#3d3dff,#3838ff,#3737ff,#4141ff,#3a3aff,#3636ff,#3434ff,#3a3aff,#3b3bff,#3939ff,#3434ff,#3f3fff,#3838ff,#4444ff,#3c3cff,#3535ff,#3c3cff,#3b3bff,#3c3cff,#3232ff,#3737ff,#3939ff,#3939ff,#2e2eff,#3131ff,#3333ff,#4343ff,#3838ff,#3434ff,#3232ff,#3636ff,#2e2eff,#2f2fff,#3c3cff,#3333ff,#2f2fff,#3636ff,#3434ff,#3535ff,#3535ff,#3030ff,#2f2fff,#2f2fff,#2e2eff,#2b2bff,#3131ff,#2a2aff,#3030ff,#2a2aff,#2a2aff,#2f2fff,#2a2aff,#3434ff,#3030ff,#3a3aff,#3030ff,#3636ff,#2f2fff,#3c3cff,#2828ff,#2828ff,#3030ff 300.0px)"></div><div style="top:154px;height:2px;background:linear-gradient(90deg,#3232ff 1.0px,#3636ff,#3c3cff,#3232ff,#3535ff,#3030ff,#3636ff,#3434ff,#3b3bff,#3b3bff,#3434ff,#3333ff,#3333ff,#4242ff,#3838ff,#3e3eff,#3737ff,#5656ff,#4b4bff,#3a3aff,#3737ff,#3c3cff,#3838ff,#3838ff,#3c3cff,#4b4bff,#3b3bff,#3838ff,#3b3bff,#4444ff,#4646ff,#4949ff,#3c3cff,#4242ff,#3f3fff,#4040ff,#3f3fff,#4040ff,#3c3cff,#4343ff,#3b3bff,#4040ff,#3c3cff,#4040ff,#3939ff,#3434ff,#4747ff,#3939ff,#3a3aff,#3737ff,#4545ff,#3838ff,#4242ff,#3d3dff,#3535ff,#3d3dff,#3f3fff,#3232ff,#3232ff,#3838ff,#3737ff,#4343ff,#3b3bff,#3434ff,#3636ff,#3636ff,#3939ff,#3737ff,#4141ff,#3131ff,#3c3cff,#3434ff,#3131ff,#3636ff,#3939ff,#3333ff,#5858ff,#3a3aff,#3535ff,#3b3bff,#4040ff,#3c3cff,#4141ff,#3939ff,#3939ff,#3232ff,#3d3dff,#3737ff,#3d3dff,#3d3dff,#3e3eff,#3d3dff,#4444ff,#3c3cff,#3737ff,#3535ff,#3737ff,#3737ff,#3c3cff,#3838ff,#3f3fff,#3b3bff,#4545ff,#3b3bff,#3737ff,#3b3bff,#3b3bff,#3a3aff,#3434ff,#3434ff,#3636ff,#3636ff,#2d2dff,#3636ff,#3333ff,#4343ff,#3a3aff,#3333ff,#2e2eff,#3535ff,#2d2dff,#2e2eff,#3939ff,#3333ff,#2d2dff,#3333ff,#3535ff,#3939ff,#3333ff,#2d2dff,#3232ff,#3333ff,#2e2eff,#2d2dff,#2e2eff,#2a2aff,#2828ff,#2b2bff,#2a2aff,#2e2eff,#2d2dff,#3737ff,#2e2eff,#3d3dff,#2f2fff,#3636ff,#3131ff,#3c3cff,#2b2bff,#2c2cff,#2e2eff 300.0px)"></div><div style="top:156px;height:2px;background:linear-gradient(90deg,#3030ff 1.0px,#3131ff,#3838ff,#3434ff,#3030ff,#2f2fff,#3434ff,#3838ff,#3b3bff,#3939ff,#3737ff,#3737ff,#3333ff,#4040ff,#3636ff,#3e3eff,#3838ff,#4141ff,#4949ff,#3939ff,#3838ff,#4040ff,#3a3aff,#3838ff,#4141ff,#4b4bff,#3b3bff,#3838ff,#3b3bff,#4343ff,#4444ff,#4949ff,#3e3eff,#4242ff,#4040ff,#3d3dff,#3f3fff,#4242ff,#3a3aff,#4747ff,#3c3cff,#4242ff,#3d3dff,#3c3cff,#3939ff,#3535ff,#4848ff,#3838ff,#3939ff,#3939ff,#4949ff,#3b3bff,#3838ff,#3c3cff,#3333ff,#3939ff,#4040ff,#3434ff,#3737ff,#3737ff,#3535ff,#4141ff,#3838ff,#3838ff,#3333ff,#3232ff,#3434ff,#3838ff,#3b3bff,#2f2fff,#3f3fff,#3535ff,#3737ff,#3a3aff,#3a3aff,#3333ff,#4141ff,#3535ff,#3535ff,#3939ff,#3b3bff,#3d3dff,#4242ff,#3a3aff,#3737ff,#3131ff,#3e3eff,#3535ff,#3c3cff,#3c3cff,#3b3bff,#3939ff,#3f3fff,#3a3aff,#3a3aff,#3636ff,#3939ff,#3636ff,#3d3dff,#3434ff,#3f3fff,#3c3cff,#4545ff,#3e3eff,#3333ff,#3c3cff,#3636ff,#3c3cff,#3333ff,#3434ff,#3a3aff,#3434ff,#2f2fff,#3535ff,#3434ff,#4444ff,#3939ff,#3636ff,#2d2dff,#3a3aff,#2f2fff,#2d2dff,#3a3aff,#3131ff,#2c2cff,#3333ff,#3838ff,#3636ff,#3232ff,#2a2aff,#3030ff,#3030ff,#3333ff,#2c2cff,#3232ff,#2b2bff,#2d2dff,#2b2bff,#2828ff,#3131ff,#2b2bff,#3636ff,#3333ff,#3b3bff,#3434ff,#3636ff,#3131ff,#3838ff,#2828ff,#2d2dff,#2e2eff 300.0px)"></div><div style="top:158px;height:2px;background:linear-gradient(90deg,#3030ff 1.0px,#3838ff,#3a3aff,#3333ff,#2f2fff,#3232ff,#3838ff,#3535ff,#3b3bff,#3d3dff,#3838ff,#3636ff,#3333ff,#4141ff,#3838ff,#4141ff,#3131ff,#3939ff,#4545ff,#3838ff,#3b3bff,#3b3bff,#3b3bff,#3636ff,#3e3eff,#4d4dff,#3c3cff,#3737ff,#3b3bff,#4444ff,#4444ff,#4848ff,#3b3bff,#4646ff,#4242ff,#3f3fff,#3f3fff,#4040ff,#3c3cff,#4444ff,#3b3bff,#4343ff,#3b3bff,#3e3eff,#3939ff,#3636ff,#4747ff,#3838ff,#3939ff,#3a3aff,#4747ff,#3b3bff,#3c3cff,#3c3cff,#3535ff,#3b3bff,#3d3dff,#3434ff,#3535ff,#3434ff,#3535ff,#4545ff,#3b3bff,#3434ff,#3030ff,#3434ff,#3636ff,#3737ff,#3e3eff,#3232ff,#3f3fff,#3434ff,#3535ff,#3838ff,#3939ff,#3131ff,#3434ff,#3636ff,#3838ff,#3c3cff,#3f3fff,#3f3fff,#4040ff,#3b3bff,#3838ff,#2f2fff,#3e3eff,#3535ff,#3c3cff,#3838ff,#3c3cff,#3939ff,#3d3dff,#3c3cff,#3636ff,#3434ff,#3a3aff,#3535ff,#3a3aff,#3535ff,#4242ff,#3b3bff,#4343ff,#3d3dff,#3636ff,#3c3cff,#3a3aff,#3c3cff,#3939ff,#3535ff,#3737ff,#3636ff,#2c2cff,#3737ff,#3535ff,#4141ff,#3939ff,#3434ff,#2f2fff,#3333ff,#3131ff,#3232ff,#3b3bff,#3131ff,#2f2fff,#3333ff,#3434ff,#3636ff,#3838ff,#2c2cff,#3030ff,#3434ff,#3131ff,#2b2bff,#3030ff,#2f2fff,#2d2dff,#2f2fff,#2727ff,#2b2bff,#2d2dff,#3636ff,#2f2fff,#3838ff,#2f2fff,#3737ff,#2f2fff,#3d3dff,#2e2eff,#2e2eff,#2c2cff 300.0px)"></div><div style="top:160px;height:2px;background:linear-gradient(90deg,#3131ff 1.0px,#3131ff,#3d3dff,#3232ff,#3535ff,#3030ff,#3434ff,#3838ff,#3636ff,#3c3cff,#3939ff,#3838ff,#3535ff,#4141ff,#3838ff,#3e3eff,#3636ff,#3737ff,#4646ff,#3737ff,#3939ff,#3c3cff,#3636ff,#3a3aff,#3e3eff,#4c4cff,#3b3bff,#3939ff,#3b3bff,#4444ff,#4141ff,#4444ff,#3c3cff,#4343ff,#4343ff,#4141ff,#4141ff,#3d3dff,#3d3dff,#4343ff,#3a3aff,#4242ff,#3e3eff,#3a3aff,#3535ff,#3636ff,#4a4aff,#3333ff,#3434ff,#3939ff,#4545ff,#3b3bff,#3c3cff,#3939ff,#3636ff,#3d3dff,#3d3dff,#3333ff,#3434ff,#3636ff,#3030ff,#4444ff,#3737ff,#3838ff,#2e2eff,#3131ff,#3737ff,#3434ff,#3a3aff,#3232ff,#3d3dff,#3434ff,#3131ff,#3939ff,#3838ff,#3232ff,#3434ff,#3232ff,#3535ff,#3939ff,#3d3dff,#3d3dff,#4545ff,#3b3bff,#3636ff,#3232ff,#3c3cff,#3737ff,#3a3aff,#3939ff,#3838ff,#3c3cff,#3e3eff,#3c3cff,#3434ff,#3535ff,#3737ff,#3636ff,#3a3aff,#3333ff,#3f3fff,#3939ff,#4545ff,#3939ff,#3737ff,#3a3aff,#3b3bff,#3838ff,#3535ff,#3333ff,#3737ff,#3434ff,#3030ff,#3737ff,#3737ff,#4141ff,#3939ff,#3333ff,#2d2dff,#3838ff,#2f2fff,#2d2dff,#3d3dff,#3636ff,#3131ff,#3636ff,#3737ff,#3838ff,#3a3aff,#2e2eff,#3131ff,#3131ff,#2d2dff,#2b2bff,#3131ff,#2f2fff,#2f2fff,#2f2fff,#2929ff,#2c2cff,#2c2cff,#3636ff,#2d2dff,#3838ff,#3131ff,#3939ff,#2f2fff,#3a3aff,#2929ff,#2d2dff,#2727ff 300.0px)"></div><div style="top:162px;height:2px;background:linear-gradient(90deg,#3030ff 1.0px,#3535ff,#3a3aff,#3131ff,#3131ff,#2f2fff,#3838ff,#3434ff,#3a3aff,#3737ff,#3535ff,#3737ff,#3333ff,#4040ff,#3a3aff,#3b3bff,#3636ff,#3737ff,#4343ff,#3939ff,#3939ff,#3c3cff,#3939ff,#3939ff,#4242ff,#4d4dff,#3b3bff,#3737ff,#3838ff,#4444ff,#3f3fff,#4b4bff,#3c3cff,#4343ff,#4343ff,#4141ff,#4343ff,#3f3fff,#3939ff,#4242ff,#3939ff,#4242ff,#3e3eff,#3d3dff,#3838ff,#3535ff,#4b4bff,#3737ff,#3939ff,#3434ff,#4444ff,#3939ff,#4040ff,#3838ff,#3939ff,#3939ff,#4040ff,#3333ff,#3434ff,#3636ff,#3838ff,#4141ff,#3939ff,#3535ff,#3131ff,#3131ff,#3737ff,#3939ff,#3b3bff,#3232ff,#3e3eff,#3838ff,#3131ff,#3a3aff,#3b3bff,#3030ff,#3333ff,#3434ff,#3737ff,#3a3aff,#3f3fff,#3b3bff,#4242ff,#3b3bff,#3838ff,#3535ff,#3e3eff,#3a3aff,#3f3fff,#3939ff,#3b3bff,#3a3aff,#4141ff,#3a3aff,#3636ff,#3535ff,#3737ff,#3636ff,#3939ff,#3535ff,#3b3bff,#3737ff,#4141ff,#3b3bff,#3434ff,#3c3cff,#3939ff,#3a3aff,#3232ff,#3838ff,#3838ff,#3434ff,#2b2bff,#3939ff,#3636ff,#4141ff,#3636ff,#3434ff,#2e2eff,#3333ff,#2e2eff,#2c2cff,#3a3aff,#3232ff,#3030ff,#3535ff,#3737ff,#3535ff,#3333ff,#2d2dff,#3232ff,#3131ff,#3030ff,#2b2bff,#2f2fff,#2d2dff,#2d2dff,#2828ff,#2929ff,#2b2bff,#2d2dff,#3636ff,#2d2dff,#3c3cff,#3434ff,#3939ff,#3232ff,#3c3cff,#2c2cff,#2929ff,#2c2cff 300.0px)"></div><div style="top:164px;height:2px;background:linear-gradient(90deg,#3333ff 1.0px,#3131ff,#3b3bff,#3131ff,#3434ff,#3333ff,#3737ff,#3535ff,#3c3cff,#3b3bff,#3737ff,#3838ff,#3838ff,#4545ff,#3b3bff,#3a3aff,#3333ff,#3737ff,#4444ff,#3333ff,#3636ff,#3737ff,#3737ff,#3737ff,#4040ff,#4c4cff,#3c3cff,#3737ff,#3939ff,#4242ff,#4040ff,#4949ff,#3939ff,#4141ff,#4040ff,#3e3eff,#3e3eff,#3a3aff,#3c3cff,#4242ff,#3b3bff,#4040ff,#3d3dff,#3939ff,#3434ff,#3838ff,#4646ff,#3333ff,#3d3dff,#3939ff,#4747ff,#3838ff,#3e3eff,#3a3aff,#3333ff,#3939ff,#3d3dff,#3030ff,#3737ff,#3939ff,#3636ff,#4444ff,#3737ff,#3232ff,#3434ff,#3131ff,#3636ff,#3737ff,#3c3cff,#3232ff,#4141ff,#3737ff,#3232ff,#3737ff,#3a3aff,#2f2fff,#3131ff,#3333ff,#3535ff,#3939ff,#3b3bff,#3f3fff,#3e3eff,#3a3aff,#3434ff,#3030ff,#4040ff,#3838ff,#3a3aff,#3a3aff,#3737ff,#3c3cff,#4040ff,#3c3cff,#3535ff,#3434ff,#3535ff,#3434ff,#3838ff,#3333ff,#3f3fff,#3a3aff,#4444ff,#3b3bff,#3939ff,#3d3dff,#3a3aff,#3838ff,#3535ff,#3636ff,#3535ff,#3535ff,#2e2eff,#3636ff,#3838ff,#4343ff,#3939ff,#3030ff,#2e2eff,#3939ff,#2d2dff,#2f2fff,#3c3cff,#3636ff,#2e2eff,#3434ff,#3131ff,#3939ff,#3636ff,#2e2eff,#2f2fff,#3232ff,#2b2bff,#2b2bff,#2f2fff,#2c2cff,#2c2cff,#2828ff,#2d2dff,#2b2bff,#2d2dff,#3535ff,#2e2eff,#3a3aff,#3333ff,#3a3aff,#3535ff,#3c3cff,#2525ff,#2d2dff,#2a2aff 300.0px)"></div><div style="top:166px;height:2px;background:linear-gradient(90deg,#3232ff 1.0px,#3131ff,#3d3dff,#3333ff,#3232ff,#3333ff,#3838ff,#3535ff,#3a3aff,#3d3dff,#3737ff,#3535ff,#2f2fff,#4040ff,#3a3aff,#3e3eff,#3232ff,#3a3aff,#4545ff,#3232ff,#3737ff,#3737ff,#3838ff,#3838ff,#3b3bff,#4a4aff,#3b3bff,#3939ff,#3737ff,#4444ff,#4343ff,#4848ff,#3a3aff,#4646ff,#3e3eff,#3b3bff,#4040ff,#3f3fff,#3838ff,#4343ff,#3636ff,#4040ff,#3f3fff,#3b3bff,#3636ff,#3131ff,#4949ff,#3939ff,#3939ff,#3737ff,#4646ff,#3737ff,#4343ff,#3c3cff,#3838ff,#3a3aff,#3f3fff,#3232ff,#3636ff,#3434ff,#3636ff,#4242ff,#3838ff,#3535ff,#3030ff,#3232ff,#3a3aff,#3737ff,#3c3cff,#2f2fff,#3e3eff,#3535ff,#3333ff,#3737ff,#3a3aff,#2e2eff,#3333ff,#3131ff,#3434ff,#3939ff,#4040ff,#3d3dff,#4242ff,#3a3aff,#3838ff,#3434ff,#3d3dff,#3737ff,#3a3aff,#3939ff,#3d3dff,#3a3aff,#4040ff,#3b3bff,#3838ff,#3535ff,#3a3aff,#3636ff,#3c3cff,#3636ff,#4040ff,#3a3aff,#4242ff,#3d3dff,#3939ff,#3d3dff,#3636ff,#3939ff,#3434ff,#3636ff,#3333ff,#3232ff,#3131ff,#3535ff,#3636ff,#4141ff,#3232ff,#3333ff,#2f2fff,#3a3aff,#2f2fff,#2f2fff,#3b3bff,#3434ff,#2d2dff,#3636ff,#3636ff,#3838ff,#3535ff,#2d2dff,#2f2fff,#3030ff,#2f2fff,#2c2cff,#3131ff,#3232ff,#2c2cff,#2929ff,#2a2aff,#2d2dff,#2c2cff,#3838ff,#2d2dff,#3c3cff,#3232ff,#3a3aff,#3131ff,#3c3cff,#2727ff,#2c2cff,#2e2eff 300.0px)"></div><div style="top:168px;height:2px;background:linear-gradient(90deg,#2f2fff 1.0px,#3535ff,#3b3bff,#3232ff,#3232ff,#2d2dff,#3737ff,#3636ff,#3838ff,#3f3fff,#3737ff,#3737ff,#3636ff,#4040ff,#3636ff,#3d3dff,#3030ff,#3838ff,#4444ff,#3434ff,#3232ff,#3c3cff,#3535ff,#3939ff,#3d3dff,#4d4dff,#3939ff,#3737ff,#3939ff,#4545ff,#4141ff,#4747ff,#3d3dff,#4141ff,#4040ff,#3838ff,#3b3bff,#3d3dff,#3c3cff,#4444ff,#3a3aff,#4444ff,#3d3dff,#3c3cff,#3636ff,#3333ff,#4646ff,#3636ff,#3c3cff,#3a3aff,#4646ff,#3a3aff,#4040ff,#3939ff,#3838ff,#3c3cff,#3b3bff,#3131ff,#3434ff,#3737ff,#3939ff,#4141ff,#3b3bff,#3333ff,#2e2eff,#3232ff,#3838ff,#3636ff,#3c3cff,#3232ff,#3f3fff,#3535ff,#3333ff,#3838ff,#3737ff,#3131ff,#3535ff,#3333ff,#3535ff,#3c3cff,#3e3eff,#3b3bff,#3f3fff,#3e3eff,#3939ff,#3030ff,#3d3dff,#3636ff,#3939ff,#3838ff,#3a3aff,#3a3aff,#3f3fff,#3b3bff,#3737ff,#3737ff,#3a3aff,#3434ff,#3838ff,#3232ff,#3e3eff,#3c3cff,#4141ff,#3b3bff,#3535ff,#3c3cff,#3434ff,#3737ff,#3232ff,#3535ff,#3636ff,#3636ff,#3030ff,#3737ff,#3636ff,#4545ff,#3737ff,#3333ff,#3030ff,#3636ff,#2e2eff,#3030ff,#3c3cff,#3535ff,#2f2fff,#3333ff,#3737ff,#3333ff,#3939ff,#2e2eff,#2c2cff,#2c2cff,#3131ff,#2a2aff,#2f2fff,#2d2dff,#3030ff,#2828ff,#2d2dff,#2d2dff,#2c2cff,#3434ff,#3030ff,#3b3bff,#3030ff,#3c3cff,#3131ff,#3c3cff,#2b2bff,#2b2bff,#3131ff 300.0px)"></div><div style="top:170px;height:2px;background:linear-gradient(90deg,#3333ff 1.0px,#3636ff,#3737ff,#3434ff,#3232ff,#3434ff,#3939ff,#3434ff,#3c3cff,#3939ff,#3737ff,#3737ff,#3333ff,#3e3eff,#3434ff,#3838ff,#3232ff,#3636ff,#4141ff,#3838ff,#3434ff,#3a3aff,#3434ff,#3838ff,#4040ff,#4e4eff,#3b3bff,#3434ff,#3737ff,#4343ff,#3f3fff,#4747ff,#3838ff,#4242ff,#3f3fff,#3d3dff,#4141ff,#3f3fff,#3939ff,#4444ff,#3434ff,#4848ff,#3d3dff,#3e3eff,#3636ff,#3636ff,#4646ff,#3939ff,#3d3dff,#3737ff,#4545ff,#3b3bff,#3c3cff,#3a3aff,#3838ff,#3b3bff,#3f3fff,#3737ff,#3535ff,#3434ff,#3838ff,#4343ff,#3737ff,#3232ff,#3131ff,#2f2fff,#3636ff,#3636ff,#3737ff,#3030ff,#3d3dff,#3737ff,#3333ff,#3838ff,#3a3aff,#3030ff,#3232ff,#3232ff,#3939ff,#3b3bff,#3c3cff,#3b3bff,#3f3fff,#3e3eff,#3737ff,#3030ff,#3e3eff,#3a3aff,#3a3aff,#3939ff,#3c3cff,#3c3cff,#4242ff,#3a3aff,#3737ff,#3636ff,#3c3cff,#3232ff,#3535ff,#3232ff,#4040ff,#3737ff,#4242ff,#3f3fff,#3a3aff,#3b3bff,#3636ff,#3939ff,#3131ff,#3535ff,#3636ff,#3737ff,#3333ff,#3636ff,#3838ff,#4545ff,#3737ff,#3131ff,#2d2dff,#3535ff,#2e2eff,#2d2dff,#3a3aff,#3131ff,#2f2fff,#3333ff,#3535ff,#3838ff,#3a3aff,#2e2eff,#3030ff,#3333ff,#3333ff,#2d2dff,#3030ff,#2a2aff,#3030ff,#2a2aff,#2828ff,#2727ff,#2f2fff,#3232ff,#3131ff,#3c3cff,#3030ff,#3b3bff,#3232ff,#3f3fff,#2b2bff,#2f2fff,#2f2fff 300.0px)"></div><div style="top:172px;height:2px;background:linear-gradient(90deg,#2f2fff 1.0px,#3434ff,#3939ff,#3030ff,#3434ff,#2f2fff,#3838ff,#3939ff,#3b3bff,#3c3cff,#3737ff,#3535ff,#3131ff,#4242ff,#3434ff,#3c3cff,#3232ff,#3737ff,#4646ff,#3a3aff,#3535ff,#3a3aff,#3535ff,#3737ff,#3e3eff,#4c4cff,#3737ff,#3636ff,#3c3cff,#4545ff,#4343ff,#4444ff,#3a3aff,#4343ff,#3f3fff,#3e3eff,#3c3cff,#3d3dff,#3939ff,#4343ff,#3838ff,#4040ff,#3b3bff,#3e3eff,#3434ff,#3535ff,#4646ff,#3636ff,#3b3bff,#3838ff,#4646ff,#3939ff,#4040ff,#3b3bff,#3636ff,#3939ff,#3a3aff,#2f2fff,#3737ff,#3333ff,#3737ff,#4646ff,#3838ff,#3737ff,#3030ff,#3232ff,#3939ff,#3535ff,#3838ff,#3131ff,#3f3fff,#3737ff,#3333ff,#3535ff,#3a3aff,#3030ff,#3535ff,#3434ff,#3737ff,#3d3dff,#3a3aff,#3c3cff,#4040ff,#3838ff,#3636ff,#3030ff,#3b3bff,#3737ff,#3b3bff,#3a3aff,#3636ff,#3838ff,#3f3fff,#3838ff,#3535ff,#3030ff,#3838ff,#3030ff,#3535ff,#3131ff,#3e3eff,#3939ff,#4444ff,#3838ff,#3535ff,#3a3aff,#3636ff,#3a3aff,#3232ff,#3535ff,#3535ff,#3737ff,#2e2eff,#3838ff,#3838ff,#4444ff,#3838ff,#3131ff,#3030ff,#3a3aff,#3131ff,#2b2bff,#3838ff,#3333ff,#3030ff,#3333ff,#3333ff,#3737ff,#3636ff,#3131ff,#3333ff,#3333ff,#2e2eff,#2828ff,#2f2fff,#2d2dff,#2b2bff,#2828ff,#2828ff,#2c2cff,#2d2dff,#3434ff,#3030ff,#3c3cff,#3232ff,#3939ff,#2f2fff,#4141ff,#2727ff,#2727ff,#3333ff 300.0px)"></div><div style="top:174px;height:2px;background:linear-gradient(90deg,#3535ff 1.0px,#3030ff,#3838ff,#3030ff,#3232ff,#2f2fff,#3636ff,#3737ff,#3939ff,#3838ff,#3939ff,#3434ff,#3232ff,#3f3fff,#3434ff,#3d3dff,#3333ff,#3737ff,#4343ff,#3636ff,#3535ff,#3c3cff,#3232ff,#3a3aff,#3b3bff,#4b4bff,#3a3aff,#3333ff,#3939ff,#4747ff,#4141ff,#4848ff,#3c3cff,#4747ff,#4343ff,#3b3bff,#3e3eff,#3e3eff,#3a3aff,#4343ff,#3838ff,#4141ff,#3e3eff,#3f3fff,#3636ff,#3636ff,#4949ff,#3636ff,#3b3bff,#3737ff,#4848ff,#3636ff,#3e3eff,#3b3bff,#3838ff,#3b3bff,#3b3bff,#2e2eff,#3232ff,#3434ff,#3939ff,#4242ff,#3636ff,#3535ff,#2f2fff,#3333ff,#3737ff,#3a3aff,#3939ff,#3131ff,#3f3fff,#3535ff,#3333ff,#3939ff,#3b3bff,#2c2cff,#3030ff,#3434ff,#3737ff,#3c3cff,#3a3aff,#3a3aff,#3f3fff,#3838ff,#3333ff,#3131ff,#3c3cff,#3838ff,#3a3aff,#3838ff,#3636ff,#3838ff,#3e3eff,#3a3aff,#3535ff,#3434ff,#3737ff,#3535ff,#3636ff,#3131ff,#3e3eff,#3939ff,#4242ff,#3b3bff,#3434ff,#3838ff,#3838ff,#3838ff,#3030ff,#3333ff,#3535ff,#3737ff,#2e2eff,#3434ff,#3838ff,#4444ff,#3636ff,#3131ff,#2c2cff,#3434ff,#2b2bff,#2e2eff,#3c3cff,#3434ff,#3131ff,#3333ff,#3636ff,#3535ff,#3737ff,#2e2eff,#3131ff,#3131ff,#2d2dff,#2727ff,#2d2dff,#2f2fff,#2e2eff,#2c2cff,#2828ff,#2d2dff,#2d2dff,#3535ff,#2f2fff,#3e3eff,#2f2fff,#3939ff,#2f2fff,#3e3eff,#2a2aff,#2e2eff,#2c2cff 300.0px)"></div><div style="top:176px;height:2px;background:linear-gradient(90deg,#2f2fff 1.0px,#3737ff,#3636ff,#2c2cff,#3232ff,#3232ff,#3535ff,#3434ff,#3c3cff,#3838ff,#3434ff,#3737ff,#3737ff,#4040ff,#3636ff,#4040ff,#3535ff,#3737ff,#4646ff,#3535ff,#3434ff,#3a3aff,#3333ff,#3737ff,#3b3bff,#4949ff,#3a3aff,#3636ff,#3939ff,#4545ff,#4343ff,#4141ff,#3737ff,#4444ff,#4040ff,#3b3bff,#3b3bff,#3f3fff,#3838ff,#4444ff,#3636ff,#4242ff,#3e3eff,#3d3dff,#3636ff,#3030ff,#4949ff,#3838ff,#3939ff,#3a3aff,#4646ff,#3636ff,#3e3eff,#3a3aff,#3535ff,#3b3bff,#3d3dff,#3333ff,#3737ff,#3030ff,#3636ff,#4040ff,#3333ff,#3535ff,#3333ff,#3232ff,#3636ff,#3939ff,#3b3bff,#3232ff,#4141ff,#3535ff,#3030ff,#3939ff,#3838ff,#2b2bff,#3333ff,#3333ff,#3232ff,#3c3cff,#3b3bff,#3d3dff,#4040ff,#3d3dff,#3636ff,#3333ff,#3e3eff,#3737ff,#3939ff,#3b3bff,#3838ff,#3b3bff,#3d3dff,#3b3bff,#3636ff,#3131ff,#3737ff,#3636ff,#3737ff,#3131ff,#4040ff,#3636ff,#3f3fff,#3a3aff,#3535ff,#3a3aff,#3737ff,#3737ff,#3131ff,#3333ff,#3535ff,#3939ff,#3030ff,#3434ff,#3737ff,#4242ff,#3939ff,#3232ff,#2b2bff,#3737ff,#3131ff,#3131ff,#3b3bff,#3434ff,#2e2eff,#3535ff,#3636ff,#3838ff,#3838ff,#2d2dff,#3232ff,#3333ff,#2e2eff,#2d2dff,#3030ff,#2f2fff,#2b2bff,#2b2bff,#2b2bff,#3232ff,#2f2fff,#2e2eff,#2e2eff,#3b3bff,#3030ff,#3838ff,#3333ff,#3e3eff,#2a2aff,#2929ff,#2e2eff 300.0px)"></div><div style="top:178px;height:2px;background:linear-gradient(90deg,#3333ff 1.0px,#3434ff,#3737ff,#2f2fff,#3333ff,#2f2fff,#3434ff,#3535ff,#3535ff,#3b3bff,#3434ff,#3434ff,#3333ff,#3e3eff,#3636ff,#3f3fff,#3131ff,#3434ff,#4343ff,#3a3aff,#3434ff,#3737ff,#3838ff,#3838ff,#3e3eff,#4a4aff,#3939ff,#3838ff,#3737ff,#4141ff,#3f3fff,#4747ff,#3838ff,#4545ff,#3f3fff,#3b3bff,#3c3cff,#3f3fff,#3b3bff,#4848ff,#3434ff,#4141ff,#3e3eff,#3838ff,#3838ff,#3333ff,#4747ff,#3636ff,#3636ff,#3737ff,#4646ff,#3a3aff,#3f3fff,#3939ff,#3232ff,#3838ff,#3e3eff,#2e2eff,#3535ff,#3434ff,#3535ff,#4141ff,#3636ff,#3333ff,#3333ff,#3232ff,#3939ff,#3838ff,#3939ff,#2f2fff,#3f3fff,#3434ff,#2f2fff,#3a3aff,#3838ff,#2c2cff,#3131ff,#3333ff,#3434ff,#3838ff,#3b3bff,#3e3eff,#4141ff,#3939ff,#3232ff,#3232ff,#3c3cff,#3434ff,#3434ff,#3c3cff,#3838ff,#3c3cff,#3f3fff,#3535ff,#3434ff,#3535ff,#3535ff,#3535ff,#3737ff,#3434ff,#3e3eff,#3838ff,#3e3eff,#3b3bff,#3636ff,#3c3cff,#3333ff,#3636ff,#3131ff,#3636ff,#3434ff,#3333ff,#2d2dff,#3737ff,#3434ff,#4242ff,#3636ff,#3030ff,#2c2cff,#3838ff,#2f2fff,#2e2eff,#3c3cff,#2e2eff,#3232ff,#3535ff,#3a3aff,#3939ff,#3535ff,#2e2eff,#3333ff,#2e2eff,#3333ff,#2e2eff,#3030ff,#3030ff,#2b2bff,#2727ff,#2929ff,#2b2bff,#2b2bff,#3535ff,#3030ff,#3d3dff,#3232ff,#3a3aff,#2f2fff,#3f3fff,#2828ff,#2b2bff,#3030ff 300.0px)"></div></div>
<svg width="685" height="462" viewBox="0 0 685 462" font-family='"Liberation Sans", sans-serif' font-size="11" fill="#1a1a1a">
<rect x="36.5" y="9.5" width="302.0" height="181.0" fill="none" stroke="#333" stroke-width="1"/>
<line x1="36.5" y1="93.2" x2="338.5" y2="93.2" stroke="#111" stroke-width="1" stroke-dasharray="3.5,2.2"/>
<line x1="36.5" y1="122.3" x2="338.5" y2="122.3" stroke="#111" stroke-width="1" stroke-dasharray="3.5,2.2"/>
<line x1="74.8" y1="190.5" x2="74.8" y2="188.0" stroke="#222"/>
<line x1="74.8" y1="9.5" x2="74.8" y2="12.0" stroke="#222"/>
<line x1="112.3" y1="190.5" x2="112.3" y2="188.0" stroke="#222"/>
<line x1="112.3" y1="9.5" x2="112.3" y2="12.0" stroke="#222"/>
<line x1="149.9" y1="190.5" x2="149.9" y2="188.0" stroke="#222"/>
<line x1="149.9" y1="9.5" x2="149.9" y2="12.0" stroke="#222"/>
<line x1="187.4" y1="190.5" x2="187.4" y2="188.0" stroke="#222"/>
<line x1="187.4" y1="9.5" x2="187.4" y2="12.0" stroke="#222"/>
<line x1="225.0" y1="190.5" x2="225.0" y2="188.0" stroke="#222"/>
<line x1="225.0" y1="9.5" x2="225.0" y2="12.0" stroke="#222"/>
<line x1="262.5" y1="190.5" x2="262.5" y2="188.0" stroke="#222"/>
<line x1="262.5" y1="9.5" x2="262.5" y2="12.0" stroke="#222"/>
<line x1="300.1" y1="190.5" x2="300.1" y2="188.0" stroke="#222"/>
<line x1="300.1" y1="9.5" x2="300.1" y2="12.0" stroke="#222"/>
<text x="74.8" y="203.7" text-anchor="middle">1.37</text>
<text x="149.9" y="203.7" text-anchor="middle">1.38</text>
<text x="225.0" y="203.7" text-anchor="middle">1.39</text>
<text x="300.1" y="203.7" text-anchor="middle">1.40</text>
<text x="187.5" y="218.2" text-anchor="middle">Photon energy (eV)</text>
<line x1="36.5" y1="9.4" x2="39.0" y2="9.4" stroke="#222"/>
<line x1="338.5" y1="9.4" x2="336.0" y2="9.4" stroke="#222"/>
<text x="32.2" y="14.4" text-anchor="end">0.6</text>
<line x1="36.5" y1="45.6" x2="39.0" y2="45.6" stroke="#222"/>
<line x1="338.5" y1="45.6" x2="336.0" y2="45.6" stroke="#222"/>
<text x="32.2" y="50.6" text-anchor="end">0.4</text>
<line x1="36.5" y1="81.9" x2="39.0" y2="81.9" stroke="#222"/>
<line x1="338.5" y1="81.9" x2="336.0" y2="81.9" stroke="#222"/>
<text x="32.2" y="86.9" text-anchor="end">0.2</text>
<line x1="36.5" y1="118.1" x2="39.0" y2="118.1" stroke="#222"/>
<line x1="338.5" y1="118.1" x2="336.0" y2="118.1" stroke="#222"/>
<text x="32.2" y="123.1" text-anchor="end">0</text>
<line x1="36.5" y1="154.3" x2="39.0" y2="154.3" stroke="#222"/>
<line x1="338.5" y1="154.3" x2="336.0" y2="154.3" stroke="#222"/>
<text x="32.2" y="159.3" text-anchor="end">−0.2</text>
<line x1="36.5" y1="190.6" x2="39.0" y2="190.6" stroke="#222"/>
<line x1="338.5" y1="190.6" x2="336.0" y2="190.6" stroke="#222"/>
<text x="32.2" y="195.6" text-anchor="end">−0.4</text>
<g transform="translate(9.7,99.4) rotate(-90)"><text x="0" y="0" text-anchor="middle"><tspan font-style="italic">V</tspan><tspan font-size="7.5" dy="3">g</tspan><tspan dy="-3"> (V)</tspan></text></g>
<rect x="382.5" y="9.5" width="302.0" height="181.0" fill="none" stroke="#333" stroke-width="1"/>
<line x1="382.5" y1="93.2" x2="684.5" y2="93.2" stroke="#111" stroke-width="1" stroke-dasharray="3.5,2.2"/>
<line x1="382.5" y1="122.3" x2="684.5" y2="122.3" stroke="#111" stroke-width="1" stroke-dasharray="3.5,2.2"/>
<line x1="420.8" y1="190.5" x2="420.8" y2="188.0" stroke="#222"/>
<line x1="420.8" y1="9.5" x2="420.8" y2="12.0" stroke="#222"/>
<line x1="458.3" y1="190.5" x2="458.3" y2="188.0" stroke="#222"/>
<line x1="458.3" y1="9.5" x2="458.3" y2="12.0" stroke="#222"/>
<line x1="495.9" y1="190.5" x2="495.9" y2="188.0" stroke="#222"/>
<line x1="495.9" y1="9.5" x2="495.9" y2="12.0" stroke="#222"/>
<line x1="533.4" y1="190.5" x2="533.4" y2="188.0" stroke="#222"/>
<line x1="533.4" y1="9.5" x2="533.4" y2="12.0" stroke="#222"/>
<line x1="571.0" y1="190.5" x2="571.0" y2="188.0" stroke="#222"/>
<line x1="571.0" y1="9.5" x2="571.0" y2="12.0" stroke="#222"/>
<line x1="608.5" y1="190.5" x2="608.5" y2="188.0" stroke="#222"/>
<line x1="608.5" y1="9.5" x2="608.5" y2="12.0" stroke="#222"/>
<line x1="646.1" y1="190.5" x2="646.1" y2="188.0" stroke="#222"/>
<line x1="646.1" y1="9.5" x2="646.1" y2="12.0" stroke="#222"/>
<text x="420.8" y="203.7" text-anchor="middle">1.37</text>
<text x="495.9" y="203.7" text-anchor="middle">1.38</text>
<text x="571.0" y="203.7" text-anchor="middle">1.39</text>
<text x="646.1" y="203.7" text-anchor="middle">1.40</text>
<text x="533.5" y="218.2" text-anchor="middle">Photon energy (eV)</text>
<line x1="382.5" y1="9.4" x2="385.0" y2="9.4" stroke="#222"/>
<line x1="684.5" y1="9.4" x2="682.0" y2="9.4" stroke="#222"/>
<text x="378.2" y="14.4" text-anchor="end">0.6</text>
<line x1="382.5" y1="45.6" x2="385.0" y2="45.6" stroke="#222"/>
<line x1="684.5" y1="45.6" x2="682.0" y2="45.6" stroke="#222"/>
<text x="378.2" y="50.6" text-anchor="end">0.4</text>
<line x1="382.5" y1="81.9" x2="385.0" y2="81.9" stroke="#222"/>
<line x1="684.5" y1="81.9" x2="682.0" y2="81.9" stroke="#222"/>
<text x="378.2" y="86.9" text-anchor="end">0.2</text>
<line x1="382.5" y1="118.1" x2="385.0" y2="118.1" stroke="#222"/>
<line x1="684.5" y1="118.1" x2="682.0" y2="118.1" stroke="#222"/>
<text x="378.2" y="123.1" text-anchor="end">0</text>
<line x1="382.5" y1="154.3" x2="385.0" y2="154.3" stroke="#222"/>
<line x1="684.5" y1="154.3" x2="682.0" y2="154.3" stroke="#222"/>
<text x="378.2" y="159.3" text-anchor="end">−0.2</text>
<line x1="382.5" y1="190.6" x2="385.0" y2="190.6" stroke="#222"/>
<line x1="684.5" y1="190.6" x2="682.0" y2="190.6" stroke="#222"/>
<text x="378.2" y="195.6" text-anchor="end">−0.4</text>
<g transform="translate(355.7,99.4) rotate(-90)"><text x="0" y="0" text-anchor="middle"><tspan font-style="italic">V</tspan><tspan font-size="7.5" dy="3">g</tspan><tspan dy="-3"> (V)</tspan></text></g>
<text x="-0.5" y="9.0" font-weight="bold" font-size="13">a</text>
<text x="347.0" y="9.0" font-weight="bold" font-size="13">b</text>
<text x="64.1" y="43.9" fill="#fff">IX</text><text x="73.6" y="47.6" fill="#fff" font-size="7.5">2</text><text x="73.9" y="40.5" fill="#fff" font-size="7.5">−</text>
<text x="179.9" y="43.9" fill="#fff">IX</text><text x="189.4" y="47.6" fill="#fff" font-size="7.5">2</text><text x="189.7" y="40.5" fill="#fff" font-size="7.5">−</text>
<text x="97.7" y="90.5" fill="#fff">IX</text><text x="107.2" y="94.2" fill="#fff" font-size="7.5">1</text><text x="107.5" y="87.1" fill="#fff" font-size="7.5">−</text>
<text x="214.1" y="89.8" fill="#fff">IX</text><text x="223.6" y="93.5" fill="#fff" font-size="7.5">1</text><text x="223.9" y="86.4" fill="#fff" font-size="7.5">−</text>
<text x="43.4" y="113.7" fill="#fff">CN</text>
<text x="188.2" y="112.8" fill="#fff">IX</text><text x="198.0" y="109.4" fill="#fff" font-size="7.5">0</text>
<text x="303.8" y="112.3" fill="#fff">IX</text><text x="313.6" y="108.9" fill="#fff" font-size="7.5">0</text>
<text x="105.2" y="133.4" fill="#fff">IX</text><text x="114.7" y="137.1" fill="#fff" font-size="7.5">1</text><text x="115.0" y="130.0" fill="#fff" font-size="7.5">+</text>
<text x="221.9" y="134.4" fill="#fff">IX</text><text x="231.4" y="138.1" fill="#fff" font-size="7.5">1</text><text x="231.7" y="131.0" fill="#fff" font-size="7.5">+</text>
<text x="63.8" y="178.7" fill="#fff">IX</text><text x="73.3" y="182.4" fill="#fff" font-size="7.5">2</text><text x="73.6" y="175.3" fill="#fff" font-size="7.5">+</text>
<text x="180.3" y="178.7" fill="#fff">IX</text><text x="189.8" y="182.4" fill="#fff" font-size="7.5">2</text><text x="190.1" y="175.3" fill="#fff" font-size="7.5">+</text>
<text x="280.5" y="22.6" fill="#fff"><tspan font-style="italic">P</tspan> ≈ 20 µW</text>
<text x="281" y="36.3" fill="#fff"><tspan font-style="italic">B</tspan> = 17 T</text>
<defs><linearGradient id="cba"><stop offset="0.000" stop-color="#343496"/><stop offset="0.026" stop-color="#333598"/><stop offset="0.051" stop-color="#333699"/><stop offset="0.077" stop-color="#32379b"/><stop offset="0.103" stop-color="#32389c"/><stop offset="0.128" stop-color="#313ba1"/><stop offset="0.154" stop-color="#2f3ea5"/><stop offset="0.179" stop-color="#2e42a9"/><stop offset="0.205" stop-color="#2d45ad"/><stop offset="0.231" stop-color="#2b4ab3"/><stop offset="0.256" stop-color="#294fb8"/><stop offset="0.282" stop-color="#2754be"/><stop offset="0.308" stop-color="#255ac4"/><stop offset="0.333" stop-color="#2260c9"/><stop offset="0.359" stop-color="#1f66ce"/><stop offset="0.385" stop-color="#1c6cd3"/><stop offset="0.410" stop-color="#1874d9"/><stop offset="0.436" stop-color="#147ee0"/><stop offset="0.462" stop-color="#1088e7"/><stop offset="0.487" stop-color="#0b91ed"/><stop offset="0.513" stop-color="#069bf3"/><stop offset="0.538" stop-color="#08aeb5"/><stop offset="0.564" stop-color="#0cc55d"/><stop offset="0.590" stop-color="#22cc5e"/><stop offset="0.615" stop-color="#38d363"/><stop offset="0.641" stop-color="#5ada6f"/><stop offset="0.667" stop-color="#7fe27b"/><stop offset="0.692" stop-color="#a4ea88"/><stop offset="0.718" stop-color="#c0ee90"/><stop offset="0.744" stop-color="#d8f197"/><stop offset="0.769" stop-color="#f0f49d"/><stop offset="0.795" stop-color="#eedf97"/><stop offset="0.821" stop-color="#d9ba86"/><stop offset="0.846" stop-color="#bb906e"/><stop offset="0.872" stop-color="#91604c"/><stop offset="0.897" stop-color="#a47b6d"/><stop offset="0.923" stop-color="#c0a198"/><stop offset="0.949" stop-color="#d6bfba"/><stop offset="0.974" stop-color="#e6d8d4"/><stop offset="1.000" stop-color="#f6f0ee"/></linearGradient><linearGradient id="cbb"><stop offset="0" stop-color="#0000ff"/><stop offset="0.5" stop-color="#ffffff"/><stop offset="1" stop-color="#ff0000"/></linearGradient></defs>
<rect x="268.7" y="153.6" width="59.0" height="7.800000000000011" fill="url(#cba)" stroke="#ddd" stroke-width="0.8"/>
<line x1="268.7" y1="161.4" x2="268.7" y2="162.9" stroke="#ddd" stroke-width="0.8"/>
<line x1="298.2" y1="161.4" x2="298.2" y2="162.9" stroke="#ddd" stroke-width="0.8"/>
<line x1="327.7" y1="161.4" x2="327.7" y2="162.9" stroke="#ddd" stroke-width="0.8"/>
<text x="268.7" y="175.3" text-anchor="middle" fill="#fff" font-size="9.5">1</text>
<text x="298.2" y="175.3" text-anchor="middle" fill="#fff" font-size="9.5">10</text>
<text x="327.7" y="175.3" text-anchor="middle" fill="#fff" font-size="9.5">100</text>
<text x="297.5" y="185.2" text-anchor="middle" fill="#fff" font-size="9.5">PL intensity (a.u.)</text>
<text x="444.1" y="22.6" fill="#fff">MX</text><text x="459.7" y="26.3" fill="#fff" font-size="7.5">1</text><text x="460.0" y="19.2" fill="#fff" font-size="7.5">−</text>
<text x="562.8" y="22.6" fill="#fff">MX</text><text x="578.4" y="26.3" fill="#fff" font-size="7.5">1</text><text x="578.7" y="19.2" fill="#fff" font-size="7.5">−</text>
<text x="390.8" y="52.9" fill="#fff">MX</text><text x="406.4" y="56.6" fill="#fff" font-size="7.5">2</text><text x="406.7" y="49.5" fill="#fff" font-size="7.5">−</text>
<text x="510.3" y="52.9" fill="#fff">MX</text><text x="525.9" y="56.6" fill="#fff" font-size="7.5">2</text><text x="526.2" y="49.5" fill="#fff" font-size="7.5">−</text>
<text x="389.0" y="113.8" fill="#fff">CN</text>
<text x="498.9" y="113.6" fill="#fff">MX</text><text x="514.8" y="110.2" fill="#fff" font-size="7.5">0</text>
<text x="618.8" y="113.3" fill="#fff">MX</text><text x="634.7" y="109.9" fill="#fff" font-size="7.5">0</text>
<text x="436.1" y="174.8" fill="#fff">MX</text><text x="451.7" y="178.5" fill="#fff" font-size="7.5">1</text><text x="452.0" y="171.4" fill="#fff" font-size="7.5">+</text>
<text x="555.6" y="175.8" fill="#fff">MX</text><text x="571.2" y="179.5" fill="#fff" font-size="7.5">1</text><text x="571.5" y="172.4" fill="#fff" font-size="7.5">+</text>
<text x="396.7" y="184.8" fill="#fff">MX</text><text x="412.3" y="188.5" fill="#fff" font-size="7.5">2</text><text x="412.6" y="181.4" fill="#fff" font-size="7.5">+</text>
<text x="515.6" y="184.6" fill="#fff">MX</text><text x="531.2" y="188.3" fill="#fff" font-size="7.5">2</text><text x="531.5" y="181.2" fill="#fff" font-size="7.5">+</text>
<text x="628.4" y="22.3" fill="#fff"><tspan font-style="italic">P</tspan> ≈ 20 nW</text>
<text x="629" y="36.0" fill="#fff"><tspan font-style="italic">B</tspan> = 17 T</text>
<rect x="613.3" y="154.3" width="58.5" height="7.899999999999977" fill="url(#cbb)" stroke="#ddd" stroke-width="0.8"/>
<line x1="613.3" y1="162.2" x2="613.3" y2="163.7" stroke="#ddd" stroke-width="0.8"/>
<line x1="642.5" y1="162.2" x2="642.5" y2="163.7" stroke="#ddd" stroke-width="0.8"/>
<line x1="671.8" y1="162.2" x2="671.8" y2="163.7" stroke="#ddd" stroke-width="0.8"/>
<text x="613.3" y="175.3" text-anchor="middle" fill="#fff" font-size="9.5">0</text>
<text x="642.5" y="175.3" text-anchor="middle" fill="#fff" font-size="9.5">1</text>
<text x="671.8" y="175.3" text-anchor="middle" fill="#fff" font-size="9.5">2</text>
<text x="642.2" y="184.8" text-anchor="middle" fill="#fff" font-size="9.5">PL intensity (a.u.)</text>
<rect x="36.5" y="250.5" width="213.0" height="180.3" fill="none" stroke="#333" stroke-width="1"/>
<line x1="72.0" y1="430.8" x2="72.0" y2="428.3" stroke="#222"/>
<line x1="72.0" y1="250.5" x2="72.0" y2="253.0" stroke="#222"/>
<line x1="107.5" y1="430.8" x2="107.5" y2="428.3" stroke="#222"/>
<line x1="107.5" y1="250.5" x2="107.5" y2="253.0" stroke="#222"/>
<line x1="143.0" y1="430.8" x2="143.0" y2="428.3" stroke="#222"/>
<line x1="143.0" y1="250.5" x2="143.0" y2="253.0" stroke="#222"/>
<line x1="178.5" y1="430.8" x2="178.5" y2="428.3" stroke="#222"/>
<line x1="178.5" y1="250.5" x2="178.5" y2="253.0" stroke="#222"/>
<line x1="214.0" y1="430.8" x2="214.0" y2="428.3" stroke="#222"/>
<line x1="214.0" y1="250.5" x2="214.0" y2="253.0" stroke="#222"/>
<line x1="36.5" y1="273.1" x2="39.0" y2="273.1" stroke="#222"/>
<line x1="249.5" y1="273.1" x2="247.0" y2="273.1" stroke="#222"/>
<line x1="36.5" y1="318.2" x2="39.0" y2="318.2" stroke="#222"/>
<line x1="249.5" y1="318.2" x2="247.0" y2="318.2" stroke="#222"/>
<line x1="36.5" y1="363.3" x2="39.0" y2="363.3" stroke="#222"/>
<line x1="249.5" y1="363.3" x2="247.0" y2="363.3" stroke="#222"/>
<line x1="36.5" y1="408.2" x2="39.0" y2="408.2" stroke="#222"/>
<line x1="249.5" y1="408.2" x2="247.0" y2="408.2" stroke="#222"/>
<text x="107.5" y="445.3" text-anchor="middle">1.38</text>
<text x="178.5" y="445.3" text-anchor="middle">1.39</text>
<text x="142.1" y="459.4" text-anchor="middle">Photon energy (eV)</text>
<polyline points="37.0,267.4 37.5,267.4 38.0,267.4 38.5,267.3 39.0,267.3 39.5,267.3 40.0,267.4 40.5,267.5 41.0,267.4 41.5,267.4 42.0,267.4 42.5,267.5 43.0,267.4 43.5,267.3 44.0,267.4 44.5,267.4 45.0,267.3 45.5,267.3 46.0,267.2 46.5,267.2 47.0,267.2 47.5,267.3 48.0,267.3 48.5,267.4 49.0,267.4 49.5,267.3 50.0,267.2 50.5,267.3 51.0,267.4 51.5,267.4 52.0,267.3 52.5,267.3 53.0,267.3 53.5,267.4 54.0,267.5 54.5,267.4 55.0,267.4 55.5,267.5 56.0,267.4 56.5,267.4 57.0,267.4 57.5,267.4 58.0,267.4 58.5,267.5 59.0,267.5 59.5,267.4 60.0,267.5 60.5,267.5 61.0,267.5 61.5,267.6 62.0,267.5 62.5,267.4 63.0,267.4 63.5,267.5 64.0,267.5 64.5,267.5 65.0,267.5 65.5,267.6 66.0,267.6 66.5,267.5 67.0,267.4 67.5,267.4 68.0,267.4 68.5,267.4 69.0,267.4 69.5,267.5 70.0,267.6 70.5,267.5 71.0,267.4 71.5,267.4 72.0,267.4 72.5,267.3 73.0,267.4 73.5,267.5 74.0,267.6 74.5,267.6 75.0,267.5 75.5,267.4 76.0,267.5 76.5,267.6 77.0,267.5 77.5,267.5 78.0,267.5 78.5,267.5 79.0,267.4 79.5,267.4 80.0,267.4 80.5,267.5 81.0,267.6 81.5,267.6 82.0,267.5 82.5,267.5 83.0,267.5 83.5,267.5 84.0,267.5 84.5,267.5 85.0,267.4 85.5,267.4 86.0,267.3 86.5,267.3 87.0,267.3 87.5,267.4 88.0,267.5 88.5,267.6 89.0,267.5 89.5,267.4 90.0,267.5 90.5,267.5 91.0,267.5 91.5,267.5 92.0,267.5 92.5,267.5 93.0,267.4 93.5,267.4 94.0,267.4 94.5,267.4 95.0,267.4 95.5,267.4 96.0,267.5 96.5,267.5 97.0,267.5 97.5,267.4 98.0,267.3 98.5,267.3 99.0,267.3 99.5,267.3 100.0,267.3 100.5,267.4 101.0,267.4 101.5,267.4 102.0,267.4 102.5,267.4 103.0,267.4 103.5,267.3 104.0,267.5 104.5,267.5 105.0,267.4 105.5,267.3 106.0,267.3 106.5,267.3 107.0,267.3 107.5,267.3 108.0,267.2 108.5,267.1 109.0,267.1 109.5,267.1 110.0,267.2 110.5,267.1 111.0,267.1 111.5,266.9 112.0,266.8 112.5,266.6 113.0,266.4 113.5,266.2 114.0,265.9 114.5,265.4 115.0,264.8 115.5,264.3 116.0,263.6 116.5,262.6 117.0,261.5 117.5,260.5 118.0,259.4 118.5,258.2 119.0,257.2 119.5,256.4 120.0,256.0 120.5,256.0 121.0,256.4 121.5,257.1 122.0,258.0 122.5,259.1 123.0,260.3 123.5,261.3 124.0,262.3 124.5,263.3 125.0,264.2 125.5,264.9 126.0,265.4 126.5,265.9 127.0,266.2 127.5,266.4 128.0,266.7 128.5,266.8 129.0,266.9 129.5,267.1 130.0,267.2 130.5,267.3 131.0,267.2 131.5,267.2 132.0,267.2 132.5,267.4 133.0,267.4 133.5,267.4 134.0,267.4 134.5,267.5 135.0,267.5 135.5,267.5 136.0,267.5 136.5,267.5 137.0,267.5 137.5,267.5 138.0,267.6 138.5,267.7 139.0,267.7 139.5,267.7 140.0,267.4 140.5,267.4 141.0,267.5 141.5,267.5 142.0,267.6 142.5,267.6 143.0,267.4 143.5,267.4 144.0,267.5 144.5,267.6 145.0,267.6 145.5,267.6 146.0,267.5 146.5,267.5 147.0,267.5 147.5,267.5 148.0,267.5 148.5,267.6 149.0,267.7 149.5,267.6 150.0,267.5 150.5,267.5 151.0,267.5 151.5,267.6 152.0,267.6 152.5,267.6 153.0,267.7 153.5,267.8 154.0,267.8 154.5,267.7 155.0,267.7 155.5,267.7 156.0,267.6 156.5,267.6 157.0,267.7 157.5,267.8 158.0,267.7 158.5,267.7 159.0,267.8 159.5,267.8 160.0,267.7 160.5,267.6 161.0,267.5 161.5,267.5 162.0,267.4 162.5,267.7 163.0,267.9 163.5,267.8 164.0,267.7 164.5,267.7 165.0,267.9 165.5,267.9 166.0,267.8 166.5,267.8 167.0,267.8 167.5,267.9 168.0,267.9 168.5,267.8 169.0,267.8 169.5,267.8 170.0,267.9 170.5,267.9 171.0,267.8 171.5,267.8 172.0,267.8 172.5,267.8 173.0,268.0 173.5,268.0 174.0,267.9 174.5,267.9 175.0,267.8 175.5,267.7 176.0,267.8 176.5,267.9 177.0,267.9 177.5,267.8 178.0,267.8 178.5,267.9 179.0,268.0 179.5,268.0 180.0,268.0 180.5,268.0 181.0,267.9 181.5,267.8 182.0,267.9 182.5,268.0 183.0,268.1 183.5,268.1 184.0,268.0 184.5,268.0 185.0,268.0 185.5,268.0 186.0,268.0 186.5,268.0 187.0,268.1 187.5,268.1 188.0,268.0 188.5,267.9 189.0,268.0 189.5,268.1 190.0,268.1 190.5,268.0 191.0,267.9 191.5,267.9 192.0,268.0 192.5,268.1 193.0,268.0 193.5,268.0 194.0,268.0 194.5,268.0 195.0,267.9 195.5,267.9 196.0,268.0 196.5,268.0 197.0,268.0 197.5,268.1 198.0,268.1 198.5,268.0 199.0,268.0 199.5,268.0 200.0,268.0 200.5,267.9 201.0,268.1 201.5,268.2 202.0,268.0 202.5,267.9 203.0,267.9 203.5,267.9 204.0,267.8 204.5,267.9 205.0,267.9 205.5,267.9 206.0,268.0 206.5,268.0 207.0,267.9 207.5,267.9 208.0,267.8 208.5,267.6 209.0,267.3 209.5,267.1 210.0,267.1 210.5,266.9 211.0,266.5 211.5,266.0 212.0,265.4 212.5,264.9 213.0,264.3 213.5,263.7 214.0,263.0 214.5,262.3 215.0,261.6 215.5,261.1 216.0,260.8 216.5,260.7 217.0,260.9 217.5,261.3 218.0,261.8 218.5,262.3 219.0,262.9 219.5,263.6 220.0,264.2 220.5,264.9 221.0,265.6 221.5,266.2 222.0,266.5 222.5,266.7 223.0,267.1 223.5,267.4 224.0,267.7 224.5,267.9 225.0,267.9 225.5,267.8 226.0,267.8 226.5,268.0 227.0,268.0 227.5,268.0 228.0,268.1 228.5,268.1 229.0,268.3 229.5,268.4 230.0,268.3 230.5,268.3 231.0,268.3 231.5,268.3 232.0,268.2 232.5,268.2 233.0,268.1 233.5,268.2 234.0,268.3 234.5,268.4 235.0,268.4 235.5,268.4 236.0,268.3 236.5,268.3 237.0,268.4 237.5,268.4 238.0,268.4 238.5,268.5 239.0,268.4 239.5,268.3 240.0,268.4 240.5,268.5 241.0,268.5 241.5,268.4 242.0,268.5 242.5,268.6 243.0,268.6 243.5,268.5 244.0,268.4 244.5,268.5 245.0,268.7 245.5,268.7 246.0,268.6 246.5,268.5 247.0,268.5 247.5,268.4 248.0,268.5 248.5,268.6 249.0,268.5" fill="none" stroke="#ea1f2b" stroke-width="1.55" stroke-linejoin="round"/>
<polyline points="37.0,299.4 37.5,299.3 38.0,299.2 38.5,299.2 39.0,299.2 39.5,299.3 40.0,299.2 40.5,299.2 41.0,299.2 41.5,299.2 42.0,299.2 42.5,299.3 43.0,299.3 43.5,299.2 44.0,299.2 44.5,299.2 45.0,299.2 45.5,299.3 46.0,299.4 46.5,299.4 47.0,299.3 47.5,299.3 48.0,299.3 48.5,299.3 49.0,299.3 49.5,299.4 50.0,299.4 50.5,299.3 51.0,299.2 51.5,299.3 52.0,299.4 52.5,299.4 53.0,299.3 53.5,299.2 54.0,299.2 54.5,299.3 55.0,299.2 55.5,299.2 56.0,299.3 56.5,299.4 57.0,299.2 57.5,299.2 58.0,299.2 58.5,299.2 59.0,299.3 59.5,299.3 60.0,299.3 60.5,299.3 61.0,299.3 61.5,299.3 62.0,299.2 62.5,299.2 63.0,299.2 63.5,299.4 64.0,299.4 64.5,299.4 65.0,299.4 65.5,299.4 66.0,299.4 66.5,299.5 67.0,299.3 67.5,299.2 68.0,299.2 68.5,299.3 69.0,299.4 69.5,299.4 70.0,299.3 70.5,299.2 71.0,299.3 71.5,299.4 72.0,299.2 72.5,299.3 73.0,299.3 73.5,299.4 74.0,299.3 74.5,299.3 75.0,299.2 75.5,299.3 76.0,299.5 76.5,299.5 77.0,299.3 77.5,299.2 78.0,299.2 78.5,299.3 79.0,299.4 79.5,299.4 80.0,299.3 80.5,299.3 81.0,299.3 81.5,299.4 82.0,299.5 82.5,299.6 83.0,299.4 83.5,299.3 84.0,299.3 84.5,299.3 85.0,299.3 85.5,299.3 86.0,299.3 86.5,299.4 87.0,299.4 87.5,299.4 88.0,299.4 88.5,299.3 89.0,299.3 89.5,299.3 90.0,299.4 90.5,299.4 91.0,299.3 91.5,299.3 92.0,299.3 92.5,299.3 93.0,299.3 93.5,299.3 94.0,299.2 94.5,299.3 95.0,299.4 95.5,299.4 96.0,299.3 96.5,299.3 97.0,299.3 97.5,299.3 98.0,299.3 98.5,299.3 99.0,299.3 99.5,299.4 100.0,299.4 100.5,299.4 101.0,299.4 101.5,299.3 102.0,299.3 102.5,299.4 103.0,299.4 103.5,299.4 104.0,299.4 104.5,299.3 105.0,299.3 105.5,299.4 106.0,299.4 106.5,299.3 107.0,299.3 107.5,299.4 108.0,299.5 108.5,299.5 109.0,299.3 109.5,299.3 110.0,299.3 110.5,299.3 111.0,299.1 111.5,299.2 112.0,299.2 112.5,299.1 113.0,299.2 113.5,299.3 114.0,299.3 114.5,299.3 115.0,299.4 115.5,299.4 116.0,299.3 116.5,299.1 117.0,299.0 117.5,299.1 118.0,299.2 118.5,299.2 119.0,299.1 119.5,299.1 120.0,299.0 120.5,299.0 121.0,299.0 121.5,299.0 122.0,298.9 122.5,298.8 123.0,298.6 123.5,298.4 124.0,298.2 124.5,297.9 125.0,297.7 125.5,297.4 126.0,296.8 126.5,296.0 127.0,295.2 127.5,294.2 128.0,293.0 128.5,291.6 129.0,290.3 129.5,288.9 130.0,287.3 130.5,285.8 131.0,284.5 131.5,283.5 132.0,282.9 132.5,283.0 133.0,283.8 133.5,284.9 134.0,286.3 134.5,287.8 135.0,289.2 135.5,290.8 136.0,292.2 136.5,293.4 137.0,294.6 137.5,295.7 138.0,296.5 138.5,297.0 139.0,297.5 139.5,297.9 140.0,298.2 140.5,298.5 141.0,298.6 141.5,298.6 142.0,298.7 142.5,298.9 143.0,299.0 143.5,299.0 144.0,298.9 144.5,299.0 145.0,299.1 145.5,299.1 146.0,299.1 146.5,299.2 147.0,299.3 147.5,299.3 148.0,299.3 148.5,299.3 149.0,299.4 149.5,299.4 150.0,299.3 150.5,299.3 151.0,299.3 151.5,299.4 152.0,299.4 152.5,299.4 153.0,299.4 153.5,299.4 154.0,299.4 154.5,299.5 155.0,299.4 155.5,299.4 156.0,299.6 156.5,299.8 157.0,299.7 157.5,299.6 158.0,299.6 158.5,299.6 159.0,299.5 159.5,299.4 160.0,299.5 160.5,299.5 161.0,299.4 161.5,299.3 162.0,299.4 162.5,299.5 163.0,299.5 163.5,299.5 164.0,299.6 164.5,299.6 165.0,299.6 165.5,299.6 166.0,299.5 166.5,299.5 167.0,299.5 167.5,299.6 168.0,299.6 168.5,299.5 169.0,299.5 169.5,299.6 170.0,299.6 170.5,299.5 171.0,299.4 171.5,299.6 172.0,299.8 172.5,299.8 173.0,299.7 173.5,299.7 174.0,299.8 174.5,299.7 175.0,299.6 175.5,299.7 176.0,299.7 176.5,299.7 177.0,299.7 177.5,299.8 178.0,299.8 178.5,299.7 179.0,299.6 179.5,299.5 180.0,299.6 180.5,299.6 181.0,299.7 181.5,299.7 182.0,299.6 182.5,299.5 183.0,299.6 183.5,299.6 184.0,299.5 184.5,299.5 185.0,299.5 185.5,299.5 186.0,299.6 186.5,299.7 187.0,299.8 187.5,299.8 188.0,299.6 188.5,299.4 189.0,299.4 189.5,299.4 190.0,299.5 190.5,299.5 191.0,299.4 191.5,299.5 192.0,299.5 192.5,299.5 193.0,299.5 193.5,299.5 194.0,299.5 194.5,299.4 195.0,299.4 195.5,299.3 196.0,299.4 196.5,299.6 197.0,299.7 197.5,299.6 198.0,299.4 198.5,299.3 199.0,299.3 199.5,299.2 200.0,299.0 200.5,298.9 201.0,298.8 201.5,298.5 202.0,298.2 202.5,297.9 203.0,297.6 203.5,297.2 204.0,296.4 204.5,295.6 205.0,294.8 205.5,293.9 206.0,292.7 206.5,291.8 207.0,290.8 207.5,289.9 208.0,289.2 208.5,288.8 209.0,288.6 209.5,288.8 210.0,289.5 210.5,290.2 211.0,291.1 211.5,292.1 212.0,293.2 212.5,294.3 213.0,295.3 213.5,296.0 214.0,296.6 214.5,297.3 215.0,297.8 215.5,298.1 216.0,298.5 216.5,298.6 217.0,298.7 217.5,298.9 218.0,299.0 218.5,299.2 219.0,299.3 219.5,299.5 220.0,299.6 220.5,299.5 221.0,299.4 221.5,299.4 222.0,299.4 222.5,299.5 223.0,299.6 223.5,299.5 224.0,299.5 224.5,299.6 225.0,299.7 225.5,299.7 226.0,299.8 226.5,299.8 227.0,299.8 227.5,299.9 228.0,299.8 228.5,299.8 229.0,299.8 229.5,299.7 230.0,299.7 230.5,299.8 231.0,299.8 231.5,299.8 232.0,299.9 232.5,299.8 233.0,299.7 233.5,299.7 234.0,299.8 234.5,299.8 235.0,299.8 235.5,299.8 236.0,299.8 236.5,299.9 237.0,299.8 237.5,299.9 238.0,300.0 238.5,300.1 239.0,299.9 239.5,299.8 240.0,299.8 240.5,299.9 241.0,299.8 241.5,299.8 242.0,299.9 242.5,299.8 243.0,299.8 243.5,299.8 244.0,299.7 244.5,299.7 245.0,299.9 245.5,299.9 246.0,299.9 246.5,299.8 247.0,299.9 247.5,300.0 248.0,300.0 248.5,299.9 249.0,299.9" fill="none" stroke="#f7a81e" stroke-width="1.55" stroke-linejoin="round"/>
<polyline points="37.0,330.8 37.5,330.7 38.0,330.7 38.5,330.7 39.0,330.9 39.5,330.9 40.0,330.9 40.5,330.8 41.0,330.8 41.5,330.8 42.0,330.9 42.5,331.0 43.0,330.9 43.5,330.8 44.0,330.8 44.5,330.9 45.0,330.9 45.5,330.8 46.0,330.6 46.5,330.7 47.0,330.8 47.5,330.9 48.0,330.9 48.5,330.9 49.0,330.8 49.5,330.8 50.0,330.9 50.5,331.0 51.0,331.0 51.5,330.9 52.0,330.9 52.5,330.9 53.0,330.8 53.5,330.8 54.0,330.9 54.5,330.9 55.0,330.8 55.5,330.8 56.0,330.8 56.5,330.8 57.0,330.8 57.5,330.7 58.0,330.8 58.5,330.9 59.0,330.8 59.5,330.8 60.0,330.8 60.5,330.8 61.0,330.8 61.5,330.8 62.0,331.0 62.5,331.1 63.0,331.1 63.5,330.9 64.0,330.9 64.5,330.9 65.0,330.9 65.5,330.9 66.0,330.9 66.5,330.9 67.0,330.9 67.5,331.0 68.0,330.9 68.5,330.8 69.0,330.9 69.5,330.9 70.0,330.9 70.5,330.9 71.0,330.8 71.5,330.7 72.0,330.9 72.5,331.0 73.0,330.9 73.5,330.9 74.0,330.9 74.5,330.8 75.0,330.8 75.5,330.9 76.0,330.9 76.5,330.9 77.0,330.9 77.5,330.8 78.0,330.8 78.5,330.9 79.0,330.9 79.5,330.8 80.0,330.8 80.5,331.0 81.0,331.0 81.5,330.9 82.0,330.9 82.5,330.9 83.0,330.9 83.5,330.9 84.0,330.9 84.5,330.8 85.0,330.8 85.5,330.9 86.0,330.9 86.5,330.8 87.0,330.9 87.5,331.0 88.0,331.0 88.5,331.0 89.0,331.0 89.5,331.1 90.0,331.1 90.5,331.0 91.0,330.9 91.5,331.0 92.0,331.1 92.5,331.0 93.0,330.8 93.5,330.8 94.0,330.9 94.5,331.0 95.0,331.0 95.5,330.9 96.0,331.0 96.5,331.0 97.0,331.0 97.5,330.9 98.0,330.8 98.5,330.8 99.0,330.9 99.5,330.9 100.0,330.9 100.5,330.8 101.0,330.9 101.5,330.8 102.0,330.7 102.5,330.7 103.0,330.9 103.5,331.0 104.0,331.0 104.5,331.0 105.0,331.0 105.5,330.9 106.0,330.9 106.5,331.0 107.0,331.0 107.5,330.9 108.0,330.9 108.5,330.9 109.0,330.9 109.5,330.9 110.0,330.9 110.5,330.9 111.0,330.9 111.5,330.8 112.0,330.9 112.5,330.9 113.0,330.9 113.5,331.0 114.0,331.0 114.5,331.0 115.0,331.0 115.5,330.8 116.0,330.8 116.5,330.9 117.0,330.9 117.5,330.8 118.0,330.7 118.5,330.7 119.0,330.7 119.5,330.7 120.0,330.7 120.5,330.7 121.0,330.7 121.5,330.7 122.0,330.7 122.5,330.6 123.0,330.5 123.5,330.5 124.0,330.5 124.5,330.6 125.0,330.7 125.5,330.7 126.0,330.6 126.5,330.6 127.0,330.6 127.5,330.6 128.0,330.6 128.5,330.6 129.0,330.6 129.5,330.5 130.0,330.4 130.5,330.3 131.0,330.3 131.5,330.3 132.0,330.2 132.5,330.1 133.0,330.0 133.5,329.7 134.0,329.5 134.5,329.4 135.0,328.9 135.5,328.4 136.0,327.8 136.5,327.1 137.0,326.3 137.5,325.3 138.0,323.8 138.5,322.0 139.0,320.2 139.5,318.3 140.0,316.3 140.5,314.2 141.0,312.4 141.5,311.0 142.0,310.0 142.5,309.5 143.0,309.8 143.5,310.7 144.0,312.2 144.5,314.1 145.0,316.3 145.5,318.4 146.0,320.4 146.5,322.3 147.0,323.8 147.5,325.1 148.0,326.3 148.5,327.3 149.0,327.9 149.5,328.4 150.0,328.9 150.5,329.3 151.0,329.6 151.5,329.6 152.0,329.8 152.5,330.0 153.0,330.2 153.5,330.3 154.0,330.4 154.5,330.4 155.0,330.5 155.5,330.4 156.0,330.4 156.5,330.5 157.0,330.6 157.5,330.6 158.0,330.6 158.5,330.7 159.0,330.8 159.5,330.8 160.0,330.8 160.5,331.0 161.0,331.0 161.5,330.8 162.0,330.9 162.5,331.1 163.0,331.0 163.5,330.9 164.0,330.9 164.5,330.8 165.0,330.9 165.5,330.9 166.0,330.9 166.5,330.9 167.0,330.8 167.5,330.8 168.0,330.9 168.5,330.9 169.0,331.0 169.5,331.1 170.0,331.1 170.5,331.0 171.0,331.0 171.5,331.0 172.0,331.0 172.5,331.0 173.0,331.0 173.5,331.0 174.0,331.1 174.5,331.0 175.0,330.9 175.5,330.9 176.0,330.9 176.5,331.0 177.0,331.0 177.5,331.0 178.0,330.9 178.5,330.8 179.0,330.8 179.5,330.8 180.0,330.9 180.5,331.1 181.0,331.0 181.5,330.9 182.0,330.9 182.5,331.1 183.0,331.0 183.5,331.0 184.0,331.1 184.5,331.2 185.0,331.1 185.5,330.9 186.0,330.9 186.5,330.9 187.0,330.7 187.5,330.7 188.0,330.7 188.5,330.6 189.0,330.6 189.5,330.7 190.0,330.7 190.5,330.4 191.0,330.3 191.5,330.2 192.0,330.0 192.5,329.8 193.0,329.3 193.5,328.8 194.0,328.2 194.5,327.6 195.0,326.9 195.5,325.9 196.0,324.7 196.5,323.4 197.0,322.1 197.5,320.8 198.0,319.3 198.5,318.0 199.0,316.9 199.5,316.4 200.0,316.2 200.5,316.3 201.0,317.0 201.5,318.1 202.0,319.4 202.5,320.7 203.0,322.1 203.5,323.5 204.0,324.7 204.5,325.8 205.0,326.8 205.5,327.7 206.0,328.4 206.5,329.0 207.0,329.5 207.5,329.9 208.0,330.1 208.5,330.4 209.0,330.6 209.5,330.7 210.0,330.8 210.5,330.8 211.0,330.8 211.5,330.8 212.0,330.8 212.5,330.9 213.0,330.9 213.5,330.9 214.0,330.8 214.5,330.9 215.0,331.1 215.5,331.2 216.0,331.2 216.5,331.2 217.0,331.1 217.5,331.1 218.0,331.2 218.5,331.2 219.0,331.3 219.5,331.4 220.0,331.3 220.5,331.1 221.0,331.1 221.5,331.1 222.0,331.2 222.5,331.4 223.0,331.3 223.5,331.2 224.0,331.4 224.5,331.4 225.0,331.3 225.5,331.3 226.0,331.3 226.5,331.4 227.0,331.5 227.5,331.5 228.0,331.6 228.5,331.6 229.0,331.6 229.5,331.4 230.0,331.3 230.5,331.4 231.0,331.4 231.5,331.4 232.0,331.5 232.5,331.4 233.0,331.4 233.5,331.5 234.0,331.6 234.5,331.5 235.0,331.6 235.5,331.6 236.0,331.4 236.5,331.3 237.0,331.3 237.5,331.4 238.0,331.4 238.5,331.5 239.0,331.6 239.5,331.5 240.0,331.5 240.5,331.6 241.0,331.5 241.5,331.4 242.0,331.5 242.5,331.5 243.0,331.5 243.5,331.5 244.0,331.5 244.5,331.4 245.0,331.5 245.5,331.6 246.0,331.5 246.5,331.5 247.0,331.7 247.5,331.7 248.0,331.7 248.5,331.6 249.0,331.6" fill="none" stroke="#25bb6a" stroke-width="1.55" stroke-linejoin="round"/>
<polyline points="37.0,362.8 37.5,362.9 38.0,362.9 38.5,362.9 39.0,362.8 39.5,362.7 40.0,362.7 40.5,362.8 41.0,362.9 41.5,362.9 42.0,362.9 42.5,363.0 43.0,363.0 43.5,362.8 44.0,362.7 44.5,362.6 45.0,362.7 45.5,362.8 46.0,362.8 46.5,362.9 47.0,363.0 47.5,363.0 48.0,362.9 48.5,362.8 49.0,362.8 49.5,362.8 50.0,362.8 50.5,362.8 51.0,362.9 51.5,362.9 52.0,362.8 52.5,362.7 53.0,362.8 53.5,362.8 54.0,362.9 54.5,362.9 55.0,362.8 55.5,362.8 56.0,362.8 56.5,362.8 57.0,362.9 57.5,362.8 58.0,362.6 58.5,362.7 59.0,362.9 59.5,363.0 60.0,362.9 60.5,362.8 61.0,362.8 61.5,363.0 62.0,363.0 62.5,362.9 63.0,362.8 63.5,362.7 64.0,363.0 64.5,363.1 65.0,363.1 65.5,363.0 66.0,362.9 66.5,362.8 67.0,362.9 67.5,362.8 68.0,362.8 68.5,362.9 69.0,362.9 69.5,362.9 70.0,362.9 70.5,362.8 71.0,362.7 71.5,362.8 72.0,362.8 72.5,362.7 73.0,362.7 73.5,362.7 74.0,362.7 74.5,362.6 75.0,362.7 75.5,362.8 76.0,363.0 76.5,363.0 77.0,362.8 77.5,362.8 78.0,362.9 78.5,362.9 79.0,362.9 79.5,363.0 80.0,362.9 80.5,362.7 81.0,362.8 81.5,362.9 82.0,362.9 82.5,362.8 83.0,362.8 83.5,362.9 84.0,362.9 84.5,362.9 85.0,362.9 85.5,362.9 86.0,362.8 86.5,362.8 87.0,362.9 87.5,362.8 88.0,362.7 88.5,362.8 89.0,363.0 89.5,363.0 90.0,362.9 90.5,363.0 91.0,362.9 91.5,363.0 92.0,363.1 92.5,363.0 93.0,362.9 93.5,362.8 94.0,362.9 94.5,362.8 95.0,362.8 95.5,363.0 96.0,363.1 96.5,363.0 97.0,363.0 97.5,363.0 98.0,363.1 98.5,363.1 99.0,362.9 99.5,362.8 100.0,362.8 100.5,362.7 101.0,362.7 101.5,362.8 102.0,362.8 102.5,362.8 103.0,363.0 103.5,363.1 104.0,363.1 104.5,363.0 105.0,363.0 105.5,362.9 106.0,362.9 106.5,362.9 107.0,362.8 107.5,362.8 108.0,362.8 108.5,362.9 109.0,363.0 109.5,362.9 110.0,362.9 110.5,362.8 111.0,362.7 111.5,362.8 112.0,363.0 112.5,363.1 113.0,363.0 113.5,362.9 114.0,362.9 114.5,362.9 115.0,362.9 115.5,362.9 116.0,362.9 116.5,362.9 117.0,362.8 117.5,362.8 118.0,362.7 118.5,362.7 119.0,362.7 119.5,362.8 120.0,362.8 120.5,362.8 121.0,362.8 121.5,362.7 122.0,362.7 122.5,362.8 123.0,362.9 123.5,363.0 124.0,362.9 124.5,362.9 125.0,362.9 125.5,362.8 126.0,362.8 126.5,362.7 127.0,362.7 127.5,362.9 128.0,363.0 128.5,362.8 129.0,362.7 129.5,362.7 130.0,362.7 130.5,362.6 131.0,362.6 131.5,362.7 132.0,362.8 132.5,362.8 133.0,362.8 133.5,362.8 134.0,362.6 134.5,362.5 135.0,362.4 135.5,362.4 136.0,362.5 136.5,362.5 137.0,362.4 137.5,362.4 138.0,362.2 138.5,362.2 139.0,362.2 139.5,362.1 140.0,362.2 140.5,362.1 141.0,361.9 141.5,361.7 142.0,361.6 142.5,361.5 143.0,361.4 143.5,361.2 144.0,360.7 144.5,360.0 145.0,359.3 145.5,358.3 146.0,357.2 146.5,355.9 147.0,354.3 147.5,352.5 148.0,350.5 148.5,348.1 149.0,345.6 149.5,343.1 150.0,340.9 150.5,338.8 151.0,337.3 151.5,336.4 152.0,336.2 152.5,336.9 153.0,338.5 153.5,340.5 154.0,342.7 154.5,345.3 155.0,347.8 155.5,350.1 156.0,352.3 156.5,354.2 157.0,355.7 157.5,357.1 158.0,358.2 158.5,359.0 159.0,359.8 159.5,360.4 160.0,360.9 160.5,361.2 161.0,361.4 161.5,361.8 162.0,362.0 162.5,362.0 163.0,362.0 163.5,362.1 164.0,362.2 164.5,362.2 165.0,362.2 165.5,362.4 166.0,362.5 166.5,362.4 167.0,362.4 167.5,362.5 168.0,362.5 168.5,362.6 169.0,362.5 169.5,362.6 170.0,362.7 170.5,362.6 171.0,362.5 171.5,362.5 172.0,362.6 172.5,362.6 173.0,362.6 173.5,362.6 174.0,362.5 174.5,362.6 175.0,362.5 175.5,362.3 176.0,362.4 176.5,362.4 177.0,362.4 177.5,362.5 178.0,362.3 178.5,362.3 179.0,362.4 179.5,362.4 180.0,362.3 180.5,362.1 181.0,361.9 181.5,361.8 182.0,361.7 182.5,361.4 183.0,361.0 183.5,360.5 184.0,359.8 184.5,359.1 185.0,358.3 185.5,357.0 186.0,355.5 186.5,354.0 187.0,352.4 187.5,350.5 188.0,348.5 188.5,346.5 189.0,344.8 189.5,343.3 190.0,342.4 190.5,342.2 191.0,342.6 191.5,343.5 192.0,345.0 192.5,346.7 193.0,348.7 193.5,350.7 194.0,352.5 194.5,354.2 195.0,355.8 195.5,357.1 196.0,358.2 196.5,359.2 197.0,359.9 197.5,360.4 198.0,361.0 198.5,361.4 199.0,361.6 199.5,361.8 200.0,362.0 200.5,362.3 201.0,362.3 201.5,362.4 202.0,362.5 202.5,362.5 203.0,362.7 203.5,362.8 204.0,362.7 204.5,362.8 205.0,362.9 205.5,362.9 206.0,362.9 206.5,363.0 207.0,363.0 207.5,362.8 208.0,362.8 208.5,362.9 209.0,362.9 209.5,362.9 210.0,363.0 210.5,363.1 211.0,363.1 211.5,363.1 212.0,363.2 212.5,363.1 213.0,363.2 213.5,363.3 214.0,363.3 214.5,363.2 215.0,363.2 215.5,363.2 216.0,363.3 216.5,363.3 217.0,363.2 217.5,363.3 218.0,363.3 218.5,363.3 219.0,363.2 219.5,363.2 220.0,363.2 220.5,363.3 221.0,363.4 221.5,363.4 222.0,363.3 222.5,363.3 223.0,363.3 223.5,363.4 224.0,363.5 224.5,363.5 225.0,363.5 225.5,363.5 226.0,363.5 226.5,363.4 227.0,363.3 227.5,363.3 228.0,363.4 228.5,363.3 229.0,363.3 229.5,363.4 230.0,363.4 230.5,363.4 231.0,363.4 231.5,363.4 232.0,363.4 232.5,363.3 233.0,363.3 233.5,363.4 234.0,363.5 234.5,363.4 235.0,363.4 235.5,363.4 236.0,363.5 236.5,363.5 237.0,363.5 237.5,363.6 238.0,363.6 238.5,363.5 239.0,363.5 239.5,363.3 240.0,363.3 240.5,363.3 241.0,363.4 241.5,363.4 242.0,363.5 242.5,363.4 243.0,363.4 243.5,363.4 244.0,363.4 244.5,363.4 245.0,363.4 245.5,363.4 246.0,363.3 246.5,363.4 247.0,363.5 247.5,363.6 248.0,363.6 248.5,363.5 249.0,363.5" fill="none" stroke="#1fadef" stroke-width="1.55" stroke-linejoin="round"/>
<polyline points="37.0,394.1 37.5,394.1 38.0,394.1 38.5,394.2 39.0,394.2 39.5,394.1 40.0,394.2 40.5,394.3 41.0,394.3 41.5,394.3 42.0,394.3 42.5,394.3 43.0,394.3 43.5,394.3 44.0,394.3 44.5,394.3 45.0,394.2 45.5,394.1 46.0,394.2 46.5,394.2 47.0,394.2 47.5,394.2 48.0,394.3 48.5,394.2 49.0,394.0 49.5,394.1 50.0,394.2 50.5,394.2 51.0,394.1 51.5,394.1 52.0,394.1 52.5,394.2 53.0,394.2 53.5,394.1 54.0,394.2 54.5,394.2 55.0,394.2 55.5,394.1 56.0,394.2 56.5,394.3 57.0,394.2 57.5,394.1 58.0,394.1 58.5,394.2 59.0,394.3 59.5,394.4 60.0,394.2 60.5,394.1 61.0,394.3 61.5,394.4 62.0,394.4 62.5,394.3 63.0,394.2 63.5,394.1 64.0,394.1 64.5,394.1 65.0,394.2 65.5,394.3 66.0,394.4 66.5,394.3 67.0,394.2 67.5,394.3 68.0,394.4 68.5,394.3 69.0,394.2 69.5,394.3 70.0,394.3 70.5,394.2 71.0,394.2 71.5,394.3 72.0,394.2 72.5,394.1 73.0,394.1 73.5,394.2 74.0,394.2 74.5,394.3 75.0,394.4 75.5,394.3 76.0,394.2 76.5,394.2 77.0,394.3 77.5,394.3 78.0,394.3 78.5,394.2 79.0,394.2 79.5,394.2 80.0,394.1 80.5,394.1 81.0,394.2 81.5,394.2 82.0,394.1 82.5,394.1 83.0,394.0 83.5,394.1 84.0,394.2 84.5,394.2 85.0,394.1 85.5,394.2 86.0,394.1 86.5,394.1 87.0,394.3 87.5,394.2 88.0,394.2 88.5,394.3 89.0,394.3 89.5,394.2 90.0,394.3 90.5,394.3 91.0,394.3 91.5,394.3 92.0,394.3 92.5,394.3 93.0,394.2 93.5,394.3 94.0,394.4 94.5,394.3 95.0,394.4 95.5,394.4 96.0,394.3 96.5,394.2 97.0,394.2 97.5,394.2 98.0,394.3 98.5,394.4 99.0,394.2 99.5,394.2 100.0,394.2 100.5,394.2 101.0,394.2 101.5,394.2 102.0,394.1 102.5,394.1 103.0,394.2 103.5,394.2 104.0,394.2 104.5,394.2 105.0,394.2 105.5,394.2 106.0,394.1 106.5,394.1 107.0,394.1 107.5,394.2 108.0,394.2 108.5,394.3 109.0,394.4 109.5,394.4 110.0,394.4 110.5,394.2 111.0,394.2 111.5,394.3 112.0,394.3 112.5,394.3 113.0,394.3 113.5,394.4 114.0,394.4 114.5,394.3 115.0,394.3 115.5,394.3 116.0,394.3 116.5,394.3 117.0,394.3 117.5,394.3 118.0,394.3 118.5,394.3 119.0,394.3 119.5,394.2 120.0,394.3 120.5,394.4 121.0,394.2 121.5,394.1 122.0,394.1 122.5,394.2 123.0,394.4 123.5,394.3 124.0,394.2 124.5,394.2 125.0,394.2 125.5,394.3 126.0,394.3 126.5,394.2 127.0,394.2 127.5,394.2 128.0,394.1 128.5,394.1 129.0,394.1 129.5,394.0 130.0,394.1 130.5,394.2 131.0,394.1 131.5,394.1 132.0,394.2 132.5,394.3 133.0,394.3 133.5,394.3 134.0,394.2 134.5,394.2 135.0,394.1 135.5,394.1 136.0,394.1 136.5,394.1 137.0,394.2 137.5,394.1 138.0,394.1 138.5,394.0 139.0,394.0 139.5,394.0 140.0,394.0 140.5,394.0 141.0,394.0 141.5,393.9 142.0,394.0 142.5,394.1 143.0,394.1 143.5,394.0 144.0,394.0 144.5,394.1 145.0,394.0 145.5,393.8 146.0,393.8 146.5,393.9 147.0,393.9 147.5,393.8 148.0,393.8 148.5,393.7 149.0,393.6 149.5,393.6 150.0,393.6 150.5,393.5 151.0,393.4 151.5,393.4 152.0,393.3 152.5,393.1 153.0,392.9 153.5,392.8 154.0,392.7 154.5,392.5 155.0,392.2 155.5,391.8 156.0,391.3 156.5,390.8 157.0,390.2 157.5,389.3 158.0,388.0 158.5,386.7 159.0,385.1 159.5,383.3 160.0,381.2 160.5,378.9 161.0,376.6 161.5,374.2 162.0,371.9 162.5,369.8 163.0,368.1 163.5,366.9 164.0,366.4 164.5,366.9 165.0,368.0 165.5,369.7 166.0,371.8 166.5,374.1 167.0,376.3 167.5,378.7 168.0,381.1 168.5,383.1 169.0,384.7 169.5,386.1 170.0,387.4 170.5,388.4 171.0,389.2 171.5,389.9 172.0,390.3 172.5,390.6 173.0,390.9 173.5,390.9 174.0,390.9 174.5,390.7 175.0,390.4 175.5,389.8 176.0,389.1 176.5,388.3 177.0,387.3 177.5,385.9 178.0,384.2 178.5,382.4 179.0,380.4 179.5,378.2 180.0,375.8 180.5,373.4 181.0,370.9 181.5,368.8 182.0,367.2 182.5,366.3 183.0,366.2 183.5,366.9 184.0,368.0 184.5,369.6 185.0,371.9 185.5,374.4 186.0,376.8 186.5,379.2 187.0,381.5 187.5,383.6 188.0,385.4 188.5,387.0 189.0,388.4 189.5,389.4 190.0,390.2 190.5,390.9 191.0,391.5 191.5,392.0 192.0,392.3 192.5,392.6 193.0,392.9 193.5,393.1 194.0,393.1 194.5,393.3 195.0,393.5 195.5,393.6 196.0,393.6 196.5,393.5 197.0,393.6 197.5,393.8 198.0,394.0 198.5,394.0 199.0,394.0 199.5,393.9 200.0,393.9 200.5,394.0 201.0,394.0 201.5,394.0 202.0,394.1 202.5,394.2 203.0,394.0 203.5,394.0 204.0,394.1 204.5,394.1 205.0,394.0 205.5,394.2 206.0,394.3 206.5,394.3 207.0,394.4 207.5,394.3 208.0,394.3 208.5,394.3 209.0,394.2 209.5,394.3 210.0,394.3 210.5,394.3 211.0,394.4 211.5,394.5 212.0,394.6 212.5,394.5 213.0,394.5 213.5,394.5 214.0,394.6 214.5,394.6 215.0,394.5 215.5,394.4 216.0,394.4 216.5,394.3 217.0,394.4 217.5,394.6 218.0,394.6 218.5,394.5 219.0,394.5 219.5,394.5 220.0,394.4 220.5,394.4 221.0,394.4 221.5,394.4 222.0,394.5 222.5,394.5 223.0,394.5 223.5,394.4 224.0,394.5 224.5,394.6 225.0,394.6 225.5,394.7 226.0,394.7 226.5,394.5 227.0,394.5 227.5,394.7 228.0,394.7 228.5,394.6 229.0,394.6 229.5,394.7 230.0,394.8 230.5,394.8 231.0,394.7 231.5,394.6 232.0,394.6 232.5,394.7 233.0,394.6 233.5,394.4 234.0,394.5 234.5,394.7 235.0,394.8 235.5,394.7 236.0,394.7 236.5,394.8 237.0,394.8 237.5,394.8 238.0,394.8 238.5,394.7 239.0,394.7 239.5,394.7 240.0,394.7 240.5,394.7 241.0,394.7 241.5,394.7 242.0,394.8 242.5,394.8 243.0,394.7 243.5,394.6 244.0,394.7 244.5,394.8 245.0,394.8 245.5,394.8 246.0,394.8 246.5,394.7 247.0,394.7 247.5,394.7 248.0,394.7 248.5,394.8 249.0,394.7" fill="none" stroke="#1e22e0" stroke-width="1.55" stroke-linejoin="round"/>
<polyline points="37.0,427.5 37.5,427.4 38.0,427.2 38.5,427.2 39.0,427.3 39.5,427.5 40.0,427.6 40.5,427.5 41.0,427.4 41.5,427.4 42.0,427.4 42.5,427.5 43.0,427.5 43.5,427.4 44.0,427.4 44.5,427.4 45.0,427.4 45.5,427.5 46.0,427.5 46.5,427.3 47.0,427.3 47.5,427.3 48.0,427.4 48.5,427.4 49.0,427.4 49.5,427.4 50.0,427.5 50.5,427.5 51.0,427.5 51.5,427.6 52.0,427.5 52.5,427.5 53.0,427.6 53.5,427.5 54.0,427.4 54.5,427.4 55.0,427.4 55.5,427.4 56.0,427.3 56.5,427.2 57.0,427.3 57.5,427.4 58.0,427.4 58.5,427.4 59.0,427.5 59.5,427.5 60.0,427.4 60.5,427.3 61.0,427.3 61.5,427.3 62.0,427.3 62.5,427.4 63.0,427.4 63.5,427.3 64.0,427.3 64.5,427.4 65.0,427.5 65.5,427.6 66.0,427.5 66.5,427.4 67.0,427.3 67.5,427.2 68.0,427.3 68.5,427.4 69.0,427.4 69.5,427.4 70.0,427.4 70.5,427.5 71.0,427.5 71.5,427.4 72.0,427.4 72.5,427.4 73.0,427.4 73.5,427.4 74.0,427.3 74.5,427.2 75.0,427.3 75.5,427.5 76.0,427.6 76.5,427.5 77.0,427.5 77.5,427.5 78.0,427.4 78.5,427.4 79.0,427.4 79.5,427.5 80.0,427.5 80.5,427.4 81.0,427.4 81.5,427.5 82.0,427.4 82.5,427.5 83.0,427.5 83.5,427.5 84.0,427.5 84.5,427.5 85.0,427.4 85.5,427.6 86.0,427.7 86.5,427.7 87.0,427.5 87.5,427.4 88.0,427.4 88.5,427.4 89.0,427.4 89.5,427.5 90.0,427.4 90.5,427.4 91.0,427.3 91.5,427.4 92.0,427.4 92.5,427.4 93.0,427.5 93.5,427.5 94.0,427.4 94.5,427.3 95.0,427.4 95.5,427.6 96.0,427.7 96.5,427.6 97.0,427.4 97.5,427.5 98.0,427.5 98.5,427.5 99.0,427.6 99.5,427.6 100.0,427.6 100.5,427.6 101.0,427.6 101.5,427.6 102.0,427.5 102.5,427.5 103.0,427.5 103.5,427.4 104.0,427.5 104.5,427.4 105.0,427.3 105.5,427.3 106.0,427.4 106.5,427.6 107.0,427.7 107.5,427.7 108.0,427.6 108.5,427.5 109.0,427.5 109.5,427.5 110.0,427.4 110.5,427.4 111.0,427.4 111.5,427.4 112.0,427.4 112.5,427.5 113.0,427.5 113.5,427.6 114.0,427.5 114.5,427.5 115.0,427.5 115.5,427.5 116.0,427.4 116.5,427.5 117.0,427.6 117.5,427.6 118.0,427.5 118.5,427.4 119.0,427.4 119.5,427.4 120.0,427.5 120.5,427.4 121.0,427.5 121.5,427.5 122.0,427.5 122.5,427.5 123.0,427.6 123.5,427.6 124.0,427.5 124.5,427.5 125.0,427.5 125.5,427.5 126.0,427.5 126.5,427.4 127.0,427.4 127.5,427.4 128.0,427.5 128.5,427.5 129.0,427.5 129.5,427.3 130.0,427.2 130.5,427.3 131.0,427.3 131.5,427.5 132.0,427.6 132.5,427.5 133.0,427.4 133.5,427.4 134.0,427.4 134.5,427.4 135.0,427.4 135.5,427.4 136.0,427.5 136.5,427.5 137.0,427.5 137.5,427.5 138.0,427.4 138.5,427.4 139.0,427.5 139.5,427.5 140.0,427.4 140.5,427.4 141.0,427.4 141.5,427.5 142.0,427.4 142.5,427.4 143.0,427.5 143.5,427.5 144.0,427.5 144.5,427.5 145.0,427.5 145.5,427.5 146.0,427.4 146.5,427.3 147.0,427.2 147.5,427.2 148.0,427.3 148.5,427.3 149.0,427.3 149.5,427.1 150.0,427.1 150.5,427.1 151.0,427.2 151.5,427.3 152.0,427.4 152.5,427.5 153.0,427.3 153.5,427.1 154.0,426.9 154.5,426.8 155.0,426.9 155.5,427.1 156.0,427.1 156.5,427.1 157.0,427.0 157.5,427.0 158.0,427.0 158.5,426.9 159.0,426.7 159.5,426.6 160.0,426.6 160.5,426.7 161.0,426.6 161.5,426.4 162.0,426.2 162.5,426.0 163.0,425.9 163.5,425.6 164.0,425.3 164.5,424.9 165.0,424.3 165.5,423.6 166.0,422.6 166.5,421.3 167.0,419.6 167.5,417.5 168.0,415.0 168.5,412.1 169.0,408.7 169.5,404.9 170.0,401.1 170.5,397.4 171.0,394.0 171.5,391.5 172.0,389.9 172.5,389.7 173.0,390.9 173.5,393.4 174.0,396.6 174.5,400.3 175.0,404.3 175.5,408.0 176.0,411.4 176.5,414.5 177.0,417.1 177.5,419.2 178.0,421.0 178.5,422.4 179.0,423.4 179.5,424.2 180.0,424.7 180.5,425.3 181.0,425.7 181.5,425.9 182.0,426.0 182.5,426.4 183.0,426.6 183.5,426.6 184.0,426.6 184.5,426.6 185.0,426.6 185.5,426.7 186.0,426.9 186.5,427.0 187.0,427.0 187.5,427.0 188.0,427.1 188.5,427.1 189.0,427.1 189.5,427.1 190.0,427.1 190.5,427.2 191.0,427.4 191.5,427.5 192.0,427.5 192.5,427.5 193.0,427.5 193.5,427.6 194.0,427.6 194.5,427.6 195.0,427.5 195.5,427.5 196.0,427.5 196.5,427.5 197.0,427.5 197.5,427.4 198.0,427.3 198.5,427.4 199.0,427.4 199.5,427.5 200.0,427.5 200.5,427.5 201.0,427.6 201.5,427.7 202.0,427.7 202.5,427.8 203.0,427.8 203.5,427.7 204.0,427.7 204.5,427.7 205.0,427.8 205.5,427.7 206.0,427.6 206.5,427.6 207.0,427.6 207.5,427.6 208.0,427.6 208.5,427.6 209.0,427.6 209.5,427.7 210.0,427.8 210.5,427.7 211.0,427.6 211.5,427.6 212.0,427.7 212.5,427.7 213.0,427.7 213.5,427.8 214.0,427.8 214.5,427.8 215.0,427.8 215.5,427.8 216.0,427.8 216.5,427.9 217.0,427.9 217.5,427.8 218.0,427.8 218.5,427.9 219.0,427.9 219.5,427.9 220.0,427.9 220.5,427.9 221.0,427.9 221.5,427.9 222.0,427.8 222.5,427.7 223.0,427.9 223.5,427.8 224.0,427.7 224.5,427.7 225.0,427.8 225.5,428.0 226.0,427.9 226.5,427.8 227.0,427.8 227.5,427.9 228.0,428.0 228.5,427.8 229.0,427.7 229.5,427.8 230.0,427.8 230.5,427.8 231.0,427.7 231.5,427.9 232.0,428.0 232.5,427.9 233.0,427.9 233.5,428.0 234.0,428.1 234.5,428.0 235.0,427.9 235.5,428.0 236.0,428.0 236.5,427.9 237.0,427.9 237.5,427.8 238.0,427.8 238.5,428.0 239.0,427.9 239.5,427.9 240.0,427.9 240.5,427.8 241.0,427.8 241.5,427.8 242.0,427.9 242.5,428.0 243.0,428.0 243.5,428.0 244.0,428.0 244.5,428.0 245.0,427.9 245.5,427.9 246.0,427.9 246.5,428.0 247.0,428.0 247.5,427.9 248.0,427.9 248.5,427.9 249.0,427.9" fill="none" stroke="#1a1a1a" stroke-width="1.55" stroke-linejoin="round"/>
<line x1="120.5" y1="256.2" x2="172.3" y2="388.7" stroke="#222" stroke-width="0.9" stroke-dasharray="3,2.2"/>
<line x1="216.7" y1="261.0" x2="172.3" y2="388.7" stroke="#222" stroke-width="0.9" stroke-dasharray="3,2.2"/>
<text x="137.2" y="282.4"><tspan font-style="italic">g</tspan> = 16.0 ± 0.5</text>
<text x="38.6" y="265.8" fill="#ea1f2b">15 T</text>
<text x="38.6" y="296.6" fill="#f7a81e">12 T</text>
<text x="41.8" y="328.8" fill="#25bb6a">9 T</text>
<text x="41.8" y="360.1" fill="#1fadef">6 T</text>
<text x="41.8" y="391.4" fill="#1e22e0">3 T</text>
<text x="41.8" y="423.0" fill="#1a1a1a">0 T</text>
<text font-weight="bold" x="40.5" y="241.3" font-size="13">c</text>
<text x="134.7" y="241.8">IX<tspan font-size="7.5" dy="-3">0</tspan></text>
<g transform="translate(28.8,340.8) rotate(-90)"><text x="0" y="0" text-anchor="middle" font-size="11.4">PL intensity (a.u.)</text></g>
<rect x="254.2" y="250.5" width="213.40000000000003" height="180.3" fill="none" stroke="#333" stroke-width="1"/>
<line x1="289.7" y1="430.8" x2="289.7" y2="428.3" stroke="#222"/>
<line x1="289.7" y1="250.5" x2="289.7" y2="253.0" stroke="#222"/>
<line x1="325.2" y1="430.8" x2="325.2" y2="428.3" stroke="#222"/>
<line x1="325.2" y1="250.5" x2="325.2" y2="253.0" stroke="#222"/>
<line x1="360.7" y1="430.8" x2="360.7" y2="428.3" stroke="#222"/>
<line x1="360.7" y1="250.5" x2="360.7" y2="253.0" stroke="#222"/>
<line x1="396.2" y1="430.8" x2="396.2" y2="428.3" stroke="#222"/>
<line x1="396.2" y1="250.5" x2="396.2" y2="253.0" stroke="#222"/>
<line x1="431.7" y1="430.8" x2="431.7" y2="428.3" stroke="#222"/>
<line x1="431.7" y1="250.5" x2="431.7" y2="253.0" stroke="#222"/>
<line x1="254.2" y1="273.1" x2="256.7" y2="273.1" stroke="#222"/>
<line x1="467.6" y1="273.1" x2="465.1" y2="273.1" stroke="#222"/>
<line x1="254.2" y1="318.2" x2="256.7" y2="318.2" stroke="#222"/>
<line x1="467.6" y1="318.2" x2="465.1" y2="318.2" stroke="#222"/>
<line x1="254.2" y1="363.3" x2="256.7" y2="363.3" stroke="#222"/>
<line x1="467.6" y1="363.3" x2="465.1" y2="363.3" stroke="#222"/>
<line x1="254.2" y1="408.2" x2="256.7" y2="408.2" stroke="#222"/>
<line x1="467.6" y1="408.2" x2="465.1" y2="408.2" stroke="#222"/>
<text x="325.2" y="445.3" text-anchor="middle">1.38</text>
<text x="396.2" y="445.3" text-anchor="middle">1.39</text>
<text x="360.0" y="459.4" text-anchor="middle">Photon energy (eV)</text>
<polyline points="254.8,285.1 255.3,285.0 255.8,284.9 256.3,285.2 256.8,285.2 257.3,285.1 257.8,285.2 258.3,285.0 258.8,284.9 259.3,284.9 259.8,284.8 260.3,284.9 260.8,285.1 261.3,285.5 261.8,285.5 262.3,285.3 262.8,285.3 263.3,285.2 263.8,285.2 264.3,285.3 264.8,285.4 265.3,285.6 265.8,285.2 266.3,285.0 266.8,285.2 267.3,285.1 267.8,284.6 268.3,284.5 268.8,285.0 269.3,285.4 269.8,285.3 270.3,285.4 270.8,285.4 271.3,285.2 271.8,285.0 272.3,284.7 272.8,284.7 273.3,284.9 273.8,284.7 274.3,284.4 274.8,284.4 275.3,284.3 275.8,284.1 276.3,284.1 276.8,283.9 277.3,283.5 277.8,283.7 278.3,283.8 278.8,283.5 279.3,283.5 279.8,283.7 280.3,283.4 280.8,283.1 281.3,283.0 281.8,283.2 282.3,283.2 282.8,282.9 283.3,282.8 283.8,283.2 284.3,283.3 284.8,283.1 285.3,282.9 285.8,283.0 286.3,283.1 286.8,283.1 287.3,282.9 287.8,283.0 288.3,283.0 288.8,283.0 289.3,283.2 289.8,283.4 290.3,283.4 290.8,283.5 291.3,283.4 291.8,283.7 292.3,284.0 292.8,284.2 293.3,284.2 293.8,283.9 294.3,283.9 294.8,284.4 295.3,284.9 295.8,285.2 296.3,285.0 296.8,284.8 297.3,284.9 297.8,284.7 298.3,284.9 298.8,285.5 299.3,285.5 299.8,285.4 300.3,285.5 300.8,285.6 301.3,285.6 301.8,285.4 302.3,285.0 302.8,285.0 303.3,285.6 303.8,285.8 304.3,285.6 304.8,285.4 305.3,285.3 305.8,285.3 306.3,285.6 306.8,285.7 307.3,285.5 307.8,285.2 308.3,284.4 308.8,283.2 309.3,283.2 309.8,284.2 310.3,285.3 310.8,285.6 311.3,284.9 311.8,283.2 312.3,279.8 312.8,275.5 313.3,273.7 313.8,276.4 314.3,280.8 314.8,283.3 315.3,284.2 315.8,284.5 316.3,284.4 316.8,284.5 317.3,283.9 317.8,281.2 318.3,277.0 318.8,274.1 319.3,275.0 319.8,278.5 320.3,281.5 320.8,282.7 321.3,283.1 321.8,283.2 322.3,283.1 322.8,282.7 323.3,281.7 323.8,278.8 324.3,273.2 324.8,268.1 325.3,267.6 325.8,272.4 326.3,278.5 326.8,282.7 327.3,284.8 327.8,285.4 328.3,285.0 328.8,285.0 329.3,285.0 329.8,284.9 330.3,285.1 330.8,285.5 331.3,285.5 331.8,285.4 332.3,285.5 332.8,285.4 333.3,285.4 333.8,285.3 334.3,285.3 334.8,285.4 335.3,285.5 335.8,285.7 336.3,285.8 336.8,285.7 337.3,285.6 337.8,285.4 338.3,285.2 338.8,285.2 339.3,285.5 339.8,285.6 340.3,285.5 340.8,285.6 341.3,285.5 341.8,285.5 342.3,285.7 342.8,285.5 343.3,285.4 343.8,285.8 344.3,285.8 344.8,285.4 345.3,285.2 345.8,285.0 346.3,285.2 346.8,285.5 347.3,285.5 347.8,285.3 348.3,285.5 348.8,285.8 349.3,285.6 349.8,285.6 350.3,285.9 350.8,285.8 351.3,285.6 351.8,285.3 352.3,285.1 352.8,285.2 353.3,285.4 353.8,285.6 354.3,285.7 354.8,285.8 355.3,285.8 355.8,285.6 356.3,285.3 356.8,285.1 357.3,285.2 357.8,285.4 358.3,285.4 358.8,285.4 359.3,285.3 359.8,285.3 360.3,285.6 360.8,285.6 361.3,285.6 361.8,285.7 362.3,285.6 362.8,285.5 363.3,285.8 363.8,286.0 364.3,285.9 364.8,286.0 365.3,286.3 365.8,286.1 366.3,285.9 366.8,286.0 367.3,285.9 367.8,285.6 368.3,285.7 368.8,285.8 369.3,285.7 369.8,285.8 370.3,285.8 370.8,285.5 371.3,285.4 371.8,285.7 372.3,285.9 372.8,285.7 373.3,285.5 373.8,285.6 374.3,285.8 374.8,285.7 375.3,285.3 375.8,285.2 376.3,285.0 376.8,284.7 377.3,284.8 377.8,285.1 378.3,284.8 378.8,284.7 379.3,284.9 379.8,285.0 380.3,284.7 380.8,284.3 381.3,284.3 381.8,284.3 382.3,284.0 382.8,283.8 383.3,284.1 383.8,284.1 384.3,283.4 384.8,282.9 385.3,282.9 385.8,283.2 386.3,283.4 386.8,283.5 387.3,283.4 387.8,283.3 388.3,283.3 388.8,283.3 389.3,283.3 389.8,283.7 390.3,284.1 390.8,284.0 391.3,283.5 391.8,283.5 392.3,283.6 392.8,283.6 393.3,283.7 393.8,284.1 394.3,284.4 394.8,284.4 395.3,284.2 395.8,284.2 396.3,284.4 396.8,284.7 397.3,285.1 397.8,285.2 398.3,285.3 398.8,285.4 399.3,285.5 399.8,285.3 400.3,285.0 400.8,285.2 401.3,285.8 401.8,286.1 402.3,286.0 402.8,285.9 403.3,285.5 403.8,284.4 404.3,283.5 404.8,283.9 405.3,285.1 405.8,285.7 406.3,285.9 406.8,286.1 407.3,286.0 407.8,286.0 408.3,285.9 408.8,284.5 409.3,281.4 409.8,278.0 410.3,276.7 410.8,278.9 411.3,282.3 411.8,284.1 412.3,283.8 412.8,282.6 413.3,281.6 413.8,281.5 414.3,282.2 414.8,279.5 415.3,268.4 415.8,255.0 416.3,257.1 416.8,271.8 417.3,281.7 417.8,284.2 418.3,284.3 418.8,284.3 419.3,284.4 419.8,284.4 420.3,284.1 420.8,283.3 421.3,280.9 421.8,276.6 422.3,272.5 422.8,272.0 423.3,275.9 423.8,280.8 424.3,283.7 424.8,285.2 425.3,285.8 425.8,285.5 426.3,285.7 426.8,286.0 427.3,286.1 427.8,286.3 428.3,286.1 428.8,286.4 429.3,286.8 429.8,286.6 430.3,286.4 430.8,286.2 431.3,286.2 431.8,286.3 432.3,286.1 432.8,286.2 433.3,286.4 433.8,286.2 434.3,286.2 434.8,286.2 435.3,286.2 435.8,286.5 436.3,286.4 436.8,286.1 437.3,286.1 437.8,286.1 438.3,286.2 438.8,286.2 439.3,286.3 439.8,286.4 440.3,286.4 440.8,286.5 441.3,286.6 441.8,286.5 442.3,286.3 442.8,286.1 443.3,286.2 443.8,286.5 444.3,286.9 444.8,287.1 445.3,286.9 445.8,286.6 446.3,286.4 446.8,286.5 447.3,286.6 447.8,286.8 448.3,286.7 448.8,286.3 449.3,286.4 449.8,286.7 450.3,286.6 450.8,286.6 451.3,286.6 451.8,286.5 452.3,286.3 452.8,286.2 453.3,286.1 453.8,286.3 454.3,286.3 454.8,286.2 455.3,286.4 455.8,286.6 456.3,286.6 456.8,286.3 457.3,286.2 457.8,286.2 458.3,286.3 458.8,286.5 459.3,286.6 459.8,286.8 460.3,287.0 460.8,286.9 461.3,286.7 461.8,286.6 462.3,286.6 462.8,286.8 463.3,286.8 463.8,286.5 464.3,286.7 464.8,286.9 465.3,286.9 465.8,286.7 466.3,286.3 466.8,286.2" fill="none" stroke="#ea1f2b" stroke-width="1.15" stroke-linejoin="round"/>
<polyline points="254.8,312.9 255.3,312.6 255.8,312.3 256.3,312.4 256.8,312.3 257.3,311.9 257.8,311.7 258.3,312.0 258.8,312.4 259.3,312.5 259.8,312.5 260.3,312.6 260.8,312.5 261.3,312.2 261.8,312.2 262.3,312.3 262.8,312.2 263.3,312.3 263.8,312.5 264.3,312.4 264.8,312.2 265.3,312.6 265.8,312.9 266.3,312.4 266.8,312.2 267.3,312.6 267.8,312.8 268.3,312.7 268.8,312.6 269.3,312.6 269.8,312.5 270.3,312.3 270.8,312.4 271.3,312.6 271.8,312.9 272.3,312.9 272.8,312.8 273.3,312.9 273.8,312.9 274.3,312.7 274.8,312.3 275.3,312.3 275.8,312.6 276.3,312.5 276.8,312.5 277.3,312.6 277.8,312.6 278.3,312.7 278.8,312.7 279.3,312.4 279.8,312.9 280.3,313.3 280.8,313.0 281.3,312.8 281.8,313.0 282.3,313.0 282.8,312.7 283.3,312.6 283.8,312.7 284.3,312.8 284.8,312.8 285.3,312.7 285.8,312.6 286.3,312.4 286.8,312.3 287.3,312.2 287.8,312.3 288.3,312.1 288.8,312.1 289.3,312.3 289.8,312.0 290.3,311.7 290.8,311.8 291.3,311.7 291.8,311.6 292.3,311.5 292.8,311.3 293.3,311.1 293.8,310.8 294.3,310.9 294.8,310.8 295.3,310.2 295.8,310.2 296.3,310.2 296.8,309.8 297.3,309.8 297.8,310.1 298.3,310.2 298.8,310.2 299.3,310.1 299.8,309.8 300.3,309.9 300.8,310.1 301.3,310.2 301.8,310.1 302.3,310.1 302.8,310.3 303.3,310.6 303.8,310.6 304.3,310.4 304.8,310.5 305.3,310.8 305.8,310.9 306.3,311.0 306.8,311.1 307.3,311.4 307.8,311.8 308.3,312.1 308.8,312.3 309.3,312.5 309.8,312.7 310.3,313.1 310.8,313.0 311.3,312.7 311.8,312.3 312.3,312.0 312.8,312.4 313.3,313.0 313.8,313.1 314.3,313.0 314.8,313.1 315.3,313.2 315.8,312.8 316.3,312.6 316.8,312.7 317.3,313.0 317.8,313.1 318.3,312.9 318.8,312.8 319.3,313.1 319.8,313.2 320.3,313.1 320.8,313.0 321.3,311.9 321.8,309.0 322.3,305.1 322.8,303.3 323.3,305.5 323.8,309.0 324.3,311.2 324.8,312.0 325.3,312.1 325.8,312.1 326.3,311.8 326.8,311.3 327.3,310.1 327.8,307.3 328.3,305.1 328.8,305.7 329.3,308.4 329.8,310.7 330.3,311.7 330.8,311.7 331.3,311.7 331.8,311.6 332.3,311.4 332.8,310.8 333.3,308.7 333.8,304.9 334.3,301.6 334.8,302.0 335.3,305.7 335.8,309.2 336.3,311.2 336.8,312.1 337.3,312.7 337.8,312.9 338.3,313.0 338.8,313.3 339.3,313.4 339.8,313.3 340.3,313.1 340.8,313.2 341.3,313.4 341.8,313.5 342.3,313.4 342.8,313.3 343.3,313.1 343.8,312.9 344.3,313.1 344.8,313.4 345.3,313.7 345.8,313.7 346.3,313.6 346.8,313.7 347.3,313.8 347.8,313.6 348.3,313.3 348.8,313.3 349.3,313.3 349.8,313.2 350.3,313.5 350.8,313.6 351.3,313.6 351.8,313.7 352.3,313.5 352.8,313.3 353.3,313.2 353.8,313.2 354.3,313.3 354.8,313.5 355.3,313.7 355.8,313.6 356.3,313.4 356.8,313.1 357.3,312.8 357.8,312.9 358.3,313.0 358.8,313.1 359.3,313.2 359.8,313.3 360.3,313.2 360.8,313.0 361.3,312.8 361.8,312.7 362.3,312.7 362.8,312.5 363.3,312.2 363.8,312.4 364.3,312.6 364.8,312.1 365.3,311.6 365.8,311.3 366.3,311.2 366.8,311.5 367.3,311.4 367.8,311.4 368.3,311.7 368.8,311.5 369.3,311.0 369.8,310.9 370.3,310.9 370.8,310.8 371.3,310.7 371.8,310.7 372.3,310.9 372.8,310.8 373.3,310.7 373.8,310.9 374.3,310.9 374.8,310.8 375.3,311.0 375.8,311.2 376.3,311.1 376.8,310.9 377.3,310.9 377.8,310.9 378.3,311.1 378.8,311.4 379.3,311.4 379.8,311.3 380.3,311.7 380.8,312.1 381.3,312.1 381.8,312.2 382.3,312.4 382.8,312.3 383.3,312.1 383.8,312.3 384.3,312.7 384.8,313.2 385.3,313.3 385.8,313.0 386.3,312.8 386.8,312.8 387.3,312.9 387.8,312.9 388.3,312.9 388.8,313.2 389.3,313.5 389.8,313.5 390.3,313.4 390.8,313.1 391.3,313.0 391.8,313.3 392.3,313.7 392.8,313.8 393.3,313.6 393.8,313.7 394.3,313.7 394.8,313.8 395.3,313.7 395.8,313.5 396.3,313.5 396.8,313.3 397.3,313.0 397.8,313.0 398.3,313.1 398.8,312.7 399.3,311.1 399.8,308.4 400.3,306.1 400.8,306.1 401.3,308.7 401.8,311.5 402.3,312.8 402.8,312.7 403.3,312.2 403.8,312.3 404.3,312.4 404.8,311.8 405.3,310.2 405.8,307.8 406.3,306.6 406.8,307.8 407.3,310.0 407.8,311.6 408.3,312.1 408.8,311.9 409.3,311.7 409.8,311.8 410.3,311.8 410.8,311.7 411.3,310.8 411.8,308.1 412.3,304.3 412.8,302.5 413.3,304.2 413.8,308.1 414.3,311.3 414.8,312.8 415.3,313.1 415.8,312.9 416.3,312.7 416.8,312.8 417.3,313.1 417.8,313.4 418.3,313.4 418.8,313.3 419.3,313.5 419.8,313.7 420.3,313.4 420.8,313.3 421.3,313.4 421.8,313.4 422.3,313.5 422.8,313.9 423.3,313.9 423.8,313.5 424.3,313.5 424.8,313.6 425.3,313.6 425.8,313.6 426.3,313.7 426.8,313.8 427.3,313.7 427.8,313.6 428.3,313.7 428.8,313.7 429.3,313.7 429.8,313.9 430.3,313.8 430.8,313.7 431.3,313.6 431.8,313.4 432.3,313.3 432.8,313.4 433.3,313.5 433.8,313.5 434.3,313.4 434.8,313.7 435.3,313.6 435.8,313.6 436.3,313.9 436.8,313.9 437.3,313.8 437.8,313.9 438.3,313.8 438.8,313.8 439.3,314.0 439.8,313.7 440.3,313.7 440.8,313.8 441.3,313.6 441.8,313.6 442.3,314.0 442.8,314.1 443.3,313.8 443.8,313.7 444.3,313.9 444.8,313.7 445.3,313.5 445.8,313.7 446.3,313.8 446.8,313.9 447.3,314.1 447.8,314.1 448.3,313.9 448.8,313.7 449.3,313.5 449.8,313.6 450.3,313.7 450.8,313.7 451.3,313.6 451.8,313.7 452.3,314.2 452.8,314.3 453.3,313.9 453.8,313.8 454.3,313.9 454.8,314.0 455.3,314.0 455.8,313.8 456.3,313.7 456.8,313.7 457.3,313.6 457.8,313.7 458.3,313.7 458.8,313.8 459.3,314.0 459.8,314.0 460.3,314.0 460.8,313.9 461.3,313.8 461.8,313.8 462.3,313.8 462.8,313.8 463.3,313.9 463.8,313.8 464.3,313.5 464.8,313.5 465.3,313.6 465.8,313.7 466.3,313.4 466.8,313.4" fill="none" stroke="#f7a81e" stroke-width="1.15" stroke-linejoin="round"/>
<polyline points="254.8,340.4 255.3,340.6 255.8,340.5 256.3,340.4 256.8,340.3 257.3,340.2 257.8,340.4 258.3,340.7 258.8,340.7 259.3,340.8 259.8,340.6 260.3,340.5 260.8,340.6 261.3,340.8 261.8,341.1 262.3,340.9 262.8,340.6 263.3,340.5 263.8,340.6 264.3,340.7 264.8,340.5 265.3,340.3 265.8,340.5 266.3,340.7 266.8,340.8 267.3,340.4 267.8,340.6 268.3,340.7 268.8,340.4 269.3,340.5 269.8,340.8 270.3,340.9 270.8,340.5 271.3,340.4 271.8,340.9 272.3,341.0 272.8,340.5 273.3,340.3 273.8,340.7 274.3,340.9 274.8,340.9 275.3,340.8 275.8,340.6 276.3,340.7 276.8,341.1 277.3,340.9 277.8,340.3 278.3,340.5 278.8,340.9 279.3,340.7 279.8,340.4 280.3,340.6 280.8,340.7 281.3,340.6 281.8,340.6 282.3,340.5 282.8,340.6 283.3,340.6 283.8,340.5 284.3,340.5 284.8,340.7 285.3,340.9 285.8,340.8 286.3,340.7 286.8,340.7 287.3,340.8 287.8,340.8 288.3,340.9 288.8,341.0 289.3,340.8 289.8,340.4 290.3,340.3 290.8,340.4 291.3,340.3 291.8,339.9 292.3,339.4 292.8,339.3 293.3,339.6 293.8,339.8 294.3,339.4 294.8,339.1 295.3,339.0 295.8,338.9 296.3,338.7 296.8,338.5 297.3,338.1 297.8,337.6 298.3,337.3 298.8,337.1 299.3,337.0 299.8,337.1 300.3,337.2 300.8,337.1 301.3,336.8 301.8,336.5 302.3,336.4 302.8,336.3 303.3,336.3 303.8,336.1 304.3,335.9 304.8,335.9 305.3,336.0 305.8,336.1 306.3,336.4 306.8,336.5 307.3,336.3 307.8,336.0 308.3,336.0 308.8,336.3 309.3,336.5 309.8,336.5 310.3,337.1 310.8,337.4 311.3,337.4 311.8,337.5 312.3,337.8 312.8,338.1 313.3,338.1 313.8,338.6 314.3,339.2 314.8,339.2 315.3,339.2 315.8,339.2 316.3,339.2 316.8,339.6 317.3,339.8 317.8,339.8 318.3,340.1 318.8,340.5 319.3,340.4 319.8,340.0 320.3,339.9 320.8,340.2 321.3,340.7 321.8,340.9 322.3,340.8 322.8,340.5 323.3,340.4 323.8,340.7 324.3,340.7 324.8,340.7 325.3,340.8 325.8,341.0 326.3,340.9 326.8,340.5 327.3,340.3 327.8,340.6 328.3,340.9 328.8,340.8 329.3,340.7 329.8,340.8 330.3,340.7 330.8,339.8 331.3,337.3 331.8,333.9 332.3,332.2 332.8,334.0 333.3,337.1 333.8,339.4 334.3,340.6 334.8,341.1 335.3,341.2 335.8,341.2 336.3,340.7 336.8,339.4 337.3,337.3 337.8,335.5 338.3,335.6 338.8,337.5 339.3,339.6 339.8,340.7 340.3,340.9 340.8,340.9 341.3,341.0 341.8,341.1 342.3,340.8 342.8,339.6 343.3,336.8 343.8,333.4 344.3,332.3 344.8,334.7 345.3,338.0 345.8,339.7 346.3,340.8 346.8,341.4 347.3,341.0 347.8,340.7 348.3,340.9 348.8,341.2 349.3,341.1 349.8,341.0 350.3,340.9 350.8,341.1 351.3,341.4 351.8,341.0 352.3,340.5 352.8,340.5 353.3,340.6 353.8,340.7 354.3,340.6 354.8,340.3 355.3,340.0 355.8,340.0 356.3,339.9 356.8,339.6 357.3,339.3 357.8,339.2 358.3,339.2 358.8,339.0 359.3,338.8 359.8,338.8 360.3,338.7 360.8,338.3 361.3,338.1 361.8,338.2 362.3,338.0 362.8,337.6 363.3,337.5 363.8,337.5 364.3,337.7 364.8,337.9 365.3,337.8 365.8,337.8 366.3,338.0 366.8,338.4 367.3,338.6 367.8,338.4 368.3,338.0 368.8,338.2 369.3,338.7 369.8,338.8 370.3,338.9 370.8,339.0 371.3,339.1 371.8,339.5 372.3,339.7 372.8,339.8 373.3,339.9 373.8,340.0 374.3,340.0 374.8,339.1 375.3,335.6 375.8,331.0 376.3,331.7 376.8,336.3 377.3,339.4 377.8,340.6 378.3,340.1 378.8,336.6 379.3,330.1 379.8,327.4 380.3,332.8 380.8,338.8 381.3,341.1 381.8,341.1 382.3,341.1 382.8,341.3 383.3,341.3 383.8,341.5 384.3,341.2 384.8,341.0 385.3,341.3 385.8,341.3 386.3,341.0 386.8,341.0 387.3,341.1 387.8,341.0 388.3,340.6 388.8,339.9 389.3,338.8 389.8,336.8 390.3,334.9 390.8,335.0 391.3,336.9 391.8,338.8 392.3,339.7 392.8,339.9 393.3,339.9 393.8,339.6 394.3,339.2 394.8,338.5 395.3,337.1 395.8,335.5 396.3,335.0 396.8,336.5 397.3,338.4 397.8,339.4 398.3,339.6 398.8,339.9 399.3,340.4 399.8,340.4 400.3,339.8 400.8,339.0 401.3,337.0 401.8,333.9 402.3,331.8 402.8,332.6 403.3,335.7 403.8,338.8 404.3,340.5 404.8,340.7 405.3,340.9 405.8,341.2 406.3,341.3 406.8,341.4 407.3,341.6 407.8,341.8 408.3,341.9 408.8,341.8 409.3,341.6 409.8,341.3 410.3,341.4 410.8,341.8 411.3,342.1 411.8,342.3 412.3,342.2 412.8,341.9 413.3,341.8 413.8,341.9 414.3,341.7 414.8,341.5 415.3,341.5 415.8,341.7 416.3,341.6 416.8,341.5 417.3,341.6 417.8,341.7 418.3,341.7 418.8,341.6 419.3,341.4 419.8,341.6 420.3,341.8 420.8,341.7 421.3,341.6 421.8,341.4 422.3,341.3 422.8,341.6 423.3,341.8 423.8,341.6 424.3,341.7 424.8,341.6 425.3,341.5 425.8,341.6 426.3,341.9 426.8,342.0 427.3,341.8 427.8,341.9 428.3,341.9 428.8,341.3 429.3,341.3 429.8,341.7 430.3,341.8 430.8,342.0 431.3,342.1 431.8,341.8 432.3,341.3 432.8,341.2 433.3,341.5 433.8,341.7 434.3,341.9 434.8,341.8 435.3,341.8 435.8,342.2 436.3,342.4 436.8,342.0 437.3,341.7 437.8,341.6 438.3,341.7 438.8,341.7 439.3,341.7 439.8,341.9 440.3,342.1 440.8,342.0 441.3,342.0 441.8,342.2 442.3,341.8 442.8,341.4 443.3,341.5 443.8,342.0 444.3,342.1 444.8,342.0 445.3,341.8 445.8,341.9 446.3,342.0 446.8,341.9 447.3,341.8 447.8,341.8 448.3,342.0 448.8,341.8 449.3,341.7 449.8,341.9 450.3,342.0 450.8,342.1 451.3,342.3 451.8,342.4 452.3,342.3 452.8,342.0 453.3,341.8 453.8,342.0 454.3,342.3 454.8,342.5 455.3,342.4 455.8,342.0 456.3,341.8 456.8,342.2 457.3,342.3 457.8,342.1 458.3,342.2 458.8,342.3 459.3,342.1 459.8,342.0 460.3,342.1 460.8,342.1 461.3,342.2 461.8,342.5 462.3,342.5 462.8,342.0 463.3,341.8 463.8,342.1 464.3,342.3 464.8,342.1 465.3,341.8 465.8,341.8 466.3,341.9 466.8,342.1" fill="none" stroke="#25bb6a" stroke-width="1.15" stroke-linejoin="round"/>
<polyline points="254.8,366.9 255.3,366.8 255.8,366.6 256.3,366.6 256.8,366.7 257.3,366.5 257.8,366.7 258.3,367.0 258.8,367.0 259.3,366.8 259.8,366.6 260.3,366.4 260.8,366.3 261.3,366.6 261.8,367.1 262.3,367.3 262.8,367.1 263.3,366.9 263.8,366.7 264.3,366.5 264.8,366.6 265.3,366.7 265.8,366.6 266.3,366.7 266.8,366.4 267.3,366.1 267.8,366.1 268.3,366.1 268.8,366.3 269.3,366.7 269.8,366.8 270.3,366.8 270.8,367.0 271.3,367.0 271.8,366.8 272.3,366.9 272.8,366.9 273.3,366.8 273.8,366.6 274.3,366.4 274.8,366.4 275.3,366.6 275.8,366.8 276.3,366.7 276.8,366.7 277.3,367.0 277.8,367.1 278.3,367.1 278.8,367.0 279.3,366.7 279.8,366.6 280.3,366.7 280.8,366.6 281.3,366.7 281.8,367.0 282.3,366.7 282.8,366.5 283.3,366.9 283.8,367.1 284.3,367.0 284.8,366.9 285.3,366.7 285.8,366.5 286.3,366.5 286.8,366.8 287.3,367.0 287.8,366.8 288.3,366.8 288.8,366.7 289.3,366.7 289.8,366.9 290.3,367.0 290.8,366.7 291.3,366.5 291.8,366.6 292.3,366.8 292.8,367.1 293.3,367.0 293.8,366.7 294.3,366.5 294.8,366.4 295.3,366.6 295.8,366.8 296.3,366.9 296.8,366.8 297.3,366.6 297.8,366.7 298.3,366.9 298.8,366.5 299.3,366.3 299.8,366.5 300.3,366.5 300.8,366.6 301.3,366.8 301.8,366.7 302.3,366.7 302.8,366.8 303.3,367.0 303.8,367.0 304.3,366.6 304.8,366.4 305.3,366.3 305.8,366.5 306.3,366.5 306.8,366.2 307.3,366.1 307.8,365.9 308.3,365.6 308.8,365.7 309.3,366.1 309.8,366.0 310.3,365.7 310.8,365.6 311.3,365.4 311.8,365.0 312.3,365.2 312.8,365.5 313.3,365.2 313.8,365.0 314.3,364.9 314.8,364.7 315.3,364.8 315.8,364.9 316.3,364.8 316.8,364.7 317.3,364.6 317.8,364.7 318.3,364.9 318.8,365.1 319.3,365.1 319.8,364.7 320.3,364.5 320.8,365.0 321.3,365.3 321.8,364.9 322.3,364.8 322.8,365.1 323.3,365.5 323.8,365.5 324.3,365.6 324.8,366.0 325.3,366.3 325.8,366.2 326.3,366.1 326.8,366.3 327.3,366.7 327.8,366.8 328.3,366.5 328.8,366.2 329.3,366.4 329.8,366.6 330.3,366.7 330.8,366.9 331.3,367.0 331.8,367.0 332.3,367.1 332.8,366.9 333.3,366.7 333.8,367.0 334.3,367.2 334.8,366.9 335.3,366.8 335.8,367.1 336.3,367.0 336.8,366.7 337.3,366.7 337.8,367.1 338.3,367.4 338.8,367.4 339.3,367.3 339.8,367.1 340.3,366.7 340.8,365.5 341.3,362.9 341.8,360.4 342.3,361.0 342.8,363.8 343.3,365.9 343.8,366.5 344.3,365.2 344.8,362.6 345.3,361.3 345.8,362.6 346.3,364.9 346.8,365.5 347.3,363.4 347.8,360.4 348.3,359.9 348.8,362.5 349.3,365.2 349.8,366.4 350.3,366.6 350.8,366.6 351.3,366.5 351.8,366.1 352.3,364.8 352.8,361.9 353.3,356.1 353.8,348.0 354.3,342.6 354.8,344.3 355.3,351.0 355.8,357.0 356.3,359.6 356.8,359.7 357.3,359.2 357.8,358.7 358.3,358.3 358.8,357.9 359.3,357.6 359.8,357.5 360.3,357.6 360.8,357.8 361.3,358.0 361.8,358.4 362.3,358.7 362.8,359.2 363.3,360.0 363.8,360.7 364.3,361.1 364.8,361.8 365.3,362.5 365.8,362.7 366.3,362.9 366.8,363.3 367.3,363.6 367.8,364.2 368.3,365.0 368.8,365.2 369.3,365.4 369.8,365.6 370.3,365.9 370.8,366.1 371.3,366.2 371.8,366.3 372.3,366.7 372.8,367.0 373.3,367.1 373.8,367.0 374.3,366.9 374.8,367.5 375.3,368.0 375.8,367.8 376.3,367.4 376.8,367.3 377.3,367.4 377.8,367.4 378.3,367.6 378.8,367.6 379.3,367.7 379.8,366.8 380.3,364.5 380.8,362.7 381.3,362.9 381.8,364.8 382.3,366.6 382.8,367.2 383.3,366.5 383.8,365.1 384.3,365.1 384.8,366.2 385.3,366.8 385.8,365.5 386.3,362.4 386.8,360.6 387.3,362.5 387.8,365.7 388.3,367.7 388.8,368.4 389.3,368.2 389.8,367.9 390.3,367.5 390.8,365.9 391.3,362.8 391.8,357.6 392.3,351.2 392.8,347.3 393.3,348.7 393.8,354.2 394.3,359.6 394.8,362.5 395.3,363.4 395.8,363.6 396.3,363.4 396.8,363.1 397.3,363.2 397.8,363.5 398.3,363.9 398.8,364.5 399.3,364.8 399.8,365.0 400.3,365.4 400.8,365.9 401.3,366.4 401.8,366.9 402.3,367.4 402.8,367.8 403.3,368.0 403.8,367.9 404.3,368.0 404.8,368.4 405.3,368.6 405.8,368.6 406.3,368.7 406.8,368.8 407.3,368.9 407.8,368.8 408.3,368.6 408.8,368.4 409.3,368.5 409.8,368.5 410.3,368.5 410.8,368.6 411.3,368.8 411.8,368.8 412.3,368.4 412.8,368.4 413.3,368.6 413.8,368.8 414.3,368.7 414.8,368.7 415.3,368.7 415.8,368.9 416.3,368.9 416.8,368.8 417.3,368.6 417.8,368.5 418.3,368.8 418.8,368.9 419.3,368.9 419.8,368.8 420.3,368.3 420.8,368.1 421.3,368.3 421.8,368.6 422.3,368.8 422.8,368.9 423.3,369.0 423.8,369.0 424.3,368.8 424.8,368.5 425.3,368.8 425.8,369.1 426.3,368.7 426.8,368.9 427.3,369.4 427.8,369.2 428.3,368.9 428.8,369.1 429.3,369.4 429.8,369.3 430.3,369.1 430.8,369.2 431.3,369.4 431.8,369.6 432.3,369.5 432.8,369.1 433.3,368.9 433.8,369.3 434.3,369.7 434.8,369.6 435.3,369.6 435.8,369.7 436.3,369.4 436.8,369.3 437.3,369.3 437.8,369.3 438.3,369.5 438.8,369.6 439.3,369.3 439.8,369.0 440.3,369.1 440.8,369.3 441.3,369.4 441.8,369.4 442.3,369.3 442.8,369.4 443.3,369.7 443.8,369.7 444.3,369.7 444.8,369.7 445.3,369.4 445.8,369.3 446.3,369.7 446.8,369.8 447.3,369.6 447.8,369.2 448.3,368.9 448.8,369.0 449.3,369.4 449.8,369.9 450.3,369.9 450.8,369.8 451.3,369.8 451.8,369.9 452.3,369.8 452.8,369.8 453.3,369.6 453.8,369.4 454.3,369.7 454.8,370.0 455.3,369.9 455.8,369.7 456.3,369.7 456.8,369.9 457.3,370.1 457.8,369.9 458.3,369.4 458.8,369.2 459.3,369.4 459.8,369.4 460.3,369.5 460.8,370.1 461.3,370.1 461.8,369.8 462.3,370.1 462.8,370.2 463.3,370.1 463.8,370.0 464.3,369.7 464.8,369.6 465.3,369.6 465.8,369.9 466.3,370.1 466.8,370.0" fill="none" stroke="#1fadef" stroke-width="1.15" stroke-linejoin="round"/>
<polyline points="254.8,394.6 255.3,394.6 255.8,394.8 256.3,394.9 256.8,395.0 257.3,394.7 257.8,394.5 258.3,394.7 258.8,394.8 259.3,394.8 259.8,395.1 260.3,395.2 260.8,395.0 261.3,395.0 261.8,395.1 262.3,394.8 262.8,394.6 263.3,394.6 263.8,394.9 264.3,395.0 264.8,394.9 265.3,395.0 265.8,395.2 266.3,395.0 266.8,394.7 267.3,394.7 267.8,394.9 268.3,394.9 268.8,394.8 269.3,394.6 269.8,394.4 270.3,394.3 270.8,394.4 271.3,394.6 271.8,394.5 272.3,394.4 272.8,394.2 273.3,394.1 273.8,394.2 274.3,394.4 274.8,394.3 275.3,394.2 275.8,394.0 276.3,393.9 276.8,393.7 277.3,393.7 277.8,393.8 278.3,393.9 278.8,393.8 279.3,393.8 279.8,393.8 280.3,393.7 280.8,393.7 281.3,393.6 281.8,393.4 282.3,393.3 282.8,393.2 283.3,393.2 283.8,393.3 284.3,393.4 284.8,393.3 285.3,392.9 285.8,392.7 286.3,392.9 286.8,393.1 287.3,393.2 287.8,393.0 288.3,393.1 288.8,393.2 289.3,393.1 289.8,393.3 290.3,393.7 290.8,393.8 291.3,393.6 291.8,393.4 292.3,393.3 292.8,393.6 293.3,393.7 293.8,393.7 294.3,393.7 294.8,393.8 295.3,393.9 295.8,394.2 296.3,394.4 296.8,394.2 297.3,393.8 297.8,393.8 298.3,393.9 298.8,394.2 299.3,394.5 299.8,394.6 300.3,394.5 300.8,394.6 301.3,394.4 301.8,394.2 302.3,394.3 302.8,394.6 303.3,394.9 303.8,394.9 304.3,395.2 304.8,395.3 305.3,395.0 305.8,394.9 306.3,394.9 306.8,395.0 307.3,395.2 307.8,395.2 308.3,395.4 308.8,395.4 309.3,395.3 309.8,395.2 310.3,395.1 310.8,395.0 311.3,394.9 311.8,395.1 312.3,395.1 312.8,395.2 313.3,395.3 313.8,395.0 314.3,394.8 314.8,394.8 315.3,394.6 315.8,394.5 316.3,394.5 316.8,394.6 317.3,394.8 317.8,395.1 318.3,395.2 318.8,395.2 319.3,395.1 319.8,394.8 320.3,394.6 320.8,394.6 321.3,394.3 321.8,394.2 322.3,394.4 322.8,394.3 323.3,394.1 323.8,394.0 324.3,393.8 324.8,393.3 325.3,393.2 325.8,393.1 326.3,393.1 326.8,393.3 327.3,393.5 327.8,393.3 328.3,393.1 328.8,393.0 329.3,393.0 329.8,393.3 330.3,393.5 330.8,393.4 331.3,393.2 331.8,393.5 332.3,393.9 332.8,394.2 333.3,394.2 333.8,394.1 334.3,394.2 334.8,394.4 335.3,394.5 335.8,394.8 336.3,394.8 336.8,394.7 337.3,394.7 337.8,394.5 338.3,394.6 338.8,395.0 339.3,394.9 339.8,394.6 340.3,394.8 340.8,395.2 341.3,395.5 341.8,395.6 342.3,395.2 342.8,394.8 343.3,395.0 343.8,395.2 344.3,395.3 344.8,395.2 345.3,395.2 345.8,395.5 346.3,395.5 346.8,395.1 347.3,395.0 347.8,395.2 348.3,395.2 348.8,395.3 349.3,395.3 349.8,394.8 350.3,394.0 350.8,392.2 351.3,388.7 351.8,385.9 352.3,386.4 352.8,389.6 353.3,392.7 353.8,394.3 354.3,394.5 354.8,394.7 355.3,394.8 355.8,394.4 356.3,393.8 356.8,392.5 357.3,389.8 357.8,387.6 358.3,388.2 358.8,390.5 359.3,392.6 359.8,393.6 360.3,393.8 360.8,393.8 361.3,394.2 361.8,394.4 362.3,393.1 362.8,389.6 363.3,385.0 363.8,382.8 364.3,385.1 364.8,389.5 365.3,392.6 365.8,393.7 366.3,393.9 366.8,393.8 367.3,393.8 367.8,393.9 368.3,393.8 368.8,393.7 369.3,393.6 369.8,392.8 370.3,390.7 370.8,388.0 371.3,387.1 371.8,389.0 372.3,392.0 372.8,393.7 373.3,394.1 373.8,394.4 374.3,394.4 374.8,394.3 375.3,394.4 375.8,394.2 376.3,393.2 376.8,391.3 377.3,390.1 377.8,391.3 378.3,393.7 378.8,395.0 379.3,395.4 379.8,395.2 380.3,394.9 380.8,394.9 381.3,394.9 381.8,393.6 382.3,390.8 382.8,388.6 383.3,388.9 383.8,391.2 384.3,393.9 384.8,395.7 385.3,396.2 385.8,396.1 386.3,396.0 386.8,395.7 387.3,395.3 387.8,395.4 388.3,395.7 388.8,396.1 389.3,396.3 389.8,396.2 390.3,395.8 390.8,395.7 391.3,396.0 391.8,396.0 392.3,395.7 392.8,395.6 393.3,396.0 393.8,396.2 394.3,396.0 394.8,396.0 395.3,396.2 395.8,396.3 396.3,396.3 396.8,396.4 397.3,396.1 397.8,395.9 398.3,395.7 398.8,395.5 399.3,395.8 399.8,396.3 400.3,396.2 400.8,396.0 401.3,395.9 401.8,395.8 402.3,396.0 402.8,396.3 403.3,396.3 403.8,396.2 404.3,396.5 404.8,396.6 405.3,396.4 405.8,396.2 406.3,395.8 406.8,395.8 407.3,396.2 407.8,396.4 408.3,396.3 408.8,396.2 409.3,396.3 409.8,396.6 410.3,396.7 410.8,396.3 411.3,396.1 411.8,396.5 412.3,396.7 412.8,396.6 413.3,396.7 413.8,396.9 414.3,396.7 414.8,396.3 415.3,396.0 415.8,396.0 416.3,396.2 416.8,396.4 417.3,396.4 417.8,396.5 418.3,396.6 418.8,396.4 419.3,396.3 419.8,396.4 420.3,396.3 420.8,396.5 421.3,395.7 421.8,384.1 422.3,392.6 422.8,396.7 423.3,396.5 423.8,396.2 424.3,396.1 424.8,396.2 425.3,396.4 425.8,396.5 426.3,396.5 426.8,396.1 427.3,396.0 427.8,396.3 428.3,396.6 428.8,396.6 429.3,396.4 429.8,396.5 430.3,396.7 430.8,396.7 431.3,396.5 431.8,396.4 432.3,396.8 432.8,396.9 433.3,397.0 433.8,397.0 434.3,396.8 434.8,396.7 435.3,396.9 435.8,396.9 436.3,396.8 436.8,396.7 437.3,396.7 437.8,397.0 438.3,397.0 438.8,397.1 439.3,397.0 439.8,396.7 440.3,396.8 440.8,397.1 441.3,396.8 441.8,396.6 442.3,397.0 442.8,397.0 443.3,396.8 443.8,396.8 444.3,396.6 444.8,396.5 445.3,396.7 445.8,396.7 446.3,396.6 446.8,396.7 447.3,396.7 447.8,396.9 448.3,397.0 448.8,397.1 449.3,396.8 449.8,396.5 450.3,396.6 450.8,397.0 451.3,397.4 451.8,397.3 452.3,397.1 452.8,397.0 453.3,397.0 453.8,397.1 454.3,397.2 454.8,397.3 455.3,397.3 455.8,397.1 456.3,397.0 456.8,396.9 457.3,397.1 457.8,397.7 458.3,398.1 458.8,397.7 459.3,397.1 459.8,397.1 460.3,397.1 460.8,396.9 461.3,396.9 461.8,397.1 462.3,397.1 462.8,397.5 463.3,397.5 463.8,397.2 464.3,396.9 464.8,396.8 465.3,396.9 465.8,397.3 466.3,397.5 466.8,397.4" fill="none" stroke="#1e22e0" stroke-width="1.15" stroke-linejoin="round"/>
<polyline points="254.8,423.3 255.3,423.2 255.8,423.2 256.3,423.0 256.8,423.3 257.3,423.7 257.8,423.7 258.3,423.3 258.8,423.3 259.3,423.7 259.8,423.7 260.3,423.1 260.8,423.1 261.3,423.4 261.8,423.5 262.3,423.3 262.8,423.3 263.3,423.6 263.8,423.8 264.3,423.6 264.8,423.3 265.3,423.4 265.8,423.6 266.3,423.5 266.8,423.2 267.3,423.1 267.8,423.0 268.3,422.9 268.8,422.9 269.3,422.9 269.8,423.0 270.3,423.1 270.8,423.5 271.3,423.6 271.8,423.3 272.3,423.2 272.8,423.2 273.3,422.9 273.8,422.9 274.3,423.4 274.8,423.7 275.3,423.6 275.8,423.3 276.3,423.1 276.8,423.2 277.3,423.4 277.8,423.2 278.3,423.0 278.8,422.9 279.3,423.1 279.8,423.5 280.3,423.5 280.8,423.1 281.3,423.0 281.8,423.2 282.3,423.3 282.8,423.2 283.3,423.0 283.8,422.8 284.3,423.0 284.8,423.4 285.3,423.5 285.8,423.2 286.3,423.2 286.8,423.4 287.3,423.3 287.8,423.2 288.3,423.3 288.8,423.5 289.3,423.5 289.8,423.4 290.3,423.1 290.8,423.0 291.3,422.9 291.8,422.6 292.3,422.7 292.8,422.8 293.3,422.7 293.8,422.9 294.3,422.9 294.8,422.7 295.3,422.8 295.8,422.8 296.3,422.8 296.8,422.5 297.3,422.3 297.8,422.5 298.3,422.8 298.8,422.6 299.3,422.2 299.8,422.1 300.3,422.1 300.8,422.3 301.3,422.6 301.8,422.7 302.3,422.4 302.8,422.5 303.3,422.6 303.8,422.4 304.3,422.4 304.8,422.5 305.3,422.7 305.8,422.8 306.3,422.7 306.8,422.9 307.3,423.0 307.8,423.2 308.3,423.2 308.8,423.2 309.3,423.2 309.8,423.1 310.3,422.8 310.8,422.7 311.3,422.8 311.8,423.1 312.3,422.9 312.8,422.4 313.3,422.4 313.8,422.6 314.3,422.4 314.8,422.6 315.3,423.1 315.8,423.0 316.3,422.7 316.8,423.0 317.3,423.2 317.8,423.1 318.3,423.1 318.8,423.0 319.3,422.9 319.8,423.0 320.3,423.3 320.8,423.6 321.3,423.7 321.8,423.3 322.3,422.9 322.8,423.2 323.3,423.6 323.8,423.6 324.3,423.5 324.8,423.5 325.3,423.7 325.8,423.6 326.3,423.5 326.8,423.4 327.3,423.3 327.8,423.3 328.3,422.9 328.8,422.9 329.3,423.1 329.8,423.1 330.3,423.1 330.8,422.9 331.3,422.9 331.8,423.0 332.3,422.7 332.8,422.3 333.3,422.0 333.8,422.0 334.3,422.2 334.8,422.2 335.3,421.9 335.8,421.8 336.3,421.7 336.8,421.4 337.3,421.5 337.8,421.6 338.3,421.6 338.8,421.7 339.3,421.6 339.8,421.9 340.3,422.4 340.8,422.6 341.3,422.5 341.8,422.6 342.3,422.7 342.8,423.0 343.3,423.3 343.8,423.4 344.3,423.2 344.8,423.1 345.3,422.8 345.8,422.4 346.3,422.7 346.8,423.3 347.3,423.5 347.8,423.6 348.3,423.9 348.8,424.0 349.3,423.9 349.8,424.1 350.3,424.3 350.8,423.9 351.3,423.8 351.8,424.0 352.3,423.9 352.8,423.7 353.3,423.7 353.8,423.8 354.3,424.0 354.8,424.2 355.3,424.1 355.8,423.9 356.3,423.5 356.8,423.6 357.3,423.6 357.8,423.7 358.3,423.8 358.8,423.3 359.3,422.9 359.8,422.7 360.3,421.0 360.8,416.7 361.3,412.9 361.8,414.4 362.3,418.4 362.8,420.1 363.3,419.0 363.8,415.3 364.3,410.9 364.8,410.8 365.3,414.3 365.8,416.1 366.3,413.5 366.8,408.4 367.3,407.8 367.8,412.7 368.3,416.7 368.8,417.9 369.3,418.3 369.8,418.5 370.3,418.4 370.8,418.5 371.3,418.2 371.8,415.0 372.3,406.6 372.8,392.9 373.3,380.2 373.8,379.1 374.3,391.0 374.8,405.8 375.3,415.1 375.8,418.0 376.3,416.6 376.8,413.1 377.3,409.9 377.8,409.2 378.3,411.5 378.8,415.6 379.3,419.3 379.8,421.4 380.3,422.6 380.8,423.4 381.3,423.6 381.8,423.6 382.3,423.7 382.8,423.8 383.3,423.9 383.8,423.9 384.3,424.0 384.8,424.1 385.3,424.2 385.8,424.1 386.3,423.8 386.8,423.9 387.3,424.3 387.8,424.3 388.3,424.2 388.8,424.2 389.3,424.1 389.8,424.0 390.3,423.8 390.8,423.9 391.3,424.2 391.8,424.5 392.3,424.5 392.8,424.4 393.3,424.5 393.8,424.2 394.3,423.7 394.8,423.8 395.3,424.4 395.8,424.5 396.3,424.2 396.8,424.1 397.3,424.2 397.8,424.6 398.3,424.7 398.8,424.8 399.3,424.3 399.8,424.0 400.3,424.3 400.8,424.4 401.3,424.5 401.8,424.7 402.3,424.7 402.8,424.7 403.3,424.5 403.8,424.4 404.3,424.5 404.8,424.6 405.3,424.8 405.8,424.8 406.3,424.7 406.8,424.7 407.3,424.7 407.8,424.6 408.3,424.7 408.8,424.7 409.3,424.6 409.8,424.4 410.3,424.5 410.8,424.6 411.3,424.4 411.8,424.4 412.3,424.5 412.8,424.6 413.3,424.6 413.8,424.8 414.3,425.0 414.8,424.7 415.3,424.4 415.8,424.6 416.3,424.8 416.8,424.8 417.3,424.9 417.8,424.9 418.3,424.8 418.8,424.6 419.3,424.5 419.8,424.6 420.3,424.7 420.8,424.9 421.3,424.8 421.8,424.7 422.3,424.8 422.8,424.7 423.3,424.4 423.8,424.4 424.3,424.5 424.8,424.6 425.3,424.7 425.8,424.6 426.3,424.7 426.8,424.9 427.3,424.8 427.8,424.5 428.3,424.5 428.8,424.8 429.3,425.0 429.8,424.9 430.3,424.7 430.8,424.8 431.3,424.8 431.8,425.0 432.3,425.2 432.8,425.2 433.3,425.2 433.8,425.1 434.3,425.0 434.8,425.2 435.3,425.3 435.8,425.1 436.3,424.9 436.8,425.0 437.3,425.0 437.8,425.1 438.3,425.4 438.8,425.3 439.3,425.0 439.8,425.1 440.3,425.3 440.8,425.3 441.3,425.3 441.8,425.4 442.3,425.3 442.8,424.8 443.3,424.7 443.8,424.8 444.3,425.1 444.8,425.4 445.3,425.2 445.8,424.9 446.3,425.0 446.8,425.2 447.3,425.0 447.8,425.0 448.3,424.9 448.8,424.8 449.3,425.1 449.8,425.3 450.3,425.1 450.8,424.9 451.3,424.8 451.8,424.9 452.3,425.1 452.8,425.2 453.3,425.3 453.8,425.6 454.3,425.5 454.8,425.1 455.3,425.1 455.8,425.4 456.3,425.4 456.8,425.6 457.3,425.6 457.8,425.2 458.3,425.1 458.8,425.1 459.3,424.9 459.8,424.9 460.3,425.1 460.8,425.3 461.3,425.2 461.8,425.1 462.3,425.0 462.8,425.1 463.3,425.2 463.8,424.9 464.3,425.0 464.8,425.2 465.3,425.1 465.8,422.4 466.3,413.5 466.8,422.3" fill="none" stroke="#1a1a1a" stroke-width="1.15" stroke-linejoin="round"/>
<text font-weight="bold" x="257.6" y="240.9" font-size="13">d</text>
<text x="349.6" y="241.8">MX<tspan font-size="7.5" dy="-3">0</tspan></text>
<rect x="471.4" y="250.5" width="213.0" height="180.3" fill="none" stroke="#333" stroke-width="1"/>
<line x1="506.9" y1="430.8" x2="506.9" y2="428.3" stroke="#222"/>
<line x1="506.9" y1="250.5" x2="506.9" y2="253.0" stroke="#222"/>
<line x1="542.4" y1="430.8" x2="542.4" y2="428.3" stroke="#222"/>
<line x1="542.4" y1="250.5" x2="542.4" y2="253.0" stroke="#222"/>
<line x1="577.9" y1="430.8" x2="577.9" y2="428.3" stroke="#222"/>
<line x1="577.9" y1="250.5" x2="577.9" y2="253.0" stroke="#222"/>
<line x1="613.4" y1="430.8" x2="613.4" y2="428.3" stroke="#222"/>
<line x1="613.4" y1="250.5" x2="613.4" y2="253.0" stroke="#222"/>
<line x1="648.9" y1="430.8" x2="648.9" y2="428.3" stroke="#222"/>
<line x1="648.9" y1="250.5" x2="648.9" y2="253.0" stroke="#222"/>
<line x1="471.4" y1="273.1" x2="473.9" y2="273.1" stroke="#222"/>
<line x1="684.4" y1="273.1" x2="681.9" y2="273.1" stroke="#222"/>
<line x1="471.4" y1="318.2" x2="473.9" y2="318.2" stroke="#222"/>
<line x1="684.4" y1="318.2" x2="681.9" y2="318.2" stroke="#222"/>
<line x1="471.4" y1="363.3" x2="473.9" y2="363.3" stroke="#222"/>
<line x1="684.4" y1="363.3" x2="681.9" y2="363.3" stroke="#222"/>
<line x1="471.4" y1="408.2" x2="473.9" y2="408.2" stroke="#222"/>
<line x1="684.4" y1="408.2" x2="681.9" y2="408.2" stroke="#222"/>
<text x="542.4" y="445.3" text-anchor="middle">1.38</text>
<text x="613.4" y="445.3" text-anchor="middle">1.39</text>
<text x="577.9" y="459.4" text-anchor="middle">Photon energy (eV)</text>
<polyline points="472.0,278.8 472.5,278.8 473.0,278.9 473.5,279.0 474.0,279.1 474.5,279.3 475.0,279.3 475.5,279.3 476.0,279.1 476.5,278.8 477.0,278.9 477.5,278.9 478.0,278.8 478.5,279.1 479.0,279.1 479.5,278.9 480.0,278.8 480.5,278.9 481.0,279.0 481.5,278.9 482.0,278.7 482.5,278.7 483.0,278.9 483.5,278.7 484.0,278.3 484.5,278.5 485.0,278.7 485.5,278.9 486.0,278.8 486.5,278.7 487.0,278.9 487.5,279.2 488.0,279.3 488.5,279.0 489.0,278.6 489.5,278.4 490.0,278.3 490.5,278.3 491.0,278.1 491.5,277.5 492.0,277.1 492.5,276.6 493.0,275.3 493.5,272.6 494.0,267.5 494.5,261.4 495.0,257.4 495.5,257.6 496.0,261.7 496.5,267.3 497.0,271.5 497.5,273.4 498.0,274.0 498.5,274.0 499.0,273.5 499.5,272.2 500.0,270.7 500.5,269.1 501.0,267.5 501.5,266.4 502.0,266.9 502.5,268.6 503.0,270.5 503.5,272.6 504.0,274.1 504.5,275.0 505.0,275.6 505.5,275.9 506.0,276.2 506.5,276.8 507.0,277.7 507.5,278.2 508.0,278.2 508.5,278.3 509.0,278.5 509.5,278.8 510.0,278.9 510.5,278.8 511.0,278.7 511.5,278.8 512.0,278.7 512.5,278.6 513.0,278.7 513.5,279.1 514.0,279.2 514.5,279.1 515.0,279.5 515.5,279.6 516.0,279.2 516.5,279.0 517.0,279.2 517.5,279.4 518.0,279.1 518.5,279.0 519.0,279.0 519.5,278.9 520.0,279.2 520.5,279.5 521.0,279.5 521.5,279.5 522.0,279.5 522.5,279.5 523.0,279.3 523.5,279.1 524.0,279.1 524.5,279.3 525.0,279.7 525.5,279.8 526.0,279.4 526.5,279.1 527.0,279.0 527.5,279.3 528.0,279.6 528.5,279.5 529.0,279.2 529.5,279.2 530.0,279.4 530.5,279.4 531.0,279.3 531.5,279.5 532.0,279.6 532.5,279.6 533.0,279.8 533.5,279.7 534.0,279.5 534.5,279.5 535.0,279.3 535.5,279.1 536.0,279.1 536.5,279.1 537.0,279.3 537.5,279.4 538.0,279.5 538.5,279.2 539.0,278.7 539.5,278.8 540.0,278.9 540.5,279.0 541.0,279.0 541.5,279.2 542.0,279.2 542.5,278.9 543.0,278.9 543.5,278.8 544.0,278.6 544.5,278.8 545.0,278.8 545.5,278.5 546.0,278.8 546.5,279.1 547.0,278.6 547.5,277.9 548.0,278.0 548.5,278.1 549.0,278.1 549.5,278.0 550.0,277.9 550.5,278.0 551.0,277.8 551.5,277.6 552.0,277.6 552.5,277.9 553.0,278.1 553.5,278.1 554.0,278.0 554.5,278.0 555.0,278.3 555.5,278.5 556.0,278.3 556.5,278.3 557.0,278.4 557.5,278.3 558.0,278.4 558.5,278.5 559.0,278.6 559.5,278.8 560.0,279.1 560.5,279.1 561.0,279.0 561.5,279.2 562.0,279.4 562.5,279.1 563.0,279.2 563.5,279.4 564.0,279.4 564.5,279.5 565.0,279.5 565.5,279.7 566.0,279.7 566.5,279.5 567.0,279.5 567.5,279.5 568.0,279.4 568.5,279.4 569.0,279.4 569.5,279.8 570.0,280.2 570.5,280.2 571.0,279.9 571.5,279.7 572.0,279.7 572.5,279.6 573.0,279.7 573.5,279.9 574.0,279.7 574.5,279.7 575.0,279.8 575.5,279.6 576.0,279.5 576.5,279.6 577.0,279.7 577.5,280.0 578.0,279.9 578.5,279.5 579.0,279.4 579.5,279.5 580.0,279.3 580.5,279.4 581.0,279.6 581.5,279.5 582.0,279.3 582.5,279.5 583.0,279.6 583.5,279.4 584.0,279.6 584.5,280.1 585.0,280.0 585.5,279.4 586.0,279.3 586.5,279.5 587.0,279.4 587.5,279.4 588.0,279.5 588.5,279.3 589.0,278.8 589.5,278.6 590.0,279.0 590.5,279.3 591.0,279.0 591.5,278.4 592.0,277.9 592.5,276.0 593.0,271.9 593.5,266.6 594.0,262.6 594.5,262.1 595.0,265.3 595.5,270.1 596.0,273.9 596.5,275.7 597.0,276.4 597.5,276.6 598.0,276.5 598.5,276.3 599.0,276.1 599.5,275.5 600.0,274.2 600.5,272.7 601.0,271.4 601.5,270.6 602.0,270.4 602.5,271.5 603.0,273.4 603.5,274.9 604.0,275.8 604.5,276.6 605.0,277.4 605.5,278.0 606.0,278.4 606.5,278.1 607.0,278.1 607.5,278.6 608.0,279.0 608.5,279.2 609.0,279.7 609.5,279.9 610.0,279.6 610.5,279.3 611.0,279.3 611.5,279.7 612.0,280.0 612.5,280.0 613.0,280.1 613.5,280.2 614.0,280.3 614.5,280.1 615.0,279.8 615.5,279.6 616.0,279.5 616.5,279.6 617.0,280.0 617.5,280.4 618.0,280.5 618.5,280.2 619.0,279.9 619.5,279.9 620.0,280.2 620.5,280.2 621.0,280.1 621.5,280.2 622.0,280.1 622.5,279.9 623.0,280.1 623.5,280.2 624.0,280.0 624.5,280.2 625.0,280.6 625.5,280.8 626.0,280.5 626.5,280.0 627.0,280.0 627.5,280.1 628.0,279.9 628.5,279.7 629.0,279.9 629.5,280.5 630.0,280.6 630.5,280.4 631.0,280.2 631.5,280.1 632.0,280.1 632.5,280.2 633.0,280.2 633.5,280.3 634.0,280.2 634.5,280.1 635.0,280.4 635.5,280.4 636.0,280.3 636.5,280.0 637.0,279.8 637.5,280.0 638.0,280.1 638.5,280.2 639.0,279.9 639.5,279.8 640.0,280.2 640.5,280.4 641.0,280.2 641.5,280.1 642.0,280.2 642.5,280.0 643.0,280.0 643.5,280.1 644.0,280.2 644.5,280.4 645.0,280.3 645.5,280.4 646.0,280.4 646.5,279.9 647.0,279.9 647.5,280.1 648.0,280.2 648.5,280.2 649.0,280.1 649.5,280.4 650.0,280.6 650.5,280.3 651.0,280.1 651.5,280.2 652.0,280.3 652.5,280.4 653.0,280.5 653.5,280.5 654.0,280.5 654.5,280.4 655.0,280.0 655.5,280.0 656.0,280.3 656.5,280.3 657.0,280.3 657.5,280.3 658.0,280.3 658.5,280.2 659.0,280.3 659.5,280.4 660.0,280.4 660.5,280.6 661.0,280.9 661.5,280.6 662.0,280.4 662.5,280.7 663.0,280.9 663.5,281.0 664.0,280.9 664.5,280.6 665.0,280.7 665.5,280.9 666.0,280.7 666.5,280.3 667.0,279.9 667.5,280.3 668.0,280.7 668.5,280.3 669.0,280.3 669.5,280.6 670.0,280.9 670.5,280.8 671.0,280.4 671.5,280.5 672.0,280.6 672.5,280.4 673.0,280.6 673.5,281.1 674.0,281.1 674.5,280.6 675.0,280.1 675.5,280.4 676.0,280.7 676.5,280.6 677.0,280.9 677.5,281.2 678.0,280.8 678.5,280.5 679.0,280.6 679.5,280.6 680.0,280.6 680.5,280.7 681.0,280.8 681.5,280.7 682.0,280.5 682.5,280.6 683.0,280.7 683.5,280.8 684.0,280.9" fill="none" stroke="#ea1f2b" stroke-width="1.15" stroke-linejoin="round"/>
<polyline points="472.0,307.4 472.5,307.2 473.0,307.5 473.5,307.9 474.0,307.8 474.5,307.6 475.0,307.4 475.5,307.1 476.0,307.0 476.5,307.3 477.0,307.5 477.5,307.5 478.0,307.4 478.5,307.4 479.0,307.3 479.5,307.5 480.0,307.6 480.5,307.5 481.0,307.4 481.5,307.0 482.0,307.2 482.5,307.8 483.0,307.9 483.5,307.6 484.0,307.3 484.5,307.2 485.0,307.4 485.5,307.4 486.0,307.2 486.5,307.4 487.0,307.6 487.5,307.4 488.0,307.3 488.5,307.3 489.0,307.3 489.5,307.6 490.0,307.5 490.5,307.3 491.0,307.6 491.5,307.7 492.0,307.5 492.5,307.6 493.0,307.3 493.5,307.3 494.0,307.2 494.5,306.9 495.0,307.0 495.5,307.1 496.0,306.8 496.5,306.6 497.0,306.5 497.5,306.2 498.0,306.0 498.5,305.9 499.0,305.9 499.5,305.9 500.0,305.5 500.5,305.2 501.0,305.1 501.5,305.1 502.0,305.0 502.5,304.7 503.0,303.9 503.5,302.7 504.0,301.0 504.5,298.6 505.0,296.2 505.5,294.7 506.0,295.5 506.5,298.2 507.0,300.6 507.5,301.9 508.0,302.7 508.5,302.8 509.0,302.8 509.5,302.9 510.0,302.7 510.5,302.1 511.0,301.1 511.5,300.0 512.0,299.0 512.5,298.3 513.0,298.4 513.5,299.4 514.0,301.3 514.5,303.0 515.0,304.0 515.5,304.8 516.0,305.5 516.5,305.9 517.0,306.2 517.5,306.4 518.0,306.6 518.5,306.5 519.0,306.5 519.5,306.8 520.0,307.1 520.5,307.2 521.0,307.2 521.5,307.3 522.0,307.7 522.5,307.9 523.0,307.9 523.5,307.9 524.0,307.9 524.5,307.9 525.0,307.9 525.5,307.8 526.0,307.7 526.5,308.0 527.0,308.2 527.5,307.9 528.0,307.6 528.5,307.6 529.0,307.7 529.5,307.7 530.0,307.4 530.5,307.3 531.0,307.5 531.5,307.5 532.0,307.7 532.5,307.9 533.0,308.2 533.5,308.3 534.0,308.0 534.5,307.6 535.0,307.4 535.5,307.5 536.0,307.5 536.5,307.4 537.0,307.6 537.5,307.9 538.0,307.9 538.5,307.8 539.0,307.7 539.5,307.7 540.0,307.5 540.5,307.5 541.0,307.9 541.5,308.2 542.0,308.1 542.5,307.9 543.0,307.8 543.5,308.0 544.0,307.9 544.5,308.0 545.0,307.9 545.5,307.8 546.0,308.0 546.5,308.0 547.0,308.0 547.5,308.0 548.0,307.9 548.5,307.9 549.0,307.9 549.5,307.9 550.0,307.8 550.5,307.6 551.0,307.5 551.5,307.6 552.0,307.8 552.5,308.0 553.0,308.0 553.5,307.7 554.0,307.6 554.5,307.4 555.0,307.5 555.5,307.5 556.0,307.3 556.5,307.4 557.0,307.8 557.5,308.0 558.0,307.9 558.5,308.0 559.0,308.3 559.5,308.1 560.0,308.0 560.5,308.3 561.0,308.3 561.5,308.1 562.0,308.2 562.5,308.2 563.0,308.2 563.5,308.0 564.0,308.0 564.5,308.2 565.0,308.1 565.5,307.8 566.0,307.9 566.5,308.2 567.0,308.1 567.5,308.1 568.0,308.2 568.5,308.0 569.0,307.9 569.5,308.2 570.0,308.4 570.5,308.5 571.0,308.5 571.5,308.4 572.0,308.4 572.5,308.4 573.0,308.3 573.5,308.5 574.0,308.5 574.5,308.4 575.0,308.4 575.5,308.1 576.0,307.7 576.5,307.8 577.0,307.8 577.5,307.6 578.0,307.6 578.5,307.6 579.0,307.3 579.5,306.9 580.0,306.9 580.5,306.8 581.0,306.4 581.5,306.1 582.0,305.9 582.5,305.7 583.0,305.5 583.5,305.0 584.0,303.6 584.5,301.5 585.0,299.4 585.5,298.6 586.0,299.1 586.5,300.6 587.0,302.5 587.5,303.9 588.0,304.4 588.5,304.5 589.0,304.5 589.5,304.1 590.0,303.5 590.5,302.6 591.0,301.5 591.5,300.4 592.0,300.2 592.5,300.8 593.0,302.0 593.5,303.3 594.0,304.4 594.5,305.0 595.0,306.0 595.5,306.7 596.0,306.8 596.5,307.2 597.0,307.6 597.5,307.7 598.0,308.1 598.5,308.3 599.0,308.4 599.5,308.6 600.0,308.3 600.5,308.1 601.0,308.1 601.5,308.1 602.0,307.8 602.5,308.2 603.0,308.6 603.5,308.5 604.0,308.3 604.5,308.3 605.0,308.4 605.5,308.4 606.0,308.3 606.5,308.1 607.0,308.1 607.5,308.3 608.0,308.8 608.5,309.1 609.0,309.2 609.5,309.1 610.0,308.9 610.5,308.5 611.0,308.3 611.5,308.3 612.0,308.2 612.5,308.5 613.0,309.0 613.5,309.0 614.0,308.9 614.5,308.6 615.0,308.3 615.5,308.4 616.0,308.7 616.5,309.1 617.0,309.1 617.5,308.7 618.0,308.6 618.5,308.6 619.0,308.5 619.5,308.5 620.0,308.7 620.5,308.9 621.0,308.7 621.5,308.5 622.0,308.4 622.5,308.5 623.0,308.7 623.5,308.6 624.0,308.6 624.5,308.6 625.0,308.5 625.5,308.4 626.0,308.5 626.5,309.0 627.0,309.1 627.5,309.1 628.0,309.3 628.5,309.1 629.0,308.9 629.5,309.0 630.0,309.1 630.5,309.1 631.0,309.0 631.5,308.9 632.0,309.0 632.5,308.9 633.0,308.6 633.5,308.6 634.0,308.8 634.5,308.6 635.0,308.6 635.5,308.8 636.0,308.8 636.5,308.8 637.0,308.7 637.5,308.5 638.0,308.5 638.5,308.5 639.0,308.6 639.5,308.8 640.0,309.0 640.5,309.0 641.0,309.2 641.5,309.5 642.0,309.2 642.5,308.7 643.0,308.7 643.5,308.8 644.0,308.9 644.5,308.8 645.0,309.0 645.5,309.3 646.0,309.2 646.5,309.0 647.0,309.0 647.5,309.1 648.0,309.4 648.5,309.4 649.0,309.1 649.5,308.6 650.0,309.0 650.5,309.6 651.0,309.6 651.5,309.2 652.0,308.8 652.5,309.0 653.0,308.9 653.5,308.7 654.0,309.0 654.5,309.4 655.0,309.6 655.5,309.3 656.0,309.3 656.5,309.5 657.0,309.2 657.5,308.9 658.0,309.0 658.5,309.4 659.0,309.5 659.5,309.4 660.0,309.3 660.5,309.2 661.0,309.1 661.5,309.0 662.0,309.4 662.5,309.5 663.0,309.3 663.5,309.3 664.0,309.5 664.5,309.7 665.0,309.5 665.5,309.3 666.0,309.1 666.5,308.9 667.0,309.0 667.5,309.2 668.0,309.3 668.5,309.4 669.0,309.5 669.5,309.5 670.0,309.5 670.5,309.5 671.0,309.5 671.5,309.4 672.0,309.3 672.5,309.2 673.0,309.3 673.5,309.3 674.0,309.4 674.5,309.6 675.0,309.6 675.5,309.4 676.0,309.3 676.5,309.6 677.0,309.6 677.5,309.5 678.0,309.6 678.5,309.7 679.0,309.7 679.5,309.4 680.0,309.1 680.5,309.3 681.0,309.6 681.5,309.9 682.0,309.7 682.5,309.6 683.0,309.7 683.5,309.6 684.0,309.5" fill="none" stroke="#f7a81e" stroke-width="1.15" stroke-linejoin="round"/>
<polyline points="472.0,333.5 472.5,333.4 473.0,333.7 473.5,333.8 474.0,333.6 474.5,333.5 475.0,333.8 475.5,334.0 476.0,333.6 476.5,333.5 477.0,333.6 477.5,333.3 478.0,333.1 478.5,333.4 479.0,333.6 479.5,333.7 480.0,333.7 480.5,333.8 481.0,333.8 481.5,333.7 482.0,333.8 482.5,334.1 483.0,334.3 483.5,334.3 484.0,333.8 484.5,333.3 485.0,333.4 485.5,333.8 486.0,333.8 486.5,333.8 487.0,334.1 487.5,334.1 488.0,333.9 488.5,333.9 489.0,333.8 489.5,333.8 490.0,333.9 490.5,333.7 491.0,333.5 491.5,333.6 492.0,333.7 492.5,333.7 493.0,333.8 493.5,333.8 494.0,334.0 494.5,333.9 495.0,333.5 495.5,333.6 496.0,333.7 496.5,333.4 497.0,333.1 497.5,333.4 498.0,333.4 498.5,333.0 499.0,333.0 499.5,332.9 500.0,332.7 500.5,332.6 501.0,332.6 501.5,332.7 502.0,332.5 502.5,332.2 503.0,332.2 503.5,331.9 504.0,331.9 504.5,332.0 505.0,331.9 505.5,331.8 506.0,331.6 506.5,331.5 507.0,331.4 507.5,331.5 508.0,331.4 508.5,331.2 509.0,331.1 509.5,331.1 510.0,330.8 510.5,330.7 511.0,330.7 511.5,330.4 512.0,330.4 512.5,330.6 513.0,330.6 513.5,330.3 514.0,329.0 514.5,326.0 515.0,321.8 515.5,317.9 516.0,316.8 516.5,319.3 517.0,324.0 517.5,328.3 518.0,330.9 518.5,331.9 519.0,332.0 519.5,331.6 520.0,331.1 520.5,330.7 521.0,329.8 521.5,328.6 522.0,327.9 522.5,327.9 523.0,328.5 523.5,329.8 524.0,331.0 524.5,331.8 525.0,332.7 525.5,333.5 526.0,333.9 526.5,333.9 527.0,333.9 527.5,334.1 528.0,334.3 528.5,334.6 529.0,334.9 529.5,335.0 530.0,334.9 530.5,334.9 531.0,335.0 531.5,335.1 532.0,335.1 532.5,334.7 533.0,334.9 533.5,335.3 534.0,335.4 534.5,335.2 535.0,335.3 535.5,335.5 536.0,335.2 536.5,334.9 537.0,335.0 537.5,335.2 538.0,335.4 538.5,335.6 539.0,335.8 539.5,335.7 540.0,335.4 540.5,335.3 541.0,335.4 541.5,335.7 542.0,335.9 542.5,335.8 543.0,335.7 543.5,335.6 544.0,335.9 544.5,336.1 545.0,335.8 545.5,336.0 546.0,335.9 546.5,335.4 547.0,335.2 547.5,335.5 548.0,335.8 548.5,335.8 549.0,335.8 549.5,335.9 550.0,335.9 550.5,335.9 551.0,335.9 551.5,336.0 552.0,336.0 552.5,336.1 553.0,335.9 553.5,335.7 554.0,335.9 554.5,335.8 555.0,335.5 555.5,335.5 556.0,335.5 556.5,335.6 557.0,335.8 557.5,335.7 558.0,335.7 558.5,335.9 559.0,336.0 559.5,335.7 560.0,335.2 560.5,335.1 561.0,335.2 561.5,335.3 562.0,335.4 562.5,335.4 563.0,335.3 563.5,335.1 564.0,335.0 564.5,334.8 565.0,334.8 565.5,334.8 566.0,334.6 566.5,334.1 567.0,333.6 567.5,333.7 568.0,333.5 568.5,333.1 569.0,333.2 569.5,333.3 570.0,333.0 570.5,332.9 571.0,333.2 571.5,333.1 572.0,332.7 572.5,332.5 573.0,331.5 573.5,329.1 574.0,325.1 574.5,319.8 575.0,316.1 575.5,316.5 576.0,320.4 576.5,325.2 577.0,329.1 577.5,331.2 578.0,331.8 578.5,332.0 579.0,332.0 579.5,331.6 580.0,331.2 580.5,330.4 581.0,329.6 581.5,329.0 582.0,328.8 582.5,329.2 583.0,330.0 583.5,331.1 584.0,332.3 584.5,333.0 585.0,333.3 585.5,333.6 586.0,333.9 586.5,334.3 587.0,334.6 587.5,334.7 588.0,334.7 588.5,334.8 589.0,334.6 589.5,334.6 590.0,335.0 590.5,335.2 591.0,335.2 591.5,335.5 592.0,335.8 592.5,335.9 593.0,336.0 593.5,336.0 594.0,335.8 594.5,335.9 595.0,336.4 595.5,336.7 596.0,336.9 596.5,337.0 597.0,336.9 597.5,336.7 598.0,336.7 598.5,336.7 599.0,336.6 599.5,336.7 600.0,336.9 600.5,336.7 601.0,336.7 601.5,337.0 602.0,336.8 602.5,336.7 603.0,336.7 603.5,336.7 604.0,336.7 604.5,336.8 605.0,336.8 605.5,336.9 606.0,336.9 606.5,336.9 607.0,336.9 607.5,337.0 608.0,337.0 608.5,337.1 609.0,337.0 609.5,336.8 610.0,336.7 610.5,336.8 611.0,337.1 611.5,337.4 612.0,337.3 612.5,337.1 613.0,336.9 613.5,336.6 614.0,336.4 614.5,336.7 615.0,336.8 615.5,336.6 616.0,336.7 616.5,337.0 617.0,336.9 617.5,337.0 618.0,337.5 618.5,337.5 619.0,337.3 619.5,337.3 620.0,337.3 620.5,337.4 621.0,337.0 621.5,336.9 622.0,337.1 622.5,337.3 623.0,337.4 623.5,337.1 624.0,337.1 624.5,337.4 625.0,337.6 625.5,337.7 626.0,337.8 626.5,337.8 627.0,337.5 627.5,337.5 628.0,337.6 628.5,337.4 629.0,337.3 629.5,337.3 630.0,337.2 630.5,337.1 631.0,337.1 631.5,337.2 632.0,337.3 632.5,337.4 633.0,337.9 633.5,338.2 634.0,337.9 634.5,337.6 635.0,337.5 635.5,337.8 636.0,337.8 636.5,337.6 637.0,337.6 637.5,337.7 638.0,337.6 638.5,337.4 639.0,337.2 639.5,337.4 640.0,337.7 640.5,337.6 641.0,337.6 641.5,337.8 642.0,337.9 642.5,337.7 643.0,337.4 643.5,337.7 644.0,337.7 644.5,337.4 645.0,337.4 645.5,337.7 646.0,337.6 646.5,337.6 647.0,337.8 647.5,337.9 648.0,337.8 648.5,337.7 649.0,337.9 649.5,338.1 650.0,337.8 650.5,337.5 651.0,337.8 651.5,337.9 652.0,337.9 652.5,337.9 653.0,337.9 653.5,338.1 654.0,338.2 654.5,338.2 655.0,338.0 655.5,337.7 656.0,337.9 656.5,338.1 657.0,338.3 657.5,338.2 658.0,338.0 658.5,338.1 659.0,338.2 659.5,338.0 660.0,337.8 660.5,337.9 661.0,338.2 661.5,338.3 662.0,337.9 662.5,337.9 663.0,338.1 663.5,338.0 664.0,338.0 664.5,337.9 665.0,337.8 665.5,338.0 666.0,338.3 666.5,338.7 667.0,338.8 667.5,338.5 668.0,338.5 668.5,338.5 669.0,338.2 669.5,338.2 670.0,338.5 670.5,338.4 671.0,338.2 671.5,338.2 672.0,338.2 672.5,338.3 673.0,338.6 673.5,338.6 674.0,338.3 674.5,338.1 675.0,338.1 675.5,338.0 676.0,338.3 676.5,338.8 677.0,339.1 677.5,338.6 678.0,338.4 678.5,338.3 679.0,338.0 679.5,338.3 680.0,338.8 680.5,338.7 681.0,338.1 681.5,338.1 682.0,338.5 682.5,338.6 683.0,338.5 683.5,338.5 684.0,338.5" fill="none" stroke="#25bb6a" stroke-width="1.15" stroke-linejoin="round"/>
<polyline points="472.0,363.6 472.5,363.8 473.0,363.7 473.5,363.5 474.0,363.5 474.5,363.7 475.0,363.8 475.5,363.8 476.0,363.9 476.5,364.0 477.0,363.8 477.5,363.4 478.0,363.2 478.5,363.4 479.0,364.1 479.5,364.3 480.0,363.7 480.5,363.5 481.0,363.8 481.5,363.8 482.0,363.7 482.5,363.5 483.0,363.4 483.5,363.6 484.0,364.0 484.5,364.1 485.0,363.8 485.5,363.7 486.0,363.9 486.5,364.0 487.0,363.8 487.5,363.6 488.0,363.8 488.5,363.8 489.0,363.5 489.5,363.4 490.0,363.6 490.5,363.8 491.0,363.9 491.5,363.7 492.0,363.4 492.5,363.3 493.0,363.2 493.5,363.2 494.0,363.3 494.5,363.5 495.0,363.6 495.5,363.4 496.0,363.4 496.5,363.6 497.0,363.8 497.5,363.7 498.0,363.6 498.5,363.6 499.0,363.6 499.5,363.6 500.0,363.8 500.5,364.0 501.0,364.0 501.5,364.0 502.0,363.8 502.5,363.5 503.0,363.3 503.5,363.5 504.0,363.6 504.5,363.6 505.0,363.4 505.5,363.2 506.0,363.2 506.5,363.6 507.0,363.7 507.5,363.5 508.0,363.6 508.5,363.6 509.0,363.3 509.5,363.0 510.0,363.1 510.5,363.3 511.0,363.3 511.5,362.8 512.0,362.6 512.5,362.8 513.0,362.9 513.5,362.6 514.0,362.4 514.5,362.2 515.0,361.9 515.5,361.8 516.0,361.7 516.5,361.2 517.0,360.9 517.5,360.8 518.0,360.5 518.5,360.2 519.0,360.0 519.5,359.7 520.0,359.3 520.5,359.1 521.0,359.1 521.5,359.2 522.0,358.8 522.5,358.2 523.0,357.8 523.5,356.7 524.0,354.6 524.5,351.7 525.0,348.5 525.5,345.5 526.0,343.9 526.5,344.8 527.0,347.3 527.5,350.5 528.0,353.3 528.5,354.8 529.0,355.3 529.5,355.6 530.0,355.4 530.5,354.7 531.0,353.5 531.5,351.1 532.0,347.9 532.5,344.8 533.0,343.0 533.5,343.1 534.0,345.3 534.5,348.8 535.0,351.7 535.5,353.6 536.0,355.0 536.5,356.0 537.0,356.6 537.5,357.0 538.0,357.5 538.5,358.1 539.0,358.6 539.5,359.4 540.0,360.3 540.5,361.0 541.0,361.5 541.5,361.5 542.0,361.6 542.5,361.9 543.0,362.3 543.5,362.3 544.0,362.6 544.5,362.9 545.0,362.8 545.5,362.6 546.0,362.3 546.5,362.3 547.0,362.4 547.5,362.7 548.0,362.8 548.5,362.8 549.0,363.0 549.5,363.0 550.0,362.8 550.5,362.6 551.0,362.5 551.5,362.9 552.0,363.2 552.5,363.0 553.0,362.8 553.5,362.8 554.0,362.9 554.5,362.8 555.0,362.4 555.5,362.1 556.0,362.3 556.5,362.5 557.0,362.3 557.5,362.1 558.0,361.7 558.5,361.4 559.0,361.5 559.5,361.4 560.0,361.1 560.5,360.9 561.0,360.7 561.5,360.4 562.0,360.2 562.5,359.4 563.0,358.2 563.5,356.8 564.0,354.7 564.5,352.7 565.0,351.8 565.5,352.4 566.0,354.2 566.5,356.1 567.0,357.0 567.5,357.2 568.0,357.5 568.5,357.8 569.0,357.5 569.5,356.9 570.0,356.0 570.5,354.0 571.0,350.6 571.5,346.3 572.0,342.8 572.5,342.0 573.0,344.3 573.5,348.3 574.0,352.5 574.5,355.7 575.0,357.8 575.5,359.0 576.0,359.4 576.5,359.0 577.0,358.1 577.5,357.2 578.0,356.9 578.5,357.3 579.0,358.1 579.5,359.1 580.0,360.3 580.5,361.6 581.0,362.4 581.5,362.7 582.0,363.3 582.5,363.4 583.0,363.0 583.5,362.9 584.0,363.1 584.5,363.2 585.0,363.4 585.5,363.6 586.0,364.0 586.5,364.1 587.0,364.0 587.5,364.0 588.0,364.0 588.5,364.1 589.0,364.2 589.5,364.2 590.0,364.1 590.5,364.1 591.0,364.4 591.5,364.7 592.0,364.3 592.5,364.2 593.0,364.4 593.5,364.1 594.0,363.7 594.5,364.1 595.0,364.5 595.5,364.7 596.0,364.8 596.5,364.7 597.0,364.4 597.5,364.0 598.0,364.1 598.5,364.5 599.0,364.6 599.5,364.3 600.0,364.4 600.5,364.4 601.0,364.1 601.5,364.0 602.0,364.4 602.5,364.6 603.0,364.4 603.5,364.2 604.0,364.3 604.5,364.5 605.0,364.7 605.5,364.8 606.0,364.8 606.5,364.9 607.0,364.8 607.5,365.0 608.0,365.2 608.5,365.1 609.0,365.1 609.5,364.9 610.0,365.0 610.5,364.9 611.0,364.7 611.5,364.7 612.0,364.8 612.5,364.8 613.0,365.0 613.5,365.2 614.0,365.0 614.5,364.8 615.0,364.7 615.5,365.0 616.0,365.4 616.5,365.4 617.0,365.2 617.5,364.9 618.0,364.8 618.5,364.9 619.0,364.7 619.5,364.9 620.0,365.1 620.5,365.3 621.0,365.3 621.5,365.1 622.0,365.0 622.5,365.1 623.0,365.1 623.5,365.1 624.0,365.2 624.5,365.2 625.0,365.3 625.5,365.5 626.0,365.6 626.5,365.5 627.0,365.5 627.5,365.5 628.0,365.6 628.5,365.6 629.0,365.2 629.5,364.9 630.0,365.0 630.5,365.2 631.0,365.8 631.5,366.3 632.0,366.1 632.5,366.1 633.0,365.9 633.5,365.7 634.0,365.8 634.5,366.0 635.0,365.8 635.5,365.7 636.0,365.6 636.5,365.3 637.0,365.4 637.5,365.7 638.0,365.8 638.5,365.6 639.0,365.6 639.5,365.7 640.0,365.8 640.5,365.9 641.0,365.9 641.5,365.7 642.0,365.5 642.5,365.5 643.0,365.7 643.5,365.6 644.0,365.7 644.5,365.7 645.0,365.8 645.5,365.9 646.0,365.8 646.5,365.6 647.0,362.9 647.5,362.3 648.0,366.1 648.5,365.9 649.0,365.8 649.5,366.1 650.0,366.2 650.5,365.9 651.0,365.7 651.5,366.0 652.0,366.0 652.5,365.9 653.0,365.8 653.5,365.8 654.0,366.1 654.5,366.4 655.0,366.4 655.5,366.2 656.0,366.2 656.5,366.2 657.0,366.3 657.5,366.4 658.0,366.4 658.5,366.2 659.0,366.3 659.5,366.4 660.0,366.3 660.5,366.4 661.0,366.6 661.5,366.6 662.0,366.5 662.5,366.7 663.0,366.5 663.5,366.4 664.0,366.7 664.5,366.5 665.0,366.3 665.5,366.7 666.0,367.1 666.5,366.8 667.0,366.3 667.5,366.5 668.0,366.7 668.5,366.5 669.0,366.4 669.5,366.8 670.0,367.0 670.5,367.0 671.0,366.9 671.5,366.6 672.0,366.6 672.5,366.9 673.0,366.8 673.5,366.6 674.0,366.8 674.5,366.9 675.0,366.8 675.5,366.8 676.0,366.9 676.5,366.7 677.0,366.6 677.5,366.7 678.0,366.7 678.5,366.6 679.0,366.6 679.5,366.7 680.0,366.8 680.5,366.9 681.0,366.9 681.5,367.3 682.0,367.6 682.5,367.4 683.0,367.0 683.5,367.2 684.0,367.3" fill="none" stroke="#1fadef" stroke-width="1.15" stroke-linejoin="round"/>
<polyline points="472.0,392.6 472.5,392.5 473.0,392.7 473.5,392.9 474.0,392.8 474.5,392.5 475.0,392.3 475.5,392.5 476.0,392.8 476.5,392.8 477.0,392.4 477.5,392.3 478.0,392.2 478.5,392.2 479.0,392.3 479.5,392.2 480.0,391.8 480.5,391.9 481.0,392.2 481.5,392.2 482.0,391.9 482.5,391.7 483.0,391.6 483.5,391.6 484.0,391.3 484.5,391.1 485.0,391.2 485.5,391.2 486.0,391.0 486.5,391.0 487.0,390.9 487.5,390.5 488.0,390.4 488.5,390.4 489.0,390.4 489.5,390.2 490.0,389.6 490.5,389.6 491.0,389.8 491.5,389.8 492.0,389.7 492.5,389.8 493.0,389.7 493.5,389.4 494.0,389.4 494.5,389.3 495.0,389.5 495.5,389.5 496.0,389.2 496.5,389.3 497.0,389.4 497.5,389.4 498.0,389.4 498.5,389.3 499.0,389.5 499.5,389.9 500.0,390.1 500.5,389.8 501.0,390.0 501.5,390.7 502.0,390.9 502.5,390.6 503.0,390.4 503.5,390.6 504.0,390.8 504.5,391.0 505.0,391.4 505.5,391.5 506.0,391.4 506.5,391.3 507.0,391.3 507.5,391.5 508.0,391.8 508.5,391.9 509.0,392.0 509.5,392.2 510.0,392.4 510.5,392.6 511.0,392.3 511.5,392.2 512.0,392.5 512.5,392.7 513.0,392.6 513.5,392.5 514.0,392.6 514.5,392.7 515.0,392.6 515.5,392.5 516.0,392.6 516.5,392.9 517.0,393.0 517.5,393.0 518.0,392.8 518.5,392.6 519.0,392.6 519.5,392.6 520.0,392.4 520.5,392.2 521.0,392.0 521.5,392.1 522.0,392.1 522.5,392.1 523.0,392.2 523.5,392.1 524.0,392.0 524.5,391.9 525.0,392.0 525.5,392.1 526.0,391.9 526.5,391.6 527.0,391.4 527.5,391.3 528.0,391.4 528.5,391.2 529.0,391.2 529.5,391.3 530.0,391.4 530.5,391.0 531.0,390.7 531.5,390.8 532.0,391.1 532.5,390.9 533.0,390.0 533.5,388.3 534.0,385.3 534.5,381.2 535.0,377.0 535.5,374.6 536.0,375.2 536.5,378.7 537.0,383.1 537.5,386.0 538.0,387.4 538.5,388.3 539.0,388.6 539.5,388.2 540.0,387.4 540.5,386.2 541.0,384.3 541.5,381.7 542.0,379.7 542.5,379.9 543.0,381.6 543.5,383.4 544.0,385.0 544.5,386.5 545.0,387.3 545.5,387.4 546.0,386.9 546.5,386.7 547.0,387.0 547.5,387.2 548.0,387.3 548.5,387.2 549.0,386.9 549.5,386.9 550.0,387.2 550.5,387.5 551.0,387.5 551.5,387.3 552.0,387.3 552.5,387.6 553.0,387.5 553.5,386.2 554.0,383.4 554.5,379.4 555.0,375.6 555.5,374.0 556.0,375.8 556.5,379.5 557.0,383.5 557.5,386.5 558.0,388.2 558.5,389.0 559.0,389.4 559.5,389.5 560.0,389.5 560.5,389.1 561.0,387.9 561.5,386.1 562.0,384.5 562.5,384.0 563.0,384.9 563.5,386.7 564.0,388.9 564.5,390.6 565.0,391.2 565.5,391.1 566.0,391.0 566.5,391.4 567.0,391.8 567.5,392.0 568.0,392.0 568.5,392.1 569.0,392.4 569.5,392.4 570.0,392.6 570.5,392.6 571.0,392.4 571.5,392.5 572.0,392.5 572.5,392.4 573.0,392.2 573.5,392.5 574.0,392.9 574.5,393.0 575.0,393.0 575.5,392.9 576.0,393.0 576.5,393.0 577.0,392.8 577.5,392.9 578.0,393.3 578.5,393.4 579.0,393.2 579.5,393.4 580.0,393.8 580.5,393.8 581.0,393.6 581.5,393.8 582.0,394.0 582.5,393.9 583.0,393.6 583.5,393.4 584.0,393.7 584.5,393.6 585.0,393.4 585.5,393.8 586.0,394.1 586.5,394.2 587.0,394.1 587.5,393.8 588.0,393.6 588.5,393.6 589.0,393.8 589.5,393.8 590.0,393.7 590.5,393.8 591.0,394.0 591.5,394.2 592.0,394.5 592.5,394.4 593.0,393.8 593.5,393.5 594.0,393.4 594.5,393.6 595.0,393.8 595.5,393.6 596.0,393.6 596.5,393.8 597.0,394.0 597.5,393.9 598.0,393.9 598.5,394.1 599.0,394.2 599.5,394.2 600.0,394.1 600.5,393.9 601.0,393.9 601.5,394.0 602.0,394.2 602.5,394.2 603.0,394.0 603.5,394.1 604.0,394.0 604.5,394.2 605.0,394.1 605.5,393.8 606.0,393.7 606.5,393.9 607.0,394.0 607.5,394.0 608.0,394.0 608.5,393.9 609.0,394.0 609.5,393.9 610.0,393.8 610.5,393.9 611.0,393.7 611.5,393.5 612.0,393.8 612.5,394.1 613.0,394.3 613.5,394.3 614.0,394.6 614.5,394.7 615.0,394.7 615.5,394.6 616.0,394.4 616.5,394.2 617.0,394.4 617.5,394.5 618.0,394.4 618.5,394.1 619.0,394.0 619.5,394.3 620.0,394.3 620.5,394.1 621.0,394.3 621.5,394.4 622.0,394.4 622.5,394.5 623.0,394.4 623.5,394.1 624.0,394.2 624.5,394.5 625.0,394.7 625.5,394.5 626.0,394.1 626.5,394.2 627.0,394.6 627.5,394.9 628.0,394.8 628.5,394.4 629.0,394.1 629.5,394.3 630.0,394.4 630.5,394.4 631.0,394.6 631.5,394.8 632.0,394.4 632.5,394.0 633.0,394.2 633.5,394.4 634.0,394.3 634.5,394.3 635.0,394.6 635.5,394.7 636.0,394.7 636.5,394.6 637.0,394.5 637.5,394.5 638.0,394.6 638.5,394.7 639.0,394.7 639.5,394.6 640.0,394.5 640.5,394.7 641.0,394.8 641.5,394.8 642.0,394.8 642.5,395.0 643.0,395.0 643.5,394.7 644.0,394.6 644.5,394.7 645.0,394.5 645.5,394.4 646.0,394.5 646.5,394.5 647.0,394.5 647.5,394.4 648.0,394.5 648.5,394.9 649.0,395.1 649.5,395.1 650.0,394.6 650.5,394.5 651.0,394.5 651.5,394.5 652.0,394.6 652.5,394.6 653.0,394.7 653.5,394.8 654.0,395.0 654.5,395.3 655.0,395.0 655.5,394.7 656.0,394.8 656.5,394.7 657.0,394.6 657.5,394.5 658.0,394.7 658.5,395.0 659.0,394.8 659.5,394.7 660.0,394.7 660.5,394.9 661.0,395.1 661.5,394.7 662.0,394.6 662.5,394.8 663.0,394.7 663.5,394.8 664.0,395.2 664.5,395.0 665.0,394.8 665.5,394.7 666.0,394.7 666.5,394.8 667.0,395.1 667.5,395.4 668.0,395.3 668.5,394.9 669.0,394.9 669.5,394.9 670.0,394.7 670.5,394.8 671.0,394.9 671.5,394.7 672.0,394.8 672.5,394.9 673.0,394.7 673.5,394.7 674.0,394.9 674.5,394.9 675.0,395.0 675.5,395.2 676.0,395.2 676.5,395.0 677.0,395.0 677.5,394.9 678.0,395.0 678.5,395.3 679.0,395.3 679.5,395.3 680.0,395.3 680.5,395.2 681.0,395.3 681.5,395.2 682.0,395.1 682.5,395.2 683.0,395.1 683.5,395.2 684.0,395.2" fill="none" stroke="#1e22e0" stroke-width="1.15" stroke-linejoin="round"/>
<polyline points="472.0,421.2 472.5,421.3 473.0,421.2 473.5,420.9 474.0,420.9 474.5,420.8 475.0,420.6 475.5,420.7 476.0,421.0 476.5,420.9 477.0,420.7 477.5,420.9 478.0,421.1 478.5,421.0 479.0,420.9 479.5,421.0 480.0,420.9 480.5,421.2 481.0,421.2 481.5,420.8 482.0,420.9 482.5,421.1 483.0,421.0 483.5,420.9 484.0,420.8 484.5,420.8 485.0,421.0 485.5,421.1 486.0,420.9 486.5,420.8 487.0,420.9 487.5,421.0 488.0,421.1 488.5,421.1 489.0,420.9 489.5,420.5 490.0,420.5 490.5,421.0 491.0,421.2 491.5,420.8 492.0,420.7 492.5,421.0 493.0,421.2 493.5,421.1 494.0,421.0 494.5,420.7 495.0,420.5 495.5,420.3 496.0,420.1 496.5,420.1 497.0,419.9 497.5,419.5 498.0,419.1 498.5,418.7 499.0,418.3 499.5,417.8 500.0,417.2 500.5,417.1 501.0,417.3 501.5,417.1 502.0,416.8 502.5,416.8 503.0,417.2 503.5,417.3 504.0,417.3 504.5,417.5 505.0,417.9 505.5,418.3 506.0,418.3 506.5,418.3 507.0,418.8 507.5,419.5 508.0,419.7 508.5,419.8 509.0,420.1 509.5,420.4 510.0,420.4 510.5,420.3 511.0,420.5 511.5,420.9 512.0,421.0 512.5,421.2 513.0,421.4 513.5,421.2 514.0,421.0 514.5,420.9 515.0,420.9 515.5,420.9 516.0,420.6 516.5,420.6 517.0,421.1 517.5,421.2 518.0,421.1 518.5,421.0 519.0,420.9 519.5,421.0 520.0,420.8 520.5,420.5 521.0,420.5 521.5,420.3 522.0,420.5 522.5,420.7 523.0,420.5 523.5,420.2 524.0,419.9 524.5,419.7 525.0,419.6 525.5,419.4 526.0,419.0 526.5,418.8 527.0,418.7 527.5,418.4 528.0,418.4 528.5,418.5 529.0,418.2 529.5,417.9 530.0,417.9 530.5,418.0 531.0,418.0 531.5,417.9 532.0,418.1 532.5,418.2 533.0,417.8 533.5,417.5 534.0,417.7 534.5,418.0 535.0,417.9 535.5,417.9 536.0,418.2 536.5,418.4 537.0,418.2 537.5,418.2 538.0,418.5 538.5,418.8 539.0,419.0 539.5,418.8 540.0,418.6 540.5,418.8 541.0,418.9 541.5,418.9 542.0,418.8 542.5,418.7 543.0,418.5 543.5,417.1 544.0,413.4 544.5,407.8 545.0,404.8 545.5,406.7 546.0,409.4 546.5,407.9 547.0,404.5 547.5,405.3 548.0,409.9 548.5,413.6 549.0,415.0 549.5,415.0 550.0,414.2 550.5,412.8 551.0,410.3 551.5,405.7 552.0,400.3 552.5,397.2 553.0,398.6 553.5,403.5 554.0,409.0 554.5,412.9 555.0,414.8 555.5,415.4 556.0,415.6 556.5,415.3 557.0,414.2 557.5,413.0 558.0,412.7 558.5,413.6 559.0,415.7 559.5,417.6 560.0,418.8 560.5,419.4 561.0,419.7 561.5,420.2 562.0,420.5 562.5,420.6 563.0,420.9 563.5,421.3 564.0,421.2 564.5,420.9 565.0,420.8 565.5,421.1 566.0,421.3 566.5,421.6 567.0,422.0 567.5,422.0 568.0,421.8 568.5,421.9 569.0,421.9 569.5,418.5 570.0,405.7 570.5,418.5 571.0,421.6 571.5,421.4 572.0,421.4 572.5,421.5 573.0,421.5 573.5,421.6 574.0,421.7 574.5,422.0 575.0,421.8 575.5,421.6 576.0,421.7 576.5,421.8 577.0,421.9 577.5,421.8 578.0,421.7 578.5,421.7 579.0,421.6 579.5,421.7 580.0,421.7 580.5,421.7 581.0,421.6 581.5,421.5 582.0,421.5 582.5,421.5 583.0,421.7 583.5,421.9 584.0,421.8 584.5,421.9 585.0,422.1 585.5,421.9 586.0,421.6 586.5,421.7 587.0,421.8 587.5,421.8 588.0,421.7 588.5,421.6 589.0,421.6 589.5,421.7 590.0,421.8 590.5,421.6 591.0,421.5 591.5,421.6 592.0,421.4 592.5,421.5 593.0,421.6 593.5,421.5 594.0,421.6 594.5,421.6 595.0,421.5 595.5,421.7 596.0,421.8 596.5,421.6 597.0,421.7 597.5,421.9 598.0,421.9 598.5,421.7 599.0,421.5 599.5,421.4 600.0,421.6 600.5,421.8 601.0,421.9 601.5,422.0 602.0,422.0 602.5,421.8 603.0,421.6 603.5,421.8 604.0,421.9 604.5,421.6 605.0,421.6 605.5,421.9 606.0,422.0 606.5,422.3 607.0,422.3 607.5,421.9 608.0,421.7 608.5,421.7 609.0,421.7 609.5,421.8 610.0,421.8 610.5,421.8 611.0,422.0 611.5,422.2 612.0,422.1 612.5,421.7 613.0,421.5 613.5,421.9 614.0,422.1 614.5,421.8 615.0,421.7 615.5,421.8 616.0,421.8 616.5,421.8 617.0,421.6 617.5,421.5 618.0,421.6 618.5,421.5 619.0,421.7 619.5,421.8 620.0,421.7 620.5,421.8 621.0,421.9 621.5,421.9 622.0,421.9 622.5,421.7 623.0,421.5 623.5,421.4 624.0,421.5 624.5,421.8 625.0,422.2 625.5,422.1 626.0,421.8 626.5,421.9 627.0,421.9 627.5,421.8 628.0,422.0 628.5,422.0 629.0,421.8 629.5,421.8 630.0,421.8 630.5,421.7 631.0,421.8 631.5,421.8 632.0,421.7 632.5,421.7 633.0,421.9 633.5,422.1 634.0,421.9 634.5,421.8 635.0,422.0 635.5,422.0 636.0,422.1 636.5,422.1 637.0,421.8 637.5,421.7 638.0,421.7 638.5,421.9 639.0,422.3 639.5,422.1 640.0,421.7 640.5,421.8 641.0,422.0 641.5,422.1 642.0,422.0 642.5,421.9 643.0,422.0 643.5,422.0 644.0,421.9 644.5,421.9 645.0,421.9 645.5,421.9 646.0,421.8 646.5,421.8 647.0,421.9 647.5,421.9 648.0,421.9 648.5,421.7 649.0,421.7 649.5,421.8 650.0,421.9 650.5,421.9 651.0,422.0 651.5,421.9 652.0,421.7 652.5,421.8 653.0,421.8 653.5,421.8 654.0,422.0 654.5,422.2 655.0,422.4 655.5,422.4 656.0,422.1 656.5,421.9 657.0,421.9 657.5,422.2 658.0,422.4 658.5,422.1 659.0,421.9 659.5,422.0 660.0,422.1 660.5,422.0 661.0,421.6 661.5,421.4 662.0,421.8 662.5,422.2 663.0,421.9 663.5,421.6 664.0,421.6 664.5,421.9 665.0,422.2 665.5,422.1 666.0,421.9 666.5,422.0 667.0,422.0 667.5,422.1 668.0,422.0 668.5,421.9 669.0,421.9 669.5,422.0 670.0,422.2 670.5,422.1 671.0,421.7 671.5,421.8 672.0,422.3 672.5,422.4 673.0,422.1 673.5,422.3 674.0,422.2 674.5,422.0 675.0,422.0 675.5,422.1 676.0,422.3 676.5,422.1 677.0,421.9 677.5,422.4 678.0,422.3 678.5,421.9 679.0,421.8 679.5,421.9 680.0,422.0 680.5,422.2 681.0,422.1 681.5,421.9 682.0,422.0 682.5,422.2 683.0,422.4 683.5,422.4 684.0,422.2" fill="none" stroke="#1a1a1a" stroke-width="1.15" stroke-linejoin="round"/>
<text font-weight="bold" x="473.0" y="241.4" font-size="13">e</text>
<text x="566.0" y="241.8">MX<tspan font-size="7.5" dy="-3.4">−</tspan><tspan font-size="7.5" dx="-4.6" dy="7.4">1</tspan></text>
</svg>
</body></html>
